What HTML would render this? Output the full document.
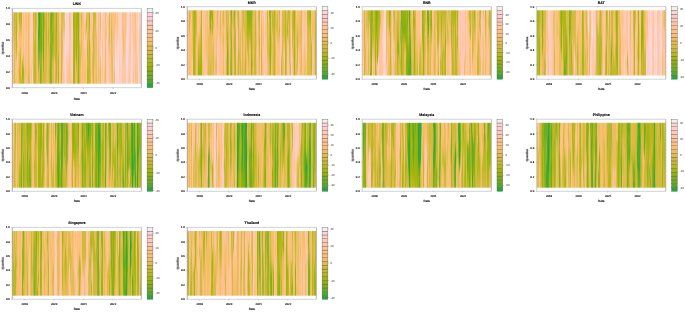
<!DOCTYPE html>
<html><head><meta charset="utf-8"><style>
html,body{margin:0;padding:0;background:#fff;width:685px;height:312px;overflow:hidden}
svg{position:absolute;left:0;top:0}
text{font-family:"Liberation Sans",Arial,sans-serif;fill:#111;stroke:#111;stroke-width:0.14px;filter:url(#tb)}
.t{font-size:2.8px}
.l{font-size:3px}
.k{font-size:2.9px;fill:#666;stroke:#666;stroke-width:0.06px}
.m{font-size:3.55px;font-weight:bold}
</style></head><body>
<svg width="685" height="312" viewBox="0 0 685 312" text-rendering="geometricPrecision">
<defs><filter id="tb" x="-20%" y="-50%" width="140%" height="200%"><feGaussianBlur stdDeviation="0.33"/></filter><filter id="hb" x="-5%" y="-10%" width="110%" height="120%"><feGaussianBlur stdDeviation="0.55 2"/></filter></defs>
<clipPath id="cLINK"><rect x="12.3" y="12.37" width="129.1" height="71.37"/></clipPath>
<g clip-path="url(#cLINK)"><g filter="url(#hb)">
<linearGradient id="gLINK0" x1="0" y1="0" x2="0" y2="1"><stop offset="6.25%" stop-color="#DFBB4B"/><stop offset="18.75%" stop-color="#E3BB51"/><stop offset="31.25%" stop-color="#ECBD5C"/><stop offset="43.75%" stop-color="#FCBF72"/><stop offset="56.25%" stop-color="#FFC391"/><stop offset="68.75%" stop-color="#FFC497"/><stop offset="81.25%" stop-color="#FFC181"/><stop offset="93.75%" stop-color="#FDC077"/></linearGradient>
<rect x="9.3" y="9.37" width="8.02" height="77.37" fill="url(#gLINK0)"/>
<linearGradient id="gLINK1" x1="0" y1="0" x2="0" y2="1"><stop offset="6.25%" stop-color="#B8B61E"/><stop offset="18.75%" stop-color="#CCB934"/><stop offset="31.25%" stop-color="#EFBD61"/><stop offset="43.75%" stop-color="#FDC077"/><stop offset="56.25%" stop-color="#FDC077"/><stop offset="68.75%" stop-color="#FCBF72"/><stop offset="81.25%" stop-color="#F4BE67"/><stop offset="93.75%" stop-color="#F0BD62"/></linearGradient>
<rect x="17.27" y="9.37" width="5.02" height="77.37" fill="url(#gLINK1)"/>
<linearGradient id="gLINK2" x1="0" y1="0" x2="0" y2="1"><stop offset="6.25%" stop-color="#FDC077"/><stop offset="18.75%" stop-color="#FDC077"/><stop offset="31.25%" stop-color="#FDC077"/><stop offset="43.75%" stop-color="#FDC077"/><stop offset="56.25%" stop-color="#FDC077"/><stop offset="68.75%" stop-color="#F8BE6C"/><stop offset="81.25%" stop-color="#E7BC56"/><stop offset="93.75%" stop-color="#DFBB4B"/></linearGradient>
<rect x="22.23" y="9.37" width="5.02" height="77.37" fill="url(#gLINK2)"/>
<linearGradient id="gLINK3" x1="0" y1="0" x2="0" y2="1"><stop offset="6.25%" stop-color="#FDC077"/><stop offset="18.75%" stop-color="#FEC07C"/><stop offset="31.25%" stop-color="#FFC287"/><stop offset="43.75%" stop-color="#FFC28C"/><stop offset="56.25%" stop-color="#FFC28C"/><stop offset="68.75%" stop-color="#FEC07C"/><stop offset="81.25%" stop-color="#ECBD5C"/><stop offset="93.75%" stop-color="#DFBB4B"/></linearGradient>
<rect x="27.2" y="9.37" width="5.02" height="77.37" fill="url(#gLINK3)"/>
<linearGradient id="gLINK4" x1="0" y1="0" x2="0" y2="1"><stop offset="6.25%" stop-color="#FDC077"/><stop offset="18.75%" stop-color="#FDC077"/><stop offset="31.25%" stop-color="#FDC077"/><stop offset="43.75%" stop-color="#FCBF72"/><stop offset="56.25%" stop-color="#F4BE67"/><stop offset="68.75%" stop-color="#ECBD5C"/><stop offset="81.25%" stop-color="#E3BB51"/><stop offset="93.75%" stop-color="#DFBB4B"/></linearGradient>
<rect x="32.16" y="9.37" width="5.02" height="77.37" fill="url(#gLINK4)"/>
<linearGradient id="gLINK5" x1="0" y1="0" x2="0" y2="1"><stop offset="6.25%" stop-color="#A2B40A"/><stop offset="18.75%" stop-color="#9DB308"/><stop offset="31.25%" stop-color="#92B106"/><stop offset="43.75%" stop-color="#9DB308"/><stop offset="56.25%" stop-color="#BDB724"/><stop offset="68.75%" stop-color="#D1BA3B"/><stop offset="81.25%" stop-color="#DABB46"/><stop offset="93.75%" stop-color="#DFBB4B"/></linearGradient>
<rect x="37.13" y="9.37" width="5.02" height="77.37" fill="url(#gLINK5)"/>
<linearGradient id="gLINK6" x1="0" y1="0" x2="0" y2="1"><stop offset="6.25%" stop-color="#A2B40A"/><stop offset="18.75%" stop-color="#A2B40A"/><stop offset="31.25%" stop-color="#A2B40A"/><stop offset="43.75%" stop-color="#ADB514"/><stop offset="56.25%" stop-color="#C2B829"/><stop offset="68.75%" stop-color="#CCB935"/><stop offset="81.25%" stop-color="#CCB935"/><stop offset="93.75%" stop-color="#CCB935"/></linearGradient>
<rect x="42.09" y="9.37" width="5.02" height="77.37" fill="url(#gLINK6)"/>
<linearGradient id="gLINK7" x1="0" y1="0" x2="0" y2="1"><stop offset="6.25%" stop-color="#B8B61E"/><stop offset="18.75%" stop-color="#B8B61E"/><stop offset="31.25%" stop-color="#B8B61E"/><stop offset="43.75%" stop-color="#BDB724"/><stop offset="56.25%" stop-color="#C7B82F"/><stop offset="68.75%" stop-color="#CCB935"/><stop offset="81.25%" stop-color="#CCB935"/><stop offset="93.75%" stop-color="#CCB935"/></linearGradient>
<rect x="47.06" y="9.37" width="5.02" height="77.37" fill="url(#gLINK7)"/>
<linearGradient id="gLINK8" x1="0" y1="0" x2="0" y2="1"><stop offset="6.25%" stop-color="#CCB935"/><stop offset="18.75%" stop-color="#CCB935"/><stop offset="31.25%" stop-color="#CCB935"/><stop offset="43.75%" stop-color="#CCB935"/><stop offset="56.25%" stop-color="#CCB935"/><stop offset="68.75%" stop-color="#D1BA3B"/><stop offset="81.25%" stop-color="#DABB46"/><stop offset="93.75%" stop-color="#DFBB4B"/></linearGradient>
<rect x="52.02" y="9.37" width="5.02" height="77.37" fill="url(#gLINK8)"/>
<linearGradient id="gLINK9" x1="0" y1="0" x2="0" y2="1"><stop offset="6.25%" stop-color="#DFBB4B"/><stop offset="18.75%" stop-color="#DFBB4B"/><stop offset="31.25%" stop-color="#DFBB4B"/><stop offset="43.75%" stop-color="#DFBB4B"/><stop offset="56.25%" stop-color="#DFBB4B"/><stop offset="68.75%" stop-color="#E3BB51"/><stop offset="81.25%" stop-color="#ECBD5C"/><stop offset="93.75%" stop-color="#F0BD62"/></linearGradient>
<rect x="56.99" y="9.37" width="5.02" height="77.37" fill="url(#gLINK9)"/>
<linearGradient id="gLINK10" x1="0" y1="0" x2="0" y2="1"><stop offset="6.25%" stop-color="#FFC5A2"/><stop offset="18.75%" stop-color="#FFC5A2"/><stop offset="31.25%" stop-color="#FFC5A2"/><stop offset="43.75%" stop-color="#FFC6A7"/><stop offset="56.25%" stop-color="#FFC8B1"/><stop offset="68.75%" stop-color="#FFC8B1"/><stop offset="81.25%" stop-color="#FFC6A7"/><stop offset="93.75%" stop-color="#FFC5A2"/></linearGradient>
<rect x="61.95" y="9.37" width="5.02" height="77.37" fill="url(#gLINK10)"/>
<linearGradient id="gLINK11" x1="0" y1="0" x2="0" y2="1"><stop offset="6.25%" stop-color="#FFC9B6"/><stop offset="18.75%" stop-color="#FFCABB"/><stop offset="31.25%" stop-color="#FFCCC4"/><stop offset="43.75%" stop-color="#FFCCC4"/><stop offset="56.25%" stop-color="#FFCABB"/><stop offset="68.75%" stop-color="#FFC7AC"/><stop offset="81.25%" stop-color="#FFC497"/><stop offset="93.75%" stop-color="#FFC28C"/></linearGradient>
<rect x="66.92" y="9.37" width="5.02" height="77.37" fill="url(#gLINK11)"/>
<linearGradient id="gLINK12" x1="0" y1="0" x2="0" y2="1"><stop offset="6.25%" stop-color="#B8B61E"/><stop offset="18.75%" stop-color="#BDB724"/><stop offset="31.25%" stop-color="#C7B82F"/><stop offset="43.75%" stop-color="#D6BA40"/><stop offset="56.25%" stop-color="#E7BC56"/><stop offset="68.75%" stop-color="#F0BD62"/><stop offset="81.25%" stop-color="#F0BD62"/><stop offset="93.75%" stop-color="#F0BD62"/></linearGradient>
<rect x="71.88" y="9.37" width="5.02" height="77.37" fill="url(#gLINK12)"/>
<linearGradient id="gLINK13" x1="0" y1="0" x2="0" y2="1"><stop offset="6.25%" stop-color="#A2B40A"/><stop offset="18.75%" stop-color="#ADB514"/><stop offset="31.25%" stop-color="#C2B829"/><stop offset="43.75%" stop-color="#D1BA3B"/><stop offset="56.25%" stop-color="#DABB46"/><stop offset="68.75%" stop-color="#DABB46"/><stop offset="81.25%" stop-color="#D1BA3B"/><stop offset="93.75%" stop-color="#CCB935"/></linearGradient>
<rect x="76.85" y="9.37" width="5.02" height="77.37" fill="url(#gLINK13)"/>
<linearGradient id="gLINK14" x1="0" y1="0" x2="0" y2="1"><stop offset="6.25%" stop-color="#FDC077"/><stop offset="18.75%" stop-color="#FDC077"/><stop offset="31.25%" stop-color="#FDC077"/><stop offset="43.75%" stop-color="#FDC077"/><stop offset="56.25%" stop-color="#FDC077"/><stop offset="68.75%" stop-color="#FDC077"/><stop offset="81.25%" stop-color="#FDC077"/><stop offset="93.75%" stop-color="#FDC077"/></linearGradient>
<rect x="81.82" y="9.37" width="5.02" height="77.37" fill="url(#gLINK14)"/>
<linearGradient id="gLINK15" x1="0" y1="0" x2="0" y2="1"><stop offset="6.25%" stop-color="#F0BD62"/><stop offset="18.75%" stop-color="#F4BE67"/><stop offset="31.25%" stop-color="#FCBF72"/><stop offset="43.75%" stop-color="#FCBF72"/><stop offset="56.25%" stop-color="#F4BE67"/><stop offset="68.75%" stop-color="#ECBD5C"/><stop offset="81.25%" stop-color="#E3BB51"/><stop offset="93.75%" stop-color="#DFBB4B"/></linearGradient>
<rect x="86.78" y="9.37" width="5.02" height="77.37" fill="url(#gLINK15)"/>
<linearGradient id="gLINK16" x1="0" y1="0" x2="0" y2="1"><stop offset="6.25%" stop-color="#CCB935"/><stop offset="18.75%" stop-color="#DEBB4A"/><stop offset="31.25%" stop-color="#FDC076"/><stop offset="43.75%" stop-color="#FFC287"/><stop offset="56.25%" stop-color="#FEC07C"/><stop offset="68.75%" stop-color="#FDC077"/><stop offset="81.25%" stop-color="#FDC077"/><stop offset="93.75%" stop-color="#FDC077"/></linearGradient>
<rect x="91.75" y="9.37" width="5.02" height="77.37" fill="url(#gLINK16)"/>
<linearGradient id="gLINK17" x1="0" y1="0" x2="0" y2="1"><stop offset="6.25%" stop-color="#FFC5A2"/><stop offset="18.75%" stop-color="#FFC5A2"/><stop offset="31.25%" stop-color="#FFC5A2"/><stop offset="43.75%" stop-color="#FFC5A2"/><stop offset="56.25%" stop-color="#FFC5A2"/><stop offset="68.75%" stop-color="#FFC59C"/><stop offset="81.25%" stop-color="#FFC391"/><stop offset="93.75%" stop-color="#FFC28C"/></linearGradient>
<rect x="96.71" y="9.37" width="5.02" height="77.37" fill="url(#gLINK17)"/>
<linearGradient id="gLINK18" x1="0" y1="0" x2="0" y2="1"><stop offset="6.25%" stop-color="#FFC28C"/><stop offset="18.75%" stop-color="#FFC28C"/><stop offset="31.25%" stop-color="#FFC28C"/><stop offset="43.75%" stop-color="#FFC28C"/><stop offset="56.25%" stop-color="#FFC28C"/><stop offset="68.75%" stop-color="#FFC287"/><stop offset="81.25%" stop-color="#FEC07C"/><stop offset="93.75%" stop-color="#FDC077"/></linearGradient>
<rect x="101.68" y="9.37" width="5.02" height="77.37" fill="url(#gLINK18)"/>
<linearGradient id="gLINK19" x1="0" y1="0" x2="0" y2="1"><stop offset="6.25%" stop-color="#FFC9B6"/><stop offset="18.75%" stop-color="#FFC7AC"/><stop offset="31.25%" stop-color="#FFC497"/><stop offset="43.75%" stop-color="#FFC28C"/><stop offset="56.25%" stop-color="#FFC28C"/><stop offset="68.75%" stop-color="#FFC28C"/><stop offset="81.25%" stop-color="#FFC28C"/><stop offset="93.75%" stop-color="#FFC28C"/></linearGradient>
<rect x="106.64" y="9.37" width="5.02" height="77.37" fill="url(#gLINK19)"/>
<linearGradient id="gLINK20" x1="0" y1="0" x2="0" y2="1"><stop offset="6.25%" stop-color="#FDC077"/><stop offset="18.75%" stop-color="#FDC077"/><stop offset="31.25%" stop-color="#FDC077"/><stop offset="43.75%" stop-color="#FFC287"/><stop offset="56.25%" stop-color="#FFC6A7"/><stop offset="68.75%" stop-color="#FFC8B1"/><stop offset="81.25%" stop-color="#FFC6A7"/><stop offset="93.75%" stop-color="#FFC5A2"/></linearGradient>
<rect x="111.61" y="9.37" width="5.02" height="77.37" fill="url(#gLINK20)"/>
<linearGradient id="gLINK21" x1="0" y1="0" x2="0" y2="1"><stop offset="6.25%" stop-color="#FFC28C"/><stop offset="18.75%" stop-color="#FFC28C"/><stop offset="31.25%" stop-color="#FFC28C"/><stop offset="43.75%" stop-color="#FFC391"/><stop offset="56.25%" stop-color="#FFC59C"/><stop offset="68.75%" stop-color="#FFC59C"/><stop offset="81.25%" stop-color="#FFC391"/><stop offset="93.75%" stop-color="#FFC28C"/></linearGradient>
<rect x="116.57" y="9.37" width="5.02" height="77.37" fill="url(#gLINK21)"/>
<linearGradient id="gLINK22" x1="0" y1="0" x2="0" y2="1"><stop offset="6.25%" stop-color="#FFC5A2"/><stop offset="18.75%" stop-color="#FFC6A7"/><stop offset="31.25%" stop-color="#FFC8B1"/><stop offset="43.75%" stop-color="#FFC9B6"/><stop offset="56.25%" stop-color="#FFC9B6"/><stop offset="68.75%" stop-color="#FFC8B1"/><stop offset="81.25%" stop-color="#FFC6A7"/><stop offset="93.75%" stop-color="#FFC5A2"/></linearGradient>
<rect x="121.54" y="9.37" width="5.02" height="77.37" fill="url(#gLINK22)"/>
<linearGradient id="gLINK23" x1="0" y1="0" x2="0" y2="1"><stop offset="6.25%" stop-color="#FFCDC9"/><stop offset="18.75%" stop-color="#FFCDC9"/><stop offset="31.25%" stop-color="#FFCDC9"/><stop offset="43.75%" stop-color="#FFCDC9"/><stop offset="56.25%" stop-color="#FFCDC9"/><stop offset="68.75%" stop-color="#FFCCC4"/><stop offset="81.25%" stop-color="#FFCABB"/><stop offset="93.75%" stop-color="#FFC9B6"/></linearGradient>
<rect x="126.5" y="9.37" width="5.02" height="77.37" fill="url(#gLINK23)"/>
<linearGradient id="gLINK24" x1="0" y1="0" x2="0" y2="1"><stop offset="6.25%" stop-color="#FFC5A2"/><stop offset="18.75%" stop-color="#FFC5A2"/><stop offset="31.25%" stop-color="#FFC5A2"/><stop offset="43.75%" stop-color="#FFC7AC"/><stop offset="56.25%" stop-color="#FFCBBF"/><stop offset="68.75%" stop-color="#FFCDC9"/><stop offset="81.25%" stop-color="#FFCDC9"/><stop offset="93.75%" stop-color="#FFCDC9"/></linearGradient>
<rect x="131.47" y="9.37" width="5.02" height="77.37" fill="url(#gLINK24)"/>
<linearGradient id="gLINK25" x1="0" y1="0" x2="0" y2="1"><stop offset="6.25%" stop-color="#FFC28C"/><stop offset="18.75%" stop-color="#FFC28C"/><stop offset="31.25%" stop-color="#FFC28C"/><stop offset="43.75%" stop-color="#FFC391"/><stop offset="56.25%" stop-color="#FFC59C"/><stop offset="68.75%" stop-color="#FFC5A2"/><stop offset="81.25%" stop-color="#FFC5A2"/><stop offset="93.75%" stop-color="#FFC5A2"/></linearGradient>
<rect x="136.43" y="9.37" width="7.97" height="77.37" fill="url(#gLINK25)"/>
<path d="M12.0 9.4L12.1 18.2L11.8 24.0L11.6 29.8L12.1 35.6L12.4 41.4L12.2 47.2L12.2 47.2L12.7 41.4L12.9 35.6L12.8 29.8L13.1 24.0L13.2 18.2L13.4 9.4Z" fill="#FFC7AA" fill-opacity="0.92"/>
<path d="M14.2 9.4L14.2 24.3L14.2 36.2L14.4 48.1L14.3 59.9L14.0 71.8L13.9 86.7L14.8 86.7L14.7 71.8L15.1 59.9L15.4 48.1L15.1 36.2L15.3 24.3L15.1 9.4Z" fill="#C9B931" fill-opacity="0.92"/>
<path d="M15.6 9.4L15.8 21.0L15.8 29.5L15.7 38.1L15.9 46.7L16.0 55.3L15.9 63.9L16.0 63.9L16.6 55.3L17.2 46.7L16.9 38.1L17.3 29.5L16.7 21.0L16.7 9.4Z" fill="#B1B617" fill-opacity="0.92"/>
<path d="M17.4 9.4L17.8 19.0L17.8 25.7L17.6 32.3L17.6 39.0L18.0 45.6L18.6 52.3L18.6 52.3L18.6 45.6L18.5 39.0L18.8 32.3L19.0 25.7L18.6 19.0L18.6 9.4Z" fill="#FFC7AC" fill-opacity="0.92"/>
<path d="M20.0 44.6L19.9 51.1L19.6 57.7L19.5 64.2L19.1 70.7L19.3 77.2L19.6 86.7L20.5 86.7L21.0 77.2L20.6 70.7L20.8 64.2L21.0 57.7L20.6 51.1L20.1 44.6Z" fill="#B7B61D" fill-opacity="0.92"/>
<path d="M22.3 61.5L22.3 65.2L22.0 68.9L21.9 72.6L21.7 76.3L21.4 80.0L21.7 86.7L22.4 86.7L22.5 80.0L22.8 76.3L23.0 72.6L22.9 68.9L22.7 65.2L22.3 61.5Z" fill="#ADB513" fill-opacity="0.92"/>
<path d="M23.1 54.4L22.7 59.3L22.3 64.2L22.3 69.1L22.6 74.0L22.6 78.8L22.6 86.7L23.3 86.7L23.7 78.8L23.9 74.0L23.8 69.1L23.2 64.2L23.3 59.3L23.2 54.4Z" fill="#96B207" fill-opacity="0.92"/>
<path d="M24.3 9.4L24.3 24.3L24.5 36.2L24.2 48.1L24.3 59.9L24.6 71.8L24.6 86.7L25.6 86.7L25.2 71.8L24.9 59.9L25.1 48.1L25.5 36.2L25.2 24.3L25.1 9.4Z" fill="#FFCABE" fill-opacity="0.92"/>
<path d="M26.7 49.6L26.6 55.3L25.9 61.0L26.2 66.7L26.4 72.4L25.6 78.1L25.7 86.7L27.8 86.7L28.0 78.1L27.6 72.4L27.9 66.7L28.0 61.0L27.1 55.3L26.8 49.6Z" fill="#FFC390" fill-opacity="0.92"/>
<path d="M28.2 9.4L28.4 24.3L28.0 36.2L28.2 48.1L28.0 59.9L27.9 71.8L27.8 86.7L28.6 86.7L28.5 71.8L28.7 59.9L29.1 48.1L28.7 36.2L29.0 24.3L28.7 9.4Z" fill="#DDBB49" fill-opacity="0.92"/>
<path d="M29.8 9.4L30.0 24.3L30.2 36.2L30.6 48.1L30.3 59.9L30.3 71.8L30.2 86.7L31.2 86.7L30.8 71.8L30.9 59.9L31.1 48.1L31.0 36.2L30.7 24.3L30.4 9.4Z" fill="#FBDBE0" fill-opacity="0.92"/>
<path d="M30.6 9.4L31.3 24.3L31.3 36.2L31.5 48.1L31.5 59.9L31.6 71.8L31.4 86.7L33.4 86.7L32.9 71.8L32.4 59.9L32.5 48.1L32.6 36.2L32.6 24.3L32.7 9.4Z" fill="#FFD1D5" fill-opacity="0.92"/>
<path d="M33.0 9.4L33.4 24.3L33.4 36.2L33.5 48.1L33.7 59.9L33.7 71.8L33.8 86.7L35.3 86.7L35.1 71.8L34.7 59.9L34.9 48.1L34.4 36.2L34.3 24.3L34.4 9.4Z" fill="#B4B61A" fill-opacity="0.92"/>
<path d="M34.7 9.4L34.8 24.3L35.2 36.2L34.6 48.1L35.2 59.9L35.2 71.8L35.8 86.7L37.1 86.7L37.0 71.8L36.3 59.9L36.5 48.1L36.2 36.2L36.7 24.3L36.5 9.4Z" fill="#B9B71F" fill-opacity="0.92"/>
<path d="M36.9 9.4L37.1 24.3L36.8 36.2L36.5 48.1L36.6 59.9L36.4 71.8L36.4 86.7L37.6 86.7L37.7 71.8L37.6 59.9L37.7 48.1L38.1 36.2L38.2 24.3L37.8 9.4Z" fill="#FFC185" fill-opacity="0.92"/>
<path d="M38.1 9.4L38.7 22.3L38.2 32.2L38.4 42.2L38.5 52.1L38.6 62.1L38.7 72.0L38.8 72.0L39.3 62.1L39.5 52.1L39.5 42.2L39.8 32.2L40.0 22.3L40.0 9.4Z" fill="#2CA638" fill-opacity="0.92"/>
<path d="M40.1 9.4L40.1 24.3L40.3 36.2L40.3 48.1L40.5 59.9L40.1 71.8L40.3 86.7L41.5 86.7L41.6 71.8L41.4 59.9L42.0 48.1L41.8 36.2L41.7 24.3L41.5 9.4Z" fill="#6AAC1F" fill-opacity="0.92"/>
<path d="M42.8 9.4L43.0 22.3L43.3 32.3L42.8 42.2L42.9 52.2L43.1 62.1L43.5 72.1L43.6 72.1L43.8 62.1L43.9 52.2L44.5 42.2L44.4 32.3L44.1 22.3L44.1 9.4Z" fill="#68AC20" fill-opacity="0.92"/>
<path d="M44.4 9.4L44.7 24.3L44.1 36.2L44.3 48.1L44.1 59.9L44.6 71.8L44.6 86.7L45.6 86.7L45.6 71.8L45.6 59.9L45.9 48.1L45.9 36.2L45.7 24.3L46.2 9.4Z" fill="#E6BC55" fill-opacity="0.92"/>
<path d="M46.6 9.4L46.6 24.3L46.8 36.2L46.9 48.1L46.7 59.9L46.6 71.8L46.1 86.7L48.7 86.7L48.6 71.8L48.7 59.9L48.4 48.1L48.1 36.2L48.5 24.3L48.0 9.4Z" fill="#F4BE67" fill-opacity="0.92"/>
<path d="M49.2 9.4L48.8 21.2L49.2 30.0L49.0 38.8L49.2 47.6L49.1 56.4L49.6 65.2L49.7 65.2L49.7 56.4L49.9 47.6L50.6 38.8L49.9 30.0L50.1 21.2L50.0 9.4Z" fill="#E8BC57" fill-opacity="0.92"/>
<path d="M50.7 9.4L50.5 24.3L50.5 36.2L50.5 48.1L50.5 59.9L50.2 71.8L50.4 86.7L51.7 86.7L51.4 71.8L51.6 59.9L51.7 48.1L51.3 36.2L51.8 24.3L52.0 9.4Z" fill="#58AA28" fill-opacity="0.92"/>
<path d="M52.1 9.4L52.5 20.6L52.5 28.8L51.8 37.0L52.4 45.3L52.5 53.5L52.7 61.7L52.7 61.7L53.1 53.5L53.2 45.3L53.5 37.0L53.4 28.8L53.4 20.6L53.9 9.4Z" fill="#78AE16" fill-opacity="0.92"/>
<path d="M55.0 52.2L54.7 57.5L53.7 62.7L53.9 68.0L53.9 73.2L54.2 78.5L53.6 86.7L55.6 86.7L55.5 78.5L55.4 73.2L56.1 68.0L55.7 62.7L55.1 57.5L55.1 52.2Z" fill="#FFC287" fill-opacity="0.92"/>
<path d="M56.2 9.4L56.0 24.3L55.7 36.2L55.9 48.1L55.6 59.9L55.7 71.8L55.6 86.7L56.1 86.7L56.6 71.8L56.3 59.9L56.6 48.1L56.5 36.2L56.9 24.3L56.8 9.4Z" fill="#8AB00B" fill-opacity="0.92"/>
<path d="M58.3 53.0L58.1 58.1L58.2 63.3L58.4 68.4L58.0 73.5L58.1 78.6L58.0 86.7L59.2 86.7L59.3 78.6L59.5 73.5L59.3 68.4L59.1 63.3L58.8 58.1L58.4 53.0Z" fill="#A0B309" fill-opacity="0.92"/>
<path d="M59.3 9.4L59.0 24.3L59.4 36.2L59.5 48.1L59.1 59.9L59.0 71.8L58.8 86.7L61.6 86.7L61.4 71.8L61.5 59.9L61.5 48.1L61.2 36.2L61.8 24.3L61.4 9.4Z" fill="#FFC392" fill-opacity="0.92"/>
<path d="M61.6 9.4L61.5 24.3L61.2 36.2L61.4 48.1L61.1 59.9L60.9 71.8L60.7 86.7L62.0 86.7L62.2 71.8L62.6 59.9L62.8 48.1L62.6 36.2L62.7 24.3L63.1 9.4Z" fill="#C8B930" fill-opacity="0.92"/>
<path d="M63.1 9.4L63.2 16.4L63.3 20.4L63.4 24.4L63.4 28.4L63.7 32.4L64.2 36.4L64.3 36.4L64.2 32.4L64.6 28.4L64.8 24.4L64.4 20.4L64.3 16.4L64.8 9.4Z" fill="#D2BA3B" fill-opacity="0.92"/>
<path d="M65.1 9.4L65.3 24.3L65.0 36.2L64.6 48.1L64.7 59.9L64.7 71.8L65.0 86.7L66.3 86.7L66.3 71.8L65.8 59.9L66.6 48.1L66.6 36.2L66.7 24.3L66.7 9.4Z" fill="#FBDBE1" fill-opacity="0.92"/>
<path d="M67.4 9.4L67.3 20.7L67.5 29.0L67.6 37.4L67.6 45.7L67.9 54.0L68.4 62.3L68.5 62.3L68.4 54.0L68.8 45.7L69.2 37.4L68.8 29.0L68.5 20.7L68.8 9.4Z" fill="#FBDBE1" fill-opacity="0.92"/>
<path d="M69.4 9.4L69.1 24.3L69.2 36.2L69.6 48.1L69.3 59.9L69.5 71.8L69.2 86.7L70.4 86.7L70.2 71.8L70.4 59.9L70.4 48.1L70.4 36.2L70.3 24.3L70.3 9.4Z" fill="#FCBF74" fill-opacity="0.92"/>
<path d="M71.3 9.4L71.7 24.3L71.5 36.2L71.7 48.1L71.2 59.9L71.4 71.8L71.9 86.7L73.5 86.7L73.7 71.8L73.4 59.9L72.9 48.1L73.3 36.2L73.0 24.3L73.1 9.4Z" fill="#FFD2D9" fill-opacity="0.92"/>
<path d="M73.0 9.4L73.1 24.3L73.4 36.2L73.1 48.1L72.9 59.9L73.0 71.8L72.8 86.7L75.0 86.7L75.1 71.8L75.1 59.9L75.0 48.1L75.1 36.2L75.3 24.3L75.0 9.4Z" fill="#A5B40C" fill-opacity="0.92"/>
<path d="M76.3 9.4L76.2 23.0L76.1 33.6L75.6 44.3L75.6 54.9L76.1 65.6L76.3 76.2L76.4 76.2L76.5 65.6L77.1 54.9L77.5 44.3L77.1 33.6L77.4 23.0L77.3 9.4Z" fill="#9AB208" fill-opacity="0.92"/>
<path d="M78.2 9.4L78.1 24.3L78.2 36.2L78.5 48.1L78.1 59.9L78.2 71.8L78.0 86.7L79.0 86.7L78.8 71.8L79.2 59.9L79.3 48.1L79.2 36.2L78.7 24.3L79.0 9.4Z" fill="#76AE17" fill-opacity="0.92"/>
<path d="M79.4 9.4L79.2 19.3L79.5 26.2L79.3 33.1L79.3 40.0L80.1 46.9L80.4 53.8L80.5 53.8L80.6 46.9L81.2 40.0L81.5 33.1L81.4 26.2L81.0 19.3L81.3 9.4Z" fill="#FFC181" fill-opacity="0.92"/>
<path d="M81.8 55.5L81.3 60.2L80.8 64.9L80.2 69.6L80.4 74.3L80.3 79.0L80.3 86.7L82.2 86.7L82.3 79.0L81.8 74.3L82.4 69.6L82.0 64.9L82.0 60.2L81.9 55.5Z" fill="#FFC28A" fill-opacity="0.92"/>
<path d="M83.6 9.4L83.9 20.5L84.6 28.7L83.9 36.9L83.8 45.1L84.7 53.3L85.0 61.5L85.2 61.5L85.8 53.3L86.1 45.1L86.5 36.9L86.0 28.7L86.1 20.5L86.0 9.4Z" fill="#FFCABC" fill-opacity="0.92"/>
<path d="M86.5 9.4L86.5 17.0L85.9 21.6L85.7 26.2L85.5 30.8L85.6 35.4L85.6 40.0L85.7 40.0L85.9 35.4L86.6 30.8L87.1 26.2L87.1 21.6L87.2 17.0L87.4 9.4Z" fill="#BEB725" fill-opacity="0.92"/>
<path d="M88.2 22.8L87.9 32.9L87.4 43.1L87.1 53.3L87.6 63.4L87.1 73.6L87.5 86.7L88.5 86.7L88.2 73.6L88.1 63.4L88.1 53.3L88.1 43.1L88.2 32.9L88.3 22.8Z" fill="#AFB516" fill-opacity="0.92"/>
<path d="M88.6 9.4L88.8 24.3L88.6 36.2L88.8 48.1L88.6 59.9L88.6 71.8L88.5 86.7L89.2 86.7L89.7 71.8L89.7 59.9L90.0 48.1L89.9 36.2L90.0 24.3L89.7 9.4Z" fill="#A3B40A" fill-opacity="0.92"/>
<path d="M89.8 9.4L90.1 18.5L90.1 24.6L89.8 30.8L89.5 36.9L90.3 43.0L90.6 49.2L90.6 49.2L90.8 43.0L90.9 36.9L91.2 30.8L91.3 24.6L91.8 18.5L91.5 9.4Z" fill="#FFC59F" fill-opacity="0.92"/>
<path d="M91.8 9.4L91.9 24.3L91.9 36.2L92.1 48.1L91.5 59.9L91.4 71.8L91.4 86.7L92.5 86.7L92.4 71.8L92.9 59.9L93.0 48.1L92.7 36.2L93.0 24.3L93.3 9.4Z" fill="#FFC9BA" fill-opacity="0.92"/>
<path d="M92.8 9.4L93.1 24.3L92.4 36.2L92.7 48.1L92.3 59.9L92.4 71.8L92.9 86.7L93.9 86.7L93.9 71.8L94.5 59.9L94.6 48.1L94.6 36.2L94.4 24.3L94.7 9.4Z" fill="#C8B930" fill-opacity="0.92"/>
<path d="M95.7 9.4L95.6 24.3L95.5 36.2L95.6 48.1L95.7 59.9L95.9 71.8L95.8 86.7L96.8 86.7L96.6 71.8L96.5 59.9L96.6 48.1L96.6 36.2L96.4 24.3L96.5 9.4Z" fill="#CBB934" fill-opacity="0.92"/>
<path d="M96.2 9.4L96.2 16.2L96.3 20.0L96.4 23.8L96.0 27.6L96.4 31.4L96.8 35.3L96.9 35.3L97.4 31.4L98.1 27.6L98.3 23.8L98.1 20.0L98.4 16.2L98.6 9.4Z" fill="#FFC8B2" fill-opacity="0.92"/>
<path d="M98.7 9.4L98.6 24.3L98.6 36.2L98.2 48.1L98.0 59.9L98.0 71.8L98.3 86.7L99.5 86.7L99.3 71.8L98.9 59.9L99.1 48.1L99.3 36.2L99.2 24.3L99.4 9.4Z" fill="#F0BD62" fill-opacity="0.92"/>
<path d="M100.1 9.4L100.3 24.3L100.7 36.2L100.7 48.1L100.4 59.9L100.0 71.8L100.4 86.7L100.9 86.7L100.8 71.8L100.9 59.9L101.2 48.1L101.4 36.2L101.1 24.3L100.7 9.4Z" fill="#D7BA42" fill-opacity="0.92"/>
<path d="M101.3 9.4L101.4 22.3L101.1 32.3L100.9 42.3L100.4 52.2L101.0 62.2L101.6 72.2L101.7 72.2L101.6 62.2L102.0 52.2L102.1 42.3L102.4 32.3L102.7 22.3L103.2 9.4Z" fill="#FFD2DA" fill-opacity="0.92"/>
<path d="M103.4 9.4L103.6 24.3L103.3 36.2L102.8 48.1L102.7 59.9L102.8 71.8L102.1 86.7L104.2 86.7L104.1 71.8L104.8 59.9L105.0 48.1L104.4 36.2L104.8 24.3L104.6 9.4Z" fill="#FFCBBF" fill-opacity="0.92"/>
<path d="M105.2 9.4L105.5 24.3L105.5 36.2L105.2 48.1L105.1 59.9L105.1 71.8L105.5 86.7L106.3 86.7L106.3 71.8L106.5 59.9L106.4 48.1L106.8 36.2L106.3 24.3L106.3 9.4Z" fill="#E7BC56" fill-opacity="0.92"/>
<path d="M107.5 20.0L106.9 30.7L106.1 41.3L106.4 51.9L106.4 62.5L106.6 73.1L106.5 86.7L109.4 86.7L108.9 73.1L108.4 62.5L108.5 51.9L108.6 41.3L107.9 30.7L107.6 20.0Z" fill="#FFCECB" fill-opacity="0.92"/>
<path d="M109.3 9.4L108.6 19.6L108.7 26.8L108.9 34.1L108.6 41.3L108.7 48.6L108.7 55.8L108.8 55.8L109.4 48.6L109.8 41.3L110.1 34.1L110.0 26.8L110.1 19.6L110.0 9.4Z" fill="#D5BA3F" fill-opacity="0.92"/>
<path d="M111.1 9.4L110.8 24.3L111.0 36.2L111.3 48.1L111.3 59.9L111.5 71.8L111.7 86.7L112.3 86.7L112.3 71.8L112.4 59.9L112.0 48.1L112.1 36.2L111.8 24.3L111.7 9.4Z" fill="#D3BA3D" fill-opacity="0.92"/>
<path d="M112.8 29.2L112.6 38.3L112.1 47.4L111.7 56.5L111.6 65.6L112.0 74.6L111.9 86.7L113.4 86.7L113.2 74.6L113.1 65.6L112.9 56.5L112.8 47.4L112.9 38.3L112.9 29.2Z" fill="#EABC5A" fill-opacity="0.92"/>
<path d="M114.1 41.0L113.9 48.1L114.0 55.3L114.1 62.4L114.4 69.5L114.3 76.6L114.4 86.7L114.9 86.7L115.2 76.6L115.1 69.5L114.7 62.4L114.8 55.3L114.2 48.1L114.1 41.0Z" fill="#DEBB4A" fill-opacity="0.92"/>
<path d="M115.7 22.1L115.2 32.4L114.8 42.7L114.8 52.9L114.5 63.2L114.9 73.5L115.0 86.7L116.4 86.7L116.3 73.5L116.7 63.2L116.1 52.9L115.8 42.7L115.9 32.4L115.8 22.1Z" fill="#FBDBE1" fill-opacity="0.92"/>
<path d="M117.6 37.6L117.0 45.3L117.2 53.0L116.8 60.7L116.3 68.4L116.8 76.0L117.0 86.7L117.7 86.7L118.0 76.0L118.0 68.4L117.6 60.7L117.9 53.0L117.6 45.3L117.7 37.6Z" fill="#FBDBE1" fill-opacity="0.92"/>
<path d="M118.3 9.4L118.6 24.3L118.2 36.2L118.0 48.1L118.1 59.9L118.0 71.8L118.2 86.7L119.2 86.7L119.2 71.8L119.5 59.9L119.1 48.1L119.4 36.2L119.7 24.3L119.4 9.4Z" fill="#FBDBE1" fill-opacity="0.92"/>
<path d="M120.0 9.4L119.6 24.3L119.6 36.2L119.2 48.1L119.7 59.9L119.5 71.8L119.2 86.7L121.2 86.7L120.8 71.8L121.1 59.9L121.2 48.1L121.3 36.2L121.8 24.3L121.3 9.4Z" fill="#FFD0D3" fill-opacity="0.92"/>
<path d="M122.2 9.4L122.5 21.4L122.3 30.5L122.6 39.6L123.0 48.7L122.8 57.7L123.1 66.8L123.2 66.8L123.6 57.7L123.9 48.7L124.0 39.6L123.7 30.5L123.4 21.4L123.7 9.4Z" fill="#EEBD5F" fill-opacity="0.92"/>
<path d="M124.5 9.4L124.8 21.0L124.5 29.6L124.5 38.3L124.2 46.9L124.5 55.6L124.7 64.2L124.8 64.2L125.0 55.6L125.4 46.9L125.6 38.3L126.0 29.6L125.8 21.0L126.0 9.4Z" fill="#FABF70" fill-opacity="0.92"/>
<path d="M126.4 9.4L126.4 24.3L126.8 36.2L127.2 48.1L127.3 59.9L127.1 71.8L127.1 86.7L128.5 86.7L127.9 71.8L128.1 59.9L128.2 48.1L128.1 36.2L127.8 24.3L127.2 9.4Z" fill="#FCBF73" fill-opacity="0.92"/>
<path d="M127.5 9.4L127.0 24.3L127.1 36.2L127.0 48.1L126.9 59.9L126.5 71.8L126.7 86.7L127.6 86.7L127.9 71.8L128.0 59.9L128.5 48.1L128.6 36.2L128.6 24.3L128.8 9.4Z" fill="#FBDBE1" fill-opacity="0.92"/>
<path d="M129.8 9.4L129.9 24.3L129.8 36.2L129.3 48.1L129.5 59.9L129.3 71.8L129.1 86.7L129.7 86.7L130.0 71.8L130.5 59.9L130.7 48.1L130.7 36.2L130.8 24.3L131.2 9.4Z" fill="#FFC182" fill-opacity="0.92"/>
<path d="M132.0 27.6L132.2 36.9L131.9 46.3L131.8 55.7L131.6 65.0L131.5 74.4L130.9 86.7L132.1 86.7L132.2 74.4L132.7 65.0L132.6 55.7L132.8 46.3L132.5 36.9L132.1 27.6Z" fill="#FBDBE1" fill-opacity="0.92"/>
<path d="M133.3 33.7L133.5 42.1L133.3 50.4L133.0 58.7L132.8 67.1L133.1 75.4L133.2 86.7L134.0 86.7L134.0 75.4L133.7 67.1L133.7 58.7L133.9 50.4L133.9 42.1L133.4 33.7Z" fill="#FEC07C" fill-opacity="0.92"/>
<path d="M134.6 9.4L134.7 24.3L135.0 36.2L134.7 48.1L135.2 59.9L134.8 71.8L135.3 86.7L136.7 86.7L136.6 71.8L136.5 59.9L136.6 48.1L136.3 36.2L136.1 24.3L135.7 9.4Z" fill="#FDBF75" fill-opacity="0.92"/>
<path d="M136.8 54.5L136.7 59.4L136.9 64.3L137.1 69.1L137.0 74.0L137.0 78.9L136.9 86.7L137.7 86.7L138.1 78.9L138.3 74.0L137.9 69.1L137.4 64.3L137.2 59.4L136.9 54.5Z" fill="#E4BB52" fill-opacity="0.92"/>
<path d="M138.1 9.4L137.2 24.3L137.5 36.2L137.2 48.1L137.5 59.9L137.6 71.8L137.8 86.7L139.6 86.7L139.3 71.8L138.8 59.9L138.8 48.1L138.7 36.2L139.5 24.3L139.3 9.4Z" fill="#FBDBE1" fill-opacity="0.92"/>
<path d="M140.1 9.4L139.9 24.3L140.7 36.2L140.2 48.1L139.9 59.9L140.2 71.8L140.7 86.7L142.6 86.7L142.5 71.8L142.6 59.9L142.8 48.1L142.0 36.2L142.5 24.3L141.8 9.4Z" fill="#FFCECD" fill-opacity="0.92"/>
</g></g>
<path d="M12.3 8.4H141.4M12.3 87.7H141.4" fill="none" stroke="#cdcdcd" stroke-width="0.9"/>
<path d="M141.4 8.4V87.7" fill="none" stroke="#a8a8a8" stroke-width="0.8"/>
<path d="M12.3 8.4V87.7" fill="none" stroke="#9a9a9a" stroke-width="0.8"/>
<path d="M11.3 87.7H12.3" stroke="#888" stroke-width="0.4"/>
<text x="9.8" y="88.6" class="t" text-anchor="end">0.0</text>
<path d="M11.3 71.84H12.3" stroke="#888" stroke-width="0.4"/>
<text x="9.8" y="72.74" class="t" text-anchor="end">0.2</text>
<path d="M11.3 55.98H12.3" stroke="#888" stroke-width="0.4"/>
<text x="9.8" y="56.88" class="t" text-anchor="end">0.4</text>
<path d="M11.3 40.12H12.3" stroke="#888" stroke-width="0.4"/>
<text x="9.8" y="41.02" class="t" text-anchor="end">0.6</text>
<path d="M11.3 24.26H12.3" stroke="#888" stroke-width="0.4"/>
<text x="9.8" y="25.16" class="t" text-anchor="end">0.8</text>
<path d="M11.3 8.4H12.3" stroke="#888" stroke-width="0.4"/>
<text x="9.8" y="9.3" class="t" text-anchor="end">1.0</text>
<path d="M24.3 87.7V88.9" stroke="#888" stroke-width="0.4"/>
<text x="24.6" y="94" class="t" text-anchor="middle">2019</text>
<path d="M53.8 87.7V88.9" stroke="#888" stroke-width="0.4"/>
<text x="54.1" y="94" class="t" text-anchor="middle">2020</text>
<path d="M83.3 87.7V88.9" stroke="#888" stroke-width="0.4"/>
<text x="83.6" y="94" class="t" text-anchor="middle">2021</text>
<path d="M112.8 87.7V88.9" stroke="#888" stroke-width="0.4"/>
<text x="113.1" y="94" class="t" text-anchor="middle">2022</text>
<text x="76.85" y="99.9" class="l" text-anchor="middle">Date</text>
<text transform="translate(3.75,48.05) rotate(-90)" class="l" text-anchor="middle">Quantiles</text>
<text x="76.85" y="4.7" class="m" text-anchor="middle">LINK</text>
<rect x="147.1" y="83.53" width="5.8" height="4.17" fill="#26A63A" stroke="#555" stroke-width="0.35"/>
<rect x="147.1" y="79.35" width="5.8" height="4.17" fill="#4EA92D" stroke="#555" stroke-width="0.35"/>
<rect x="147.1" y="75.18" width="5.8" height="4.17" fill="#68AC20" stroke="#555" stroke-width="0.35"/>
<rect x="147.1" y="71.01" width="5.8" height="4.17" fill="#7EAF12" stroke="#555" stroke-width="0.35"/>
<rect x="147.1" y="66.83" width="5.8" height="4.17" fill="#92B106" stroke="#555" stroke-width="0.35"/>
<rect x="147.1" y="62.66" width="5.8" height="4.17" fill="#A3B40A" stroke="#555" stroke-width="0.35"/>
<rect x="147.1" y="58.48" width="5.8" height="4.17" fill="#B4B61A" stroke="#555" stroke-width="0.35"/>
<rect x="147.1" y="54.31" width="5.8" height="4.17" fill="#C4B82B" stroke="#555" stroke-width="0.35"/>
<rect x="147.1" y="50.14" width="5.8" height="4.17" fill="#D3BA3D" stroke="#555" stroke-width="0.35"/>
<rect x="147.1" y="45.96" width="5.8" height="4.17" fill="#E1BB4E" stroke="#555" stroke-width="0.35"/>
<rect x="147.1" y="41.79" width="5.8" height="4.17" fill="#EFBD60" stroke="#555" stroke-width="0.35"/>
<rect x="147.1" y="37.62" width="5.8" height="4.17" fill="#FCBF72" stroke="#555" stroke-width="0.35"/>
<rect x="147.1" y="33.44" width="5.8" height="4.17" fill="#FFC183" stroke="#555" stroke-width="0.35"/>
<rect x="147.1" y="29.27" width="5.8" height="4.17" fill="#FFC495" stroke="#555" stroke-width="0.35"/>
<rect x="147.1" y="25.09" width="5.8" height="4.17" fill="#FFC6A7" stroke="#555" stroke-width="0.35"/>
<rect x="147.1" y="20.92" width="5.8" height="4.17" fill="#FFC9B8" stroke="#555" stroke-width="0.35"/>
<rect x="147.1" y="16.75" width="5.8" height="4.17" fill="#FFCDC9" stroke="#555" stroke-width="0.35"/>
<rect x="147.1" y="12.57" width="5.8" height="4.17" fill="#FFD2DA" stroke="#555" stroke-width="0.35"/>
<rect x="147.1" y="8.4" width="5.8" height="4.17" fill="#F1F1F1" stroke="#555" stroke-width="0.35"/>
<path d="M152.9 13.3H154" stroke="#888" stroke-width="0.4"/>
<text x="155.5" y="14.3" class="k">40</text>
<path d="M152.9 30.6H154" stroke="#888" stroke-width="0.4"/>
<text x="155.5" y="31.6" class="k">20</text>
<path d="M152.9 47.9H154" stroke="#888" stroke-width="0.4"/>
<text x="155.5" y="48.9" class="k">0</text>
<path d="M152.9 65.3H154" stroke="#888" stroke-width="0.4"/>
<text x="155.5" y="66.3" class="k">-20</text>
<path d="M152.9 82.6H154" stroke="#888" stroke-width="0.4"/>
<text x="155.5" y="83.6" class="k">-40</text>
<clipPath id="cMKR"><rect x="187.3" y="10.32" width="129.1" height="65.25"/></clipPath>
<g clip-path="url(#cMKR)"><g filter="url(#hb)">
<linearGradient id="gMKR0" x1="0" y1="0" x2="0" y2="1"><stop offset="6.25%" stop-color="#FFC186"/><stop offset="18.75%" stop-color="#FFC186"/><stop offset="31.25%" stop-color="#FFC186"/><stop offset="43.75%" stop-color="#FFC180"/><stop offset="56.25%" stop-color="#FDBF76"/><stop offset="68.75%" stop-color="#FBBF71"/><stop offset="81.25%" stop-color="#FBBF71"/><stop offset="93.75%" stop-color="#FBBF71"/></linearGradient>
<rect x="184.3" y="7.32" width="8.02" height="71.25" fill="url(#gMKR0)"/>
<linearGradient id="gMKR1" x1="0" y1="0" x2="0" y2="1"><stop offset="6.25%" stop-color="#B6B61C"/><stop offset="18.75%" stop-color="#BBB721"/><stop offset="31.25%" stop-color="#C5B82C"/><stop offset="43.75%" stop-color="#CEB937"/><stop offset="56.25%" stop-color="#D6BA41"/><stop offset="68.75%" stop-color="#DBBB46"/><stop offset="81.25%" stop-color="#DBBB46"/><stop offset="93.75%" stop-color="#DBBB46"/></linearGradient>
<rect x="192.27" y="7.32" width="5.02" height="71.25" fill="url(#gMKR1)"/>
<linearGradient id="gMKR2" x1="0" y1="0" x2="0" y2="1"><stop offset="6.25%" stop-color="#FBBF71"/><stop offset="18.75%" stop-color="#F7BE6C"/><stop offset="31.25%" stop-color="#F0BD61"/><stop offset="43.75%" stop-color="#E3BB51"/><stop offset="56.25%" stop-color="#D2BA3C"/><stop offset="68.75%" stop-color="#C0B727"/><stop offset="81.25%" stop-color="#ACB513"/><stop offset="93.75%" stop-color="#A2B40A"/></linearGradient>
<rect x="197.23" y="7.32" width="5.02" height="71.25" fill="url(#gMKR2)"/>
<linearGradient id="gMKR3" x1="0" y1="0" x2="0" y2="1"><stop offset="6.25%" stop-color="#FFC186"/><stop offset="18.75%" stop-color="#FFC180"/><stop offset="31.25%" stop-color="#FDBF76"/><stop offset="43.75%" stop-color="#FBBF71"/><stop offset="56.25%" stop-color="#FBBF71"/><stop offset="68.75%" stop-color="#FBBF71"/><stop offset="81.25%" stop-color="#FBBF71"/><stop offset="93.75%" stop-color="#FBBF71"/></linearGradient>
<rect x="202.2" y="7.32" width="5.02" height="71.25" fill="url(#gMKR3)"/>
<linearGradient id="gMKR4" x1="0" y1="0" x2="0" y2="1"><stop offset="6.25%" stop-color="#DBBB46"/><stop offset="18.75%" stop-color="#DFBB4B"/><stop offset="31.25%" stop-color="#E7BC56"/><stop offset="43.75%" stop-color="#EBBC5B"/><stop offset="56.25%" stop-color="#EBBC5B"/><stop offset="68.75%" stop-color="#E7BC56"/><stop offset="81.25%" stop-color="#DFBB4B"/><stop offset="93.75%" stop-color="#DBBB46"/></linearGradient>
<rect x="207.16" y="7.32" width="5.02" height="71.25" fill="url(#gMKR4)"/>
<linearGradient id="gMKR5" x1="0" y1="0" x2="0" y2="1"><stop offset="6.25%" stop-color="#FBBF71"/><stop offset="18.75%" stop-color="#FBBF71"/><stop offset="31.25%" stop-color="#FBBF71"/><stop offset="43.75%" stop-color="#F3BE66"/><stop offset="56.25%" stop-color="#E3BB51"/><stop offset="68.75%" stop-color="#DBBB46"/><stop offset="81.25%" stop-color="#DBBB46"/><stop offset="93.75%" stop-color="#DBBB46"/></linearGradient>
<rect x="212.13" y="7.32" width="5.02" height="71.25" fill="url(#gMKR5)"/>
<linearGradient id="gMKR6" x1="0" y1="0" x2="0" y2="1"><stop offset="6.25%" stop-color="#DBBB46"/><stop offset="18.75%" stop-color="#DFBB4B"/><stop offset="31.25%" stop-color="#E7BC56"/><stop offset="43.75%" stop-color="#F3BE66"/><stop offset="56.25%" stop-color="#FEC07B"/><stop offset="68.75%" stop-color="#FFC186"/><stop offset="81.25%" stop-color="#FFC186"/><stop offset="93.75%" stop-color="#FFC186"/></linearGradient>
<rect x="217.09" y="7.32" width="5.02" height="71.25" fill="url(#gMKR6)"/>
<linearGradient id="gMKR7" x1="0" y1="0" x2="0" y2="1"><stop offset="6.25%" stop-color="#B6B61C"/><stop offset="18.75%" stop-color="#BBB721"/><stop offset="31.25%" stop-color="#C5B82C"/><stop offset="43.75%" stop-color="#D6BA41"/><stop offset="56.25%" stop-color="#F0BD61"/><stop offset="68.75%" stop-color="#F7BE6C"/><stop offset="81.25%" stop-color="#F0BD61"/><stop offset="93.75%" stop-color="#EBBC5B"/></linearGradient>
<rect x="222.06" y="7.32" width="5.02" height="71.25" fill="url(#gMKR7)"/>
<linearGradient id="gMKR8" x1="0" y1="0" x2="0" y2="1"><stop offset="6.25%" stop-color="#DBBB46"/><stop offset="18.75%" stop-color="#DBBB46"/><stop offset="31.25%" stop-color="#DBBB46"/><stop offset="43.75%" stop-color="#D6BA41"/><stop offset="56.25%" stop-color="#CEB937"/><stop offset="68.75%" stop-color="#C5B82C"/><stop offset="81.25%" stop-color="#BBB721"/><stop offset="93.75%" stop-color="#B6B61C"/></linearGradient>
<rect x="227.02" y="7.32" width="5.02" height="71.25" fill="url(#gMKR8)"/>
<linearGradient id="gMKR9" x1="0" y1="0" x2="0" y2="1"><stop offset="6.25%" stop-color="#B6B61C"/><stop offset="18.75%" stop-color="#C0B727"/><stop offset="31.25%" stop-color="#D2BA3C"/><stop offset="43.75%" stop-color="#DBBB46"/><stop offset="56.25%" stop-color="#DBBB46"/><stop offset="68.75%" stop-color="#DBBB46"/><stop offset="81.25%" stop-color="#DBBB46"/><stop offset="93.75%" stop-color="#DBBB46"/></linearGradient>
<rect x="231.99" y="7.32" width="5.02" height="71.25" fill="url(#gMKR9)"/>
<linearGradient id="gMKR10" x1="0" y1="0" x2="0" y2="1"><stop offset="6.25%" stop-color="#FFC59B"/><stop offset="18.75%" stop-color="#FFC59B"/><stop offset="31.25%" stop-color="#FFC59B"/><stop offset="43.75%" stop-color="#FFC59B"/><stop offset="56.25%" stop-color="#FFC59B"/><stop offset="68.75%" stop-color="#FFC496"/><stop offset="81.25%" stop-color="#FFC28B"/><stop offset="93.75%" stop-color="#FFC186"/></linearGradient>
<rect x="236.95" y="7.32" width="5.02" height="71.25" fill="url(#gMKR10)"/>
<linearGradient id="gMKR11" x1="0" y1="0" x2="0" y2="1"><stop offset="6.25%" stop-color="#FBBF71"/><stop offset="18.75%" stop-color="#FBBF71"/><stop offset="31.25%" stop-color="#FBBF71"/><stop offset="43.75%" stop-color="#FBBF71"/><stop offset="56.25%" stop-color="#FBBF71"/><stop offset="68.75%" stop-color="#F7BE6C"/><stop offset="81.25%" stop-color="#F0BD61"/><stop offset="93.75%" stop-color="#EBBC5B"/></linearGradient>
<rect x="241.92" y="7.32" width="5.02" height="71.25" fill="url(#gMKR11)"/>
<linearGradient id="gMKR12" x1="0" y1="0" x2="0" y2="1"><stop offset="6.25%" stop-color="#8DB009"/><stop offset="18.75%" stop-color="#98B207"/><stop offset="31.25%" stop-color="#ACB513"/><stop offset="43.75%" stop-color="#BBB721"/><stop offset="56.25%" stop-color="#C5B82C"/><stop offset="68.75%" stop-color="#C9B931"/><stop offset="81.25%" stop-color="#C9B931"/><stop offset="93.75%" stop-color="#C9B931"/></linearGradient>
<rect x="246.88" y="7.32" width="5.02" height="71.25" fill="url(#gMKR12)"/>
<linearGradient id="gMKR13" x1="0" y1="0" x2="0" y2="1"><stop offset="6.25%" stop-color="#EBBC5B"/><stop offset="18.75%" stop-color="#EBBC5B"/><stop offset="31.25%" stop-color="#EBBC5B"/><stop offset="43.75%" stop-color="#E3BB51"/><stop offset="56.25%" stop-color="#D2BA3C"/><stop offset="68.75%" stop-color="#C9B931"/><stop offset="81.25%" stop-color="#C9B931"/><stop offset="93.75%" stop-color="#C9B931"/></linearGradient>
<rect x="251.85" y="7.32" width="5.02" height="71.25" fill="url(#gMKR13)"/>
<linearGradient id="gMKR14" x1="0" y1="0" x2="0" y2="1"><stop offset="6.25%" stop-color="#DBBB46"/><stop offset="18.75%" stop-color="#DFBB4B"/><stop offset="31.25%" stop-color="#E7BC56"/><stop offset="43.75%" stop-color="#F0BD61"/><stop offset="56.25%" stop-color="#F7BE6C"/><stop offset="68.75%" stop-color="#FBBF71"/><stop offset="81.25%" stop-color="#FBBF71"/><stop offset="93.75%" stop-color="#FBBF71"/></linearGradient>
<rect x="256.82" y="7.32" width="5.02" height="71.25" fill="url(#gMKR14)"/>
<linearGradient id="gMKR15" x1="0" y1="0" x2="0" y2="1"><stop offset="6.25%" stop-color="#FFC59B"/><stop offset="18.75%" stop-color="#FFC390"/><stop offset="31.25%" stop-color="#FEC07B"/><stop offset="43.75%" stop-color="#FDBF76"/><stop offset="56.25%" stop-color="#FFC180"/><stop offset="68.75%" stop-color="#FFC180"/><stop offset="81.25%" stop-color="#FDBF76"/><stop offset="93.75%" stop-color="#FBBF71"/></linearGradient>
<rect x="261.78" y="7.32" width="5.02" height="71.25" fill="url(#gMKR15)"/>
<linearGradient id="gMKR16" x1="0" y1="0" x2="0" y2="1"><stop offset="6.25%" stop-color="#C9B931"/><stop offset="18.75%" stop-color="#CEB937"/><stop offset="31.25%" stop-color="#D6BA41"/><stop offset="43.75%" stop-color="#DBBB46"/><stop offset="56.25%" stop-color="#DBBB46"/><stop offset="68.75%" stop-color="#DFBB4B"/><stop offset="81.25%" stop-color="#E7BC56"/><stop offset="93.75%" stop-color="#EBBC5B"/></linearGradient>
<rect x="266.75" y="7.32" width="5.02" height="71.25" fill="url(#gMKR16)"/>
<linearGradient id="gMKR17" x1="0" y1="0" x2="0" y2="1"><stop offset="6.25%" stop-color="#FBBF71"/><stop offset="18.75%" stop-color="#FBBF71"/><stop offset="31.25%" stop-color="#FBBF71"/><stop offset="43.75%" stop-color="#F7BE6C"/><stop offset="56.25%" stop-color="#F0BD61"/><stop offset="68.75%" stop-color="#EBBC5B"/><stop offset="81.25%" stop-color="#EBBC5B"/><stop offset="93.75%" stop-color="#EBBC5B"/></linearGradient>
<rect x="271.71" y="7.32" width="5.02" height="71.25" fill="url(#gMKR17)"/>
<linearGradient id="gMKR18" x1="0" y1="0" x2="0" y2="1"><stop offset="6.25%" stop-color="#FFC186"/><stop offset="18.75%" stop-color="#FFC180"/><stop offset="31.25%" stop-color="#FDBF76"/><stop offset="43.75%" stop-color="#FDBF76"/><stop offset="56.25%" stop-color="#FFC180"/><stop offset="68.75%" stop-color="#FFC180"/><stop offset="81.25%" stop-color="#FDBF76"/><stop offset="93.75%" stop-color="#FBBF71"/></linearGradient>
<rect x="276.68" y="7.32" width="5.02" height="71.25" fill="url(#gMKR18)"/>
<linearGradient id="gMKR19" x1="0" y1="0" x2="0" y2="1"><stop offset="6.25%" stop-color="#DBBB46"/><stop offset="18.75%" stop-color="#DBBB46"/><stop offset="31.25%" stop-color="#DBBB46"/><stop offset="43.75%" stop-color="#DFBB4B"/><stop offset="56.25%" stop-color="#E7BC56"/><stop offset="68.75%" stop-color="#EBBC5B"/><stop offset="81.25%" stop-color="#EBBC5B"/><stop offset="93.75%" stop-color="#EBBC5B"/></linearGradient>
<rect x="281.64" y="7.32" width="5.02" height="71.25" fill="url(#gMKR19)"/>
<linearGradient id="gMKR20" x1="0" y1="0" x2="0" y2="1"><stop offset="6.25%" stop-color="#FBBF71"/><stop offset="18.75%" stop-color="#FBBF71"/><stop offset="31.25%" stop-color="#FBBF71"/><stop offset="43.75%" stop-color="#FEC07B"/><stop offset="56.25%" stop-color="#FFC390"/><stop offset="68.75%" stop-color="#FFC59B"/><stop offset="81.25%" stop-color="#FFC59B"/><stop offset="93.75%" stop-color="#FFC59B"/></linearGradient>
<rect x="286.61" y="7.32" width="5.02" height="71.25" fill="url(#gMKR20)"/>
<linearGradient id="gMKR21" x1="0" y1="0" x2="0" y2="1"><stop offset="6.25%" stop-color="#DBBB46"/><stop offset="18.75%" stop-color="#DFBB4B"/><stop offset="31.25%" stop-color="#E7BC56"/><stop offset="43.75%" stop-color="#EBBC5B"/><stop offset="56.25%" stop-color="#EBBC5B"/><stop offset="68.75%" stop-color="#EBBC5B"/><stop offset="81.25%" stop-color="#EBBC5B"/><stop offset="93.75%" stop-color="#EBBC5B"/></linearGradient>
<rect x="291.57" y="7.32" width="5.02" height="71.25" fill="url(#gMKR21)"/>
<linearGradient id="gMKR22" x1="0" y1="0" x2="0" y2="1"><stop offset="6.25%" stop-color="#FBBF71"/><stop offset="18.75%" stop-color="#F7BE6C"/><stop offset="31.25%" stop-color="#F0BD61"/><stop offset="43.75%" stop-color="#F0BD61"/><stop offset="56.25%" stop-color="#F7BE6C"/><stop offset="68.75%" stop-color="#FBBF71"/><stop offset="81.25%" stop-color="#FBBF71"/><stop offset="93.75%" stop-color="#FBBF71"/></linearGradient>
<rect x="296.54" y="7.32" width="5.02" height="71.25" fill="url(#gMKR22)"/>
<linearGradient id="gMKR23" x1="0" y1="0" x2="0" y2="1"><stop offset="6.25%" stop-color="#FFC186"/><stop offset="18.75%" stop-color="#FFC28B"/><stop offset="31.25%" stop-color="#FFC496"/><stop offset="43.75%" stop-color="#FFC59B"/><stop offset="56.25%" stop-color="#FFC59B"/><stop offset="68.75%" stop-color="#FFC496"/><stop offset="81.25%" stop-color="#FFC28B"/><stop offset="93.75%" stop-color="#FFC186"/></linearGradient>
<rect x="301.5" y="7.32" width="5.02" height="71.25" fill="url(#gMKR23)"/>
<linearGradient id="gMKR24" x1="0" y1="0" x2="0" y2="1"><stop offset="6.25%" stop-color="#A2B40A"/><stop offset="18.75%" stop-color="#B6B61C"/><stop offset="31.25%" stop-color="#DBBB46"/><stop offset="43.75%" stop-color="#EBBC5B"/><stop offset="56.25%" stop-color="#EBBC5B"/><stop offset="68.75%" stop-color="#E7BC56"/><stop offset="81.25%" stop-color="#DFBB4B"/><stop offset="93.75%" stop-color="#DBBB46"/></linearGradient>
<rect x="306.47" y="7.32" width="5.02" height="71.25" fill="url(#gMKR24)"/>
<linearGradient id="gMKR25" x1="0" y1="0" x2="0" y2="1"><stop offset="6.25%" stop-color="#FBBF71"/><stop offset="18.75%" stop-color="#F7BE6C"/><stop offset="31.25%" stop-color="#F0BD61"/><stop offset="43.75%" stop-color="#F0BD61"/><stop offset="56.25%" stop-color="#F7BE6C"/><stop offset="68.75%" stop-color="#FBBF71"/><stop offset="81.25%" stop-color="#FBBF71"/><stop offset="93.75%" stop-color="#FBBF71"/></linearGradient>
<rect x="311.43" y="7.32" width="7.97" height="71.25" fill="url(#gMKR25)"/>
<path d="M187.8 39.9L187.4 45.8L187.1 51.8L187.2 57.7L186.9 63.7L186.8 69.6L186.4 78.6L188.3 78.6L188.1 69.6L188.0 63.7L188.3 57.7L188.4 51.8L187.9 45.8L187.8 39.9Z" fill="#FFC9B7" fill-opacity="0.92"/>
<path d="M189.0 7.3L189.3 14.5L189.0 18.7L188.7 22.9L188.9 27.1L189.1 31.3L189.7 35.5L189.8 35.5L190.0 31.3L189.8 27.1L190.1 22.9L190.2 18.7L190.4 14.5L190.5 7.3Z" fill="#C7B82E" fill-opacity="0.92"/>
<path d="M192.1 54.6L191.7 58.1L191.1 61.6L191.6 65.1L191.2 68.6L191.5 72.1L190.8 78.6L193.5 78.6L193.3 72.1L193.4 68.6L193.3 65.1L193.4 61.6L192.8 58.1L192.2 54.6Z" fill="#FFC6A9" fill-opacity="0.92"/>
<path d="M193.8 7.3L194.2 21.2L193.9 32.1L193.4 43.0L193.4 53.8L193.1 64.7L193.1 78.6L195.4 78.6L195.2 64.7L195.2 53.8L194.9 43.0L195.1 32.1L195.4 21.2L195.4 7.3Z" fill="#A6B40C" fill-opacity="0.92"/>
<path d="M196.3 7.3L196.7 21.2L196.6 32.1L196.1 43.0L195.9 53.8L196.1 64.7L195.8 78.6L197.5 78.6L197.6 64.7L197.6 53.8L198.1 43.0L197.9 32.1L197.9 21.2L198.0 7.3Z" fill="#FEC07F" fill-opacity="0.92"/>
<path d="M197.5 7.3L197.6 15.3L197.5 20.4L197.6 25.4L197.7 30.4L198.2 35.4L198.3 40.4L198.4 40.4L199.1 35.4L199.8 30.4L199.6 25.4L199.3 20.4L199.4 15.3L200.2 7.3Z" fill="#FFC59E" fill-opacity="0.92"/>
<path d="M201.0 7.3L201.1 21.2L200.7 32.1L200.7 43.0L200.6 53.8L200.8 64.7L200.6 78.6L202.0 78.6L202.2 64.7L201.8 53.8L201.9 43.0L201.8 32.1L201.9 21.2L201.8 7.3Z" fill="#A7B40E" fill-opacity="0.92"/>
<path d="M201.9 7.3L202.4 21.2L202.2 32.1L203.1 43.0L202.7 53.8L203.5 64.7L203.9 78.6L205.3 78.6L205.5 64.7L205.6 53.8L204.6 43.0L205.5 32.1L204.9 21.2L204.8 7.3Z" fill="#FFC59F" fill-opacity="0.92"/>
<path d="M206.0 55.9L205.9 59.2L205.3 62.5L205.3 65.7L204.7 69.0L204.2 72.3L204.8 78.6L207.4 78.6L207.3 72.3L207.3 69.0L207.3 65.7L207.5 62.5L206.9 59.2L206.1 55.9Z" fill="#FFC6A7" fill-opacity="0.92"/>
<path d="M207.8 7.3L207.8 14.5L207.8 18.7L207.4 22.9L208.2 27.1L208.3 31.3L208.7 35.4L208.7 35.4L209.0 31.3L209.0 27.1L209.1 22.9L209.1 18.7L209.6 14.5L209.3 7.3Z" fill="#FFC6A9" fill-opacity="0.92"/>
<path d="M209.4 7.3L209.7 14.3L209.4 18.4L209.8 22.4L209.8 26.4L209.9 30.4L210.5 34.5L210.6 34.5L210.7 30.4L211.3 26.4L210.8 22.4L211.7 18.4L211.8 14.3L211.7 7.3Z" fill="#8DB009" fill-opacity="0.92"/>
<path d="M211.8 7.3L211.9 14.9L212.0 19.5L212.1 24.1L211.9 28.7L211.9 33.3L212.4 37.9L212.5 37.9L212.6 33.3L213.0 28.7L213.5 24.1L213.2 19.5L213.2 14.9L213.2 7.3Z" fill="#9FB309" fill-opacity="0.92"/>
<path d="M214.7 7.3L214.7 21.2L214.2 32.1L214.0 43.0L214.0 53.8L214.2 64.7L213.6 78.6L215.5 78.6L215.5 64.7L216.1 53.8L216.4 43.0L216.7 32.1L216.3 21.2L216.1 7.3Z" fill="#FFC38D" fill-opacity="0.92"/>
<path d="M217.8 24.6L217.7 33.1L217.2 41.6L216.5 50.1L216.7 58.6L216.8 67.1L216.6 78.6L218.9 78.6L218.1 67.1L218.9 58.6L218.8 50.1L218.7 41.6L218.2 33.1L217.8 24.6Z" fill="#FFCCC3" fill-opacity="0.92"/>
<path d="M218.5 7.3L218.2 21.2L218.2 32.1L217.4 43.0L217.6 53.8L217.4 64.7L217.9 78.6L219.2 78.6L219.7 64.7L219.8 53.8L219.9 43.0L219.4 32.1L220.0 21.2L220.1 7.3Z" fill="#FFC7AF" fill-opacity="0.92"/>
<path d="M220.7 7.3L221.1 21.2L221.3 32.1L221.1 43.0L221.3 53.8L221.6 64.7L221.8 78.6L222.9 78.6L222.9 64.7L222.8 53.8L222.5 43.0L222.2 32.1L222.1 21.2L222.4 7.3Z" fill="#FFC59F" fill-opacity="0.92"/>
<path d="M222.2 7.3L222.2 16.1L222.2 21.9L221.8 27.8L221.8 33.6L222.6 39.4L222.5 45.2L222.6 45.2L223.1 39.4L223.8 33.6L224.0 27.8L223.3 21.9L223.6 16.1L223.4 7.3Z" fill="#FEC07B" fill-opacity="0.92"/>
<path d="M224.0 7.3L224.2 21.2L224.0 32.1L224.0 43.0L223.9 53.8L224.1 64.7L224.1 78.6L225.1 78.6L225.6 64.7L225.1 53.8L225.2 43.0L225.7 32.1L225.5 21.2L225.3 7.3Z" fill="#FFC5A0" fill-opacity="0.92"/>
<path d="M225.5 7.3L225.2 21.2L225.4 32.1L225.2 43.0L225.3 53.8L225.2 64.7L225.1 78.6L226.0 78.6L226.0 64.7L226.4 53.8L226.0 43.0L226.2 32.1L226.3 21.2L226.4 7.3Z" fill="#FFC495" fill-opacity="0.92"/>
<path d="M227.5 25.8L227.0 34.1L227.2 42.4L227.2 50.7L226.7 59.0L226.7 67.3L226.8 78.6L228.2 78.6L227.8 67.3L228.0 59.0L228.2 50.7L227.8 42.4L227.5 34.1L227.6 25.8Z" fill="#80AF11" fill-opacity="0.92"/>
<path d="M228.8 7.3L228.8 21.2L229.4 32.1L229.0 43.0L229.1 53.8L229.0 64.7L228.8 78.6L230.9 78.6L231.1 64.7L230.5 53.8L230.9 43.0L230.6 32.1L230.7 21.2L230.1 7.3Z" fill="#FFC183" fill-opacity="0.92"/>
<path d="M230.4 7.3L230.8 21.2L230.5 32.1L230.7 43.0L230.8 53.8L230.3 64.7L230.4 78.6L231.7 78.6L231.4 64.7L231.5 53.8L231.8 43.0L231.3 32.1L231.7 21.2L232.0 7.3Z" fill="#78AE16" fill-opacity="0.92"/>
<path d="M232.1 7.3L232.6 21.2L232.3 32.1L232.5 43.0L232.6 53.8L232.8 64.7L232.6 78.6L233.6 78.6L233.8 64.7L233.5 53.8L233.2 43.0L233.6 32.1L233.3 21.2L233.5 7.3Z" fill="#FFC59A" fill-opacity="0.92"/>
<path d="M234.1 7.3L234.5 21.2L234.8 32.1L234.5 43.0L234.5 53.8L234.7 64.7L234.8 78.6L235.5 78.6L235.5 64.7L235.3 53.8L235.5 43.0L235.3 32.1L235.2 21.2L235.2 7.3Z" fill="#8FB108" fill-opacity="0.92"/>
<path d="M235.7 7.3L235.3 21.2L236.0 32.1L235.9 43.0L236.2 53.8L236.1 64.7L236.4 78.6L237.7 78.6L237.2 64.7L237.4 53.8L237.5 43.0L237.0 32.1L237.0 21.2L236.7 7.3Z" fill="#FFC7AE" fill-opacity="0.92"/>
<path d="M237.2 7.3L237.5 21.2L238.1 32.1L238.3 43.0L238.0 53.8L237.6 64.7L237.4 78.6L239.1 78.6L239.5 64.7L239.6 53.8L239.4 43.0L239.3 32.1L239.3 21.2L239.0 7.3Z" fill="#C2B829" fill-opacity="0.92"/>
<path d="M240.4 18.1L240.3 27.7L239.9 37.3L240.0 46.8L239.5 56.4L239.8 66.0L240.2 78.6L241.2 78.6L241.2 66.0L240.8 56.4L240.7 46.8L240.7 37.3L240.6 27.7L240.4 18.1Z" fill="#CAB932" fill-opacity="0.92"/>
<path d="M241.5 7.3L241.7 21.2L241.6 32.1L241.9 43.0L242.0 53.8L242.1 64.7L241.7 78.6L242.9 78.6L243.0 64.7L243.1 53.8L243.1 43.0L243.2 32.1L242.7 21.2L243.0 7.3Z" fill="#D5BA3F" fill-opacity="0.92"/>
<path d="M243.0 7.3L243.2 14.5L243.1 18.8L243.2 23.0L243.7 27.2L244.1 31.4L244.2 35.6L244.3 35.6L244.5 31.4L244.8 27.2L244.6 23.0L244.3 18.8L244.4 14.5L244.7 7.3Z" fill="#C2B829" fill-opacity="0.92"/>
<path d="M245.3 7.3L245.4 21.2L245.6 32.1L245.5 43.0L245.2 53.8L244.9 64.7L244.7 78.6L245.7 78.6L246.1 64.7L246.0 53.8L246.3 43.0L246.9 32.1L246.6 21.2L246.8 7.3Z" fill="#BAB721" fill-opacity="0.92"/>
<path d="M247.5 48.2L247.1 52.8L246.8 57.3L247.0 61.9L246.7 66.5L246.6 71.0L246.9 78.6L248.1 78.6L248.4 71.0L248.4 66.5L248.3 61.9L247.9 57.3L247.6 52.8L247.5 48.2Z" fill="#FFC181" fill-opacity="0.92"/>
<path d="M249.5 33.0L249.1 40.1L248.9 47.2L249.1 54.3L249.3 61.4L248.8 68.5L248.8 78.6L249.5 78.6L250.1 68.5L250.1 61.4L250.4 54.3L249.9 47.2L249.4 40.1L249.6 33.0Z" fill="#FEC07F" fill-opacity="0.92"/>
<path d="M250.9 39.0L250.3 45.1L250.0 51.2L250.2 57.3L249.7 63.4L249.6 69.5L249.4 78.6L251.1 78.6L251.5 69.5L251.7 63.4L251.7 57.3L251.4 51.2L251.1 45.1L251.0 39.0Z" fill="#F1BD62" fill-opacity="0.92"/>
<path d="M251.6 7.3L251.4 21.2L251.6 32.1L251.3 43.0L251.3 53.8L251.1 64.7L251.2 78.6L251.8 78.6L252.1 64.7L251.9 53.8L252.0 43.0L252.3 32.1L252.2 21.2L252.7 7.3Z" fill="#7CAF13" fill-opacity="0.92"/>
<path d="M253.7 36.5L253.2 43.0L252.8 49.5L252.6 56.0L253.2 62.6L252.5 69.1L252.5 78.6L253.9 78.6L254.3 69.1L254.0 62.6L254.2 56.0L254.2 49.5L253.8 43.0L253.7 36.5Z" fill="#F4BE66" fill-opacity="0.92"/>
<path d="M255.3 7.3L255.1 21.2L255.2 32.1L255.5 43.0L255.8 53.8L255.9 64.7L256.2 78.6L256.9 78.6L256.6 64.7L256.3 53.8L256.2 43.0L256.1 32.1L255.8 21.2L255.8 7.3Z" fill="#B3B619" fill-opacity="0.92"/>
<path d="M256.2 7.3L256.7 21.2L256.6 32.1L256.9 43.0L256.1 53.8L256.4 64.7L256.3 78.6L258.3 78.6L257.8 64.7L258.2 53.8L258.0 43.0L258.2 32.1L258.1 21.2L258.3 7.3Z" fill="#FFC6A5" fill-opacity="0.92"/>
<path d="M258.9 7.3L259.0 21.2L259.1 32.1L259.1 43.0L259.4 53.8L259.2 64.7L259.6 78.6L260.3 78.6L260.4 64.7L260.5 53.8L260.4 43.0L260.3 32.1L259.7 21.2L259.8 7.3Z" fill="#B8B71E" fill-opacity="0.92"/>
<path d="M260.0 7.3L259.9 21.2L259.6 32.1L260.1 43.0L260.0 53.8L259.6 64.7L260.0 78.6L261.1 78.6L261.2 64.7L260.8 53.8L261.1 43.0L261.1 32.1L261.1 21.2L261.1 7.3Z" fill="#FFC9B7" fill-opacity="0.92"/>
<path d="M262.1 18.4L261.6 28.0L261.5 37.5L261.3 47.0L260.9 56.5L261.1 66.1L261.0 78.6L262.1 78.6L262.2 66.1L261.9 56.5L262.1 47.0L262.1 37.5L262.0 28.0L262.1 18.4Z" fill="#CBB933" fill-opacity="0.92"/>
<path d="M263.9 7.3L264.0 21.2L263.9 32.1L263.8 43.0L263.4 53.8L263.5 64.7L263.4 78.6L265.2 78.6L265.2 64.7L264.8 53.8L264.9 43.0L265.3 32.1L265.5 21.2L265.1 7.3Z" fill="#FFCBC1" fill-opacity="0.92"/>
<path d="M266.2 26.6L265.5 34.8L264.7 42.9L265.2 51.1L264.7 59.3L265.0 67.4L265.1 78.6L267.1 78.6L267.8 67.4L267.5 59.3L266.9 51.1L266.8 42.9L266.3 34.8L266.3 26.6Z" fill="#FFC6A6" fill-opacity="0.92"/>
<path d="M267.8 7.3L268.0 15.4L268.0 20.5L268.6 25.6L268.2 30.7L268.5 35.8L268.9 40.9L269.0 40.9L268.9 35.8L269.4 30.7L269.4 25.6L269.9 20.5L269.4 15.4L269.0 7.3Z" fill="#FFC286" fill-opacity="0.92"/>
<path d="M268.8 7.3L269.5 21.2L269.7 32.1L269.8 43.0L269.4 53.8L269.8 64.7L269.7 78.6L270.7 78.6L270.9 64.7L271.2 53.8L271.4 43.0L271.1 32.1L270.7 21.2L270.9 7.3Z" fill="#92B106" fill-opacity="0.92"/>
<path d="M271.6 7.3L271.9 14.8L272.1 19.3L272.2 23.9L272.5 28.4L272.5 32.9L272.8 37.4L272.8 37.4L272.8 32.9L273.3 28.4L273.3 23.9L272.8 19.3L272.7 14.8L272.3 7.3Z" fill="#A7B40E" fill-opacity="0.92"/>
<path d="M273.1 7.3L273.0 21.2L273.0 32.1L273.3 43.0L273.5 53.8L273.4 64.7L273.4 78.6L274.5 78.6L274.2 64.7L274.7 53.8L274.5 43.0L274.2 32.1L274.1 21.2L273.9 7.3Z" fill="#C5B82C" fill-opacity="0.92"/>
<path d="M274.0 7.3L274.1 21.2L274.2 32.1L274.4 43.0L274.3 53.8L274.4 64.7L274.0 78.6L275.1 78.6L275.0 64.7L275.1 53.8L275.1 43.0L275.2 32.1L275.3 21.2L275.2 7.3Z" fill="#ADB514" fill-opacity="0.92"/>
<path d="M275.4 7.3L275.6 15.9L275.6 21.5L276.0 27.1L276.0 32.7L276.0 38.3L275.9 43.9L275.9 43.9L276.2 38.3L276.4 32.7L276.7 27.1L276.4 21.5L276.0 15.9L275.9 7.3Z" fill="#B9B71F" fill-opacity="0.92"/>
<path d="M276.7 7.3L276.5 15.4L276.8 20.4L277.2 25.4L277.0 30.4L277.3 35.5L277.2 40.5L277.3 40.5L277.5 35.5L277.5 30.4L278.1 25.4L277.8 20.4L277.6 15.4L277.4 7.3Z" fill="#C0B827" fill-opacity="0.92"/>
<path d="M278.4 7.3L278.8 17.5L279.2 24.6L278.7 31.7L278.5 38.9L279.0 46.0L279.5 53.2L279.6 53.2L279.6 46.0L279.6 38.9L280.1 31.7L280.1 24.6L280.1 17.5L280.0 7.3Z" fill="#C8B930" fill-opacity="0.92"/>
<path d="M280.0 7.3L279.8 21.2L280.1 32.1L279.4 43.0L279.9 53.8L279.6 64.7L280.1 78.6L281.1 78.6L281.8 64.7L281.6 53.8L281.5 43.0L281.2 32.1L281.7 21.2L281.6 7.3Z" fill="#FFCBC1" fill-opacity="0.92"/>
<path d="M282.1 42.3L282.0 47.8L281.8 53.4L281.4 58.9L281.3 64.5L281.2 70.0L281.2 78.6L281.9 78.6L282.2 70.0L282.1 64.5L282.2 58.9L282.3 53.4L282.4 47.8L282.1 42.3Z" fill="#A7B50E" fill-opacity="0.92"/>
<path d="M284.0 38.1L283.7 44.4L283.3 50.6L283.3 56.9L283.9 63.1L283.6 69.3L283.5 78.6L285.5 78.6L284.8 69.3L285.0 63.1L285.0 56.9L284.4 50.6L284.2 44.4L284.1 38.1Z" fill="#FFC7AD" fill-opacity="0.92"/>
<path d="M285.3 7.3L285.0 21.2L284.8 32.1L285.3 43.0L285.2 53.8L285.0 64.7L284.7 78.6L286.6 78.6L286.7 64.7L286.8 53.8L286.5 43.0L286.6 32.1L286.4 21.2L286.5 7.3Z" fill="#B4B61A" fill-opacity="0.92"/>
<path d="M287.9 7.3L287.6 16.0L287.3 21.7L287.2 27.4L287.1 33.1L287.7 38.8L288.2 44.5L288.2 44.5L288.2 38.8L288.4 33.1L288.1 27.4L288.5 21.7L288.7 16.0L288.9 7.3Z" fill="#A1B409" fill-opacity="0.92"/>
<path d="M289.1 7.3L289.2 21.2L289.3 32.1L289.3 43.0L289.3 53.8L289.6 64.7L290.1 78.6L290.8 78.6L290.6 64.7L290.3 53.8L290.2 43.0L290.0 32.1L290.0 21.2L290.1 7.3Z" fill="#B4B61A" fill-opacity="0.92"/>
<path d="M291.7 26.1L291.2 34.3L291.4 42.6L291.2 50.8L290.5 59.1L291.2 67.3L291.0 78.6L293.2 78.6L292.4 67.3L292.8 59.1L292.5 50.8L292.3 42.6L292.1 34.3L291.8 26.1Z" fill="#FFCDC9" fill-opacity="0.92"/>
<path d="M292.9 7.3L292.6 18.4L292.7 26.5L292.6 34.6L292.5 42.6L292.8 50.7L292.6 58.8L292.7 58.8L293.0 50.7L293.1 42.6L293.3 34.6L293.6 26.5L293.5 18.4L293.7 7.3Z" fill="#A5B40C" fill-opacity="0.92"/>
<path d="M294.2 7.3L293.6 21.2L294.0 32.1L294.1 43.0L293.8 53.8L294.2 64.7L294.0 78.6L295.0 78.6L295.0 64.7L295.1 53.8L294.9 43.0L294.9 32.1L294.9 21.2L295.0 7.3Z" fill="#9BB308" fill-opacity="0.92"/>
<path d="M296.8 18.3L296.8 27.9L296.6 37.4L296.8 46.9L297.0 56.5L296.4 66.0L296.6 78.6L297.5 78.6L297.9 66.0L297.8 56.5L297.9 46.9L297.8 37.4L297.2 27.9L296.8 18.3Z" fill="#B7B61D" fill-opacity="0.92"/>
<path d="M299.1 42.1L298.7 47.7L298.5 53.3L298.2 58.8L297.8 64.4L297.5 70.0L297.3 78.6L298.9 78.6L299.3 70.0L299.5 64.4L299.3 58.8L299.6 53.3L299.3 47.7L299.1 42.1Z" fill="#FFC9B8" fill-opacity="0.92"/>
<path d="M300.8 7.3L300.7 21.2L300.7 32.1L300.6 43.0L300.8 53.8L300.8 64.7L300.8 78.6L301.6 78.6L302.0 64.7L301.9 53.8L301.8 43.0L302.1 32.1L301.9 21.2L302.2 7.3Z" fill="#DABB46" fill-opacity="0.92"/>
<path d="M302.7 7.3L302.8 18.6L302.4 26.8L302.8 35.0L302.3 43.2L302.3 51.5L302.4 59.7L302.5 59.7L303.3 51.5L304.0 43.2L304.0 35.0L304.0 26.8L304.1 18.6L303.8 7.3Z" fill="#FFCABD" fill-opacity="0.92"/>
<path d="M304.9 42.2L304.7 47.7L304.6 53.3L304.6 58.9L304.9 64.4L304.4 70.0L304.5 78.6L305.4 78.6L305.4 70.0L305.5 64.4L305.1 58.9L305.2 53.3L305.2 47.7L304.9 42.2Z" fill="#DBBB47" fill-opacity="0.92"/>
<path d="M305.6 7.3L305.8 18.1L305.8 26.0L305.5 33.8L306.2 41.6L306.3 49.4L306.7 57.3L306.7 57.3L307.0 49.4L307.1 41.6L307.4 33.8L307.2 26.0L306.9 18.1L306.7 7.3Z" fill="#FFC9B7" fill-opacity="0.92"/>
<path d="M307.1 7.3L307.1 19.2L307.9 28.1L307.5 37.0L308.0 45.9L307.7 54.8L308.0 63.7L308.1 63.7L308.4 54.8L308.8 45.9L308.6 37.0L308.9 28.1L309.1 19.2L308.9 7.3Z" fill="#C6B82E" fill-opacity="0.92"/>
<path d="M310.0 7.3L310.1 19.0L310.2 27.6L310.0 36.3L309.8 45.0L309.9 53.6L310.1 62.3L310.1 62.3L310.1 53.6L310.1 45.0L310.5 36.3L310.5 27.6L310.7 19.0L310.4 7.3Z" fill="#9DB308" fill-opacity="0.92"/>
<path d="M311.4 34.8L311.4 41.6L310.5 48.4L310.9 55.2L310.6 62.0L310.9 68.8L311.3 78.6L312.4 78.6L312.6 68.8L312.3 62.0L311.9 55.2L312.0 48.4L311.9 41.6L311.5 34.8Z" fill="#B2B618" fill-opacity="0.92"/>
<path d="M313.5 31.5L312.8 38.9L312.3 46.2L312.2 53.5L312.3 60.9L312.0 68.2L311.8 78.6L313.4 78.6L313.4 68.2L313.7 60.9L313.6 53.5L313.5 46.2L313.8 38.9L313.6 31.5Z" fill="#FFC9B9" fill-opacity="0.92"/>
<path d="M315.2 7.3L315.2 21.2L315.1 32.1L315.0 43.0L315.0 53.8L315.1 64.7L315.2 78.6L316.4 78.6L316.3 64.7L316.4 53.8L316.6 43.0L316.4 32.1L316.3 21.2L316.1 7.3Z" fill="#B2B618" fill-opacity="0.92"/>
</g></g>
<path d="M187.3 6.7H316.4M187.3 79.2H316.4" fill="none" stroke="#cdcdcd" stroke-width="0.9"/>
<path d="M316.4 6.7V79.2" fill="none" stroke="#a8a8a8" stroke-width="0.8"/>
<path d="M187.3 6.7V79.2" fill="none" stroke="#9a9a9a" stroke-width="0.8"/>
<path d="M186.3 79.2H187.3" stroke="#888" stroke-width="0.4"/>
<text x="184.8" y="80.1" class="t" text-anchor="end">0.0</text>
<path d="M186.3 64.7H187.3" stroke="#888" stroke-width="0.4"/>
<text x="184.8" y="65.6" class="t" text-anchor="end">0.2</text>
<path d="M186.3 50.2H187.3" stroke="#888" stroke-width="0.4"/>
<text x="184.8" y="51.1" class="t" text-anchor="end">0.4</text>
<path d="M186.3 35.7H187.3" stroke="#888" stroke-width="0.4"/>
<text x="184.8" y="36.6" class="t" text-anchor="end">0.6</text>
<path d="M186.3 21.2H187.3" stroke="#888" stroke-width="0.4"/>
<text x="184.8" y="22.1" class="t" text-anchor="end">0.8</text>
<path d="M186.3 6.7H187.3" stroke="#888" stroke-width="0.4"/>
<text x="184.8" y="7.6" class="t" text-anchor="end">1.0</text>
<path d="M199.3 79.2V80.4" stroke="#888" stroke-width="0.4"/>
<text x="199.6" y="84.7" class="t" text-anchor="middle">2019</text>
<path d="M228.8 79.2V80.4" stroke="#888" stroke-width="0.4"/>
<text x="229.1" y="84.7" class="t" text-anchor="middle">2020</text>
<path d="M258.3 79.2V80.4" stroke="#888" stroke-width="0.4"/>
<text x="258.6" y="84.7" class="t" text-anchor="middle">2021</text>
<path d="M287.8 79.2V80.4" stroke="#888" stroke-width="0.4"/>
<text x="288.1" y="84.7" class="t" text-anchor="middle">2022</text>
<text x="251.85" y="90.3" class="l" text-anchor="middle">Date</text>
<text transform="translate(178.75,42.95) rotate(-90)" class="l" text-anchor="middle">Quantiles</text>
<text x="251.85" y="4" class="m" text-anchor="middle">MKR</text>
<rect x="322.1" y="75.38" width="5.8" height="3.82" fill="#26A63A" stroke="#555" stroke-width="0.35"/>
<rect x="322.1" y="71.57" width="5.8" height="3.82" fill="#4EA92D" stroke="#555" stroke-width="0.35"/>
<rect x="322.1" y="67.75" width="5.8" height="3.82" fill="#68AC20" stroke="#555" stroke-width="0.35"/>
<rect x="322.1" y="63.94" width="5.8" height="3.82" fill="#7EAF12" stroke="#555" stroke-width="0.35"/>
<rect x="322.1" y="60.12" width="5.8" height="3.82" fill="#92B106" stroke="#555" stroke-width="0.35"/>
<rect x="322.1" y="56.31" width="5.8" height="3.82" fill="#A3B40A" stroke="#555" stroke-width="0.35"/>
<rect x="322.1" y="52.49" width="5.8" height="3.82" fill="#B4B61A" stroke="#555" stroke-width="0.35"/>
<rect x="322.1" y="48.67" width="5.8" height="3.82" fill="#C4B82B" stroke="#555" stroke-width="0.35"/>
<rect x="322.1" y="44.86" width="5.8" height="3.82" fill="#D3BA3D" stroke="#555" stroke-width="0.35"/>
<rect x="322.1" y="41.04" width="5.8" height="3.82" fill="#E1BB4E" stroke="#555" stroke-width="0.35"/>
<rect x="322.1" y="37.23" width="5.8" height="3.82" fill="#EFBD60" stroke="#555" stroke-width="0.35"/>
<rect x="322.1" y="33.41" width="5.8" height="3.82" fill="#FCBF72" stroke="#555" stroke-width="0.35"/>
<rect x="322.1" y="29.59" width="5.8" height="3.82" fill="#FFC183" stroke="#555" stroke-width="0.35"/>
<rect x="322.1" y="25.78" width="5.8" height="3.82" fill="#FFC495" stroke="#555" stroke-width="0.35"/>
<rect x="322.1" y="21.96" width="5.8" height="3.82" fill="#FFC6A7" stroke="#555" stroke-width="0.35"/>
<rect x="322.1" y="18.15" width="5.8" height="3.82" fill="#FFC9B8" stroke="#555" stroke-width="0.35"/>
<rect x="322.1" y="14.33" width="5.8" height="3.82" fill="#FFCDC9" stroke="#555" stroke-width="0.35"/>
<rect x="322.1" y="10.52" width="5.8" height="3.82" fill="#FFD2DA" stroke="#555" stroke-width="0.35"/>
<rect x="322.1" y="6.7" width="5.8" height="3.82" fill="#F1F1F1" stroke="#555" stroke-width="0.35"/>
<path d="M327.9 12.6H329" stroke="#888" stroke-width="0.4"/>
<text x="330.5" y="13.6" class="k">40</text>
<path d="M327.9 27.8H329" stroke="#888" stroke-width="0.4"/>
<text x="330.5" y="28.8" class="k">20</text>
<path d="M327.9 43H329" stroke="#888" stroke-width="0.4"/>
<text x="330.5" y="44" class="k">0</text>
<path d="M327.9 58.4H329" stroke="#888" stroke-width="0.4"/>
<text x="330.5" y="59.4" class="k">-20</text>
<path d="M327.9 73.8H329" stroke="#888" stroke-width="0.4"/>
<text x="330.5" y="74.8" class="k">-40</text>
<clipPath id="cBNB"><rect x="362.2" y="10.32" width="129.1" height="65.25"/></clipPath>
<g clip-path="url(#cBNB)"><g filter="url(#hb)">
<linearGradient id="gBNB0" x1="0" y1="0" x2="0" y2="1"><stop offset="6.25%" stop-color="#FFC181"/><stop offset="18.75%" stop-color="#FFC181"/><stop offset="31.25%" stop-color="#FFC181"/><stop offset="43.75%" stop-color="#FFC181"/><stop offset="56.25%" stop-color="#FFC181"/><stop offset="68.75%" stop-color="#FEC07C"/><stop offset="81.25%" stop-color="#FCBF72"/><stop offset="93.75%" stop-color="#F8BE6D"/></linearGradient>
<rect x="359.2" y="7.32" width="8.02" height="71.25" fill="url(#gBNB0)"/>
<linearGradient id="gBNB1" x1="0" y1="0" x2="0" y2="1"><stop offset="6.25%" stop-color="#C2B829"/><stop offset="18.75%" stop-color="#C7B82F"/><stop offset="31.25%" stop-color="#D1BA3B"/><stop offset="43.75%" stop-color="#D6BA40"/><stop offset="56.25%" stop-color="#D6BA40"/><stop offset="68.75%" stop-color="#D1BA3B"/><stop offset="81.25%" stop-color="#C7B82F"/><stop offset="93.75%" stop-color="#C2B829"/></linearGradient>
<rect x="367.17" y="7.32" width="5.02" height="71.25" fill="url(#gBNB1)"/>
<linearGradient id="gBNB2" x1="0" y1="0" x2="0" y2="1"><stop offset="6.25%" stop-color="#7EAF12"/><stop offset="18.75%" stop-color="#84B00E"/><stop offset="31.25%" stop-color="#92B106"/><stop offset="43.75%" stop-color="#B7B61D"/><stop offset="56.25%" stop-color="#EFBD60"/><stop offset="68.75%" stop-color="#FFC181"/><stop offset="81.25%" stop-color="#FFC181"/><stop offset="93.75%" stop-color="#FFC181"/></linearGradient>
<rect x="372.13" y="7.32" width="5.02" height="71.25" fill="url(#gBNB2)"/>
<linearGradient id="gBNB3" x1="0" y1="0" x2="0" y2="1"><stop offset="6.25%" stop-color="#ADB514"/><stop offset="18.75%" stop-color="#B8B61E"/><stop offset="31.25%" stop-color="#CCB935"/><stop offset="43.75%" stop-color="#E7BC56"/><stop offset="56.25%" stop-color="#FFC181"/><stop offset="68.75%" stop-color="#FFC391"/><stop offset="81.25%" stop-color="#FFC287"/><stop offset="93.75%" stop-color="#FFC181"/></linearGradient>
<rect x="377.1" y="7.32" width="5.02" height="71.25" fill="url(#gBNB3)"/>
<linearGradient id="gBNB4" x1="0" y1="0" x2="0" y2="1"><stop offset="6.25%" stop-color="#FFC181"/><stop offset="18.75%" stop-color="#FFC28C"/><stop offset="31.25%" stop-color="#FFC5A2"/><stop offset="43.75%" stop-color="#FFC7AC"/><stop offset="56.25%" stop-color="#FFC7AC"/><stop offset="68.75%" stop-color="#FFC5A2"/><stop offset="81.25%" stop-color="#FFC28C"/><stop offset="93.75%" stop-color="#FFC181"/></linearGradient>
<rect x="382.06" y="7.32" width="5.02" height="71.25" fill="url(#gBNB4)"/>
<linearGradient id="gBNB5" x1="0" y1="0" x2="0" y2="1"><stop offset="6.25%" stop-color="#D6BA40"/><stop offset="18.75%" stop-color="#E3BB50"/><stop offset="31.25%" stop-color="#FCBF72"/><stop offset="43.75%" stop-color="#FEC07C"/><stop offset="56.25%" stop-color="#FCBF72"/><stop offset="68.75%" stop-color="#F4BE67"/><stop offset="81.25%" stop-color="#ECBD5C"/><stop offset="93.75%" stop-color="#E8BC57"/></linearGradient>
<rect x="387.03" y="7.32" width="5.02" height="71.25" fill="url(#gBNB5)"/>
<linearGradient id="gBNB6" x1="0" y1="0" x2="0" y2="1"><stop offset="6.25%" stop-color="#C2B829"/><stop offset="18.75%" stop-color="#CCB935"/><stop offset="31.25%" stop-color="#DFBB4B"/><stop offset="43.75%" stop-color="#E8BC57"/><stop offset="56.25%" stop-color="#E8BC57"/><stop offset="68.75%" stop-color="#E3BB51"/><stop offset="81.25%" stop-color="#DABB46"/><stop offset="93.75%" stop-color="#D6BA40"/></linearGradient>
<rect x="391.99" y="7.32" width="5.02" height="71.25" fill="url(#gBNB6)"/>
<linearGradient id="gBNB7" x1="0" y1="0" x2="0" y2="1"><stop offset="6.25%" stop-color="#D6BA40"/><stop offset="18.75%" stop-color="#D1BA3B"/><stop offset="31.25%" stop-color="#C7B82F"/><stop offset="43.75%" stop-color="#B3B619"/><stop offset="56.25%" stop-color="#92B106"/><stop offset="68.75%" stop-color="#84B00E"/><stop offset="81.25%" stop-color="#92B106"/><stop offset="93.75%" stop-color="#97B207"/></linearGradient>
<rect x="396.96" y="7.32" width="5.02" height="71.25" fill="url(#gBNB7)"/>
<linearGradient id="gBNB8" x1="0" y1="0" x2="0" y2="1"><stop offset="6.25%" stop-color="#97B207"/><stop offset="18.75%" stop-color="#92B106"/><stop offset="31.25%" stop-color="#84B00E"/><stop offset="43.75%" stop-color="#A2B40A"/><stop offset="56.25%" stop-color="#DEBB4A"/><stop offset="68.75%" stop-color="#F4BE67"/><stop offset="81.25%" stop-color="#ECBD5C"/><stop offset="93.75%" stop-color="#E8BC57"/></linearGradient>
<rect x="401.92" y="7.32" width="5.02" height="71.25" fill="url(#gBNB8)"/>
<linearGradient id="gBNB9" x1="0" y1="0" x2="0" y2="1"><stop offset="6.25%" stop-color="#D6BA40"/><stop offset="18.75%" stop-color="#D6BA40"/><stop offset="31.25%" stop-color="#D6BA40"/><stop offset="43.75%" stop-color="#C7B82F"/><stop offset="56.25%" stop-color="#A8B50E"/><stop offset="68.75%" stop-color="#8BB00A"/><stop offset="81.25%" stop-color="#70AD1B"/><stop offset="93.75%" stop-color="#60AB24"/></linearGradient>
<rect x="406.89" y="7.32" width="5.02" height="71.25" fill="url(#gBNB9)"/>
<linearGradient id="gBNB10" x1="0" y1="0" x2="0" y2="1"><stop offset="6.25%" stop-color="#FFC181"/><stop offset="18.75%" stop-color="#FDC077"/><stop offset="31.25%" stop-color="#F0BD62"/><stop offset="43.75%" stop-color="#E8BC57"/><stop offset="56.25%" stop-color="#E8BC57"/><stop offset="68.75%" stop-color="#E3BB51"/><stop offset="81.25%" stop-color="#DABB46"/><stop offset="93.75%" stop-color="#D6BA40"/></linearGradient>
<rect x="411.85" y="7.32" width="5.02" height="71.25" fill="url(#gBNB10)"/>
<linearGradient id="gBNB11" x1="0" y1="0" x2="0" y2="1"><stop offset="6.25%" stop-color="#FFC181"/><stop offset="18.75%" stop-color="#FFC181"/><stop offset="31.25%" stop-color="#FFC181"/><stop offset="43.75%" stop-color="#FCBF72"/><stop offset="56.25%" stop-color="#E3BB50"/><stop offset="68.75%" stop-color="#D1BA3B"/><stop offset="81.25%" stop-color="#C7B82F"/><stop offset="93.75%" stop-color="#C2B829"/></linearGradient>
<rect x="416.82" y="7.32" width="5.02" height="71.25" fill="url(#gBNB11)"/>
<linearGradient id="gBNB12" x1="0" y1="0" x2="0" y2="1"><stop offset="6.25%" stop-color="#C2B829"/><stop offset="18.75%" stop-color="#C2B829"/><stop offset="31.25%" stop-color="#C2B829"/><stop offset="43.75%" stop-color="#D1BA3A"/><stop offset="56.25%" stop-color="#EBBC5B"/><stop offset="68.75%" stop-color="#F4BE67"/><stop offset="81.25%" stop-color="#ECBD5C"/><stop offset="93.75%" stop-color="#E8BC57"/></linearGradient>
<rect x="421.78" y="7.32" width="5.02" height="71.25" fill="url(#gBNB12)"/>
<linearGradient id="gBNB13" x1="0" y1="0" x2="0" y2="1"><stop offset="6.25%" stop-color="#ADB514"/><stop offset="18.75%" stop-color="#ADB514"/><stop offset="31.25%" stop-color="#ADB514"/><stop offset="43.75%" stop-color="#B8B61E"/><stop offset="56.25%" stop-color="#CCB935"/><stop offset="68.75%" stop-color="#D6BA40"/><stop offset="81.25%" stop-color="#D6BA40"/><stop offset="93.75%" stop-color="#D6BA40"/></linearGradient>
<rect x="426.75" y="7.32" width="5.02" height="71.25" fill="url(#gBNB13)"/>
<linearGradient id="gBNB14" x1="0" y1="0" x2="0" y2="1"><stop offset="6.25%" stop-color="#FFC181"/><stop offset="18.75%" stop-color="#FFC181"/><stop offset="31.25%" stop-color="#FFC181"/><stop offset="43.75%" stop-color="#FEC07C"/><stop offset="56.25%" stop-color="#FCBF72"/><stop offset="68.75%" stop-color="#F8BE6D"/><stop offset="81.25%" stop-color="#F8BE6D"/><stop offset="93.75%" stop-color="#F8BE6D"/></linearGradient>
<rect x="431.72" y="7.32" width="5.02" height="71.25" fill="url(#gBNB14)"/>
<linearGradient id="gBNB15" x1="0" y1="0" x2="0" y2="1"><stop offset="6.25%" stop-color="#D6BA40"/><stop offset="18.75%" stop-color="#DABB46"/><stop offset="31.25%" stop-color="#E3BB51"/><stop offset="43.75%" stop-color="#F0BD62"/><stop offset="56.25%" stop-color="#FDC077"/><stop offset="68.75%" stop-color="#FEC07C"/><stop offset="81.25%" stop-color="#FCBF72"/><stop offset="93.75%" stop-color="#F8BE6D"/></linearGradient>
<rect x="436.68" y="7.32" width="5.02" height="71.25" fill="url(#gBNB15)"/>
<linearGradient id="gBNB16" x1="0" y1="0" x2="0" y2="1"><stop offset="6.25%" stop-color="#C2B829"/><stop offset="18.75%" stop-color="#CCB935"/><stop offset="31.25%" stop-color="#DFBB4B"/><stop offset="43.75%" stop-color="#E8BC57"/><stop offset="56.25%" stop-color="#E8BC57"/><stop offset="68.75%" stop-color="#E8BC57"/><stop offset="81.25%" stop-color="#E8BC57"/><stop offset="93.75%" stop-color="#E8BC57"/></linearGradient>
<rect x="441.65" y="7.32" width="5.02" height="71.25" fill="url(#gBNB16)"/>
<linearGradient id="gBNB17" x1="0" y1="0" x2="0" y2="1"><stop offset="6.25%" stop-color="#ADB514"/><stop offset="18.75%" stop-color="#B8B61E"/><stop offset="31.25%" stop-color="#CCB935"/><stop offset="43.75%" stop-color="#E3BB50"/><stop offset="56.25%" stop-color="#FCBF72"/><stop offset="68.75%" stop-color="#FFC181"/><stop offset="81.25%" stop-color="#FFC181"/><stop offset="93.75%" stop-color="#FFC181"/></linearGradient>
<rect x="446.61" y="7.32" width="5.02" height="71.25" fill="url(#gBNB17)"/>
<linearGradient id="gBNB18" x1="0" y1="0" x2="0" y2="1"><stop offset="6.25%" stop-color="#ADB514"/><stop offset="18.75%" stop-color="#BDB724"/><stop offset="31.25%" stop-color="#DABB46"/><stop offset="43.75%" stop-color="#E8BC57"/><stop offset="56.25%" stop-color="#E8BC57"/><stop offset="68.75%" stop-color="#E3BB51"/><stop offset="81.25%" stop-color="#DABB46"/><stop offset="93.75%" stop-color="#D6BA40"/></linearGradient>
<rect x="451.58" y="7.32" width="5.02" height="71.25" fill="url(#gBNB18)"/>
<linearGradient id="gBNB19" x1="0" y1="0" x2="0" y2="1"><stop offset="6.25%" stop-color="#F8BE6D"/><stop offset="18.75%" stop-color="#F8BE6D"/><stop offset="31.25%" stop-color="#F8BE6D"/><stop offset="43.75%" stop-color="#F8BE6D"/><stop offset="56.25%" stop-color="#F8BE6D"/><stop offset="68.75%" stop-color="#F8BE6D"/><stop offset="81.25%" stop-color="#F8BE6D"/><stop offset="93.75%" stop-color="#F8BE6D"/></linearGradient>
<rect x="456.54" y="7.32" width="5.02" height="71.25" fill="url(#gBNB19)"/>
<linearGradient id="gBNB20" x1="0" y1="0" x2="0" y2="1"><stop offset="6.25%" stop-color="#FFC181"/><stop offset="18.75%" stop-color="#FEC07C"/><stop offset="31.25%" stop-color="#FCBF72"/><stop offset="43.75%" stop-color="#FDC077"/><stop offset="56.25%" stop-color="#FFC28C"/><stop offset="68.75%" stop-color="#FFC497"/><stop offset="81.25%" stop-color="#FFC497"/><stop offset="93.75%" stop-color="#FFC497"/></linearGradient>
<rect x="461.51" y="7.32" width="5.02" height="71.25" fill="url(#gBNB20)"/>
<linearGradient id="gBNB21" x1="0" y1="0" x2="0" y2="1"><stop offset="6.25%" stop-color="#FFC181"/><stop offset="18.75%" stop-color="#FFC181"/><stop offset="31.25%" stop-color="#FFC181"/><stop offset="43.75%" stop-color="#FEC07C"/><stop offset="56.25%" stop-color="#FCBF72"/><stop offset="68.75%" stop-color="#F8BE6D"/><stop offset="81.25%" stop-color="#F8BE6D"/><stop offset="93.75%" stop-color="#F8BE6D"/></linearGradient>
<rect x="466.47" y="7.32" width="5.02" height="71.25" fill="url(#gBNB21)"/>
<linearGradient id="gBNB22" x1="0" y1="0" x2="0" y2="1"><stop offset="6.25%" stop-color="#D6BA40"/><stop offset="18.75%" stop-color="#DABB46"/><stop offset="31.25%" stop-color="#E3BB51"/><stop offset="43.75%" stop-color="#F0BD62"/><stop offset="56.25%" stop-color="#FDC077"/><stop offset="68.75%" stop-color="#FFC181"/><stop offset="81.25%" stop-color="#FFC181"/><stop offset="93.75%" stop-color="#FFC181"/></linearGradient>
<rect x="471.44" y="7.32" width="5.02" height="71.25" fill="url(#gBNB22)"/>
<linearGradient id="gBNB23" x1="0" y1="0" x2="0" y2="1"><stop offset="6.25%" stop-color="#F8BE6D"/><stop offset="18.75%" stop-color="#F8BE6D"/><stop offset="31.25%" stop-color="#F8BE6D"/><stop offset="43.75%" stop-color="#F4BE67"/><stop offset="56.25%" stop-color="#ECBD5C"/><stop offset="68.75%" stop-color="#E8BC57"/><stop offset="81.25%" stop-color="#E8BC57"/><stop offset="93.75%" stop-color="#E8BC57"/></linearGradient>
<rect x="476.4" y="7.32" width="5.02" height="71.25" fill="url(#gBNB23)"/>
<linearGradient id="gBNB24" x1="0" y1="0" x2="0" y2="1"><stop offset="6.25%" stop-color="#C2B829"/><stop offset="18.75%" stop-color="#CCB935"/><stop offset="31.25%" stop-color="#DFBB4B"/><stop offset="43.75%" stop-color="#ECBD5C"/><stop offset="56.25%" stop-color="#F4BE67"/><stop offset="68.75%" stop-color="#F4BE67"/><stop offset="81.25%" stop-color="#ECBD5C"/><stop offset="93.75%" stop-color="#E8BC57"/></linearGradient>
<rect x="481.37" y="7.32" width="5.02" height="71.25" fill="url(#gBNB24)"/>
<linearGradient id="gBNB25" x1="0" y1="0" x2="0" y2="1"><stop offset="6.25%" stop-color="#E8BC57"/><stop offset="18.75%" stop-color="#E8BC57"/><stop offset="31.25%" stop-color="#E8BC57"/><stop offset="43.75%" stop-color="#F0BD62"/><stop offset="56.25%" stop-color="#FDC077"/><stop offset="68.75%" stop-color="#FFC181"/><stop offset="81.25%" stop-color="#FFC181"/><stop offset="93.75%" stop-color="#FFC181"/></linearGradient>
<rect x="486.33" y="7.32" width="7.97" height="71.25" fill="url(#gBNB25)"/>
<path d="M363.1 55.6L363.1 58.9L363.2 62.2L362.9 65.6L362.9 68.9L362.8 72.2L363.0 78.6L363.7 78.6L364.0 72.2L364.0 68.9L364.2 65.6L364.0 62.2L363.6 58.9L363.1 55.6Z" fill="#FFCBC0" fill-opacity="0.92"/>
<path d="M364.2 7.3L364.1 21.2L364.0 32.1L364.1 43.0L364.3 53.8L364.1 64.7L363.7 78.6L365.2 78.6L365.5 64.7L365.7 53.8L365.4 43.0L365.2 32.1L365.2 21.2L365.2 7.3Z" fill="#C7B82F" fill-opacity="0.92"/>
<path d="M366.3 7.3L366.4 14.6L366.4 18.8L366.2 23.1L366.0 27.3L366.0 31.6L366.2 35.9L366.2 35.9L366.1 31.6L366.6 27.3L366.8 23.1L366.8 18.8L366.8 14.6L366.8 7.3Z" fill="#BFB726" fill-opacity="0.92"/>
<path d="M368.1 20.4L367.8 29.6L367.6 38.8L367.0 48.0L367.3 57.2L367.1 66.4L367.6 78.6L368.2 78.6L368.2 66.4L368.2 57.2L368.4 48.0L368.5 38.8L368.2 29.6L368.2 20.4Z" fill="#FFC6A9" fill-opacity="0.92"/>
<path d="M369.3 19.8L369.2 29.1L368.8 38.4L369.0 47.7L369.2 57.0L368.9 66.3L368.4 78.6L370.7 78.6L371.0 66.3L371.3 57.0L370.9 47.7L370.6 38.4L370.1 29.1L369.4 19.8Z" fill="#FFC185" fill-opacity="0.92"/>
<path d="M370.9 7.3L370.4 21.2L370.4 32.1L370.4 43.0L370.3 53.8L370.4 64.7L369.9 78.6L371.7 78.6L371.7 64.7L372.2 53.8L372.2 43.0L371.6 32.1L371.8 21.2L371.8 7.3Z" fill="#7FAF11" fill-opacity="0.92"/>
<path d="M372.9 7.3L373.2 16.9L373.1 23.5L373.4 30.1L373.6 36.7L373.8 43.3L374.2 49.9L374.3 49.9L374.7 43.3L375.2 36.7L374.8 30.1L374.8 23.5L375.0 16.9L374.6 7.3Z" fill="#E3BB50" fill-opacity="0.92"/>
<path d="M374.5 7.3L374.7 21.2L374.9 32.1L375.1 43.0L374.5 53.8L375.2 64.7L375.0 78.6L376.7 78.6L376.1 64.7L376.1 53.8L376.0 43.0L376.1 32.1L375.9 21.2L376.0 7.3Z" fill="#A5B40C" fill-opacity="0.92"/>
<path d="M376.7 7.3L377.1 21.2L377.3 32.1L376.9 43.0L376.6 53.8L377.0 64.7L377.0 78.6L378.2 78.6L378.2 64.7L378.5 53.8L378.4 43.0L378.5 32.1L378.1 21.2L378.3 7.3Z" fill="#98B207" fill-opacity="0.92"/>
<path d="M379.1 53.4L378.4 57.1L378.1 60.8L377.4 64.5L376.8 68.2L377.4 71.9L376.7 78.6L379.1 78.6L378.7 71.9L379.2 68.2L379.2 64.5L379.1 60.8L379.3 57.1L379.1 53.4Z" fill="#FED4DB" fill-opacity="0.92"/>
<path d="M380.1 7.3L380.6 21.2L380.1 32.1L380.2 43.0L380.4 53.8L380.4 64.7L380.8 78.6L381.9 78.6L381.9 64.7L381.6 53.8L381.9 43.0L381.8 32.1L381.9 21.2L381.8 7.3Z" fill="#FFC7AE" fill-opacity="0.92"/>
<path d="M383.1 18.0L383.3 27.6L383.2 37.2L383.2 46.8L383.1 56.4L383.5 66.0L382.9 78.6L384.2 78.6L384.3 66.0L384.4 56.4L384.5 46.8L384.2 37.2L383.6 27.6L383.1 18.0Z" fill="#FBDBE1" fill-opacity="0.92"/>
<path d="M384.0 7.3L383.6 21.2L383.9 32.1L383.8 43.0L384.0 53.8L384.3 64.7L384.0 78.6L385.9 78.6L385.5 64.7L385.6 53.8L385.9 43.0L385.8 32.1L385.7 21.2L385.9 7.3Z" fill="#FBDBE1" fill-opacity="0.92"/>
<path d="M386.2 7.3L386.2 21.2L386.4 32.1L386.5 43.0L386.6 53.8L386.6 64.7L386.9 78.6L387.5 78.6L387.2 64.7L387.2 53.8L387.2 43.0L387.0 32.1L386.9 21.2L386.7 7.3Z" fill="#D2BA3C" fill-opacity="0.92"/>
<path d="M387.4 51.6L387.2 55.6L386.9 59.6L386.8 63.6L386.0 67.6L386.0 71.6L386.3 78.6L387.5 78.6L387.5 71.6L388.1 67.6L387.9 63.6L388.4 59.6L387.7 55.6L387.5 51.6Z" fill="#FFC7AC" fill-opacity="0.92"/>
<path d="M388.8 7.3L389.0 14.9L389.2 19.5L388.5 24.0L388.9 28.6L388.8 33.2L389.2 37.8L389.3 37.8L389.3 33.2L389.7 28.6L390.3 24.0L390.1 19.5L390.6 14.9L390.6 7.3Z" fill="#A1B409" fill-opacity="0.92"/>
<path d="M390.5 7.3L390.2 21.2L390.3 32.1L389.9 43.0L390.1 53.8L389.9 64.7L390.1 78.6L390.7 78.6L390.7 64.7L390.7 53.8L390.9 43.0L391.0 32.1L390.7 21.2L390.9 7.3Z" fill="#AAB510" fill-opacity="0.92"/>
<path d="M391.5 7.3L391.5 21.2L392.2 32.1L391.9 43.0L391.6 53.8L392.1 64.7L392.2 78.6L393.2 78.6L393.2 64.7L393.4 53.8L393.8 43.0L393.1 32.1L393.5 21.2L393.0 7.3Z" fill="#FFC9B9" fill-opacity="0.92"/>
<path d="M394.2 39.4L394.0 45.4L393.5 51.5L393.3 57.5L393.4 63.5L393.2 69.5L392.6 78.6L394.6 78.6L394.6 69.5L394.6 63.5L395.3 57.5L394.7 51.5L394.8 45.4L394.3 39.4Z" fill="#FFC5A1" fill-opacity="0.92"/>
<path d="M395.2 7.3L395.0 13.9L395.2 17.4L395.4 20.9L395.2 24.5L395.3 28.0L395.6 31.5L395.7 31.5L396.1 28.0L396.0 24.5L396.4 20.9L397.1 17.4L396.7 13.9L396.8 7.3Z" fill="#FFC180" fill-opacity="0.92"/>
<path d="M397.3 43.6L396.8 48.9L396.3 54.2L396.3 59.6L396.1 64.9L396.3 70.2L395.7 78.6L397.4 78.6L397.4 70.2L397.5 64.9L397.5 59.6L397.4 54.2L397.2 48.9L397.3 43.6Z" fill="#E5BC53" fill-opacity="0.92"/>
<path d="M398.2 50.4L398.1 54.6L397.8 58.8L398.0 63.0L397.9 67.2L397.8 71.4L397.6 78.6L398.7 78.6L398.8 71.4L399.0 67.2L399.1 63.0L398.8 58.8L398.5 54.6L398.3 50.4Z" fill="#E0BB4C" fill-opacity="0.92"/>
<path d="M398.9 7.3L399.1 21.2L398.9 32.1L399.1 43.0L399.3 53.8L399.1 64.7L398.8 78.6L401.1 78.6L400.6 64.7L401.0 53.8L401.2 43.0L401.2 32.1L401.0 21.2L400.8 7.3Z" fill="#EABC5A" fill-opacity="0.92"/>
<path d="M401.3 7.3L401.1 17.5L400.8 24.6L400.6 31.7L400.6 38.9L401.1 46.0L401.1 53.1L401.1 53.1L401.4 46.0L401.3 38.9L401.2 31.7L401.6 24.6L401.7 17.5L402.0 7.3Z" fill="#26A63A" fill-opacity="0.92"/>
<path d="M403.8 32.7L403.2 39.8L402.4 47.0L402.0 54.1L402.2 61.3L401.9 68.4L401.9 78.6L403.3 78.6L403.8 68.4L404.0 61.3L403.9 54.1L404.1 47.0L403.9 39.8L403.9 32.7Z" fill="#BBB722" fill-opacity="0.92"/>
<path d="M406.2 30.2L406.2 37.8L405.7 45.3L406.2 52.9L405.9 60.5L405.9 68.0L406.2 78.6L407.6 78.6L408.3 68.0L408.0 60.5L407.4 52.9L407.5 45.3L406.8 37.8L406.3 30.2Z" fill="#96B207" fill-opacity="0.92"/>
<path d="M407.3 7.3L407.0 21.2L406.9 32.1L406.7 43.0L406.9 53.8L406.7 64.7L406.6 78.6L407.2 78.6L407.7 64.7L407.5 53.8L407.4 43.0L407.7 32.1L408.0 21.2L408.2 7.3Z" fill="#7AAE15" fill-opacity="0.92"/>
<path d="M408.7 7.3L409.0 21.2L409.3 32.1L409.4 43.0L409.4 53.8L409.4 64.7L409.4 78.6L410.8 78.6L411.0 64.7L410.8 53.8L410.8 43.0L410.4 32.1L410.2 21.2L410.3 7.3Z" fill="#55AA2A" fill-opacity="0.92"/>
<path d="M410.7 7.3L410.8 21.2L411.1 32.1L411.3 43.0L411.4 53.8L411.6 64.7L411.5 78.6L412.7 78.6L412.6 64.7L412.4 53.8L412.4 43.0L412.1 32.1L411.7 21.2L412.2 7.3Z" fill="#F8BE6C" fill-opacity="0.92"/>
<path d="M413.1 7.3L412.9 21.2L413.5 32.1L413.9 43.0L414.1 53.8L413.7 64.7L414.0 78.6L415.2 78.6L415.1 64.7L415.2 53.8L414.9 43.0L414.7 32.1L415.0 21.2L414.4 7.3Z" fill="#9DB309" fill-opacity="0.92"/>
<path d="M415.3 7.3L415.1 16.0L415.0 21.7L414.9 27.4L414.6 33.1L415.1 38.8L415.6 44.5L415.7 44.5L415.6 38.8L415.6 33.1L415.6 27.4L416.2 21.7L415.9 16.0L416.3 7.3Z" fill="#C9B931" fill-opacity="0.92"/>
<path d="M417.1 7.3L417.3 21.2L417.1 32.1L417.5 43.0L417.6 53.8L417.8 64.7L418.1 78.6L418.9 78.6L418.7 64.7L418.6 53.8L418.3 43.0L418.1 32.1L417.9 21.2L418.0 7.3Z" fill="#FFC495" fill-opacity="0.92"/>
<path d="M418.1 7.3L418.4 21.2L418.4 32.1L418.5 43.0L418.2 53.8L417.9 64.7L418.2 78.6L419.2 78.6L419.1 64.7L419.3 53.8L419.4 43.0L419.6 32.1L419.3 21.2L419.2 7.3Z" fill="#FFC38E" fill-opacity="0.92"/>
<path d="M420.4 7.3L420.0 16.1L420.2 21.9L420.3 27.7L419.9 33.5L420.5 39.3L420.8 45.1L420.9 45.1L421.3 39.3L421.4 33.5L421.4 27.7L421.7 21.9L421.4 16.1L421.5 7.3Z" fill="#FFC9B9" fill-opacity="0.92"/>
<path d="M422.0 7.3L422.2 21.2L422.2 32.1L422.5 43.0L422.8 53.8L423.1 64.7L422.6 78.6L424.2 78.6L424.2 64.7L424.4 53.8L424.2 43.0L423.8 32.1L423.3 21.2L423.5 7.3Z" fill="#94B106" fill-opacity="0.92"/>
<path d="M425.1 35.8L425.1 42.4L424.9 49.0L424.9 55.7L425.3 62.3L425.4 68.9L425.7 78.6L426.3 78.6L426.4 68.9L426.1 62.3L425.9 55.7L425.7 49.0L425.3 42.4L425.2 35.8Z" fill="#B5B61B" fill-opacity="0.92"/>
<path d="M425.9 7.3L425.7 21.2L425.2 32.1L425.6 43.0L425.3 53.8L425.3 64.7L425.2 78.6L427.2 78.6L426.7 64.7L427.3 53.8L426.6 43.0L426.7 32.1L426.7 21.2L427.0 7.3Z" fill="#FFC390" fill-opacity="0.92"/>
<path d="M427.3 7.3L427.3 14.8L427.4 19.2L427.7 23.7L428.1 28.2L428.1 32.6L428.4 37.1L428.5 37.1L428.7 32.6L428.9 28.2L428.8 23.7L428.8 19.2L428.4 14.8L428.5 7.3Z" fill="#4CA92E" fill-opacity="0.92"/>
<path d="M429.2 7.3L429.5 21.2L428.9 32.1L429.2 43.0L429.2 53.8L429.2 64.7L429.0 78.6L430.0 78.6L430.3 64.7L430.6 53.8L430.5 43.0L430.3 32.1L430.2 21.2L430.6 7.3Z" fill="#F2BD64" fill-opacity="0.92"/>
<path d="M430.2 7.3L430.6 15.8L430.7 21.3L430.7 26.8L431.5 32.3L431.5 37.8L432.0 43.4L432.0 43.4L432.1 37.8L432.3 32.3L432.5 26.8L432.1 21.3L431.8 15.8L432.0 7.3Z" fill="#91B106" fill-opacity="0.92"/>
<path d="M432.2 7.3L432.2 21.2L432.4 32.1L432.2 43.0L431.9 53.8L431.3 64.7L431.5 78.6L432.7 78.6L432.9 64.7L433.0 53.8L433.1 43.0L433.2 32.1L433.1 21.2L433.1 7.3Z" fill="#FFC59E" fill-opacity="0.92"/>
<path d="M434.3 7.3L434.3 21.2L434.0 32.1L434.4 43.0L434.2 53.8L433.9 64.7L434.3 78.6L435.2 78.6L435.4 64.7L435.6 53.8L435.4 43.0L435.6 32.1L435.5 21.2L435.8 7.3Z" fill="#D7BA42" fill-opacity="0.92"/>
<path d="M436.2 7.3L436.7 17.5L436.6 24.6L437.1 31.8L437.1 39.0L437.0 46.1L437.4 53.3L437.5 53.3L437.4 46.1L437.7 39.0L437.7 31.8L437.7 24.6L437.4 17.5L437.3 7.3Z" fill="#BCB722" fill-opacity="0.92"/>
<path d="M437.7 7.3L437.5 21.2L437.4 32.1L437.6 43.0L437.8 53.8L438.2 64.7L437.8 78.6L439.1 78.6L439.1 64.7L439.0 53.8L438.9 43.0L438.8 32.1L438.8 21.2L438.5 7.3Z" fill="#AAB510" fill-opacity="0.92"/>
<path d="M439.5 32.9L439.2 40.0L438.7 47.1L438.3 54.2L438.7 61.4L438.6 68.5L439.2 78.6L440.0 78.6L440.1 68.5L439.7 61.4L439.9 54.2L439.9 47.1L439.6 40.0L439.5 32.9Z" fill="#FFC8B3" fill-opacity="0.92"/>
<path d="M440.8 7.3L440.8 21.2L441.2 32.1L440.9 43.0L440.7 53.8L440.2 64.7L440.6 78.6L441.5 78.6L441.5 64.7L441.4 53.8L441.6 43.0L442.0 32.1L442.0 21.2L441.4 7.3Z" fill="#A8B50F" fill-opacity="0.92"/>
<path d="M442.8 41.6L442.9 47.3L442.3 53.0L442.0 58.6L441.8 64.3L441.8 69.9L442.0 78.6L443.4 78.6L443.4 69.9L443.0 64.3L443.5 58.6L443.8 53.0L443.3 47.3L442.9 41.6Z" fill="#ACB512" fill-opacity="0.92"/>
<path d="M445.8 23.6L445.3 32.3L445.0 40.9L444.7 49.6L444.4 58.3L444.5 66.9L444.4 78.6L446.1 78.6L445.7 66.9L445.7 58.3L445.9 49.6L446.2 40.9L445.9 32.3L445.9 23.6Z" fill="#9CB308" fill-opacity="0.92"/>
<path d="M446.9 7.3L447.1 14.4L446.9 18.5L447.4 22.6L447.4 26.7L448.3 30.8L448.5 34.9L448.6 34.9L448.8 30.8L449.3 26.7L449.0 22.6L449.0 18.5L448.8 14.4L448.5 7.3Z" fill="#F9BF6E" fill-opacity="0.92"/>
<path d="M449.6 7.3L449.5 21.2L449.1 32.1L449.5 43.0L449.4 53.8L449.5 64.7L449.7 78.6L451.6 78.6L451.1 64.7L451.2 53.8L450.6 43.0L450.5 32.1L450.5 21.2L450.9 7.3Z" fill="#FFC8B1" fill-opacity="0.92"/>
<path d="M450.8 7.3L451.0 21.2L451.0 32.1L451.1 43.0L451.5 53.8L451.8 64.7L451.6 78.6L452.3 78.6L452.7 64.7L452.6 53.8L452.2 43.0L452.3 32.1L451.8 21.2L451.9 7.3Z" fill="#B1B617" fill-opacity="0.92"/>
<path d="M452.8 7.3L453.1 21.2L452.9 32.1L452.7 43.0L452.6 53.8L452.2 64.7L452.4 78.6L453.5 78.6L453.6 64.7L453.6 53.8L453.6 43.0L453.6 32.1L453.9 21.2L454.3 7.3Z" fill="#B9B71F" fill-opacity="0.92"/>
<path d="M454.4 7.3L454.9 21.2L455.0 32.1L454.7 43.0L455.0 53.8L455.0 64.7L454.7 78.6L455.6 78.6L455.6 64.7L456.0 53.8L455.9 43.0L456.0 32.1L455.6 21.2L455.6 7.3Z" fill="#AEB514" fill-opacity="0.92"/>
<path d="M456.3 7.3L456.8 21.2L456.7 32.1L456.3 43.0L456.4 53.8L456.2 64.7L456.2 78.6L457.5 78.6L457.2 64.7L457.3 53.8L457.9 43.0L457.6 32.1L458.2 21.2L458.1 7.3Z" fill="#A7B40E" fill-opacity="0.92"/>
<path d="M458.8 7.3L458.3 19.6L458.5 28.8L458.6 38.0L458.7 47.2L459.5 56.5L459.6 65.7L459.7 65.7L460.3 56.5L460.5 47.2L460.6 38.0L460.5 28.8L460.7 19.6L460.7 7.3Z" fill="#FFCABE" fill-opacity="0.92"/>
<path d="M460.8 7.3L460.8 21.2L460.6 32.1L460.7 43.0L460.7 53.8L460.3 64.7L460.6 78.6L462.6 78.6L462.8 64.7L462.7 53.8L462.2 43.0L462.7 32.1L462.8 21.2L463.3 7.3Z" fill="#FFCBC2" fill-opacity="0.92"/>
<path d="M463.0 7.3L462.9 21.2L463.1 32.1L463.0 43.0L462.9 53.8L463.3 64.7L462.8 78.6L465.4 78.6L464.7 64.7L465.1 53.8L465.3 43.0L465.7 32.1L465.2 21.2L464.7 7.3Z" fill="#FFCBC1" fill-opacity="0.92"/>
<path d="M465.4 49.2L465.2 53.6L464.8 58.0L464.5 62.4L464.3 66.8L464.2 71.2L464.1 78.6L465.2 78.6L464.8 71.2L465.3 66.8L465.2 62.4L465.5 58.0L465.5 53.6L465.5 49.2Z" fill="#D6BA40" fill-opacity="0.92"/>
<path d="M467.5 19.0L467.0 28.4L467.0 37.8L466.9 47.3L467.0 56.7L467.2 66.1L467.4 78.6L468.9 78.6L469.6 66.1L469.1 56.7L469.4 47.3L468.9 37.8L468.2 28.4L467.6 19.0Z" fill="#FFC7AC" fill-opacity="0.92"/>
<path d="M469.4 7.3L468.6 15.4L469.3 20.5L469.7 25.6L469.1 30.7L469.9 35.8L470.3 40.9L470.4 40.9L470.8 35.8L471.2 30.7L471.1 25.6L471.4 20.5L471.4 15.4L471.1 7.3Z" fill="#BDB724" fill-opacity="0.92"/>
<path d="M471.7 7.3L472.4 20.0L472.4 29.7L472.3 39.4L472.0 49.1L472.3 58.8L472.7 68.5L472.7 68.5L473.0 58.8L473.7 49.1L473.6 39.4L473.7 29.7L473.4 20.0L473.8 7.3Z" fill="#CAB932" fill-opacity="0.92"/>
<path d="M474.4 7.3L474.4 13.9L474.3 17.4L474.4 21.0L474.8 24.5L474.6 28.1L474.9 31.6L474.9 31.6L475.1 28.1L475.3 24.5L475.3 21.0L475.3 17.4L475.7 13.9L475.1 7.3Z" fill="#93B106" fill-opacity="0.92"/>
<path d="M475.6 7.3L475.7 21.2L476.1 32.1L476.3 43.0L476.4 53.8L476.2 64.7L476.2 78.6L476.9 78.6L476.8 64.7L477.0 53.8L477.3 43.0L476.9 32.1L476.7 21.2L476.9 7.3Z" fill="#FFC5A0" fill-opacity="0.92"/>
<path d="M478.0 35.2L478.0 41.9L478.0 48.6L477.6 55.4L477.3 62.1L477.2 68.8L477.1 78.6L478.6 78.6L478.7 68.8L478.6 62.1L478.5 55.4L478.7 48.6L478.6 41.9L478.1 35.2Z" fill="#B9B71F" fill-opacity="0.92"/>
<path d="M479.3 7.3L479.5 15.4L479.5 20.4L479.0 25.5L480.0 30.5L480.2 35.6L480.3 40.6L480.4 40.6L480.7 35.6L480.9 30.5L481.2 25.5L480.8 20.4L481.5 15.4L480.9 7.3Z" fill="#B5B61B" fill-opacity="0.92"/>
<path d="M481.4 7.3L480.5 21.2L480.8 32.1L480.5 43.0L480.4 53.8L481.0 64.7L480.7 78.6L482.7 78.6L482.4 64.7L483.2 53.8L482.6 43.0L483.0 32.1L483.2 21.2L482.8 7.3Z" fill="#FFC8B4" fill-opacity="0.92"/>
<path d="M483.5 7.3L483.1 21.2L483.0 32.1L483.6 43.0L483.9 53.8L483.8 64.7L483.7 78.6L485.2 78.6L485.0 64.7L485.6 53.8L485.2 43.0L485.1 32.1L485.3 21.2L485.1 7.3Z" fill="#FFC6A3" fill-opacity="0.92"/>
<path d="M485.5 7.3L485.6 21.2L485.8 32.1L485.9 43.0L486.1 53.8L486.5 64.7L486.3 78.6L487.1 78.6L487.0 64.7L487.0 53.8L486.5 43.0L486.8 32.1L486.6 21.2L486.4 7.3Z" fill="#AFB516" fill-opacity="0.92"/>
<path d="M486.1 7.3L486.5 21.2L486.1 32.1L486.3 43.0L486.1 53.8L486.3 64.7L485.8 78.6L488.4 78.6L488.3 64.7L488.9 53.8L488.2 43.0L488.8 32.1L488.0 21.2L488.8 7.3Z" fill="#FFC59B" fill-opacity="0.92"/>
<path d="M489.2 7.3L489.1 15.0L489.0 19.6L488.7 24.2L489.1 28.8L489.3 33.5L489.4 38.1L489.4 38.1L489.6 33.5L489.8 28.8L489.8 24.2L490.1 19.6L489.7 15.0L490.2 7.3Z" fill="#B2B618" fill-opacity="0.92"/>
<path d="M490.4 7.3L490.1 21.2L490.3 32.1L490.0 43.0L489.9 53.8L489.8 64.7L489.7 78.6L491.6 78.6L491.9 64.7L491.5 53.8L492.0 43.0L491.7 32.1L491.8 21.2L491.7 7.3Z" fill="#BCB723" fill-opacity="0.92"/>
</g></g>
<path d="M362.2 6.7H491.3M362.2 79.2H491.3" fill="none" stroke="#cdcdcd" stroke-width="0.9"/>
<path d="M491.3 6.7V79.2" fill="none" stroke="#a8a8a8" stroke-width="0.8"/>
<path d="M362.2 6.7V79.2" fill="none" stroke="#c4c4c4" stroke-width="0.8"/>
<path d="M361.2 79.2H362.2" stroke="#888" stroke-width="0.4"/>
<text x="359.7" y="80.1" class="t" text-anchor="end">0.0</text>
<path d="M361.2 64.7H362.2" stroke="#888" stroke-width="0.4"/>
<text x="359.7" y="65.6" class="t" text-anchor="end">0.2</text>
<path d="M361.2 50.2H362.2" stroke="#888" stroke-width="0.4"/>
<text x="359.7" y="51.1" class="t" text-anchor="end">0.4</text>
<path d="M361.2 35.7H362.2" stroke="#888" stroke-width="0.4"/>
<text x="359.7" y="36.6" class="t" text-anchor="end">0.6</text>
<path d="M361.2 21.2H362.2" stroke="#888" stroke-width="0.4"/>
<text x="359.7" y="22.1" class="t" text-anchor="end">0.8</text>
<path d="M361.2 6.7H362.2" stroke="#888" stroke-width="0.4"/>
<text x="359.7" y="7.6" class="t" text-anchor="end">1.0</text>
<path d="M374.2 79.2V80.4" stroke="#888" stroke-width="0.4"/>
<text x="374.5" y="84.7" class="t" text-anchor="middle">2019</text>
<path d="M403.7 79.2V80.4" stroke="#888" stroke-width="0.4"/>
<text x="404" y="84.7" class="t" text-anchor="middle">2020</text>
<path d="M433.2 79.2V80.4" stroke="#888" stroke-width="0.4"/>
<text x="433.5" y="84.7" class="t" text-anchor="middle">2021</text>
<path d="M462.7 79.2V80.4" stroke="#888" stroke-width="0.4"/>
<text x="463" y="84.7" class="t" text-anchor="middle">2022</text>
<text x="426.75" y="90.3" class="l" text-anchor="middle">Date</text>
<text transform="translate(353.65,42.95) rotate(-90)" class="l" text-anchor="middle">Quantiles</text>
<text x="426.75" y="4" class="m" text-anchor="middle">BNB</text>
<rect x="497" y="75.38" width="5.8" height="3.82" fill="#26A63A" stroke="#555" stroke-width="0.35"/>
<rect x="497" y="71.57" width="5.8" height="3.82" fill="#4EA92D" stroke="#555" stroke-width="0.35"/>
<rect x="497" y="67.75" width="5.8" height="3.82" fill="#68AC20" stroke="#555" stroke-width="0.35"/>
<rect x="497" y="63.94" width="5.8" height="3.82" fill="#7EAF12" stroke="#555" stroke-width="0.35"/>
<rect x="497" y="60.12" width="5.8" height="3.82" fill="#92B106" stroke="#555" stroke-width="0.35"/>
<rect x="497" y="56.31" width="5.8" height="3.82" fill="#A3B40A" stroke="#555" stroke-width="0.35"/>
<rect x="497" y="52.49" width="5.8" height="3.82" fill="#B4B61A" stroke="#555" stroke-width="0.35"/>
<rect x="497" y="48.67" width="5.8" height="3.82" fill="#C4B82B" stroke="#555" stroke-width="0.35"/>
<rect x="497" y="44.86" width="5.8" height="3.82" fill="#D3BA3D" stroke="#555" stroke-width="0.35"/>
<rect x="497" y="41.04" width="5.8" height="3.82" fill="#E1BB4E" stroke="#555" stroke-width="0.35"/>
<rect x="497" y="37.23" width="5.8" height="3.82" fill="#EFBD60" stroke="#555" stroke-width="0.35"/>
<rect x="497" y="33.41" width="5.8" height="3.82" fill="#FCBF72" stroke="#555" stroke-width="0.35"/>
<rect x="497" y="29.59" width="5.8" height="3.82" fill="#FFC183" stroke="#555" stroke-width="0.35"/>
<rect x="497" y="25.78" width="5.8" height="3.82" fill="#FFC495" stroke="#555" stroke-width="0.35"/>
<rect x="497" y="21.96" width="5.8" height="3.82" fill="#FFC6A7" stroke="#555" stroke-width="0.35"/>
<rect x="497" y="18.15" width="5.8" height="3.82" fill="#FFC9B8" stroke="#555" stroke-width="0.35"/>
<rect x="497" y="14.33" width="5.8" height="3.82" fill="#FFCDC9" stroke="#555" stroke-width="0.35"/>
<rect x="497" y="10.52" width="5.8" height="3.82" fill="#FFD2DA" stroke="#555" stroke-width="0.35"/>
<rect x="497" y="6.7" width="5.8" height="3.82" fill="#F1F1F1" stroke="#555" stroke-width="0.35"/>
<path d="M502.8 14.5H503.9" stroke="#888" stroke-width="0.4"/>
<text x="505.4" y="15.5" class="k">30</text>
<path d="M502.8 24.1H503.9" stroke="#888" stroke-width="0.4"/>
<text x="505.4" y="25.1" class="k">20</text>
<path d="M502.8 33.7H503.9" stroke="#888" stroke-width="0.4"/>
<text x="505.4" y="34.7" class="k">10</text>
<path d="M502.8 43H503.9" stroke="#888" stroke-width="0.4"/>
<text x="505.4" y="44" class="k">0</text>
<path d="M502.8 52.5H503.9" stroke="#888" stroke-width="0.4"/>
<text x="505.4" y="53.5" class="k">-10</text>
<path d="M502.8 62.1H503.9" stroke="#888" stroke-width="0.4"/>
<text x="505.4" y="63.1" class="k">-20</text>
<path d="M502.8 71.7H503.9" stroke="#888" stroke-width="0.4"/>
<text x="505.4" y="72.7" class="k">-30</text>
<clipPath id="cBAT"><rect x="536.7" y="10.23" width="129.1" height="65.34"/></clipPath>
<g clip-path="url(#cBAT)"><g filter="url(#hb)">
<linearGradient id="gBAT0" x1="0" y1="0" x2="0" y2="1"><stop offset="6.25%" stop-color="#B2B618"/><stop offset="18.75%" stop-color="#BCB723"/><stop offset="31.25%" stop-color="#CFB938"/><stop offset="43.75%" stop-color="#D3BA3D"/><stop offset="56.25%" stop-color="#CAB932"/><stop offset="68.75%" stop-color="#CAB932"/><stop offset="81.25%" stop-color="#D3BA3D"/><stop offset="93.75%" stop-color="#D7BA42"/></linearGradient>
<rect x="533.7" y="7.23" width="8.02" height="71.34" fill="url(#gBAT0)"/>
<linearGradient id="gBAT1" x1="0" y1="0" x2="0" y2="1"><stop offset="6.25%" stop-color="#D7BA42"/><stop offset="18.75%" stop-color="#DBBB47"/><stop offset="31.25%" stop-color="#E4BB52"/><stop offset="43.75%" stop-color="#E8BC57"/><stop offset="56.25%" stop-color="#E8BC57"/><stop offset="68.75%" stop-color="#E8BC57"/><stop offset="81.25%" stop-color="#E8BC57"/><stop offset="93.75%" stop-color="#E8BC57"/></linearGradient>
<rect x="541.67" y="7.23" width="5.02" height="71.34" fill="url(#gBAT1)"/>
<linearGradient id="gBAT2" x1="0" y1="0" x2="0" y2="1"><stop offset="6.25%" stop-color="#FFC181"/><stop offset="18.75%" stop-color="#FFC181"/><stop offset="31.25%" stop-color="#FFC181"/><stop offset="43.75%" stop-color="#FFC181"/><stop offset="56.25%" stop-color="#FFC181"/><stop offset="68.75%" stop-color="#FFC181"/><stop offset="81.25%" stop-color="#FFC181"/><stop offset="93.75%" stop-color="#FFC181"/></linearGradient>
<rect x="546.63" y="7.23" width="5.02" height="71.34" fill="url(#gBAT2)"/>
<linearGradient id="gBAT3" x1="0" y1="0" x2="0" y2="1"><stop offset="6.25%" stop-color="#E8BC57"/><stop offset="18.75%" stop-color="#E8BC57"/><stop offset="31.25%" stop-color="#E8BC57"/><stop offset="43.75%" stop-color="#E4BB52"/><stop offset="56.25%" stop-color="#DBBB47"/><stop offset="68.75%" stop-color="#D7BA42"/><stop offset="81.25%" stop-color="#D7BA42"/><stop offset="93.75%" stop-color="#D7BA42"/></linearGradient>
<rect x="551.6" y="7.23" width="5.02" height="71.34" fill="url(#gBAT3)"/>
<linearGradient id="gBAT4" x1="0" y1="0" x2="0" y2="1"><stop offset="6.25%" stop-color="#C6B82D"/><stop offset="18.75%" stop-color="#CAB932"/><stop offset="31.25%" stop-color="#D3BA3D"/><stop offset="43.75%" stop-color="#DBBB47"/><stop offset="56.25%" stop-color="#E4BB52"/><stop offset="68.75%" stop-color="#E8BC57"/><stop offset="81.25%" stop-color="#E8BC57"/><stop offset="93.75%" stop-color="#E8BC57"/></linearGradient>
<rect x="556.56" y="7.23" width="5.02" height="71.34" fill="url(#gBAT4)"/>
<linearGradient id="gBAT5" x1="0" y1="0" x2="0" y2="1"><stop offset="6.25%" stop-color="#B2B618"/><stop offset="18.75%" stop-color="#B2B618"/><stop offset="31.25%" stop-color="#B2B618"/><stop offset="43.75%" stop-color="#B2B618"/><stop offset="56.25%" stop-color="#B2B618"/><stop offset="68.75%" stop-color="#B2B618"/><stop offset="81.25%" stop-color="#B2B618"/><stop offset="93.75%" stop-color="#B2B618"/></linearGradient>
<rect x="561.53" y="7.23" width="5.02" height="71.34" fill="url(#gBAT5)"/>
<linearGradient id="gBAT6" x1="0" y1="0" x2="0" y2="1"><stop offset="6.25%" stop-color="#C6B82D"/><stop offset="18.75%" stop-color="#C6B82D"/><stop offset="31.25%" stop-color="#C6B82D"/><stop offset="43.75%" stop-color="#C6B82D"/><stop offset="56.25%" stop-color="#C6B82D"/><stop offset="68.75%" stop-color="#C6B82D"/><stop offset="81.25%" stop-color="#C6B82D"/><stop offset="93.75%" stop-color="#C6B82D"/></linearGradient>
<rect x="566.49" y="7.23" width="5.02" height="71.34" fill="url(#gBAT6)"/>
<linearGradient id="gBAT7" x1="0" y1="0" x2="0" y2="1"><stop offset="6.25%" stop-color="#D7BA42"/><stop offset="18.75%" stop-color="#D7BA42"/><stop offset="31.25%" stop-color="#D7BA42"/><stop offset="43.75%" stop-color="#E0BB4C"/><stop offset="56.25%" stop-color="#F0BD62"/><stop offset="68.75%" stop-color="#F8BE6D"/><stop offset="81.25%" stop-color="#F8BE6D"/><stop offset="93.75%" stop-color="#F8BE6D"/></linearGradient>
<rect x="571.46" y="7.23" width="5.02" height="71.34" fill="url(#gBAT7)"/>
<linearGradient id="gBAT8" x1="0" y1="0" x2="0" y2="1"><stop offset="6.25%" stop-color="#E8BC57"/><stop offset="18.75%" stop-color="#E8BC57"/><stop offset="31.25%" stop-color="#E8BC57"/><stop offset="43.75%" stop-color="#E0BB4C"/><stop offset="56.25%" stop-color="#CEB938"/><stop offset="68.75%" stop-color="#C6B82D"/><stop offset="81.25%" stop-color="#C6B82D"/><stop offset="93.75%" stop-color="#C6B82D"/></linearGradient>
<rect x="576.42" y="7.23" width="5.02" height="71.34" fill="url(#gBAT8)"/>
<linearGradient id="gBAT9" x1="0" y1="0" x2="0" y2="1"><stop offset="6.25%" stop-color="#F8BE6D"/><stop offset="18.75%" stop-color="#F8BE6D"/><stop offset="31.25%" stop-color="#F8BE6D"/><stop offset="43.75%" stop-color="#ECBD5C"/><stop offset="56.25%" stop-color="#D3BA3D"/><stop offset="68.75%" stop-color="#C6B82D"/><stop offset="81.25%" stop-color="#C6B82D"/><stop offset="93.75%" stop-color="#C6B82D"/></linearGradient>
<rect x="581.39" y="7.23" width="5.02" height="71.34" fill="url(#gBAT9)"/>
<linearGradient id="gBAT10" x1="0" y1="0" x2="0" y2="1"><stop offset="6.25%" stop-color="#FFC497"/><stop offset="18.75%" stop-color="#FFC497"/><stop offset="31.25%" stop-color="#FFC497"/><stop offset="43.75%" stop-color="#FFC497"/><stop offset="56.25%" stop-color="#FFC497"/><stop offset="68.75%" stop-color="#FFC497"/><stop offset="81.25%" stop-color="#FFC497"/><stop offset="93.75%" stop-color="#FFC497"/></linearGradient>
<rect x="586.35" y="7.23" width="5.02" height="71.34" fill="url(#gBAT10)"/>
<linearGradient id="gBAT11" x1="0" y1="0" x2="0" y2="1"><stop offset="6.25%" stop-color="#FFC497"/><stop offset="18.75%" stop-color="#FFC59C"/><stop offset="31.25%" stop-color="#FFC6A7"/><stop offset="43.75%" stop-color="#FFC7AC"/><stop offset="56.25%" stop-color="#FFC7AC"/><stop offset="68.75%" stop-color="#FFC7AC"/><stop offset="81.25%" stop-color="#FFC7AC"/><stop offset="93.75%" stop-color="#FFC7AC"/></linearGradient>
<rect x="591.32" y="7.23" width="5.02" height="71.34" fill="url(#gBAT11)"/>
<linearGradient id="gBAT12" x1="0" y1="0" x2="0" y2="1"><stop offset="6.25%" stop-color="#C6B82D"/><stop offset="18.75%" stop-color="#C6B82D"/><stop offset="31.25%" stop-color="#C6B82D"/><stop offset="43.75%" stop-color="#C6B82D"/><stop offset="56.25%" stop-color="#C6B82D"/><stop offset="68.75%" stop-color="#C6B82D"/><stop offset="81.25%" stop-color="#C6B82D"/><stop offset="93.75%" stop-color="#C6B82D"/></linearGradient>
<rect x="596.28" y="7.23" width="5.02" height="71.34" fill="url(#gBAT12)"/>
<linearGradient id="gBAT13" x1="0" y1="0" x2="0" y2="1"><stop offset="6.25%" stop-color="#F8BE6D"/><stop offset="18.75%" stop-color="#F8BE6D"/><stop offset="31.25%" stop-color="#F8BE6D"/><stop offset="43.75%" stop-color="#F0BD62"/><stop offset="56.25%" stop-color="#E0BB4C"/><stop offset="68.75%" stop-color="#D3BA3D"/><stop offset="81.25%" stop-color="#CAB932"/><stop offset="93.75%" stop-color="#C6B82D"/></linearGradient>
<rect x="601.25" y="7.23" width="5.02" height="71.34" fill="url(#gBAT13)"/>
<linearGradient id="gBAT14" x1="0" y1="0" x2="0" y2="1"><stop offset="6.25%" stop-color="#F8BE6D"/><stop offset="18.75%" stop-color="#F8BE6D"/><stop offset="31.25%" stop-color="#F8BE6D"/><stop offset="43.75%" stop-color="#FCBF72"/><stop offset="56.25%" stop-color="#FEC07C"/><stop offset="68.75%" stop-color="#FEC07C"/><stop offset="81.25%" stop-color="#FCBF72"/><stop offset="93.75%" stop-color="#F8BE6D"/></linearGradient>
<rect x="606.22" y="7.23" width="5.02" height="71.34" fill="url(#gBAT14)"/>
<linearGradient id="gBAT15" x1="0" y1="0" x2="0" y2="1"><stop offset="6.25%" stop-color="#B2B618"/><stop offset="18.75%" stop-color="#B7B61D"/><stop offset="31.25%" stop-color="#C1B828"/><stop offset="43.75%" stop-color="#C6B82D"/><stop offset="56.25%" stop-color="#C6B82D"/><stop offset="68.75%" stop-color="#C6B82D"/><stop offset="81.25%" stop-color="#C6B82D"/><stop offset="93.75%" stop-color="#C6B82D"/></linearGradient>
<rect x="611.18" y="7.23" width="5.02" height="71.34" fill="url(#gBAT15)"/>
<linearGradient id="gBAT16" x1="0" y1="0" x2="0" y2="1"><stop offset="6.25%" stop-color="#E8BC57"/><stop offset="18.75%" stop-color="#E8BC57"/><stop offset="31.25%" stop-color="#E8BC57"/><stop offset="43.75%" stop-color="#E4BB52"/><stop offset="56.25%" stop-color="#DBBB47"/><stop offset="68.75%" stop-color="#D7BA42"/><stop offset="81.25%" stop-color="#D7BA42"/><stop offset="93.75%" stop-color="#D7BA42"/></linearGradient>
<rect x="616.15" y="7.23" width="5.02" height="71.34" fill="url(#gBAT16)"/>
<linearGradient id="gBAT17" x1="0" y1="0" x2="0" y2="1"><stop offset="6.25%" stop-color="#FFC181"/><stop offset="18.75%" stop-color="#FFC181"/><stop offset="31.25%" stop-color="#FFC181"/><stop offset="43.75%" stop-color="#FFC181"/><stop offset="56.25%" stop-color="#FFC181"/><stop offset="68.75%" stop-color="#FFC181"/><stop offset="81.25%" stop-color="#FFC181"/><stop offset="93.75%" stop-color="#FFC181"/></linearGradient>
<rect x="621.11" y="7.23" width="5.02" height="71.34" fill="url(#gBAT17)"/>
<linearGradient id="gBAT18" x1="0" y1="0" x2="0" y2="1"><stop offset="6.25%" stop-color="#FFC497"/><stop offset="18.75%" stop-color="#FFC497"/><stop offset="31.25%" stop-color="#FFC497"/><stop offset="43.75%" stop-color="#FFC391"/><stop offset="56.25%" stop-color="#FFC287"/><stop offset="68.75%" stop-color="#FFC181"/><stop offset="81.25%" stop-color="#FFC181"/><stop offset="93.75%" stop-color="#FFC181"/></linearGradient>
<rect x="626.08" y="7.23" width="5.02" height="71.34" fill="url(#gBAT18)"/>
<linearGradient id="gBAT19" x1="0" y1="0" x2="0" y2="1"><stop offset="6.25%" stop-color="#C6B82D"/><stop offset="18.75%" stop-color="#CAB932"/><stop offset="31.25%" stop-color="#D3BA3D"/><stop offset="43.75%" stop-color="#E0BB4C"/><stop offset="56.25%" stop-color="#F0BD62"/><stop offset="68.75%" stop-color="#F4BE67"/><stop offset="81.25%" stop-color="#ECBD5C"/><stop offset="93.75%" stop-color="#E8BC57"/></linearGradient>
<rect x="631.04" y="7.23" width="5.02" height="71.34" fill="url(#gBAT19)"/>
<linearGradient id="gBAT20" x1="0" y1="0" x2="0" y2="1"><stop offset="6.25%" stop-color="#FFC181"/><stop offset="18.75%" stop-color="#FEC07C"/><stop offset="31.25%" stop-color="#FCBF72"/><stop offset="43.75%" stop-color="#F4BE67"/><stop offset="56.25%" stop-color="#ECBD5C"/><stop offset="68.75%" stop-color="#E8BC57"/><stop offset="81.25%" stop-color="#E8BC57"/><stop offset="93.75%" stop-color="#E8BC57"/></linearGradient>
<rect x="636.01" y="7.23" width="5.02" height="71.34" fill="url(#gBAT20)"/>
<linearGradient id="gBAT21" x1="0" y1="0" x2="0" y2="1"><stop offset="6.25%" stop-color="#C6B82D"/><stop offset="18.75%" stop-color="#C1B828"/><stop offset="31.25%" stop-color="#B7B61D"/><stop offset="43.75%" stop-color="#B7B61D"/><stop offset="56.25%" stop-color="#C1B828"/><stop offset="68.75%" stop-color="#C6B82D"/><stop offset="81.25%" stop-color="#C6B82D"/><stop offset="93.75%" stop-color="#C6B82D"/></linearGradient>
<rect x="640.97" y="7.23" width="5.02" height="71.34" fill="url(#gBAT21)"/>
<linearGradient id="gBAT22" x1="0" y1="0" x2="0" y2="1"><stop offset="6.25%" stop-color="#FFC181"/><stop offset="18.75%" stop-color="#FFC181"/><stop offset="31.25%" stop-color="#FFC181"/><stop offset="43.75%" stop-color="#FFC28C"/><stop offset="56.25%" stop-color="#FFC5A2"/><stop offset="68.75%" stop-color="#FFC7AC"/><stop offset="81.25%" stop-color="#FFC7AC"/><stop offset="93.75%" stop-color="#FFC7AC"/></linearGradient>
<rect x="645.94" y="7.23" width="5.02" height="71.34" fill="url(#gBAT22)"/>
<linearGradient id="gBAT23" x1="0" y1="0" x2="0" y2="1"><stop offset="6.25%" stop-color="#FFC497"/><stop offset="18.75%" stop-color="#FFC497"/><stop offset="31.25%" stop-color="#FFC497"/><stop offset="43.75%" stop-color="#FFC59C"/><stop offset="56.25%" stop-color="#FFC6A7"/><stop offset="68.75%" stop-color="#FFC6A7"/><stop offset="81.25%" stop-color="#FFC59C"/><stop offset="93.75%" stop-color="#FFC497"/></linearGradient>
<rect x="650.9" y="7.23" width="5.02" height="71.34" fill="url(#gBAT23)"/>
<linearGradient id="gBAT24" x1="0" y1="0" x2="0" y2="1"><stop offset="6.25%" stop-color="#FFC7AC"/><stop offset="18.75%" stop-color="#FFC8B1"/><stop offset="31.25%" stop-color="#FFCABB"/><stop offset="43.75%" stop-color="#FFCBC0"/><stop offset="56.25%" stop-color="#FFCBC0"/><stop offset="68.75%" stop-color="#FFCBC0"/><stop offset="81.25%" stop-color="#FFCBC0"/><stop offset="93.75%" stop-color="#FFCBC0"/></linearGradient>
<rect x="655.87" y="7.23" width="5.02" height="71.34" fill="url(#gBAT24)"/>
<linearGradient id="gBAT25" x1="0" y1="0" x2="0" y2="1"><stop offset="6.25%" stop-color="#FFC181"/><stop offset="18.75%" stop-color="#FFC287"/><stop offset="31.25%" stop-color="#FFC391"/><stop offset="43.75%" stop-color="#FFC497"/><stop offset="56.25%" stop-color="#FFC497"/><stop offset="68.75%" stop-color="#FFC497"/><stop offset="81.25%" stop-color="#FFC497"/><stop offset="93.75%" stop-color="#FFC497"/></linearGradient>
<rect x="660.83" y="7.23" width="7.97" height="71.34" fill="url(#gBAT25)"/>
<path d="M537.2 7.2L537.0 21.1L537.0 32.0L537.3 42.9L537.3 53.8L537.2 64.7L537.5 78.6L538.3 78.6L538.4 64.7L538.3 53.8L538.7 42.9L538.3 32.0L538.5 21.1L538.7 7.2Z" fill="#95B207" fill-opacity="0.92"/>
<path d="M539.5 28.2L539.5 36.1L539.2 44.0L539.2 51.9L538.9 59.8L538.8 67.7L538.6 78.6L539.7 78.6L540.0 67.7L540.3 59.8L540.1 51.9L540.4 44.0L539.9 36.1L539.6 28.2Z" fill="#97B207" fill-opacity="0.92"/>
<path d="M540.6 7.2L540.7 21.1L540.5 32.0L540.5 42.9L540.5 53.8L540.3 64.7L540.0 78.6L541.2 78.6L541.4 64.7L541.1 53.8L541.2 42.9L541.2 32.0L541.3 21.1L541.3 7.2Z" fill="#FFC493" fill-opacity="0.92"/>
<path d="M541.5 7.2L541.8 18.0L541.7 25.9L541.8 33.7L542.0 41.5L541.9 49.3L542.5 57.1L542.7 57.1L542.8 49.3L543.2 41.5L542.9 33.7L543.3 25.9L543.1 18.0L543.2 7.2Z" fill="#8BB00A" fill-opacity="0.92"/>
<path d="M544.8 54.6L544.7 58.1L544.5 61.6L544.6 65.1L544.6 68.6L544.3 72.1L544.4 78.6L545.5 78.6L545.7 72.1L545.9 68.6L546.0 65.1L545.6 61.6L545.3 58.1L544.8 54.6Z" fill="#9FB309" fill-opacity="0.92"/>
<path d="M546.7 47.1L546.4 51.8L545.7 56.6L545.5 61.3L546.0 66.1L545.4 70.8L546.2 78.6L547.6 78.6L547.8 70.8L547.4 66.1L547.6 61.3L547.4 56.6L547.1 51.8L546.8 47.1Z" fill="#FFCABE" fill-opacity="0.92"/>
<path d="M548.3 7.2L547.8 21.1L548.3 32.0L548.8 42.9L548.5 53.8L549.2 64.7L548.9 78.6L551.4 78.6L550.6 64.7L550.9 53.8L550.4 42.9L550.3 32.0L550.2 21.1L550.0 7.2Z" fill="#FFD0D3" fill-opacity="0.92"/>
<path d="M550.4 7.2L550.5 21.1L550.2 32.0L550.3 42.9L550.3 53.8L550.4 64.7L550.5 78.6L552.3 78.6L552.2 64.7L552.1 53.8L551.9 42.9L551.8 32.0L551.5 21.1L551.6 7.2Z" fill="#FFCCC4" fill-opacity="0.92"/>
<path d="M551.6 7.2L551.3 21.1L552.0 32.0L551.7 42.9L551.5 53.8L551.9 64.7L551.8 78.6L554.0 78.6L553.8 64.7L553.8 53.8L554.0 42.9L553.2 32.0L553.3 21.1L553.7 7.2Z" fill="#FFC6A4" fill-opacity="0.92"/>
<path d="M554.6 7.2L554.8 21.1L554.5 32.0L554.6 42.9L554.9 53.8L554.9 64.7L554.9 78.6L557.0 78.6L556.8 64.7L556.8 53.8L556.7 42.9L556.5 32.0L556.6 21.1L556.2 7.2Z" fill="#FFC38C" fill-opacity="0.92"/>
<path d="M556.8 7.2L557.1 21.1L557.6 32.0L556.8 42.9L556.6 53.8L556.7 64.7L556.1 78.6L558.9 78.6L558.9 64.7L559.3 53.8L559.6 42.9L558.9 32.0L559.0 21.1L558.7 7.2Z" fill="#FFC287" fill-opacity="0.92"/>
<path d="M558.5 7.2L558.9 14.4L558.8 18.5L558.9 22.7L559.4 26.9L559.3 31.0L559.3 35.2L559.3 35.2L559.9 31.0L560.0 26.9L560.0 22.7L559.6 18.5L559.7 14.4L559.5 7.2Z" fill="#F9BF6E" fill-opacity="0.92"/>
<path d="M560.9 7.2L560.4 19.2L560.8 28.2L560.6 37.2L560.6 46.1L561.1 55.1L561.1 64.1L561.1 64.1L561.6 55.1L562.2 46.1L562.3 37.2L562.3 28.2L562.4 19.2L562.0 7.2Z" fill="#8DB109" fill-opacity="0.92"/>
<path d="M562.7 19.8L562.3 29.1L562.1 38.4L562.0 47.7L561.6 57.0L561.6 66.3L561.9 78.6L563.2 78.6L563.5 66.3L562.9 57.0L563.0 47.7L562.9 38.4L562.8 29.1L562.8 19.8Z" fill="#FBBF71" fill-opacity="0.92"/>
<path d="M564.9 54.3L564.9 57.9L564.5 61.4L564.3 65.0L564.4 68.5L563.9 72.0L564.2 78.6L565.5 78.6L565.7 72.0L565.8 68.5L565.3 65.0L565.6 61.4L565.3 57.9L565.0 54.3Z" fill="#56AA29" fill-opacity="0.92"/>
<path d="M566.5 21.6L566.7 30.6L566.2 39.6L566.2 48.6L565.9 57.6L566.2 66.6L566.3 78.6L567.0 78.6L567.2 66.6L567.0 57.6L567.2 48.6L567.0 39.6L567.0 30.6L566.5 21.6Z" fill="#7AAE15" fill-opacity="0.92"/>
<path d="M567.4 7.2L567.4 21.1L567.3 32.0L567.6 42.9L567.9 53.8L567.6 64.7L567.9 78.6L569.2 78.6L569.2 64.7L568.9 53.8L569.1 42.9L569.0 32.0L568.7 21.1L568.7 7.2Z" fill="#ECBD5C" fill-opacity="0.92"/>
<path d="M569.0 7.2L569.3 16.5L569.1 22.8L568.8 29.0L569.2 35.3L569.6 41.6L569.7 47.9L569.8 47.9L570.2 41.6L570.0 35.3L570.8 29.0L570.6 22.8L570.7 16.5L570.6 7.2Z" fill="#86B00D" fill-opacity="0.92"/>
<path d="M571.3 7.2L571.4 21.1L571.1 32.0L571.1 42.9L571.2 53.8L571.3 64.7L571.4 78.6L572.2 78.6L572.0 64.7L572.1 53.8L571.6 42.9L571.5 32.0L571.8 21.1L572.0 7.2Z" fill="#74AE18" fill-opacity="0.92"/>
<path d="M572.6 53.3L572.4 57.0L572.1 60.7L572.1 64.4L572.0 68.1L572.1 71.9L572.4 78.6L573.0 78.6L572.8 71.9L572.8 68.1L572.6 64.4L572.8 60.7L572.8 57.0L572.6 53.3Z" fill="#BCB722" fill-opacity="0.92"/>
<path d="M574.2 44.4L574.2 49.6L574.3 54.8L573.7 60.0L574.1 65.2L574.0 70.4L574.7 78.6L575.5 78.6L575.6 70.4L575.5 65.2L575.2 60.0L575.0 54.8L574.8 49.6L574.3 44.4Z" fill="#FFCBBF" fill-opacity="0.92"/>
<path d="M575.2 24.5L575.3 33.0L575.6 41.5L575.3 50.0L575.5 58.5L575.3 67.1L575.1 78.6L576.2 78.6L575.9 67.1L576.3 58.5L576.1 50.0L576.1 41.5L575.7 33.0L575.2 24.5Z" fill="#A0B409" fill-opacity="0.92"/>
<path d="M576.2 7.2L575.9 21.1L575.5 32.0L575.6 42.9L575.6 53.8L575.0 64.7L575.1 78.6L576.2 78.6L576.3 64.7L576.3 53.8L576.5 42.9L577.0 32.0L577.1 21.1L577.0 7.2Z" fill="#FFC289" fill-opacity="0.92"/>
<path d="M577.5 7.2L577.2 14.7L577.1 19.2L577.1 23.6L577.3 28.1L577.6 32.6L577.6 37.0L577.7 37.0L578.0 32.6L578.6 28.1L578.4 23.6L578.9 19.2L578.9 14.7L579.2 7.2Z" fill="#FFC59C" fill-opacity="0.92"/>
<path d="M579.6 7.2L579.0 21.1L578.8 32.0L578.4 42.9L578.6 53.8L578.7 64.7L578.5 78.6L580.5 78.6L580.8 64.7L580.9 53.8L580.9 42.9L580.8 32.0L581.2 21.1L580.9 7.2Z" fill="#FEC07B" fill-opacity="0.92"/>
<path d="M582.1 7.2L581.7 21.1L581.8 32.0L582.1 42.9L582.3 53.8L582.1 64.7L582.3 78.6L583.8 78.6L584.0 64.7L583.8 53.8L583.8 42.9L584.0 32.0L583.8 21.1L583.7 7.2Z" fill="#ABB512" fill-opacity="0.92"/>
<path d="M584.7 7.2L584.5 21.1L584.4 32.0L584.5 42.9L584.3 53.8L584.5 64.7L584.5 78.6L585.7 78.6L585.3 64.7L585.5 53.8L585.7 42.9L585.7 32.0L585.3 21.1L585.6 7.2Z" fill="#FFC28B" fill-opacity="0.92"/>
<path d="M585.7 7.2L585.9 21.1L586.0 32.0L586.6 42.9L586.3 53.8L586.4 64.7L586.1 78.6L587.5 78.6L587.6 64.7L587.9 53.8L587.4 42.9L587.7 32.0L587.6 21.1L587.1 7.2Z" fill="#D3BA3E" fill-opacity="0.92"/>
<path d="M587.6 7.2L587.7 14.8L587.7 19.3L587.4 23.8L587.9 28.4L588.2 32.9L588.6 37.4L588.7 37.4L589.0 32.9L589.4 28.4L589.5 23.8L589.8 19.3L589.8 14.8L590.1 7.2Z" fill="#FBDBE1" fill-opacity="0.92"/>
<path d="M589.6 7.2L589.5 21.1L589.7 32.0L589.3 42.9L589.3 53.8L589.0 64.7L588.6 78.6L589.7 78.6L589.9 64.7L590.2 53.8L590.4 42.9L590.5 32.0L590.4 21.1L590.4 7.2Z" fill="#DDBB49" fill-opacity="0.92"/>
<path d="M591.3 35.8L590.7 42.5L590.1 49.1L590.2 55.7L589.9 62.3L590.0 68.9L590.2 78.6L591.3 78.6L591.6 68.9L591.6 62.3L591.2 55.7L591.5 49.1L591.4 42.5L591.3 35.8Z" fill="#FFCFCF" fill-opacity="0.92"/>
<path d="M591.9 7.2L591.8 16.4L592.0 22.6L591.7 28.7L592.1 34.9L592.4 41.1L592.4 47.2L592.4 47.2L592.9 41.1L593.2 34.9L593.4 28.7L593.4 22.6L593.1 16.4L593.6 7.2Z" fill="#FBDBE1" fill-opacity="0.92"/>
<path d="M593.7 7.2L593.9 20.0L594.0 29.7L593.5 39.5L593.7 49.2L593.7 58.9L593.7 68.7L593.8 68.7L594.5 58.9L594.9 49.2L595.7 39.5L595.4 29.7L595.2 20.0L595.4 7.2Z" fill="#FFD0D2" fill-opacity="0.92"/>
<path d="M596.4 17.3L596.0 27.0L596.3 36.7L596.3 46.4L596.0 56.1L595.8 65.9L595.4 78.6L596.3 78.6L596.5 65.9L596.5 56.1L596.7 46.4L596.8 36.7L596.4 27.0L596.4 17.3Z" fill="#C2B829" fill-opacity="0.92"/>
<path d="M597.3 7.2L597.2 14.5L597.0 18.7L597.2 22.9L597.8 27.1L598.1 31.4L598.2 35.6L598.3 35.6L598.9 31.4L599.0 27.1L599.2 22.9L599.3 18.7L599.6 14.5L599.5 7.2Z" fill="#FFC289" fill-opacity="0.92"/>
<path d="M600.1 37.2L600.0 43.6L599.7 50.0L599.7 56.4L599.5 62.8L599.8 69.2L599.7 78.6L600.6 78.6L600.4 69.2L600.3 62.8L600.3 56.4L600.1 50.0L600.3 43.6L600.2 37.2Z" fill="#6FAD1B" fill-opacity="0.92"/>
<path d="M600.7 7.2L600.6 21.1L601.0 32.0L601.1 42.9L601.2 53.8L600.8 64.7L601.2 78.6L601.9 78.6L601.9 64.7L601.8 53.8L602.2 42.9L601.7 32.0L601.6 21.1L601.4 7.2Z" fill="#9EB309" fill-opacity="0.92"/>
<path d="M602.0 7.2L601.6 21.1L601.6 32.0L601.8 42.9L601.9 53.8L601.5 64.7L601.3 78.6L602.9 78.6L602.8 64.7L602.7 53.8L602.7 42.9L602.5 32.0L602.7 21.1L602.8 7.2Z" fill="#FEC07C" fill-opacity="0.92"/>
<path d="M603.4 7.2L603.2 21.1L603.2 32.0L602.6 42.9L603.1 53.8L602.7 64.7L602.7 78.6L605.1 78.6L605.1 64.7L604.9 53.8L605.1 42.9L605.2 32.0L605.4 21.1L605.3 7.2Z" fill="#FFC7AD" fill-opacity="0.92"/>
<path d="M606.0 7.2L606.1 21.1L606.4 32.0L606.4 42.9L605.9 53.8L606.0 64.7L605.5 78.6L607.0 78.6L607.1 64.7L607.1 53.8L607.2 42.9L607.6 32.0L607.5 21.1L607.5 7.2Z" fill="#A5B40C" fill-opacity="0.92"/>
<path d="M608.0 7.2L608.0 18.6L608.0 27.0L607.9 35.4L608.0 43.7L608.2 52.1L608.1 60.5L608.2 60.5L608.6 52.1L608.8 43.7L608.5 35.4L608.5 27.0L608.9 18.6L609.0 7.2Z" fill="#FFC9BA" fill-opacity="0.92"/>
<path d="M609.3 7.2L609.1 21.1L608.8 32.0L608.6 42.9L608.6 53.8L608.7 64.7L608.2 78.6L609.0 78.6L609.2 64.7L609.4 53.8L609.5 42.9L609.6 32.0L609.8 21.1L610.0 7.2Z" fill="#AAB511" fill-opacity="0.92"/>
<path d="M611.1 31.5L610.9 38.8L610.7 46.2L610.6 53.5L610.4 60.9L610.5 68.2L610.3 78.6L611.8 78.6L611.4 68.2L611.9 60.9L612.2 53.5L611.6 46.2L611.3 38.8L611.2 31.5Z" fill="#8AB00B" fill-opacity="0.92"/>
<path d="M612.6 7.2L612.7 19.9L612.8 29.6L613.1 39.2L612.8 48.9L612.6 58.6L612.6 68.2L612.7 68.2L613.2 58.6L613.7 48.9L614.0 39.2L614.3 29.6L613.9 19.9L613.4 7.2Z" fill="#FDC079" fill-opacity="0.92"/>
<path d="M613.7 7.2L613.7 19.9L614.2 29.6L613.7 39.2L614.1 48.9L614.4 58.6L615.1 68.2L615.1 68.2L615.3 58.6L615.3 48.9L615.9 39.2L615.5 29.6L615.7 19.9L615.8 7.2Z" fill="#FEC07C" fill-opacity="0.92"/>
<path d="M615.6 7.2L615.8 21.1L616.1 32.0L616.2 42.9L615.8 53.8L616.3 64.7L616.6 78.6L617.6 78.6L617.8 64.7L617.8 53.8L617.8 42.9L617.7 32.0L617.7 21.1L617.8 7.2Z" fill="#93B106" fill-opacity="0.92"/>
<path d="M619.2 17.9L618.6 27.5L618.4 37.1L618.0 46.7L618.2 56.3L618.1 66.0L618.0 78.6L619.3 78.6L619.1 66.0L619.3 56.3L619.3 46.7L619.4 37.1L619.1 27.5L619.2 17.9Z" fill="#FDC07A" fill-opacity="0.92"/>
<path d="M620.0 7.2L620.2 15.9L620.2 21.5L620.4 27.1L620.7 32.8L620.9 38.4L621.0 44.0L621.0 44.0L621.3 38.4L621.8 32.8L621.6 27.1L621.4 21.5L621.3 15.9L621.3 7.2Z" fill="#FFC5A1" fill-opacity="0.92"/>
<path d="M622.2 22.4L621.5 31.2L620.8 40.1L620.9 49.0L620.6 57.8L620.9 66.7L621.1 78.6L622.4 78.6L623.0 66.7L623.0 57.8L622.6 49.0L622.4 40.1L622.4 31.2L622.3 22.4Z" fill="#FFC6A3" fill-opacity="0.92"/>
<path d="M623.3 7.2L623.9 21.1L623.2 32.0L623.7 42.9L623.8 53.8L623.5 64.7L623.7 78.6L625.1 78.6L625.0 64.7L624.7 53.8L624.5 42.9L624.9 32.0L624.8 21.1L624.8 7.2Z" fill="#FFCECC" fill-opacity="0.92"/>
<path d="M625.3 7.2L625.1 21.1L625.5 32.0L625.8 42.9L625.2 53.8L625.6 64.7L625.5 78.6L626.5 78.6L626.6 64.7L626.3 53.8L626.3 42.9L626.2 32.0L626.0 21.1L625.8 7.2Z" fill="#FFCECD" fill-opacity="0.92"/>
<path d="M627.0 51.1L627.0 55.2L627.0 59.2L626.6 63.3L627.1 67.4L627.4 71.5L627.9 78.6L629.3 78.6L629.2 71.5L629.0 67.4L628.8 63.3L628.3 59.2L627.7 55.2L627.1 51.1Z" fill="#BDB723" fill-opacity="0.92"/>
<path d="M628.5 7.2L628.3 21.1L627.7 32.0L627.9 42.9L627.9 53.8L628.3 64.7L628.5 78.6L629.9 78.6L629.8 64.7L629.6 53.8L629.5 42.9L629.6 32.0L629.7 21.1L629.6 7.2Z" fill="#FFCCC7" fill-opacity="0.92"/>
<path d="M630.3 7.2L630.1 16.7L630.1 23.2L629.9 29.7L630.2 36.2L630.4 42.6L630.3 49.1L630.3 49.1L630.8 42.6L630.9 36.2L630.7 29.7L631.1 23.2L630.6 16.7L630.9 7.2Z" fill="#C8B930" fill-opacity="0.92"/>
<path d="M631.3 7.2L630.5 21.1L630.8 32.0L630.6 42.9L631.2 53.8L630.4 64.7L631.4 78.6L632.9 78.6L633.4 64.7L633.0 53.8L633.1 42.9L633.1 32.0L633.4 21.1L633.4 7.2Z" fill="#FFC8B3" fill-opacity="0.92"/>
<path d="M633.7 7.2L633.7 21.1L634.0 32.0L634.1 42.9L634.0 53.8L633.9 64.7L634.1 78.6L634.8 78.6L635.0 64.7L635.2 53.8L635.1 42.9L635.0 32.0L634.7 21.1L635.0 7.2Z" fill="#AAB510" fill-opacity="0.92"/>
<path d="M635.8 7.2L635.8 21.1L635.0 32.0L635.1 42.9L634.9 53.8L634.9 64.7L635.3 78.6L636.9 78.6L637.2 64.7L636.8 53.8L636.7 42.9L637.3 32.0L637.2 21.1L637.0 7.2Z" fill="#FFC5A1" fill-opacity="0.92"/>
<path d="M637.7 7.2L637.9 21.1L638.1 32.0L638.1 42.9L637.8 53.8L638.3 64.7L638.2 78.6L639.4 78.6L639.0 64.7L639.2 53.8L639.1 42.9L639.4 32.0L639.0 21.1L639.0 7.2Z" fill="#A0B409" fill-opacity="0.92"/>
<path d="M640.0 7.2L639.4 21.1L639.7 32.0L639.9 42.9L639.8 53.8L639.4 64.7L639.3 78.6L640.6 78.6L641.0 64.7L640.8 53.8L640.9 42.9L641.1 32.0L641.2 21.1L641.0 7.2Z" fill="#FFC28A" fill-opacity="0.92"/>
<path d="M641.8 7.2L641.3 19.4L641.3 28.6L641.1 37.7L641.2 46.9L641.4 56.1L641.7 65.3L641.8 65.3L642.0 56.1L642.4 46.9L643.0 37.7L643.1 28.6L643.3 19.4L643.6 7.2Z" fill="#8EB108" fill-opacity="0.92"/>
<path d="M643.8 7.2L643.6 18.3L643.8 26.4L644.3 34.5L644.1 42.6L644.7 50.7L645.0 58.8L645.1 58.8L645.1 50.7L645.0 42.6L645.1 34.5L645.1 26.4L644.6 18.3L644.7 7.2Z" fill="#FCBF72" fill-opacity="0.92"/>
<path d="M645.0 7.2L645.3 18.3L645.1 26.3L645.3 34.3L645.3 42.3L645.1 50.3L645.1 58.4L645.1 58.4L645.5 50.3L646.0 42.3L646.7 34.3L646.2 26.3L646.3 18.3L646.4 7.2Z" fill="#FFC496" fill-opacity="0.92"/>
<path d="M647.1 36.8L646.8 43.3L646.8 49.7L646.4 56.2L646.0 62.6L646.0 69.1L645.9 78.6L647.3 78.6L647.3 69.1L647.8 62.6L647.8 56.2L648.1 49.7L647.4 43.3L647.2 36.8Z" fill="#FFD2D9" fill-opacity="0.92"/>
<path d="M647.5 7.2L648.0 21.1L647.9 32.0L647.9 42.9L648.2 53.8L648.1 64.7L648.3 78.6L650.6 78.6L650.5 64.7L650.6 53.8L650.3 42.9L650.2 32.0L649.8 21.1L649.8 7.2Z" fill="#FFD0D2" fill-opacity="0.92"/>
<path d="M649.9 7.2L650.3 21.1L649.7 32.0L649.8 42.9L650.4 53.8L650.3 64.7L650.7 78.6L652.1 78.6L652.4 64.7L651.9 53.8L652.0 42.9L652.1 32.0L651.7 21.1L652.1 7.2Z" fill="#FBDBE1" fill-opacity="0.92"/>
<path d="M651.5 7.2L651.5 15.7L651.9 21.2L651.7 26.7L651.7 32.2L651.9 37.8L652.2 43.3L652.3 43.3L652.2 37.8L653.0 32.2L652.5 26.7L652.9 21.2L653.1 15.7L653.0 7.2Z" fill="#FFCBC2" fill-opacity="0.92"/>
<path d="M654.0 7.2L654.5 21.1L654.3 32.0L654.2 42.9L654.0 53.8L654.2 64.7L654.2 78.6L655.6 78.6L655.0 64.7L655.0 53.8L655.1 42.9L655.6 32.0L655.2 21.1L655.0 7.2Z" fill="#FBDBE1" fill-opacity="0.92"/>
<path d="M655.3 7.2L655.7 21.1L655.1 32.0L655.9 42.9L655.4 53.8L655.8 64.7L655.8 78.6L656.9 78.6L657.5 64.7L657.7 53.8L657.1 42.9L657.5 32.0L657.2 21.1L657.5 7.2Z" fill="#FBDBE1" fill-opacity="0.92"/>
<path d="M657.3 7.2L657.3 21.1L657.4 32.0L657.5 42.9L657.6 53.8L657.4 64.7L657.4 78.6L658.7 78.6L658.3 64.7L658.6 53.8L658.5 42.9L658.1 32.0L658.1 21.1L658.5 7.2Z" fill="#FFC28B" fill-opacity="0.92"/>
<path d="M659.7 54.5L659.7 58.0L659.7 61.5L659.6 65.0L659.8 68.6L659.7 72.1L659.5 78.6L660.7 78.6L660.4 72.1L660.6 68.6L660.5 65.0L660.7 61.5L660.1 58.0L659.7 54.5Z" fill="#FEC07C" fill-opacity="0.92"/>
<path d="M660.5 7.2L660.9 21.1L660.8 32.0L660.8 42.9L660.8 53.8L660.5 64.7L660.5 78.6L661.7 78.6L661.9 64.7L661.9 53.8L662.0 42.9L661.7 32.0L662.0 21.1L662.0 7.2Z" fill="#FCDAE0" fill-opacity="0.92"/>
<path d="M662.7 52.5L662.6 56.3L662.6 60.2L662.4 64.0L662.2 67.9L662.0 71.7L661.8 78.6L662.6 78.6L662.5 71.7L662.7 67.9L662.9 64.0L663.2 60.2L662.9 56.3L662.7 52.5Z" fill="#DBBB47" fill-opacity="0.92"/>
<path d="M663.3 7.2L664.1 13.8L663.8 17.3L663.6 20.8L663.5 24.3L664.2 27.9L664.8 31.4L664.9 31.4L665.0 27.9L665.1 24.3L664.9 20.8L665.4 17.3L665.2 13.8L665.4 7.2Z" fill="#E2BB4F" fill-opacity="0.92"/>
<path d="M666.5 50.8L666.3 55.0L665.8 59.1L666.4 63.2L666.3 67.3L666.1 71.4L666.6 78.6L668.4 78.6L668.1 71.4L667.4 67.3L667.4 63.2L667.2 59.1L666.8 55.0L666.5 50.8Z" fill="#D8BA43" fill-opacity="0.92"/>
</g></g>
<path d="M536.7 6.6H665.8M536.7 79.2H665.8" fill="none" stroke="#cdcdcd" stroke-width="0.9"/>
<path d="M665.8 6.6V79.2" fill="none" stroke="#a8a8a8" stroke-width="0.8"/>
<path d="M536.7 6.6V79.2" fill="none" stroke="#c4c4c4" stroke-width="0.8"/>
<path d="M535.7 79.2H536.7" stroke="#888" stroke-width="0.4"/>
<text x="534.2" y="80.1" class="t" text-anchor="end">0.0</text>
<path d="M535.7 64.68H536.7" stroke="#888" stroke-width="0.4"/>
<text x="534.2" y="65.58" class="t" text-anchor="end">0.2</text>
<path d="M535.7 50.16H536.7" stroke="#888" stroke-width="0.4"/>
<text x="534.2" y="51.06" class="t" text-anchor="end">0.4</text>
<path d="M535.7 35.64H536.7" stroke="#888" stroke-width="0.4"/>
<text x="534.2" y="36.54" class="t" text-anchor="end">0.6</text>
<path d="M535.7 21.12H536.7" stroke="#888" stroke-width="0.4"/>
<text x="534.2" y="22.02" class="t" text-anchor="end">0.8</text>
<path d="M535.7 6.6H536.7" stroke="#888" stroke-width="0.4"/>
<text x="534.2" y="7.5" class="t" text-anchor="end">1.0</text>
<path d="M548.7 79.2V80.4" stroke="#888" stroke-width="0.4"/>
<text x="549" y="84.7" class="t" text-anchor="middle">2019</text>
<path d="M578.2 79.2V80.4" stroke="#888" stroke-width="0.4"/>
<text x="578.5" y="84.7" class="t" text-anchor="middle">2020</text>
<path d="M607.7 79.2V80.4" stroke="#888" stroke-width="0.4"/>
<text x="608" y="84.7" class="t" text-anchor="middle">2021</text>
<path d="M637.2 79.2V80.4" stroke="#888" stroke-width="0.4"/>
<text x="637.5" y="84.7" class="t" text-anchor="middle">2022</text>
<text x="601.25" y="90.3" class="l" text-anchor="middle">Date</text>
<text transform="translate(528.15,42.9) rotate(-90)" class="l" text-anchor="middle">Quantiles</text>
<text x="601.25" y="4" class="m" text-anchor="middle">BAT</text>
<rect x="671.5" y="75.38" width="5.8" height="3.82" fill="#26A63A" stroke="#555" stroke-width="0.35"/>
<rect x="671.5" y="71.56" width="5.8" height="3.82" fill="#4EA92D" stroke="#555" stroke-width="0.35"/>
<rect x="671.5" y="67.74" width="5.8" height="3.82" fill="#68AC20" stroke="#555" stroke-width="0.35"/>
<rect x="671.5" y="63.92" width="5.8" height="3.82" fill="#7EAF12" stroke="#555" stroke-width="0.35"/>
<rect x="671.5" y="60.09" width="5.8" height="3.82" fill="#92B106" stroke="#555" stroke-width="0.35"/>
<rect x="671.5" y="56.27" width="5.8" height="3.82" fill="#A3B40A" stroke="#555" stroke-width="0.35"/>
<rect x="671.5" y="52.45" width="5.8" height="3.82" fill="#B4B61A" stroke="#555" stroke-width="0.35"/>
<rect x="671.5" y="48.63" width="5.8" height="3.82" fill="#C4B82B" stroke="#555" stroke-width="0.35"/>
<rect x="671.5" y="44.81" width="5.8" height="3.82" fill="#D3BA3D" stroke="#555" stroke-width="0.35"/>
<rect x="671.5" y="40.99" width="5.8" height="3.82" fill="#E1BB4E" stroke="#555" stroke-width="0.35"/>
<rect x="671.5" y="37.17" width="5.8" height="3.82" fill="#EFBD60" stroke="#555" stroke-width="0.35"/>
<rect x="671.5" y="33.35" width="5.8" height="3.82" fill="#FCBF72" stroke="#555" stroke-width="0.35"/>
<rect x="671.5" y="29.53" width="5.8" height="3.82" fill="#FFC183" stroke="#555" stroke-width="0.35"/>
<rect x="671.5" y="25.71" width="5.8" height="3.82" fill="#FFC495" stroke="#555" stroke-width="0.35"/>
<rect x="671.5" y="21.88" width="5.8" height="3.82" fill="#FFC6A7" stroke="#555" stroke-width="0.35"/>
<rect x="671.5" y="18.06" width="5.8" height="3.82" fill="#FFC9B8" stroke="#555" stroke-width="0.35"/>
<rect x="671.5" y="14.24" width="5.8" height="3.82" fill="#FFCDC9" stroke="#555" stroke-width="0.35"/>
<rect x="671.5" y="10.42" width="5.8" height="3.82" fill="#FFD2DA" stroke="#555" stroke-width="0.35"/>
<rect x="671.5" y="6.6" width="5.8" height="3.82" fill="#F1F1F1" stroke="#555" stroke-width="0.35"/>
<path d="M677.3 8.9H678.4" stroke="#888" stroke-width="0.4"/>
<text x="679.9" y="9.9" class="k">40</text>
<path d="M677.3 26.1H678.4" stroke="#888" stroke-width="0.4"/>
<text x="679.9" y="27.1" class="k">20</text>
<path d="M677.3 43H678.4" stroke="#888" stroke-width="0.4"/>
<text x="679.9" y="44" class="k">0</text>
<path d="M677.3 60.3H678.4" stroke="#888" stroke-width="0.4"/>
<text x="679.9" y="61.3" class="k">-20</text>
<path d="M677.3 77.3H678.4" stroke="#888" stroke-width="0.4"/>
<text x="679.9" y="78.3" class="k">-40</text>
<clipPath id="cVietnam"><rect x="12.3" y="122.81" width="129.1" height="64.89"/></clipPath>
<g clip-path="url(#cVietnam)"><g filter="url(#hb)">
<linearGradient id="gVietnam0" x1="0" y1="0" x2="0" y2="1"><stop offset="6.25%" stop-color="#E8BC57"/><stop offset="18.75%" stop-color="#E8BC57"/><stop offset="31.25%" stop-color="#E8BC57"/><stop offset="43.75%" stop-color="#ECBD5C"/><stop offset="56.25%" stop-color="#F4BE67"/><stop offset="68.75%" stop-color="#F4BE67"/><stop offset="81.25%" stop-color="#ECBD5C"/><stop offset="93.75%" stop-color="#E8BC57"/></linearGradient>
<rect x="9.3" y="119.81" width="8.02" height="70.89" fill="url(#gVietnam0)"/>
<linearGradient id="gVietnam1" x1="0" y1="0" x2="0" y2="1"><stop offset="6.25%" stop-color="#B0B616"/><stop offset="18.75%" stop-color="#B0B616"/><stop offset="31.25%" stop-color="#B0B616"/><stop offset="43.75%" stop-color="#B0B616"/><stop offset="56.25%" stop-color="#B0B616"/><stop offset="68.75%" stop-color="#B0B616"/><stop offset="81.25%" stop-color="#B0B616"/><stop offset="93.75%" stop-color="#B0B616"/></linearGradient>
<rect x="17.27" y="119.81" width="5.02" height="70.89" fill="url(#gVietnam1)"/>
<linearGradient id="gVietnam2" x1="0" y1="0" x2="0" y2="1"><stop offset="6.25%" stop-color="#C4B82B"/><stop offset="18.75%" stop-color="#C4B82B"/><stop offset="31.25%" stop-color="#C4B82B"/><stop offset="43.75%" stop-color="#C4B82B"/><stop offset="56.25%" stop-color="#C4B82B"/><stop offset="68.75%" stop-color="#C4B82B"/><stop offset="81.25%" stop-color="#C4B82B"/><stop offset="93.75%" stop-color="#C4B82B"/></linearGradient>
<rect x="22.23" y="119.81" width="5.02" height="70.89" fill="url(#gVietnam2)"/>
<linearGradient id="gVietnam3" x1="0" y1="0" x2="0" y2="1"><stop offset="6.25%" stop-color="#9AB208"/><stop offset="18.75%" stop-color="#A0B309"/><stop offset="31.25%" stop-color="#AAB511"/><stop offset="43.75%" stop-color="#BAB720"/><stop offset="56.25%" stop-color="#CDB936"/><stop offset="68.75%" stop-color="#D6BA41"/><stop offset="81.25%" stop-color="#D6BA41"/><stop offset="93.75%" stop-color="#D6BA41"/></linearGradient>
<rect x="27.2" y="119.81" width="5.02" height="70.89" fill="url(#gVietnam3)"/>
<linearGradient id="gVietnam4" x1="0" y1="0" x2="0" y2="1"><stop offset="6.25%" stop-color="#C4B82B"/><stop offset="18.75%" stop-color="#C4B82B"/><stop offset="31.25%" stop-color="#C4B82B"/><stop offset="43.75%" stop-color="#C4B82B"/><stop offset="56.25%" stop-color="#C4B82B"/><stop offset="68.75%" stop-color="#C4B82B"/><stop offset="81.25%" stop-color="#C4B82B"/><stop offset="93.75%" stop-color="#C4B82B"/></linearGradient>
<rect x="32.16" y="119.81" width="5.02" height="70.89" fill="url(#gVietnam4)"/>
<linearGradient id="gVietnam5" x1="0" y1="0" x2="0" y2="1"><stop offset="6.25%" stop-color="#B0B616"/><stop offset="18.75%" stop-color="#B0B616"/><stop offset="31.25%" stop-color="#B0B616"/><stop offset="43.75%" stop-color="#BFB726"/><stop offset="56.25%" stop-color="#DBBB47"/><stop offset="68.75%" stop-color="#E4BB51"/><stop offset="81.25%" stop-color="#DBBB47"/><stop offset="93.75%" stop-color="#D6BA41"/></linearGradient>
<rect x="37.13" y="119.81" width="5.02" height="70.89" fill="url(#gVietnam5)"/>
<linearGradient id="gVietnam6" x1="0" y1="0" x2="0" y2="1"><stop offset="6.25%" stop-color="#D6BA41"/><stop offset="18.75%" stop-color="#D6BA41"/><stop offset="31.25%" stop-color="#D6BA41"/><stop offset="43.75%" stop-color="#D6BA41"/><stop offset="56.25%" stop-color="#D6BA41"/><stop offset="68.75%" stop-color="#D6BA41"/><stop offset="81.25%" stop-color="#D6BA41"/><stop offset="93.75%" stop-color="#D6BA41"/></linearGradient>
<rect x="42.09" y="119.81" width="5.02" height="70.89" fill="url(#gVietnam6)"/>
<linearGradient id="gVietnam7" x1="0" y1="0" x2="0" y2="1"><stop offset="6.25%" stop-color="#C4B82B"/><stop offset="18.75%" stop-color="#C4B82B"/><stop offset="31.25%" stop-color="#C4B82B"/><stop offset="43.75%" stop-color="#C9B931"/><stop offset="56.25%" stop-color="#D2BA3C"/><stop offset="68.75%" stop-color="#D2BA3C"/><stop offset="81.25%" stop-color="#C9B931"/><stop offset="93.75%" stop-color="#C4B82B"/></linearGradient>
<rect x="47.06" y="119.81" width="5.02" height="70.89" fill="url(#gVietnam7)"/>
<linearGradient id="gVietnam8" x1="0" y1="0" x2="0" y2="1"><stop offset="6.25%" stop-color="#C4B82B"/><stop offset="18.75%" stop-color="#C9B931"/><stop offset="31.25%" stop-color="#D2BA3C"/><stop offset="43.75%" stop-color="#D2BA3C"/><stop offset="56.25%" stop-color="#C9B931"/><stop offset="68.75%" stop-color="#C4B82B"/><stop offset="81.25%" stop-color="#C4B82B"/><stop offset="93.75%" stop-color="#C4B82B"/></linearGradient>
<rect x="52.02" y="119.81" width="5.02" height="70.89" fill="url(#gVietnam8)"/>
<linearGradient id="gVietnam9" x1="0" y1="0" x2="0" y2="1"><stop offset="6.25%" stop-color="#83B00F"/><stop offset="18.75%" stop-color="#89B00B"/><stop offset="31.25%" stop-color="#95B207"/><stop offset="43.75%" stop-color="#95B207"/><stop offset="56.25%" stop-color="#89B00B"/><stop offset="68.75%" stop-color="#89B00B"/><stop offset="81.25%" stop-color="#95B207"/><stop offset="93.75%" stop-color="#9AB208"/></linearGradient>
<rect x="56.99" y="119.81" width="5.02" height="70.89" fill="url(#gVietnam9)"/>
<linearGradient id="gVietnam10" x1="0" y1="0" x2="0" y2="1"><stop offset="6.25%" stop-color="#C4B82B"/><stop offset="18.75%" stop-color="#C4B82B"/><stop offset="31.25%" stop-color="#C4B82B"/><stop offset="43.75%" stop-color="#C9B931"/><stop offset="56.25%" stop-color="#D2BA3C"/><stop offset="68.75%" stop-color="#D2BA3C"/><stop offset="81.25%" stop-color="#C9B931"/><stop offset="93.75%" stop-color="#C4B82B"/></linearGradient>
<rect x="61.95" y="119.81" width="5.02" height="70.89" fill="url(#gVietnam10)"/>
<linearGradient id="gVietnam11" x1="0" y1="0" x2="0" y2="1"><stop offset="6.25%" stop-color="#E8BC57"/><stop offset="18.75%" stop-color="#E4BB51"/><stop offset="31.25%" stop-color="#DBBB47"/><stop offset="43.75%" stop-color="#DBBB47"/><stop offset="56.25%" stop-color="#E4BB51"/><stop offset="68.75%" stop-color="#E8BC57"/><stop offset="81.25%" stop-color="#E8BC57"/><stop offset="93.75%" stop-color="#E8BC57"/></linearGradient>
<rect x="66.92" y="119.81" width="5.02" height="70.89" fill="url(#gVietnam11)"/>
<linearGradient id="gVietnam12" x1="0" y1="0" x2="0" y2="1"><stop offset="6.25%" stop-color="#9AB208"/><stop offset="18.75%" stop-color="#9AB208"/><stop offset="31.25%" stop-color="#9AB208"/><stop offset="43.75%" stop-color="#A5B40C"/><stop offset="56.25%" stop-color="#BAB720"/><stop offset="68.75%" stop-color="#C4B82B"/><stop offset="81.25%" stop-color="#C4B82B"/><stop offset="93.75%" stop-color="#C4B82B"/></linearGradient>
<rect x="71.88" y="119.81" width="5.02" height="70.89" fill="url(#gVietnam12)"/>
<linearGradient id="gVietnam13" x1="0" y1="0" x2="0" y2="1"><stop offset="6.25%" stop-color="#B0B616"/><stop offset="18.75%" stop-color="#B0B616"/><stop offset="31.25%" stop-color="#B0B616"/><stop offset="43.75%" stop-color="#BAB720"/><stop offset="56.25%" stop-color="#CDB936"/><stop offset="68.75%" stop-color="#D6BA41"/><stop offset="81.25%" stop-color="#D6BA41"/><stop offset="93.75%" stop-color="#D6BA41"/></linearGradient>
<rect x="76.85" y="119.81" width="5.02" height="70.89" fill="url(#gVietnam13)"/>
<linearGradient id="gVietnam14" x1="0" y1="0" x2="0" y2="1"><stop offset="6.25%" stop-color="#D6BA41"/><stop offset="18.75%" stop-color="#DBBB47"/><stop offset="31.25%" stop-color="#E4BB51"/><stop offset="43.75%" stop-color="#DBBB47"/><stop offset="56.25%" stop-color="#BFB726"/><stop offset="68.75%" stop-color="#B5B61B"/><stop offset="81.25%" stop-color="#BFB726"/><stop offset="93.75%" stop-color="#C4B82B"/></linearGradient>
<rect x="81.82" y="119.81" width="5.02" height="70.89" fill="url(#gVietnam14)"/>
<linearGradient id="gVietnam15" x1="0" y1="0" x2="0" y2="1"><stop offset="6.25%" stop-color="#83B00F"/><stop offset="18.75%" stop-color="#89B00B"/><stop offset="31.25%" stop-color="#95B207"/><stop offset="43.75%" stop-color="#A5B40C"/><stop offset="56.25%" stop-color="#BAB720"/><stop offset="68.75%" stop-color="#C9B931"/><stop offset="81.25%" stop-color="#D2BA3C"/><stop offset="93.75%" stop-color="#D6BA41"/></linearGradient>
<rect x="86.78" y="119.81" width="5.02" height="70.89" fill="url(#gVietnam15)"/>
<linearGradient id="gVietnam16" x1="0" y1="0" x2="0" y2="1"><stop offset="6.25%" stop-color="#B0B616"/><stop offset="18.75%" stop-color="#B5B61B"/><stop offset="31.25%" stop-color="#BFB726"/><stop offset="43.75%" stop-color="#BFB726"/><stop offset="56.25%" stop-color="#B5B61B"/><stop offset="68.75%" stop-color="#B0B616"/><stop offset="81.25%" stop-color="#B0B616"/><stop offset="93.75%" stop-color="#B0B616"/></linearGradient>
<rect x="91.75" y="119.81" width="5.02" height="70.89" fill="url(#gVietnam16)"/>
<linearGradient id="gVietnam17" x1="0" y1="0" x2="0" y2="1"><stop offset="6.25%" stop-color="#9AB208"/><stop offset="18.75%" stop-color="#95B207"/><stop offset="31.25%" stop-color="#89B00B"/><stop offset="43.75%" stop-color="#89B00B"/><stop offset="56.25%" stop-color="#95B207"/><stop offset="68.75%" stop-color="#A0B309"/><stop offset="81.25%" stop-color="#AAB511"/><stop offset="93.75%" stop-color="#B0B616"/></linearGradient>
<rect x="96.71" y="119.81" width="5.02" height="70.89" fill="url(#gVietnam17)"/>
<linearGradient id="gVietnam18" x1="0" y1="0" x2="0" y2="1"><stop offset="6.25%" stop-color="#B0B616"/><stop offset="18.75%" stop-color="#B0B616"/><stop offset="31.25%" stop-color="#B0B616"/><stop offset="43.75%" stop-color="#B0B616"/><stop offset="56.25%" stop-color="#B0B616"/><stop offset="68.75%" stop-color="#B5B61B"/><stop offset="81.25%" stop-color="#BFB726"/><stop offset="93.75%" stop-color="#C4B82B"/></linearGradient>
<rect x="101.68" y="119.81" width="5.02" height="70.89" fill="url(#gVietnam18)"/>
<linearGradient id="gVietnam19" x1="0" y1="0" x2="0" y2="1"><stop offset="6.25%" stop-color="#9AB208"/><stop offset="18.75%" stop-color="#A0B309"/><stop offset="31.25%" stop-color="#AAB511"/><stop offset="43.75%" stop-color="#BAB720"/><stop offset="56.25%" stop-color="#CDB936"/><stop offset="68.75%" stop-color="#DBBB47"/><stop offset="81.25%" stop-color="#E4BB51"/><stop offset="93.75%" stop-color="#E8BC57"/></linearGradient>
<rect x="106.64" y="119.81" width="5.02" height="70.89" fill="url(#gVietnam19)"/>
<linearGradient id="gVietnam20" x1="0" y1="0" x2="0" y2="1"><stop offset="6.25%" stop-color="#D6BA41"/><stop offset="18.75%" stop-color="#D2BA3C"/><stop offset="31.25%" stop-color="#C9B931"/><stop offset="43.75%" stop-color="#BFB726"/><stop offset="56.25%" stop-color="#B5B61B"/><stop offset="68.75%" stop-color="#B0B616"/><stop offset="81.25%" stop-color="#B0B616"/><stop offset="93.75%" stop-color="#B0B616"/></linearGradient>
<rect x="111.61" y="119.81" width="5.02" height="70.89" fill="url(#gVietnam20)"/>
<linearGradient id="gVietnam21" x1="0" y1="0" x2="0" y2="1"><stop offset="6.25%" stop-color="#B0B616"/><stop offset="18.75%" stop-color="#B0B616"/><stop offset="31.25%" stop-color="#B0B616"/><stop offset="43.75%" stop-color="#B0B616"/><stop offset="56.25%" stop-color="#B0B616"/><stop offset="68.75%" stop-color="#B0B616"/><stop offset="81.25%" stop-color="#B0B616"/><stop offset="93.75%" stop-color="#B0B616"/></linearGradient>
<rect x="116.57" y="119.81" width="5.02" height="70.89" fill="url(#gVietnam21)"/>
<linearGradient id="gVietnam22" x1="0" y1="0" x2="0" y2="1"><stop offset="6.25%" stop-color="#D6BA41"/><stop offset="18.75%" stop-color="#D6BA41"/><stop offset="31.25%" stop-color="#D6BA41"/><stop offset="43.75%" stop-color="#CDB936"/><stop offset="56.25%" stop-color="#BAB720"/><stop offset="68.75%" stop-color="#B5B61B"/><stop offset="81.25%" stop-color="#BFB726"/><stop offset="93.75%" stop-color="#C4B82B"/></linearGradient>
<rect x="121.54" y="119.81" width="5.02" height="70.89" fill="url(#gVietnam22)"/>
<linearGradient id="gVietnam23" x1="0" y1="0" x2="0" y2="1"><stop offset="6.25%" stop-color="#C4B82B"/><stop offset="18.75%" stop-color="#BFB726"/><stop offset="31.25%" stop-color="#B5B61B"/><stop offset="43.75%" stop-color="#AAB511"/><stop offset="56.25%" stop-color="#A0B309"/><stop offset="68.75%" stop-color="#A0B309"/><stop offset="81.25%" stop-color="#AAB511"/><stop offset="93.75%" stop-color="#B0B616"/></linearGradient>
<rect x="126.5" y="119.81" width="5.02" height="70.89" fill="url(#gVietnam23)"/>
<linearGradient id="gVietnam24" x1="0" y1="0" x2="0" y2="1"><stop offset="6.25%" stop-color="#B0B616"/><stop offset="18.75%" stop-color="#AAB511"/><stop offset="31.25%" stop-color="#A0B309"/><stop offset="43.75%" stop-color="#89B00B"/><stop offset="56.25%" stop-color="#60AB24"/><stop offset="68.75%" stop-color="#6FAD1C"/><stop offset="81.25%" stop-color="#AAB511"/><stop offset="93.75%" stop-color="#C4B82B"/></linearGradient>
<rect x="131.47" y="119.81" width="5.02" height="70.89" fill="url(#gVietnam24)"/>
<linearGradient id="gVietnam25" x1="0" y1="0" x2="0" y2="1"><stop offset="6.25%" stop-color="#9AB208"/><stop offset="18.75%" stop-color="#95B207"/><stop offset="31.25%" stop-color="#89B00B"/><stop offset="43.75%" stop-color="#7DAF13"/><stop offset="56.25%" stop-color="#6FAD1C"/><stop offset="68.75%" stop-color="#7DAF13"/><stop offset="81.25%" stop-color="#A0B309"/><stop offset="93.75%" stop-color="#B0B616"/></linearGradient>
<rect x="136.43" y="119.81" width="7.97" height="70.89" fill="url(#gVietnam25)"/>
<path d="M12.6 119.8L13.0 131.1L12.6 139.4L12.5 147.7L12.1 156.0L12.3 164.3L12.8 172.6L12.9 172.6L13.0 164.3L13.4 156.0L13.6 147.7L14.2 139.4L14.3 131.1L14.3 119.8Z" fill="#FFC287" fill-opacity="0.92"/>
<path d="M14.8 119.8L14.9 133.6L15.0 144.4L14.6 155.2L14.6 166.1L14.5 176.9L14.8 190.7L15.5 190.7L15.0 176.9L15.4 166.1L15.3 155.2L15.5 144.4L15.7 133.6L15.6 119.8Z" fill="#9CB308" fill-opacity="0.92"/>
<path d="M16.1 119.8L16.2 133.6L16.1 144.4L15.9 155.2L15.8 166.1L15.6 176.9L15.7 190.7L17.0 190.7L17.3 176.9L17.3 166.1L17.2 155.2L17.1 144.4L17.3 133.6L16.9 119.8Z" fill="#FEC180" fill-opacity="0.92"/>
<path d="M17.7 119.8L18.0 133.6L17.8 144.4L17.7 155.2L18.0 166.1L17.4 176.9L18.0 190.7L18.8 190.7L18.8 176.9L18.9 166.1L19.1 155.2L19.0 144.4L18.9 133.6L18.8 119.8Z" fill="#F6BE69" fill-opacity="0.92"/>
<path d="M19.5 119.8L19.3 131.3L18.8 139.7L18.8 148.1L18.7 156.6L19.4 165.0L19.5 173.5L19.7 173.5L20.0 165.0L21.2 156.6L20.9 148.1L21.2 139.7L21.1 131.3L21.1 119.8Z" fill="#EBBC5B" fill-opacity="0.92"/>
<path d="M21.7 119.8L21.5 133.6L21.4 144.4L21.5 155.2L21.6 166.1L21.2 176.9L21.1 190.7L22.0 190.7L22.0 176.9L22.3 166.1L22.3 155.2L22.4 144.4L22.6 133.6L22.6 119.8Z" fill="#70AD1B" fill-opacity="0.92"/>
<path d="M23.7 151.3L23.4 157.3L23.4 163.4L23.3 169.5L23.0 175.6L23.3 181.6L23.0 190.7L24.4 190.7L24.1 181.6L24.5 175.6L24.3 169.5L24.3 163.4L23.8 157.3L23.8 151.3Z" fill="#83B00F" fill-opacity="0.92"/>
<path d="M25.3 119.8L25.8 129.7L25.9 136.6L26.1 143.6L26.3 150.5L26.3 157.4L26.5 164.3L26.6 164.3L26.9 157.4L27.4 150.5L27.1 143.6L27.1 136.6L26.5 129.7L26.5 119.8Z" fill="#E6BC54" fill-opacity="0.92"/>
<path d="M26.8 119.8L26.5 133.6L26.8 144.4L26.9 155.2L26.8 166.1L26.7 176.9L27.2 190.7L27.9 190.7L27.9 176.9L27.8 166.1L28.0 155.2L27.5 144.4L27.7 133.6L27.9 119.8Z" fill="#78AE16" fill-opacity="0.92"/>
<path d="M28.4 155.7L28.6 161.0L28.2 166.3L28.3 171.7L28.2 177.0L28.2 182.4L28.1 190.7L28.7 190.7L29.2 182.4L28.9 177.0L28.9 171.7L28.9 166.3L28.8 161.0L28.4 155.7Z" fill="#9DB309" fill-opacity="0.92"/>
<path d="M30.3 149.4L29.8 155.8L29.1 162.2L28.6 168.6L28.8 174.9L29.1 181.3L29.7 190.7L30.8 190.7L31.1 181.3L30.7 174.9L30.6 168.6L30.5 162.2L30.3 155.8L30.4 149.4Z" fill="#73AD19" fill-opacity="0.92"/>
<path d="M31.7 119.8L31.6 133.6L31.3 144.4L31.5 155.2L32.4 166.1L32.0 176.9L31.6 190.7L34.5 190.7L34.1 176.9L33.9 166.1L34.5 155.2L34.3 144.4L34.4 133.6L34.2 119.8Z" fill="#FEC07E" fill-opacity="0.92"/>
<path d="M34.4 119.8L34.1 127.8L34.1 132.8L33.8 137.8L34.3 142.8L34.8 147.8L34.8 152.8L34.8 152.8L35.1 147.8L35.4 142.8L35.5 137.8L35.3 132.8L35.4 127.8L35.4 119.8Z" fill="#EFBD60" fill-opacity="0.92"/>
<path d="M35.5 119.8L35.6 127.3L35.3 131.8L35.6 136.3L35.4 140.9L35.9 145.4L36.0 149.9L36.1 149.9L36.3 145.4L36.4 140.9L36.4 136.3L36.7 131.8L36.6 127.3L36.2 119.8Z" fill="#77AE17" fill-opacity="0.92"/>
<path d="M36.5 119.8L36.9 133.6L36.6 144.4L36.5 155.2L36.9 166.1L36.8 176.9L36.8 190.7L37.8 190.7L37.9 176.9L37.5 166.1L37.8 155.2L37.5 144.4L37.7 133.6L37.6 119.8Z" fill="#FDC077" fill-opacity="0.92"/>
<path d="M38.9 136.7L38.9 145.2L38.3 153.7L38.2 162.2L37.9 170.7L37.8 179.2L38.2 190.7L40.0 190.7L40.3 179.2L40.3 170.7L40.0 162.2L39.7 153.7L39.7 145.2L39.0 136.7Z" fill="#9EB309" fill-opacity="0.92"/>
<path d="M40.3 119.8L40.5 133.6L40.3 144.4L40.2 155.2L40.2 166.1L40.4 176.9L40.5 190.7L41.5 190.7L41.2 176.9L41.2 166.1L41.1 155.2L41.6 144.4L41.7 133.6L41.6 119.8Z" fill="#8CB009" fill-opacity="0.92"/>
<path d="M42.8 119.8L43.0 133.6L42.4 144.4L42.5 155.2L42.3 166.1L41.9 176.9L41.9 190.7L43.1 190.7L43.5 176.9L43.8 166.1L43.7 155.2L44.0 144.4L44.1 133.6L44.1 119.8Z" fill="#A3B40A" fill-opacity="0.92"/>
<path d="M44.5 119.8L44.6 133.6L44.5 144.4L44.7 155.2L45.0 166.1L44.6 176.9L44.5 190.7L46.6 190.7L46.6 176.9L46.7 166.1L46.6 155.2L46.5 144.4L46.0 133.6L46.4 119.8Z" fill="#FFC494" fill-opacity="0.92"/>
<path d="M47.2 119.8L46.9 130.8L46.6 138.8L46.6 146.8L47.0 154.8L47.1 162.7L47.6 170.7L47.6 170.7L47.5 162.7L47.7 154.8L47.7 146.8L47.6 138.8L47.8 130.8L47.8 119.8Z" fill="#76AE17" fill-opacity="0.92"/>
<path d="M49.4 119.8L49.5 133.6L48.9 144.4L49.1 155.2L49.1 166.1L49.1 176.9L49.0 190.7L51.7 190.7L51.1 176.9L50.5 166.1L51.1 155.2L51.2 144.4L51.0 133.6L51.3 119.8Z" fill="#FFC38C" fill-opacity="0.92"/>
<path d="M51.7 119.8L51.6 132.4L51.5 142.0L51.6 151.7L52.0 161.3L51.9 170.9L52.1 180.5L52.2 180.5L52.5 170.9L53.0 161.3L53.7 151.7L53.2 142.0L53.2 132.4L53.4 119.8Z" fill="#FEC07E" fill-opacity="0.92"/>
<path d="M53.8 119.8L53.5 133.6L53.5 144.4L53.3 155.2L53.7 166.1L53.7 176.9L54.0 190.7L55.3 190.7L55.2 176.9L55.3 166.1L55.3 155.2L54.7 144.4L55.3 133.6L55.5 119.8Z" fill="#FDC077" fill-opacity="0.92"/>
<path d="M55.1 119.8L55.1 126.1L55.5 129.5L55.0 132.8L55.1 136.1L55.5 139.5L55.7 142.8L55.7 142.8L55.8 139.5L55.6 136.1L56.1 132.8L56.2 129.5L56.2 126.1L56.2 119.8Z" fill="#67AC21" fill-opacity="0.92"/>
<path d="M56.9 119.8L56.5 130.1L56.4 137.3L56.1 144.6L56.4 151.9L56.5 159.1L56.5 166.4L56.6 166.4L57.0 159.1L56.9 151.9L57.1 144.6L57.2 137.3L57.5 130.1L57.5 119.8Z" fill="#F8BE6D" fill-opacity="0.92"/>
<path d="M57.5 119.8L57.8 133.6L57.6 144.4L57.7 155.2L57.6 166.1L57.7 176.9L58.1 190.7L58.9 190.7L58.9 176.9L58.7 166.1L58.5 155.2L58.4 144.4L58.5 133.6L58.4 119.8Z" fill="#3BA833" fill-opacity="0.92"/>
<path d="M59.5 119.8L59.6 131.8L59.7 140.8L59.7 149.8L60.1 158.7L60.1 167.7L60.4 176.7L60.4 176.7L60.6 167.7L61.2 158.7L61.3 149.8L61.3 140.8L60.8 131.8L60.4 119.8Z" fill="#DEBB4A" fill-opacity="0.92"/>
<path d="M60.7 119.8L61.0 130.4L61.0 138.0L60.8 145.7L60.4 153.3L60.9 160.9L61.1 168.5L61.1 168.5L61.2 160.9L61.4 153.3L61.8 145.7L62.1 138.0L62.1 130.4L61.9 119.8Z" fill="#5AAA27" fill-opacity="0.92"/>
<path d="M61.9 119.8L62.1 133.6L61.5 144.4L61.3 155.2L61.2 166.1L61.3 176.9L61.3 190.7L62.5 190.7L62.3 176.9L62.8 166.1L63.0 155.2L63.2 144.4L63.3 133.6L63.5 119.8Z" fill="#50A92C" fill-opacity="0.92"/>
<path d="M64.4 119.8L64.2 130.3L64.5 137.8L64.5 145.3L64.4 152.8L64.8 160.3L65.3 167.7L65.3 167.7L65.5 160.3L65.5 152.8L65.4 145.3L65.2 137.8L65.0 130.3L65.2 119.8Z" fill="#86B00D" fill-opacity="0.92"/>
<path d="M65.7 119.8L65.8 132.1L65.9 141.3L66.1 150.6L66.3 159.9L66.4 169.1L66.8 178.4L66.9 178.4L67.0 169.1L67.8 159.9L67.4 150.6L67.7 141.3L67.9 132.1L67.3 119.8Z" fill="#6CAD1D" fill-opacity="0.92"/>
<path d="M68.0 158.1L67.7 163.0L67.7 168.0L67.6 172.9L68.0 177.8L67.6 182.8L67.3 190.7L68.2 190.7L68.7 182.8L69.0 177.8L68.7 172.9L68.4 168.0L68.2 163.0L68.1 158.1Z" fill="#FFC28C" fill-opacity="0.92"/>
<path d="M68.9 119.8L69.5 133.6L68.7 144.4L68.5 155.2L68.3 166.1L68.3 176.9L68.8 190.7L71.4 190.7L71.3 176.9L71.2 166.1L71.7 155.2L72.0 144.4L71.4 133.6L71.8 119.8Z" fill="#FFC496" fill-opacity="0.92"/>
<path d="M72.3 155.2L72.3 160.6L72.2 166.1L71.9 171.5L71.8 176.9L72.2 182.3L72.3 190.7L73.3 190.7L72.9 182.3L72.8 176.9L72.6 171.5L72.8 166.1L72.6 160.6L72.4 155.2Z" fill="#A5B40B" fill-opacity="0.92"/>
<path d="M73.9 155.2L73.4 160.6L73.0 166.0L72.8 171.4L72.7 176.9L72.9 182.3L72.7 190.7L74.8 190.7L74.5 182.3L74.8 176.9L74.9 171.4L74.1 166.0L74.2 160.6L74.0 155.2Z" fill="#FFC180" fill-opacity="0.92"/>
<path d="M74.9 119.8L75.4 126.9L75.5 130.9L75.2 135.0L75.8 139.1L75.7 143.1L76.0 147.2L76.0 147.2L76.2 143.1L76.3 139.1L76.5 135.0L76.1 130.9L76.4 126.9L76.3 119.8Z" fill="#CCB935" fill-opacity="0.92"/>
<path d="M77.0 166.1L76.7 169.7L76.9 173.3L76.2 176.9L76.6 180.5L76.0 184.1L76.1 190.7L77.4 190.7L77.9 184.1L78.0 180.5L77.8 176.9L77.7 173.3L77.5 169.7L77.1 166.1Z" fill="#F4BE66" fill-opacity="0.92"/>
<path d="M78.5 119.8L78.3 130.6L78.6 138.5L78.0 146.3L78.6 154.1L79.0 162.0L79.0 169.8L79.0 169.8L79.3 162.0L79.1 154.1L79.1 146.3L79.1 138.5L78.8 130.6L79.3 119.8Z" fill="#6FAD1C" fill-opacity="0.92"/>
<path d="M79.3 119.8L79.0 133.6L78.8 144.4L78.6 155.2L79.4 166.1L78.9 176.9L78.8 190.7L80.5 190.7L80.6 176.9L80.4 166.1L80.8 155.2L80.9 144.4L80.8 133.6L80.9 119.8Z" fill="#FDC078" fill-opacity="0.92"/>
<path d="M82.2 119.8L81.9 133.6L82.2 144.4L81.4 155.2L81.7 166.1L81.9 176.9L81.9 190.7L83.6 190.7L82.9 176.9L83.4 166.1L83.6 155.2L83.4 144.4L83.7 133.6L83.6 119.8Z" fill="#80AF11" fill-opacity="0.92"/>
<path d="M84.1 119.8L84.4 133.6L84.0 144.4L84.5 155.2L84.3 166.1L84.3 176.9L84.7 190.7L85.9 190.7L85.9 176.9L86.3 166.1L85.8 155.2L85.9 144.4L85.3 133.6L85.7 119.8Z" fill="#98B207" fill-opacity="0.92"/>
<path d="M85.9 119.8L86.1 127.7L86.1 132.5L86.1 137.4L86.1 142.2L86.4 147.1L86.4 151.9L86.4 151.9L87.0 147.1L86.7 142.2L86.9 137.4L86.9 132.5L87.3 127.7L87.0 119.8Z" fill="#64AB22" fill-opacity="0.92"/>
<path d="M88.1 119.8L88.2 126.4L88.0 130.1L88.0 133.7L87.7 137.3L87.8 140.9L88.2 144.6L88.3 144.6L88.1 140.9L88.6 137.3L89.0 133.7L89.0 130.1L89.4 126.4L88.8 119.8Z" fill="#31A736" fill-opacity="0.92"/>
<path d="M90.4 149.3L90.2 155.7L89.6 162.1L89.8 168.5L89.5 174.9L89.5 181.3L89.2 190.7L90.6 190.7L90.7 181.3L90.4 174.9L90.6 168.5L90.8 162.1L90.7 155.7L90.5 149.3Z" fill="#6FAD1C" fill-opacity="0.92"/>
<path d="M91.3 134.4L90.9 143.3L90.6 152.1L90.4 161.0L90.7 169.9L91.0 178.8L91.3 190.7L91.9 190.7L91.7 178.8L91.4 169.9L91.4 161.0L91.7 152.1L91.3 143.3L91.3 134.4Z" fill="#ECBD5D" fill-opacity="0.92"/>
<path d="M92.7 119.8L92.4 133.6L92.3 144.4L92.6 155.2L92.3 166.1L92.1 176.9L92.1 190.7L92.8 190.7L92.7 176.9L93.2 166.1L93.2 155.2L93.0 144.4L93.1 133.6L93.3 119.8Z" fill="#78AE16" fill-opacity="0.92"/>
<path d="M93.5 119.8L93.3 133.6L93.6 144.4L93.5 155.2L93.4 166.1L93.0 176.9L93.5 190.7L94.3 190.7L94.5 176.9L94.5 166.1L94.6 155.2L95.0 144.4L95.2 133.6L94.8 119.8Z" fill="#EFBD60" fill-opacity="0.92"/>
<path d="M95.7 119.8L95.1 133.6L95.2 144.4L95.6 155.2L95.5 166.1L95.4 176.9L95.7 190.7L97.2 190.7L96.9 176.9L96.8 166.1L97.0 155.2L97.3 144.4L97.1 133.6L96.7 119.8Z" fill="#69AC1F" fill-opacity="0.92"/>
<path d="M97.9 119.8L97.9 133.6L98.4 144.4L98.3 155.2L98.2 166.1L98.3 176.9L98.2 190.7L99.4 190.7L99.4 176.9L99.3 166.1L99.2 155.2L99.2 144.4L99.0 133.6L98.5 119.8Z" fill="#26A63A" fill-opacity="0.92"/>
<path d="M99.4 119.8L99.1 130.1L98.8 137.4L99.2 144.7L99.3 152.0L99.7 159.3L100.2 166.6L100.3 166.6L100.3 159.3L100.0 152.0L100.2 144.7L100.2 137.4L100.1 130.1L100.2 119.8Z" fill="#2EA738" fill-opacity="0.92"/>
<path d="M101.4 119.8L101.4 126.4L101.6 130.0L101.7 133.5L101.1 137.1L101.7 140.7L101.6 144.3L101.7 144.3L102.1 140.7L102.3 137.1L102.4 133.5L102.4 130.0L102.3 126.4L102.3 119.8Z" fill="#EFBD60" fill-opacity="0.92"/>
<path d="M103.3 164.7L103.5 168.5L102.9 172.4L102.9 176.2L103.3 180.0L103.4 183.9L103.4 190.7L104.5 190.7L104.1 183.9L104.3 180.0L104.1 176.2L103.6 172.4L103.7 168.5L103.4 164.7Z" fill="#8BB00A" fill-opacity="0.92"/>
<path d="M104.2 119.8L103.8 133.6L104.1 144.4L104.0 155.2L103.7 166.1L103.5 176.9L103.4 190.7L104.5 190.7L104.5 176.9L104.9 166.1L105.2 155.2L105.0 144.4L104.8 133.6L105.0 119.8Z" fill="#EDBD5D" fill-opacity="0.92"/>
<path d="M105.5 119.8L105.4 133.6L105.5 144.4L105.4 155.2L105.5 166.1L105.2 176.9L105.1 190.7L105.7 190.7L106.1 176.9L106.5 166.1L106.3 155.2L106.1 144.4L106.3 133.6L106.4 119.8Z" fill="#48A92F" fill-opacity="0.92"/>
<path d="M106.8 119.8L107.2 133.6L107.4 144.4L107.0 155.2L106.7 166.1L106.7 176.9L106.8 190.7L108.4 190.7L108.2 176.9L108.5 166.1L108.8 155.2L108.7 144.4L108.3 133.6L108.1 119.8Z" fill="#FDC077" fill-opacity="0.92"/>
<path d="M108.7 119.8L109.5 132.4L109.3 142.0L109.8 151.6L109.5 161.1L109.5 170.7L109.9 180.3L110.0 180.3L110.2 170.7L110.7 161.1L111.0 151.6L111.0 142.0L110.6 132.4L111.0 119.8Z" fill="#70AD1B" fill-opacity="0.92"/>
<path d="M111.3 119.8L111.0 133.6L110.9 144.4L111.0 155.2L110.9 166.1L110.8 176.9L111.1 190.7L112.0 190.7L111.8 176.9L112.2 166.1L112.1 155.2L112.4 144.4L112.6 133.6L112.5 119.8Z" fill="#EDBD5E" fill-opacity="0.92"/>
<path d="M113.5 163.6L113.1 167.6L113.1 171.7L112.7 175.7L112.7 179.7L112.2 183.7L112.0 190.7L113.4 190.7L113.7 183.7L113.9 179.7L114.2 175.7L114.2 171.7L113.8 167.6L113.6 163.6Z" fill="#FCBF72" fill-opacity="0.92"/>
<path d="M114.1 119.8L114.3 127.2L114.5 131.5L114.1 135.9L113.9 140.3L114.1 144.7L114.8 149.0L114.8 149.0L114.9 144.7L115.2 140.3L115.6 135.9L115.7 131.5L115.4 127.2L116.0 119.8Z" fill="#F6BE6A" fill-opacity="0.92"/>
<path d="M116.7 119.8L116.9 133.6L117.1 144.4L117.3 155.2L117.5 166.1L117.4 176.9L117.0 190.7L118.5 190.7L118.6 176.9L118.3 166.1L118.2 155.2L118.0 144.4L117.7 133.6L117.7 119.8Z" fill="#4FA92D" fill-opacity="0.92"/>
<path d="M118.8 142.9L118.1 150.4L117.6 157.8L117.7 165.3L117.8 172.8L117.2 180.2L117.3 190.7L120.4 190.7L120.0 180.2L119.4 172.8L119.8 165.3L120.2 157.8L119.3 150.4L119.0 142.9Z" fill="#D8BA43" fill-opacity="0.92"/>
<path d="M120.9 119.8L120.5 129.3L120.6 135.7L121.0 142.2L121.1 148.6L121.6 155.1L122.0 161.5L122.1 161.5L122.1 155.1L122.1 148.6L121.9 142.2L121.6 135.7L121.7 129.3L121.7 119.8Z" fill="#7BAF14" fill-opacity="0.92"/>
<path d="M122.7 164.2L122.5 168.1L122.7 172.0L122.8 175.9L122.5 179.9L122.8 183.8L122.9 190.7L124.1 190.7L124.0 183.8L123.8 179.9L123.5 175.9L123.4 172.0L123.0 168.1L122.7 164.2Z" fill="#55AA2A" fill-opacity="0.92"/>
<path d="M124.3 119.8L124.0 133.6L124.3 144.4L124.2 155.2L124.4 166.1L124.6 176.9L124.8 190.7L125.8 190.7L126.1 176.9L125.7 166.1L125.6 155.2L125.3 144.4L125.7 133.6L125.7 119.8Z" fill="#E8BC57" fill-opacity="0.92"/>
<path d="M125.3 119.8L125.4 133.6L125.3 144.4L125.3 155.2L125.1 166.1L125.2 176.9L125.3 190.7L126.2 190.7L126.3 176.9L126.2 166.1L126.3 155.2L126.2 144.4L126.6 133.6L126.6 119.8Z" fill="#75AE17" fill-opacity="0.92"/>
<path d="M127.1 119.8L127.2 132.1L127.4 141.3L127.4 150.6L127.3 159.9L127.7 169.1L127.5 178.4L127.6 178.4L128.1 169.1L128.2 159.9L128.3 150.6L128.3 141.3L127.8 132.1L128.2 119.8Z" fill="#51A92C" fill-opacity="0.92"/>
<path d="M129.5 165.3L128.8 169.0L128.3 172.7L128.0 176.5L128.6 180.2L128.2 184.0L128.2 190.7L129.6 190.7L129.8 184.0L130.0 180.2L130.2 176.5L130.5 172.7L130.0 169.0L129.6 165.3Z" fill="#F4BE67" fill-opacity="0.92"/>
<path d="M131.1 119.8L131.3 133.6L131.1 144.4L131.4 155.2L131.4 166.1L131.5 176.9L131.8 190.7L133.2 190.7L133.1 176.9L133.5 166.1L132.9 155.2L133.1 144.4L133.4 133.6L133.1 119.8Z" fill="#26A63A" fill-opacity="0.92"/>
<path d="M134.1 119.8L134.0 133.6L134.2 144.4L134.5 155.2L135.0 166.1L135.0 176.9L134.8 190.7L135.7 190.7L136.0 176.9L135.5 166.1L135.4 155.2L135.0 144.4L134.7 133.6L135.0 119.8Z" fill="#26A63A" fill-opacity="0.92"/>
<path d="M135.1 119.8L135.5 133.6L135.2 144.4L135.8 155.2L135.7 166.1L135.9 176.9L136.1 190.7L137.7 190.7L137.2 176.9L137.0 166.1L136.9 155.2L137.0 144.4L136.4 133.6L136.9 119.8Z" fill="#C7B82F" fill-opacity="0.92"/>
<path d="M137.4 119.8L137.3 133.6L137.3 144.4L137.0 155.2L137.5 166.1L136.9 176.9L136.9 190.7L138.2 190.7L138.3 176.9L138.3 166.1L138.8 155.2L138.3 144.4L138.3 133.6L138.4 119.8Z" fill="#26A63A" fill-opacity="0.92"/>
<path d="M139.6 146.5L139.1 153.4L138.4 160.3L138.7 167.1L138.3 174.0L138.1 180.8L138.4 190.7L140.7 190.7L140.3 180.8L140.5 174.0L140.5 167.1L140.7 160.3L140.3 153.4L139.7 146.5Z" fill="#C2B829" fill-opacity="0.92"/>
<path d="M141.5 119.8L141.5 132.1L141.4 141.3L141.7 150.6L141.7 159.8L141.8 169.1L142.1 178.3L142.2 178.3L142.5 169.1L142.8 159.8L142.6 150.6L143.2 141.3L142.8 132.1L143.0 119.8Z" fill="#26A63A" fill-opacity="0.92"/>
</g></g>
<path d="M12.3 119.2H141.4M12.3 191.3H141.4" fill="none" stroke="#cdcdcd" stroke-width="0.9"/>
<path d="M141.4 119.2V191.3" fill="none" stroke="#a8a8a8" stroke-width="0.8"/>
<path d="M12.3 119.2V191.3" fill="none" stroke="#9a9a9a" stroke-width="0.8"/>
<path d="M11.3 191.3H12.3" stroke="#888" stroke-width="0.4"/>
<text x="9.8" y="192.2" class="t" text-anchor="end">0.0</text>
<path d="M11.3 176.88H12.3" stroke="#888" stroke-width="0.4"/>
<text x="9.8" y="177.78" class="t" text-anchor="end">0.2</text>
<path d="M11.3 162.46H12.3" stroke="#888" stroke-width="0.4"/>
<text x="9.8" y="163.36" class="t" text-anchor="end">0.4</text>
<path d="M11.3 148.04H12.3" stroke="#888" stroke-width="0.4"/>
<text x="9.8" y="148.94" class="t" text-anchor="end">0.6</text>
<path d="M11.3 133.62H12.3" stroke="#888" stroke-width="0.4"/>
<text x="9.8" y="134.52" class="t" text-anchor="end">0.8</text>
<path d="M11.3 119.2H12.3" stroke="#888" stroke-width="0.4"/>
<text x="9.8" y="120.1" class="t" text-anchor="end">1.0</text>
<path d="M24.3 191.3V192.5" stroke="#888" stroke-width="0.4"/>
<text x="24.6" y="196.8" class="t" text-anchor="middle">2019</text>
<path d="M53.8 191.3V192.5" stroke="#888" stroke-width="0.4"/>
<text x="54.1" y="196.8" class="t" text-anchor="middle">2020</text>
<path d="M83.3 191.3V192.5" stroke="#888" stroke-width="0.4"/>
<text x="83.6" y="196.8" class="t" text-anchor="middle">2021</text>
<path d="M112.8 191.3V192.5" stroke="#888" stroke-width="0.4"/>
<text x="113.1" y="196.8" class="t" text-anchor="middle">2022</text>
<text x="76.85" y="202.4" class="l" text-anchor="middle">Date</text>
<text transform="translate(3.75,155.25) rotate(-90)" class="l" text-anchor="middle">Quantiles</text>
<text x="76.85" y="115.9" class="m" text-anchor="middle">Vietnam</text>
<rect x="147.1" y="187.51" width="5.8" height="3.79" fill="#26A63A" stroke="#555" stroke-width="0.35"/>
<rect x="147.1" y="183.71" width="5.8" height="3.79" fill="#4EA92D" stroke="#555" stroke-width="0.35"/>
<rect x="147.1" y="179.92" width="5.8" height="3.79" fill="#68AC20" stroke="#555" stroke-width="0.35"/>
<rect x="147.1" y="176.12" width="5.8" height="3.79" fill="#7EAF12" stroke="#555" stroke-width="0.35"/>
<rect x="147.1" y="172.33" width="5.8" height="3.79" fill="#92B106" stroke="#555" stroke-width="0.35"/>
<rect x="147.1" y="168.53" width="5.8" height="3.79" fill="#A3B40A" stroke="#555" stroke-width="0.35"/>
<rect x="147.1" y="164.74" width="5.8" height="3.79" fill="#B4B61A" stroke="#555" stroke-width="0.35"/>
<rect x="147.1" y="160.94" width="5.8" height="3.79" fill="#C4B82B" stroke="#555" stroke-width="0.35"/>
<rect x="147.1" y="157.15" width="5.8" height="3.79" fill="#D3BA3D" stroke="#555" stroke-width="0.35"/>
<rect x="147.1" y="153.35" width="5.8" height="3.79" fill="#E1BB4E" stroke="#555" stroke-width="0.35"/>
<rect x="147.1" y="149.56" width="5.8" height="3.79" fill="#EFBD60" stroke="#555" stroke-width="0.35"/>
<rect x="147.1" y="145.76" width="5.8" height="3.79" fill="#FCBF72" stroke="#555" stroke-width="0.35"/>
<rect x="147.1" y="141.97" width="5.8" height="3.79" fill="#FFC183" stroke="#555" stroke-width="0.35"/>
<rect x="147.1" y="138.17" width="5.8" height="3.79" fill="#FFC495" stroke="#555" stroke-width="0.35"/>
<rect x="147.1" y="134.38" width="5.8" height="3.79" fill="#FFC6A7" stroke="#555" stroke-width="0.35"/>
<rect x="147.1" y="130.58" width="5.8" height="3.79" fill="#FFC9B8" stroke="#555" stroke-width="0.35"/>
<rect x="147.1" y="126.79" width="5.8" height="3.79" fill="#FFCDC9" stroke="#555" stroke-width="0.35"/>
<rect x="147.1" y="122.99" width="5.8" height="3.79" fill="#FFD2DA" stroke="#555" stroke-width="0.35"/>
<rect x="147.1" y="119.2" width="5.8" height="3.79" fill="#F1F1F1" stroke="#555" stroke-width="0.35"/>
<path d="M152.9 120.1H154" stroke="#888" stroke-width="0.4"/>
<text x="155.5" y="121.1" class="k">40</text>
<path d="M152.9 137.5H154" stroke="#888" stroke-width="0.4"/>
<text x="155.5" y="138.5" class="k">20</text>
<path d="M152.9 155H154" stroke="#888" stroke-width="0.4"/>
<text x="155.5" y="156" class="k">0</text>
<path d="M152.9 173H154" stroke="#888" stroke-width="0.4"/>
<text x="155.5" y="174" class="k">-20</text>
<path d="M152.9 190.5H154" stroke="#888" stroke-width="0.4"/>
<text x="155.5" y="191.5" class="k">-40</text>
<clipPath id="cIndonesia"><rect x="187.3" y="122.81" width="129.1" height="64.89"/></clipPath>
<g clip-path="url(#cIndonesia)"><g filter="url(#hb)">
<linearGradient id="gIndonesia0" x1="0" y1="0" x2="0" y2="1"><stop offset="6.25%" stop-color="#CEB937"/><stop offset="18.75%" stop-color="#CEB937"/><stop offset="31.25%" stop-color="#CEB937"/><stop offset="43.75%" stop-color="#CEB937"/><stop offset="56.25%" stop-color="#CEB937"/><stop offset="68.75%" stop-color="#D3BA3E"/><stop offset="81.25%" stop-color="#DDBB49"/><stop offset="93.75%" stop-color="#E2BB4F"/></linearGradient>
<rect x="184.3" y="119.81" width="8.02" height="70.89" fill="url(#gIndonesia0)"/>
<linearGradient id="gIndonesia1" x1="0" y1="0" x2="0" y2="1"><stop offset="6.25%" stop-color="#FFC390"/><stop offset="18.75%" stop-color="#FFC390"/><stop offset="31.25%" stop-color="#FFC390"/><stop offset="43.75%" stop-color="#FFC28B"/><stop offset="56.25%" stop-color="#FFC180"/><stop offset="68.75%" stop-color="#FEC07B"/><stop offset="81.25%" stop-color="#FEC07B"/><stop offset="93.75%" stop-color="#FEC07B"/></linearGradient>
<rect x="192.27" y="119.81" width="5.02" height="70.89" fill="url(#gIndonesia1)"/>
<linearGradient id="gIndonesia2" x1="0" y1="0" x2="0" y2="1"><stop offset="6.25%" stop-color="#E2BB4F"/><stop offset="18.75%" stop-color="#E2BB4F"/><stop offset="31.25%" stop-color="#E2BB4F"/><stop offset="43.75%" stop-color="#DDBB49"/><stop offset="56.25%" stop-color="#D3BA3E"/><stop offset="68.75%" stop-color="#D3BA3E"/><stop offset="81.25%" stop-color="#DDBB49"/><stop offset="93.75%" stop-color="#E2BB4F"/></linearGradient>
<rect x="197.23" y="119.81" width="5.02" height="70.89" fill="url(#gIndonesia2)"/>
<linearGradient id="gIndonesia3" x1="0" y1="0" x2="0" y2="1"><stop offset="6.25%" stop-color="#F3BE66"/><stop offset="18.75%" stop-color="#EFBD60"/><stop offset="31.25%" stop-color="#E7BC55"/><stop offset="43.75%" stop-color="#E2BB4F"/><stop offset="56.25%" stop-color="#E2BB4F"/><stop offset="68.75%" stop-color="#E7BC55"/><stop offset="81.25%" stop-color="#EFBD60"/><stop offset="93.75%" stop-color="#F3BE66"/></linearGradient>
<rect x="202.2" y="119.81" width="5.02" height="70.89" fill="url(#gIndonesia3)"/>
<linearGradient id="gIndonesia4" x1="0" y1="0" x2="0" y2="1"><stop offset="6.25%" stop-color="#CEB937"/><stop offset="18.75%" stop-color="#D3BA3E"/><stop offset="31.25%" stop-color="#DDBB49"/><stop offset="43.75%" stop-color="#D8BA43"/><stop offset="56.25%" stop-color="#C4B82B"/><stop offset="68.75%" stop-color="#C4B82B"/><stop offset="81.25%" stop-color="#D8BA43"/><stop offset="93.75%" stop-color="#E2BB4F"/></linearGradient>
<rect x="207.16" y="119.81" width="5.02" height="70.89" fill="url(#gIndonesia4)"/>
<linearGradient id="gIndonesia5" x1="0" y1="0" x2="0" y2="1"><stop offset="6.25%" stop-color="#FEC07B"/><stop offset="18.75%" stop-color="#FFC180"/><stop offset="31.25%" stop-color="#FFC28B"/><stop offset="43.75%" stop-color="#FFC28B"/><stop offset="56.25%" stop-color="#FFC180"/><stop offset="68.75%" stop-color="#FEC07B"/><stop offset="81.25%" stop-color="#FEC07B"/><stop offset="93.75%" stop-color="#FEC07B"/></linearGradient>
<rect x="212.13" y="119.81" width="5.02" height="70.89" fill="url(#gIndonesia5)"/>
<linearGradient id="gIndonesia6" x1="0" y1="0" x2="0" y2="1"><stop offset="6.25%" stop-color="#FEC07B"/><stop offset="18.75%" stop-color="#FEC07B"/><stop offset="31.25%" stop-color="#FEC07B"/><stop offset="43.75%" stop-color="#FBBF71"/><stop offset="56.25%" stop-color="#EBBC5B"/><stop offset="68.75%" stop-color="#E7BC55"/><stop offset="81.25%" stop-color="#EFBD60"/><stop offset="93.75%" stop-color="#F3BE66"/></linearGradient>
<rect x="217.09" y="119.81" width="5.02" height="70.89" fill="url(#gIndonesia6)"/>
<linearGradient id="gIndonesia7" x1="0" y1="0" x2="0" y2="1"><stop offset="6.25%" stop-color="#FEC07B"/><stop offset="18.75%" stop-color="#FEC07B"/><stop offset="31.25%" stop-color="#FEC07B"/><stop offset="43.75%" stop-color="#FEC07B"/><stop offset="56.25%" stop-color="#FEC07B"/><stop offset="68.75%" stop-color="#FDBF76"/><stop offset="81.25%" stop-color="#F7BE6C"/><stop offset="93.75%" stop-color="#F3BE66"/></linearGradient>
<rect x="222.06" y="119.81" width="5.02" height="70.89" fill="url(#gIndonesia7)"/>
<linearGradient id="gIndonesia8" x1="0" y1="0" x2="0" y2="1"><stop offset="6.25%" stop-color="#E2BB4F"/><stop offset="18.75%" stop-color="#DDBB49"/><stop offset="31.25%" stop-color="#D3BA3E"/><stop offset="43.75%" stop-color="#CEB937"/><stop offset="56.25%" stop-color="#CEB937"/><stop offset="68.75%" stop-color="#D3BA3E"/><stop offset="81.25%" stop-color="#DDBB49"/><stop offset="93.75%" stop-color="#E2BB4F"/></linearGradient>
<rect x="227.02" y="119.81" width="5.02" height="70.89" fill="url(#gIndonesia8)"/>
<linearGradient id="gIndonesia9" x1="0" y1="0" x2="0" y2="1"><stop offset="6.25%" stop-color="#F3BE66"/><stop offset="18.75%" stop-color="#EFBD60"/><stop offset="31.25%" stop-color="#E7BC55"/><stop offset="43.75%" stop-color="#E7BC55"/><stop offset="56.25%" stop-color="#EFBD60"/><stop offset="68.75%" stop-color="#F3BE66"/><stop offset="81.25%" stop-color="#F3BE66"/><stop offset="93.75%" stop-color="#F3BE66"/></linearGradient>
<rect x="231.99" y="119.81" width="5.02" height="70.89" fill="url(#gIndonesia9)"/>
<linearGradient id="gIndonesia10" x1="0" y1="0" x2="0" y2="1"><stop offset="6.25%" stop-color="#6AAC1F"/><stop offset="18.75%" stop-color="#6AAC1F"/><stop offset="31.25%" stop-color="#6AAC1F"/><stop offset="43.75%" stop-color="#6AAC1F"/><stop offset="56.25%" stop-color="#6AAC1F"/><stop offset="68.75%" stop-color="#79AE15"/><stop offset="81.25%" stop-color="#95B207"/><stop offset="93.75%" stop-color="#A1B40A"/></linearGradient>
<rect x="236.95" y="119.81" width="5.02" height="70.89" fill="url(#gIndonesia10)"/>
<linearGradient id="gIndonesia11" x1="0" y1="0" x2="0" y2="1"><stop offset="6.25%" stop-color="#41A831"/><stop offset="18.75%" stop-color="#3FA832"/><stop offset="31.25%" stop-color="#3CA833"/><stop offset="43.75%" stop-color="#3CA833"/><stop offset="56.25%" stop-color="#3FA832"/><stop offset="68.75%" stop-color="#58AA28"/><stop offset="81.25%" stop-color="#79AE15"/><stop offset="93.75%" stop-color="#88B00C"/></linearGradient>
<rect x="241.92" y="119.81" width="5.02" height="70.89" fill="url(#gIndonesia11)"/>
<linearGradient id="gIndonesia12" x1="0" y1="0" x2="0" y2="1"><stop offset="6.25%" stop-color="#CEB937"/><stop offset="18.75%" stop-color="#CEB937"/><stop offset="31.25%" stop-color="#CEB937"/><stop offset="43.75%" stop-color="#CEB937"/><stop offset="56.25%" stop-color="#CEB937"/><stop offset="68.75%" stop-color="#CEB937"/><stop offset="81.25%" stop-color="#CEB937"/><stop offset="93.75%" stop-color="#CEB937"/></linearGradient>
<rect x="246.88" y="119.81" width="5.02" height="70.89" fill="url(#gIndonesia12)"/>
<linearGradient id="gIndonesia13" x1="0" y1="0" x2="0" y2="1"><stop offset="6.25%" stop-color="#CEB937"/><stop offset="18.75%" stop-color="#CEB937"/><stop offset="31.25%" stop-color="#CEB937"/><stop offset="43.75%" stop-color="#C9B931"/><stop offset="56.25%" stop-color="#BEB725"/><stop offset="68.75%" stop-color="#B8B71F"/><stop offset="81.25%" stop-color="#B8B71F"/><stop offset="93.75%" stop-color="#B8B71F"/></linearGradient>
<rect x="251.85" y="119.81" width="5.02" height="70.89" fill="url(#gIndonesia13)"/>
<linearGradient id="gIndonesia14" x1="0" y1="0" x2="0" y2="1"><stop offset="6.25%" stop-color="#F3BE66"/><stop offset="18.75%" stop-color="#F3BE66"/><stop offset="31.25%" stop-color="#F3BE66"/><stop offset="43.75%" stop-color="#DCBB48"/><stop offset="56.25%" stop-color="#A6B40D"/><stop offset="68.75%" stop-color="#8FB108"/><stop offset="81.25%" stop-color="#9BB308"/><stop offset="93.75%" stop-color="#A1B40A"/></linearGradient>
<rect x="256.82" y="119.81" width="5.02" height="70.89" fill="url(#gIndonesia14)"/>
<linearGradient id="gIndonesia15" x1="0" y1="0" x2="0" y2="1"><stop offset="6.25%" stop-color="#CEB937"/><stop offset="18.75%" stop-color="#CEB937"/><stop offset="31.25%" stop-color="#CEB937"/><stop offset="43.75%" stop-color="#C9B931"/><stop offset="56.25%" stop-color="#BEB725"/><stop offset="68.75%" stop-color="#BEB725"/><stop offset="81.25%" stop-color="#C9B931"/><stop offset="93.75%" stop-color="#CEB937"/></linearGradient>
<rect x="261.78" y="119.81" width="5.02" height="70.89" fill="url(#gIndonesia15)"/>
<linearGradient id="gIndonesia16" x1="0" y1="0" x2="0" y2="1"><stop offset="6.25%" stop-color="#B8B71F"/><stop offset="18.75%" stop-color="#B8B71F"/><stop offset="31.25%" stop-color="#B8B71F"/><stop offset="43.75%" stop-color="#C8B930"/><stop offset="56.25%" stop-color="#E6BC54"/><stop offset="68.75%" stop-color="#F3BE66"/><stop offset="81.25%" stop-color="#F3BE66"/><stop offset="93.75%" stop-color="#F3BE66"/></linearGradient>
<rect x="266.75" y="119.81" width="5.02" height="70.89" fill="url(#gIndonesia16)"/>
<linearGradient id="gIndonesia17" x1="0" y1="0" x2="0" y2="1"><stop offset="6.25%" stop-color="#CEB937"/><stop offset="18.75%" stop-color="#C9B931"/><stop offset="31.25%" stop-color="#BEB725"/><stop offset="43.75%" stop-color="#ADB513"/><stop offset="56.25%" stop-color="#95B207"/><stop offset="68.75%" stop-color="#8FB108"/><stop offset="81.25%" stop-color="#9BB308"/><stop offset="93.75%" stop-color="#A1B40A"/></linearGradient>
<rect x="271.71" y="119.81" width="5.02" height="70.89" fill="url(#gIndonesia17)"/>
<linearGradient id="gIndonesia18" x1="0" y1="0" x2="0" y2="1"><stop offset="6.25%" stop-color="#A1B40A"/><stop offset="18.75%" stop-color="#A1B40A"/><stop offset="31.25%" stop-color="#A1B40A"/><stop offset="43.75%" stop-color="#A7B40E"/><stop offset="56.25%" stop-color="#B3B619"/><stop offset="68.75%" stop-color="#BEB725"/><stop offset="81.25%" stop-color="#C9B931"/><stop offset="93.75%" stop-color="#CEB937"/></linearGradient>
<rect x="276.68" y="119.81" width="5.02" height="70.89" fill="url(#gIndonesia18)"/>
<linearGradient id="gIndonesia19" x1="0" y1="0" x2="0" y2="1"><stop offset="6.25%" stop-color="#6AAC1F"/><stop offset="18.75%" stop-color="#71AD1A"/><stop offset="31.25%" stop-color="#81AF10"/><stop offset="43.75%" stop-color="#9BB308"/><stop offset="56.25%" stop-color="#BEB725"/><stop offset="68.75%" stop-color="#CEB937"/><stop offset="81.25%" stop-color="#CEB937"/><stop offset="93.75%" stop-color="#CEB937"/></linearGradient>
<rect x="281.64" y="119.81" width="5.02" height="70.89" fill="url(#gIndonesia19)"/>
<linearGradient id="gIndonesia20" x1="0" y1="0" x2="0" y2="1"><stop offset="6.25%" stop-color="#B8B71F"/><stop offset="18.75%" stop-color="#B8B71F"/><stop offset="31.25%" stop-color="#B8B71F"/><stop offset="43.75%" stop-color="#B8B71F"/><stop offset="56.25%" stop-color="#B8B71F"/><stop offset="68.75%" stop-color="#B8B71F"/><stop offset="81.25%" stop-color="#B8B71F"/><stop offset="93.75%" stop-color="#B8B71F"/></linearGradient>
<rect x="286.61" y="119.81" width="5.02" height="70.89" fill="url(#gIndonesia20)"/>
<linearGradient id="gIndonesia21" x1="0" y1="0" x2="0" y2="1"><stop offset="6.25%" stop-color="#FFC6A6"/><stop offset="18.75%" stop-color="#FFC7AB"/><stop offset="31.25%" stop-color="#FFC9B5"/><stop offset="43.75%" stop-color="#FFC7AB"/><stop offset="56.25%" stop-color="#FFC28B"/><stop offset="68.75%" stop-color="#FEC07B"/><stop offset="81.25%" stop-color="#FEC07B"/><stop offset="93.75%" stop-color="#FEC07B"/></linearGradient>
<rect x="291.57" y="119.81" width="5.02" height="70.89" fill="url(#gIndonesia21)"/>
<linearGradient id="gIndonesia22" x1="0" y1="0" x2="0" y2="1"><stop offset="6.25%" stop-color="#FEC07B"/><stop offset="18.75%" stop-color="#FEC07B"/><stop offset="31.25%" stop-color="#FEC07B"/><stop offset="43.75%" stop-color="#FBBF71"/><stop offset="56.25%" stop-color="#EBBC5B"/><stop offset="68.75%" stop-color="#DDBB49"/><stop offset="81.25%" stop-color="#D3BA3E"/><stop offset="93.75%" stop-color="#CEB937"/></linearGradient>
<rect x="296.54" y="119.81" width="5.02" height="70.89" fill="url(#gIndonesia22)"/>
<linearGradient id="gIndonesia23" x1="0" y1="0" x2="0" y2="1"><stop offset="6.25%" stop-color="#88B00C"/><stop offset="18.75%" stop-color="#88B00C"/><stop offset="31.25%" stop-color="#88B00C"/><stop offset="43.75%" stop-color="#81AF10"/><stop offset="56.25%" stop-color="#71AD1A"/><stop offset="68.75%" stop-color="#71AD1A"/><stop offset="81.25%" stop-color="#81AF10"/><stop offset="93.75%" stop-color="#88B00C"/></linearGradient>
<rect x="301.5" y="119.81" width="5.02" height="70.89" fill="url(#gIndonesia23)"/>
<linearGradient id="gIndonesia24" x1="0" y1="0" x2="0" y2="1"><stop offset="6.25%" stop-color="#CEB937"/><stop offset="18.75%" stop-color="#C9B931"/><stop offset="31.25%" stop-color="#BEB725"/><stop offset="43.75%" stop-color="#A7B40E"/><stop offset="56.25%" stop-color="#81AF10"/><stop offset="68.75%" stop-color="#71AD1A"/><stop offset="81.25%" stop-color="#81AF10"/><stop offset="93.75%" stop-color="#88B00C"/></linearGradient>
<rect x="306.47" y="119.81" width="5.02" height="70.89" fill="url(#gIndonesia24)"/>
<linearGradient id="gIndonesia25" x1="0" y1="0" x2="0" y2="1"><stop offset="6.25%" stop-color="#B8B71F"/><stop offset="18.75%" stop-color="#B8B71F"/><stop offset="31.25%" stop-color="#B8B71F"/><stop offset="43.75%" stop-color="#B8B71F"/><stop offset="56.25%" stop-color="#B8B71F"/><stop offset="68.75%" stop-color="#BEB725"/><stop offset="81.25%" stop-color="#C9B931"/><stop offset="93.75%" stop-color="#CEB937"/></linearGradient>
<rect x="311.43" y="119.81" width="7.97" height="70.89" fill="url(#gIndonesia25)"/>
<path d="M187.1 119.8L187.4 133.6L187.6 144.4L187.6 155.2L186.7 166.1L187.1 176.9L187.2 190.7L189.2 190.7L189.0 176.9L189.5 166.1L189.1 155.2L189.5 144.4L189.6 133.6L189.7 119.8Z" fill="#FCBF74" fill-opacity="0.92"/>
<path d="M190.1 119.8L189.8 133.6L189.4 144.4L189.4 155.2L189.3 166.1L189.7 176.9L190.0 190.7L191.4 190.7L191.4 176.9L191.4 166.1L191.7 155.2L191.1 144.4L191.3 133.6L191.6 119.8Z" fill="#FFC183" fill-opacity="0.92"/>
<path d="M192.1 119.8L192.1 130.6L192.2 138.3L192.4 146.1L192.6 153.9L192.4 161.6L192.5 169.4L192.6 169.4L193.0 161.6L193.4 153.9L193.3 146.1L193.1 138.3L193.0 130.6L192.9 119.8Z" fill="#FFC8B4" fill-opacity="0.92"/>
<path d="M194.3 142.3L193.9 149.9L193.5 157.4L193.4 165.0L193.3 172.6L193.2 180.1L193.0 190.7L194.3 190.7L194.5 180.1L194.7 172.6L194.7 165.0L194.4 157.4L194.3 149.9L194.3 142.3Z" fill="#D4BA3E" fill-opacity="0.92"/>
<path d="M195.5 119.8L195.1 133.6L195.0 144.4L194.9 155.2L195.5 166.1L195.2 176.9L195.3 190.7L196.3 190.7L196.6 176.9L196.6 166.1L196.6 155.2L196.2 144.4L196.6 133.6L196.8 119.8Z" fill="#C6B82E" fill-opacity="0.92"/>
<path d="M196.4 119.8L196.7 126.3L196.4 129.9L196.9 133.4L196.7 136.9L196.9 140.5L197.6 144.0L197.7 144.0L198.0 140.5L198.3 136.9L198.3 133.4L198.7 129.9L198.1 126.3L198.8 119.8Z" fill="#FFC7AD" fill-opacity="0.92"/>
<path d="M199.2 119.8L198.5 129.7L198.4 136.5L198.0 143.4L198.3 150.2L198.5 157.1L198.8 163.9L198.9 163.9L198.9 157.1L199.3 150.2L200.0 143.4L200.1 136.5L200.1 129.7L200.2 119.8Z" fill="#FFC6A9" fill-opacity="0.92"/>
<path d="M200.7 119.8L200.6 133.6L200.7 144.4L200.4 155.2L200.3 166.1L201.0 176.9L201.3 190.7L202.4 190.7L202.1 176.9L202.2 166.1L202.5 155.2L202.2 144.4L202.1 133.6L202.3 119.8Z" fill="#8AB00B" fill-opacity="0.92"/>
<path d="M203.4 119.8L203.8 131.3L203.9 139.7L203.6 148.2L203.8 156.7L204.3 165.1L204.4 173.6L204.4 173.6L204.6 165.1L204.6 156.7L204.2 148.2L204.4 139.7L204.5 131.3L204.3 119.8Z" fill="#A1B40A" fill-opacity="0.92"/>
<path d="M205.0 119.8L205.2 127.0L204.9 131.1L204.7 135.3L205.4 139.5L205.7 143.6L206.1 147.8L206.2 147.8L206.3 143.6L206.4 139.5L206.4 135.3L206.4 131.1L206.2 127.0L206.6 119.8Z" fill="#BCB722" fill-opacity="0.92"/>
<path d="M206.4 119.8L206.3 133.6L206.5 144.4L206.6 155.2L206.4 166.1L206.4 176.9L206.4 190.7L207.6 190.7L208.1 176.9L208.0 166.1L208.2 155.2L208.0 144.4L207.9 133.6L207.5 119.8Z" fill="#FFC498" fill-opacity="0.92"/>
<path d="M209.1 142.8L208.7 150.3L208.0 157.8L207.9 165.3L208.0 172.7L207.7 180.2L207.8 190.7L209.2 190.7L209.6 180.2L209.3 172.7L209.0 165.3L209.6 157.8L209.4 150.3L209.2 142.8Z" fill="#55AA29" fill-opacity="0.92"/>
<path d="M210.2 119.8L210.3 133.6L209.8 144.4L210.2 155.2L210.6 166.1L210.1 176.9L210.1 190.7L212.1 190.7L211.7 176.9L211.6 166.1L211.7 155.2L211.8 144.4L211.8 133.6L211.3 119.8Z" fill="#FFC495" fill-opacity="0.92"/>
<path d="M212.9 159.9L212.4 164.6L211.8 169.2L212.1 173.8L212.0 178.4L212.3 183.1L212.3 190.7L213.6 190.7L213.2 183.1L213.2 178.4L213.0 173.8L213.4 169.2L213.2 164.6L212.9 159.9Z" fill="#A4B40B" fill-opacity="0.92"/>
<path d="M214.0 119.8L213.8 133.6L214.3 144.4L214.1 155.2L213.8 166.1L214.1 176.9L213.7 190.7L216.0 190.7L215.6 176.9L215.9 166.1L216.2 155.2L215.5 144.4L216.1 133.6L215.8 119.8Z" fill="#FFCFD1" fill-opacity="0.92"/>
<path d="M216.5 119.8L216.2 133.6L216.6 144.4L216.1 155.2L215.8 166.1L216.3 176.9L215.8 190.7L216.8 190.7L216.9 176.9L216.8 166.1L217.1 155.2L217.3 144.4L217.3 133.6L217.3 119.8Z" fill="#BFB726" fill-opacity="0.92"/>
<path d="M217.5 119.8L217.1 133.6L216.6 144.4L216.7 155.2L216.3 166.1L216.3 176.9L216.6 190.7L217.5 190.7L217.2 176.9L217.6 166.1L217.8 155.2L218.2 144.4L218.2 133.6L218.4 119.8Z" fill="#FFC8B4" fill-opacity="0.92"/>
<path d="M219.5 119.8L219.9 133.6L220.0 144.4L220.3 155.2L219.8 166.1L219.9 176.9L219.9 190.7L220.9 190.7L221.5 176.9L220.9 166.1L221.2 155.2L220.9 144.4L220.7 133.6L220.7 119.8Z" fill="#FFC7AF" fill-opacity="0.92"/>
<path d="M221.7 152.8L221.2 158.6L220.8 164.4L220.7 170.2L220.7 176.0L221.0 181.9L221.2 190.7L222.0 190.7L221.9 181.9L222.2 176.0L222.1 170.2L221.5 164.4L221.7 158.6L221.7 152.8Z" fill="#FFC7AC" fill-opacity="0.92"/>
<path d="M222.5 119.8L221.9 133.6L222.3 144.4L222.1 155.2L221.9 166.1L221.8 176.9L221.6 190.7L224.1 190.7L224.1 176.9L224.4 166.1L224.6 155.2L223.7 144.4L224.0 133.6L224.1 119.8Z" fill="#FFCDC9" fill-opacity="0.92"/>
<path d="M224.9 119.8L224.3 133.6L224.1 144.4L224.4 155.2L223.7 166.1L224.4 176.9L224.5 190.7L226.2 190.7L225.6 176.9L225.8 166.1L225.4 155.2L225.8 144.4L226.2 133.6L225.9 119.8Z" fill="#BCB723" fill-opacity="0.92"/>
<path d="M226.2 119.8L226.4 133.6L225.9 144.4L225.8 155.2L225.9 166.1L225.6 176.9L225.6 190.7L226.7 190.7L226.8 176.9L226.8 166.1L227.3 155.2L227.4 144.4L227.5 133.6L227.8 119.8Z" fill="#ADB514" fill-opacity="0.92"/>
<path d="M228.9 119.8L228.9 133.6L228.7 144.4L229.0 155.2L228.9 166.1L228.8 176.9L229.1 190.7L230.2 190.7L229.9 176.9L229.7 166.1L229.9 155.2L229.5 144.4L229.6 133.6L229.6 119.8Z" fill="#FCBF72" fill-opacity="0.92"/>
<path d="M230.1 119.8L230.5 130.7L230.1 138.5L230.3 146.4L230.7 154.3L230.5 162.2L230.7 170.0L230.7 170.0L231.1 162.2L231.3 154.3L231.5 146.4L231.0 138.5L231.2 130.7L231.6 119.8Z" fill="#87B00D" fill-opacity="0.92"/>
<path d="M232.0 166.7L231.8 170.2L231.8 173.7L231.5 177.2L231.2 180.7L231.4 184.2L230.7 190.7L232.1 190.7L232.1 184.2L232.2 180.7L232.4 177.2L232.8 173.7L232.2 170.2L232.0 166.7Z" fill="#FFC391" fill-opacity="0.92"/>
<path d="M233.7 119.8L233.8 133.6L233.8 144.4L233.8 155.2L233.6 166.1L233.9 176.9L234.0 190.7L234.8 190.7L234.6 176.9L234.3 166.1L234.5 155.2L234.9 144.4L234.9 133.6L234.4 119.8Z" fill="#ABB512" fill-opacity="0.92"/>
<path d="M235.9 159.0L235.7 163.8L235.3 168.6L235.2 173.3L234.8 178.1L235.1 182.9L234.4 190.7L236.5 190.7L236.1 182.9L236.3 178.1L236.5 173.3L236.9 168.6L236.2 163.8L236.0 159.0Z" fill="#FEC17F" fill-opacity="0.92"/>
<path d="M237.3 119.8L237.3 133.6L237.0 144.4L237.2 155.2L236.8 166.1L237.0 176.9L236.8 190.7L238.3 190.7L238.0 176.9L238.3 166.1L238.3 155.2L238.5 144.4L238.3 133.6L238.4 119.8Z" fill="#26A63A" fill-opacity="0.92"/>
<path d="M239.9 119.8L240.0 133.6L239.5 144.4L239.4 155.2L239.4 166.1L239.3 176.9L239.7 190.7L240.7 190.7L241.2 176.9L240.7 166.1L241.3 155.2L241.7 144.4L241.4 133.6L241.0 119.8Z" fill="#B7B61E" fill-opacity="0.92"/>
<path d="M241.7 119.8L241.6 128.9L241.7 135.0L241.9 141.1L242.2 147.2L242.5 153.3L242.6 159.4L242.6 159.4L242.7 153.3L242.7 147.2L242.6 141.1L242.4 135.0L242.4 128.9L242.5 119.8Z" fill="#26A63A" fill-opacity="0.92"/>
<path d="M243.6 119.8L243.2 133.6L243.0 144.4L242.9 155.2L243.2 166.1L243.5 176.9L243.1 190.7L244.3 190.7L244.5 176.9L244.4 166.1L244.3 155.2L244.0 144.4L244.3 133.6L244.6 119.8Z" fill="#8EB108" fill-opacity="0.92"/>
<path d="M245.2 119.8L245.5 133.6L246.0 144.4L245.5 155.2L245.4 166.1L245.3 176.9L245.3 190.7L247.3 190.7L247.0 176.9L247.3 166.1L247.8 155.2L247.5 144.4L247.8 133.6L247.5 119.8Z" fill="#26A63A" fill-opacity="0.92"/>
<path d="M247.3 119.8L246.8 133.6L246.9 144.4L247.0 155.2L247.0 166.1L247.3 176.9L247.5 190.7L248.4 190.7L248.2 176.9L248.1 166.1L247.7 155.2L247.6 144.4L248.1 133.6L248.2 119.8Z" fill="#F0BD62" fill-opacity="0.92"/>
<path d="M250.1 139.8L249.5 147.7L249.0 155.7L249.1 163.7L249.2 171.7L249.1 179.7L249.4 190.7L251.0 190.7L251.3 179.7L251.2 171.7L250.6 163.7L250.8 155.7L250.3 147.7L250.2 139.8Z" fill="#7EAF12" fill-opacity="0.92"/>
<path d="M251.2 119.8L250.8 133.6L250.9 144.4L250.2 155.2L250.6 166.1L250.2 176.9L250.2 190.7L252.1 190.7L252.0 176.9L251.8 166.1L252.1 155.2L251.9 144.4L252.2 133.6L252.5 119.8Z" fill="#6CAD1E" fill-opacity="0.92"/>
<path d="M253.3 119.8L253.2 133.6L253.3 144.4L252.9 155.2L253.1 166.1L252.5 176.9L252.4 190.7L253.4 190.7L253.8 176.9L253.8 166.1L254.1 155.2L254.3 144.4L253.9 133.6L254.2 119.8Z" fill="#88B00C" fill-opacity="0.92"/>
<path d="M256.0 162.3L255.7 166.6L255.1 170.8L255.4 175.0L254.7 179.2L254.5 183.5L254.5 190.7L256.0 190.7L256.2 183.5L256.6 179.2L256.5 175.0L256.6 170.8L256.4 166.6L256.1 162.3Z" fill="#D8BA43" fill-opacity="0.92"/>
<path d="M257.2 119.8L257.4 133.6L257.0 144.4L257.1 155.2L257.0 166.1L257.0 176.9L256.9 190.7L258.4 190.7L258.2 176.9L258.1 166.1L258.1 155.2L258.7 144.4L258.3 133.6L258.8 119.8Z" fill="#F2BD64" fill-opacity="0.92"/>
<path d="M258.5 119.8L258.2 133.6L258.4 144.4L258.6 155.2L258.5 166.1L258.9 176.9L258.5 190.7L261.6 190.7L260.9 176.9L261.3 166.1L261.5 155.2L261.7 144.4L261.5 133.6L261.0 119.8Z" fill="#F3BE66" fill-opacity="0.92"/>
<path d="M260.5 119.8L261.2 133.6L261.2 144.4L261.1 155.2L260.8 166.1L260.9 176.9L261.2 190.7L262.4 190.7L263.2 176.9L263.3 166.1L263.3 155.2L262.8 144.4L262.5 133.6L263.1 119.8Z" fill="#FABF6F" fill-opacity="0.92"/>
<path d="M263.0 119.8L263.4 132.5L263.1 142.1L263.6 151.7L263.6 161.4L263.9 171.0L264.0 180.7L264.1 180.7L264.3 171.0L265.0 161.4L264.5 151.7L264.5 142.1L264.6 132.5L264.6 119.8Z" fill="#FEC17F" fill-opacity="0.92"/>
<path d="M264.7 119.8L264.7 133.6L264.1 144.4L264.3 155.2L264.3 166.1L264.1 176.9L264.5 190.7L265.9 190.7L266.1 176.9L265.4 166.1L265.4 155.2L266.2 144.4L266.2 133.6L266.8 119.8Z" fill="#8AB00B" fill-opacity="0.92"/>
<path d="M266.6 119.8L266.8 128.7L267.3 134.5L267.0 140.4L267.3 146.2L267.2 152.1L267.7 157.9L267.7 157.9L267.9 152.1L268.0 146.2L268.7 140.4L268.3 134.5L268.5 128.7L268.2 119.8Z" fill="#FEC07B" fill-opacity="0.92"/>
<path d="M268.5 119.8L268.4 133.6L268.3 144.4L268.2 155.2L268.7 166.1L268.7 176.9L268.5 190.7L269.7 190.7L269.6 176.9L269.9 166.1L269.9 155.2L269.8 144.4L269.7 133.6L269.7 119.8Z" fill="#FDC07A" fill-opacity="0.92"/>
<path d="M271.0 139.9L270.8 147.9L270.7 155.8L270.0 163.8L270.5 171.8L269.9 179.7L270.1 190.7L272.1 190.7L272.1 179.7L271.9 171.8L272.9 163.8L272.2 155.8L272.1 147.9L271.2 139.9Z" fill="#F3BE66" fill-opacity="0.92"/>
<path d="M272.9 119.8L272.7 133.6L272.5 144.4L272.9 155.2L272.9 166.1L272.7 176.9L272.8 190.7L273.3 190.7L273.3 176.9L273.7 166.1L273.5 155.2L273.2 144.4L273.4 133.6L273.2 119.8Z" fill="#74AE18" fill-opacity="0.92"/>
<path d="M273.9 140.8L273.4 148.6L273.5 156.4L273.3 164.3L273.1 172.1L273.4 179.9L273.2 190.7L274.0 190.7L274.4 179.9L274.0 172.1L274.4 164.3L274.4 156.4L273.9 148.6L274.0 140.8Z" fill="#D3BA3E" fill-opacity="0.92"/>
<path d="M274.9 119.8L275.0 133.6L275.2 144.4L275.1 155.2L275.6 166.1L275.1 176.9L275.0 190.7L276.0 190.7L275.8 176.9L276.0 166.1L276.0 155.2L275.7 144.4L275.6 133.6L275.6 119.8Z" fill="#50A92C" fill-opacity="0.92"/>
<path d="M275.9 119.8L276.0 133.6L275.5 144.4L275.5 155.2L275.8 166.1L275.5 176.9L275.6 190.7L276.3 190.7L276.4 176.9L276.7 166.1L276.3 155.2L276.2 144.4L276.5 133.6L276.5 119.8Z" fill="#69AC20" fill-opacity="0.92"/>
<path d="M277.7 130.5L277.6 140.0L277.1 149.5L277.3 159.1L277.3 168.6L277.2 178.2L277.2 190.7L277.8 190.7L278.4 178.2L277.9 168.6L278.4 159.1L278.1 149.5L278.1 140.0L277.8 130.5Z" fill="#51A92B" fill-opacity="0.92"/>
<path d="M278.9 119.8L278.7 133.6L278.4 144.4L278.4 155.2L278.9 166.1L278.2 176.9L278.5 190.7L280.2 190.7L280.5 176.9L280.2 166.1L280.0 155.2L280.5 144.4L280.8 133.6L281.0 119.8Z" fill="#EDBD5E" fill-opacity="0.92"/>
<path d="M281.5 119.8L281.4 130.1L281.3 137.3L281.8 144.6L281.6 151.8L281.9 159.1L282.5 166.3L282.5 166.3L282.5 159.1L282.7 151.8L282.5 144.6L282.6 137.3L282.6 130.1L282.5 119.8Z" fill="#D6BA40" fill-opacity="0.92"/>
<path d="M283.5 163.1L283.0 167.2L282.8 171.3L282.1 175.4L281.7 179.5L282.0 183.6L281.4 190.7L283.5 190.7L283.4 183.6L283.9 179.5L284.1 175.4L284.0 171.3L283.9 167.2L283.6 163.1Z" fill="#FDC076" fill-opacity="0.92"/>
<path d="M284.8 119.8L285.2 133.6L284.5 144.4L284.6 155.2L285.0 166.1L284.3 176.9L283.9 190.7L286.8 190.7L286.6 176.9L286.4 166.1L287.2 155.2L287.5 144.4L286.9 133.6L286.8 119.8Z" fill="#EDBD5E" fill-opacity="0.92"/>
<path d="M288.4 145.9L288.2 152.9L287.5 159.8L287.9 166.8L287.8 173.8L287.9 180.7L288.0 190.7L289.6 190.7L289.1 180.7L289.1 173.8L289.1 166.8L289.1 159.8L288.9 152.9L288.5 145.9Z" fill="#78AE16" fill-opacity="0.92"/>
<path d="M289.8 119.8L290.2 133.6L290.0 144.4L290.2 155.2L290.2 166.1L290.1 176.9L290.5 190.7L291.2 190.7L291.1 176.9L291.0 166.1L290.8 155.2L290.7 144.4L291.1 133.6L290.8 119.8Z" fill="#FFC182" fill-opacity="0.92"/>
<path d="M291.4 119.8L291.6 128.9L291.9 135.0L292.2 141.1L291.8 147.2L291.8 153.3L291.8 159.4L291.8 159.4L292.1 153.3L292.7 147.2L293.0 141.1L293.0 135.0L292.9 128.9L292.7 119.8Z" fill="#B1B617" fill-opacity="0.92"/>
<path d="M293.3 137.1L293.3 145.5L292.8 154.0L292.6 162.4L292.0 170.8L292.6 179.3L292.6 190.7L293.5 190.7L294.0 179.3L293.9 170.8L293.6 162.4L293.8 154.0L294.0 145.5L293.4 137.1Z" fill="#FFC9BA" fill-opacity="0.92"/>
<path d="M294.7 119.8L295.2 133.6L295.2 144.4L294.6 155.2L294.8 166.1L294.1 176.9L294.3 190.7L296.0 190.7L295.9 176.9L295.7 166.1L296.4 155.2L296.5 144.4L296.1 133.6L296.0 119.8Z" fill="#FFCDCA" fill-opacity="0.92"/>
<path d="M296.6 119.8L296.9 129.6L296.4 136.4L296.5 143.2L297.3 150.0L297.2 156.7L298.0 163.5L298.0 163.5L298.3 156.7L298.8 150.0L298.9 143.2L299.0 136.4L298.8 129.6L298.8 119.8Z" fill="#FFCDC9" fill-opacity="0.92"/>
<path d="M299.7 165.7L299.1 169.3L299.2 173.0L299.1 176.7L298.8 180.3L299.3 184.0L299.1 190.7L300.3 190.7L300.3 184.0L300.8 180.3L300.0 176.7L300.0 173.0L299.9 169.3L299.8 165.7Z" fill="#FFC289" fill-opacity="0.92"/>
<path d="M301.6 130.3L301.3 139.8L300.6 149.4L300.5 159.0L300.9 168.6L300.9 178.1L300.8 190.7L301.9 190.7L302.3 178.1L301.7 168.6L301.7 159.0L301.8 149.4L301.8 139.8L301.7 130.3Z" fill="#87B00D" fill-opacity="0.92"/>
<path d="M303.0 119.8L302.1 133.6L302.1 144.4L302.2 155.2L301.8 166.1L301.9 176.9L301.6 190.7L304.0 190.7L304.0 176.9L303.6 166.1L303.7 155.2L304.3 144.4L304.5 133.6L304.3 119.8Z" fill="#CCB935" fill-opacity="0.92"/>
<path d="M305.8 150.9L305.7 157.1L305.8 163.2L305.3 169.3L305.7 175.4L305.5 181.6L305.2 190.7L306.5 190.7L306.9 181.6L306.9 175.4L307.3 169.3L306.9 163.2L306.5 157.1L305.9 150.9Z" fill="#26A63A" fill-opacity="0.92"/>
<path d="M307.3 119.8L307.1 133.6L307.3 144.4L307.7 155.2L307.9 166.1L308.0 176.9L307.6 190.7L308.8 190.7L309.0 176.9L309.3 166.1L309.0 155.2L309.1 144.4L308.6 133.6L309.0 119.8Z" fill="#C1B828" fill-opacity="0.92"/>
<path d="M309.5 119.8L309.4 133.6L309.0 144.4L308.8 155.2L308.8 166.1L308.8 176.9L308.8 190.7L310.0 190.7L310.6 176.9L310.7 166.1L310.9 155.2L310.7 144.4L310.6 133.6L311.0 119.8Z" fill="#3EA832" fill-opacity="0.92"/>
<path d="M311.8 119.8L311.6 133.6L311.7 144.4L311.5 155.2L311.6 166.1L311.5 176.9L311.9 190.7L313.1 190.7L313.0 176.9L312.5 166.1L313.0 155.2L312.6 144.4L313.0 133.6L312.7 119.8Z" fill="#DBBB47" fill-opacity="0.92"/>
<path d="M313.6 119.8L313.6 133.6L313.4 144.4L313.7 155.2L313.4 166.1L313.3 176.9L313.1 190.7L314.1 190.7L314.1 176.9L314.3 166.1L314.5 155.2L314.4 144.4L314.4 133.6L314.3 119.8Z" fill="#54AA2A" fill-opacity="0.92"/>
<path d="M316.2 133.9L316.1 142.9L316.0 151.9L316.0 160.8L315.9 169.8L316.3 178.7L316.1 190.7L317.3 190.7L317.0 178.7L317.2 169.8L317.3 160.8L317.1 151.9L316.6 142.9L316.2 133.9Z" fill="#81AF10" fill-opacity="0.92"/>
</g></g>
<path d="M187.3 119.2H316.4M187.3 191.3H316.4" fill="none" stroke="#cdcdcd" stroke-width="0.9"/>
<path d="M316.4 119.2V191.3" fill="none" stroke="#a8a8a8" stroke-width="0.8"/>
<path d="M187.3 119.2V191.3" fill="none" stroke="#9a9a9a" stroke-width="0.8"/>
<path d="M186.3 191.3H187.3" stroke="#888" stroke-width="0.4"/>
<text x="184.8" y="192.2" class="t" text-anchor="end">0.0</text>
<path d="M186.3 176.88H187.3" stroke="#888" stroke-width="0.4"/>
<text x="184.8" y="177.78" class="t" text-anchor="end">0.2</text>
<path d="M186.3 162.46H187.3" stroke="#888" stroke-width="0.4"/>
<text x="184.8" y="163.36" class="t" text-anchor="end">0.4</text>
<path d="M186.3 148.04H187.3" stroke="#888" stroke-width="0.4"/>
<text x="184.8" y="148.94" class="t" text-anchor="end">0.6</text>
<path d="M186.3 133.62H187.3" stroke="#888" stroke-width="0.4"/>
<text x="184.8" y="134.52" class="t" text-anchor="end">0.8</text>
<path d="M186.3 119.2H187.3" stroke="#888" stroke-width="0.4"/>
<text x="184.8" y="120.1" class="t" text-anchor="end">1.0</text>
<path d="M199.3 191.3V192.5" stroke="#888" stroke-width="0.4"/>
<text x="199.6" y="196.8" class="t" text-anchor="middle">2019</text>
<path d="M228.8 191.3V192.5" stroke="#888" stroke-width="0.4"/>
<text x="229.1" y="196.8" class="t" text-anchor="middle">2020</text>
<path d="M258.3 191.3V192.5" stroke="#888" stroke-width="0.4"/>
<text x="258.6" y="196.8" class="t" text-anchor="middle">2021</text>
<path d="M287.8 191.3V192.5" stroke="#888" stroke-width="0.4"/>
<text x="288.1" y="196.8" class="t" text-anchor="middle">2022</text>
<text x="251.85" y="202.4" class="l" text-anchor="middle">Date</text>
<text transform="translate(178.75,155.25) rotate(-90)" class="l" text-anchor="middle">Quantiles</text>
<text x="251.85" y="115.9" class="m" text-anchor="middle">Indonesia</text>
<rect x="322.1" y="187.51" width="5.8" height="3.79" fill="#26A63A" stroke="#555" stroke-width="0.35"/>
<rect x="322.1" y="183.71" width="5.8" height="3.79" fill="#4EA92D" stroke="#555" stroke-width="0.35"/>
<rect x="322.1" y="179.92" width="5.8" height="3.79" fill="#68AC20" stroke="#555" stroke-width="0.35"/>
<rect x="322.1" y="176.12" width="5.8" height="3.79" fill="#7EAF12" stroke="#555" stroke-width="0.35"/>
<rect x="322.1" y="172.33" width="5.8" height="3.79" fill="#92B106" stroke="#555" stroke-width="0.35"/>
<rect x="322.1" y="168.53" width="5.8" height="3.79" fill="#A3B40A" stroke="#555" stroke-width="0.35"/>
<rect x="322.1" y="164.74" width="5.8" height="3.79" fill="#B4B61A" stroke="#555" stroke-width="0.35"/>
<rect x="322.1" y="160.94" width="5.8" height="3.79" fill="#C4B82B" stroke="#555" stroke-width="0.35"/>
<rect x="322.1" y="157.15" width="5.8" height="3.79" fill="#D3BA3D" stroke="#555" stroke-width="0.35"/>
<rect x="322.1" y="153.35" width="5.8" height="3.79" fill="#E1BB4E" stroke="#555" stroke-width="0.35"/>
<rect x="322.1" y="149.56" width="5.8" height="3.79" fill="#EFBD60" stroke="#555" stroke-width="0.35"/>
<rect x="322.1" y="145.76" width="5.8" height="3.79" fill="#FCBF72" stroke="#555" stroke-width="0.35"/>
<rect x="322.1" y="141.97" width="5.8" height="3.79" fill="#FFC183" stroke="#555" stroke-width="0.35"/>
<rect x="322.1" y="138.17" width="5.8" height="3.79" fill="#FFC495" stroke="#555" stroke-width="0.35"/>
<rect x="322.1" y="134.38" width="5.8" height="3.79" fill="#FFC6A7" stroke="#555" stroke-width="0.35"/>
<rect x="322.1" y="130.58" width="5.8" height="3.79" fill="#FFC9B8" stroke="#555" stroke-width="0.35"/>
<rect x="322.1" y="126.79" width="5.8" height="3.79" fill="#FFCDC9" stroke="#555" stroke-width="0.35"/>
<rect x="322.1" y="122.99" width="5.8" height="3.79" fill="#FFD2DA" stroke="#555" stroke-width="0.35"/>
<rect x="322.1" y="119.2" width="5.8" height="3.79" fill="#F1F1F1" stroke="#555" stroke-width="0.35"/>
<path d="M327.9 125.2H329" stroke="#888" stroke-width="0.4"/>
<text x="330.5" y="126.2" class="k">30</text>
<path d="M327.9 135.2H329" stroke="#888" stroke-width="0.4"/>
<text x="330.5" y="136.2" class="k">20</text>
<path d="M327.9 145.2H329" stroke="#888" stroke-width="0.4"/>
<text x="330.5" y="146.2" class="k">10</text>
<path d="M327.9 155.1H329" stroke="#888" stroke-width="0.4"/>
<text x="330.5" y="156.1" class="k">0</text>
<path d="M327.9 165.3H329" stroke="#888" stroke-width="0.4"/>
<text x="330.5" y="166.3" class="k">-10</text>
<path d="M327.9 175.2H329" stroke="#888" stroke-width="0.4"/>
<text x="330.5" y="176.2" class="k">-20</text>
<path d="M327.9 185.4H329" stroke="#888" stroke-width="0.4"/>
<text x="330.5" y="186.4" class="k">-30</text>
<clipPath id="cMalaysia"><rect x="362.2" y="122.81" width="129.1" height="64.89"/></clipPath>
<g clip-path="url(#cMalaysia)"><g filter="url(#hb)">
<linearGradient id="gMalaysia0" x1="0" y1="0" x2="0" y2="1"><stop offset="6.25%" stop-color="#A7B40D"/><stop offset="18.75%" stop-color="#ACB513"/><stop offset="31.25%" stop-color="#B7B61D"/><stop offset="43.75%" stop-color="#B7B61D"/><stop offset="56.25%" stop-color="#ACB513"/><stop offset="68.75%" stop-color="#A1B40A"/><stop offset="81.25%" stop-color="#96B207"/><stop offset="93.75%" stop-color="#90B107"/></linearGradient>
<rect x="359.2" y="119.81" width="8.02" height="70.89" fill="url(#gMalaysia0)"/>
<linearGradient id="gMalaysia1" x1="0" y1="0" x2="0" y2="1"><stop offset="6.25%" stop-color="#D0BA3A"/><stop offset="18.75%" stop-color="#D5BA3F"/><stop offset="31.25%" stop-color="#DEBB4A"/><stop offset="43.75%" stop-color="#EBBC5B"/><stop offset="56.25%" stop-color="#FBBF71"/><stop offset="68.75%" stop-color="#FFC180"/><stop offset="81.25%" stop-color="#FFC28B"/><stop offset="93.75%" stop-color="#FFC390"/></linearGradient>
<rect x="367.17" y="119.81" width="5.02" height="70.89" fill="url(#gMalaysia1)"/>
<linearGradient id="gMalaysia2" x1="0" y1="0" x2="0" y2="1"><stop offset="6.25%" stop-color="#F3BE66"/><stop offset="18.75%" stop-color="#F3BE66"/><stop offset="31.25%" stop-color="#F3BE66"/><stop offset="43.75%" stop-color="#F3BE66"/><stop offset="56.25%" stop-color="#F3BE66"/><stop offset="68.75%" stop-color="#F3BE66"/><stop offset="81.25%" stop-color="#F3BE66"/><stop offset="93.75%" stop-color="#F3BE66"/></linearGradient>
<rect x="372.13" y="119.81" width="5.02" height="70.89" fill="url(#gMalaysia2)"/>
<linearGradient id="gMalaysia3" x1="0" y1="0" x2="0" y2="1"><stop offset="6.25%" stop-color="#E3BB50"/><stop offset="18.75%" stop-color="#E3BB50"/><stop offset="31.25%" stop-color="#E3BB50"/><stop offset="43.75%" stop-color="#DEBB4A"/><stop offset="56.25%" stop-color="#D5BA3F"/><stop offset="68.75%" stop-color="#D0BA3A"/><stop offset="81.25%" stop-color="#D0BA3A"/><stop offset="93.75%" stop-color="#D0BA3A"/></linearGradient>
<rect x="377.1" y="119.81" width="5.02" height="70.89" fill="url(#gMalaysia3)"/>
<linearGradient id="gMalaysia4" x1="0" y1="0" x2="0" y2="1"><stop offset="6.25%" stop-color="#D0BA3A"/><stop offset="18.75%" stop-color="#D0BA3A"/><stop offset="31.25%" stop-color="#D0BA3A"/><stop offset="43.75%" stop-color="#D0BA3A"/><stop offset="56.25%" stop-color="#D0BA3A"/><stop offset="68.75%" stop-color="#D5BA3F"/><stop offset="81.25%" stop-color="#DEBB4A"/><stop offset="93.75%" stop-color="#E3BB50"/></linearGradient>
<rect x="382.06" y="119.81" width="5.02" height="70.89" fill="url(#gMalaysia4)"/>
<linearGradient id="gMalaysia5" x1="0" y1="0" x2="0" y2="1"><stop offset="6.25%" stop-color="#FFC6A6"/><stop offset="18.75%" stop-color="#FFC5A1"/><stop offset="31.25%" stop-color="#FFC496"/><stop offset="43.75%" stop-color="#FEC180"/><stop offset="56.25%" stop-color="#EFBD60"/><stop offset="68.75%" stop-color="#E3BB50"/><stop offset="81.25%" stop-color="#E3BB50"/><stop offset="93.75%" stop-color="#E3BB50"/></linearGradient>
<rect x="387.03" y="119.81" width="5.02" height="70.89" fill="url(#gMalaysia5)"/>
<linearGradient id="gMalaysia6" x1="0" y1="0" x2="0" y2="1"><stop offset="6.25%" stop-color="#D0BA3A"/><stop offset="18.75%" stop-color="#D5BA3F"/><stop offset="31.25%" stop-color="#DEBB4A"/><stop offset="43.75%" stop-color="#DEBB4A"/><stop offset="56.25%" stop-color="#D5BA3F"/><stop offset="68.75%" stop-color="#D5BA3F"/><stop offset="81.25%" stop-color="#DEBB4A"/><stop offset="93.75%" stop-color="#E3BB50"/></linearGradient>
<rect x="391.99" y="119.81" width="5.02" height="70.89" fill="url(#gMalaysia6)"/>
<linearGradient id="gMalaysia7" x1="0" y1="0" x2="0" y2="1"><stop offset="6.25%" stop-color="#FEC07B"/><stop offset="18.75%" stop-color="#FDBF76"/><stop offset="31.25%" stop-color="#F7BE6C"/><stop offset="43.75%" stop-color="#F3BE66"/><stop offset="56.25%" stop-color="#F3BE66"/><stop offset="68.75%" stop-color="#F3BE66"/><stop offset="81.25%" stop-color="#F3BE66"/><stop offset="93.75%" stop-color="#F3BE66"/></linearGradient>
<rect x="396.96" y="119.81" width="5.02" height="70.89" fill="url(#gMalaysia7)"/>
<linearGradient id="gMalaysia8" x1="0" y1="0" x2="0" y2="1"><stop offset="6.25%" stop-color="#F3BE66"/><stop offset="18.75%" stop-color="#F3BE66"/><stop offset="31.25%" stop-color="#F3BE66"/><stop offset="43.75%" stop-color="#EBBC5B"/><stop offset="56.25%" stop-color="#D9BA45"/><stop offset="68.75%" stop-color="#CBB934"/><stop offset="81.25%" stop-color="#C1B828"/><stop offset="93.75%" stop-color="#BCB723"/></linearGradient>
<rect x="401.92" y="119.81" width="5.02" height="70.89" fill="url(#gMalaysia8)"/>
<linearGradient id="gMalaysia9" x1="0" y1="0" x2="0" y2="1"><stop offset="6.25%" stop-color="#90B107"/><stop offset="18.75%" stop-color="#90B107"/><stop offset="31.25%" stop-color="#90B107"/><stop offset="43.75%" stop-color="#83B00F"/><stop offset="56.25%" stop-color="#67AC21"/><stop offset="68.75%" stop-color="#7DAF13"/><stop offset="81.25%" stop-color="#B7B61D"/><stop offset="93.75%" stop-color="#D0BA3A"/></linearGradient>
<rect x="406.89" y="119.81" width="5.02" height="70.89" fill="url(#gMalaysia9)"/>
<linearGradient id="gMalaysia10" x1="0" y1="0" x2="0" y2="1"><stop offset="6.25%" stop-color="#3AA834"/><stop offset="18.75%" stop-color="#3AA834"/><stop offset="31.25%" stop-color="#3AA834"/><stop offset="43.75%" stop-color="#42A831"/><stop offset="56.25%" stop-color="#51A92C"/><stop offset="68.75%" stop-color="#7DAF13"/><stop offset="81.25%" stop-color="#B7B61D"/><stop offset="93.75%" stop-color="#D0BA3A"/></linearGradient>
<rect x="411.85" y="119.81" width="5.02" height="70.89" fill="url(#gMalaysia10)"/>
<linearGradient id="gMalaysia11" x1="0" y1="0" x2="0" y2="1"><stop offset="6.25%" stop-color="#3AA834"/><stop offset="18.75%" stop-color="#3AA834"/><stop offset="31.25%" stop-color="#3AA834"/><stop offset="43.75%" stop-color="#3AA834"/><stop offset="56.25%" stop-color="#3AA834"/><stop offset="68.75%" stop-color="#68AC20"/><stop offset="81.25%" stop-color="#A3B40A"/><stop offset="93.75%" stop-color="#BCB723"/></linearGradient>
<rect x="416.82" y="119.81" width="5.02" height="70.89" fill="url(#gMalaysia11)"/>
<linearGradient id="gMalaysia12" x1="0" y1="0" x2="0" y2="1"><stop offset="6.25%" stop-color="#F3BE66"/><stop offset="18.75%" stop-color="#F7BE6C"/><stop offset="31.25%" stop-color="#FDBF76"/><stop offset="43.75%" stop-color="#FEC07B"/><stop offset="56.25%" stop-color="#FEC07B"/><stop offset="68.75%" stop-color="#FDBF76"/><stop offset="81.25%" stop-color="#F7BE6C"/><stop offset="93.75%" stop-color="#F3BE66"/></linearGradient>
<rect x="421.78" y="119.81" width="5.02" height="70.89" fill="url(#gMalaysia12)"/>
<linearGradient id="gMalaysia13" x1="0" y1="0" x2="0" y2="1"><stop offset="6.25%" stop-color="#D0BA3A"/><stop offset="18.75%" stop-color="#CBB934"/><stop offset="31.25%" stop-color="#C1B828"/><stop offset="43.75%" stop-color="#BCB723"/><stop offset="56.25%" stop-color="#BCB723"/><stop offset="68.75%" stop-color="#C1B828"/><stop offset="81.25%" stop-color="#CBB934"/><stop offset="93.75%" stop-color="#D0BA3A"/></linearGradient>
<rect x="426.75" y="119.81" width="5.02" height="70.89" fill="url(#gMalaysia13)"/>
<linearGradient id="gMalaysia14" x1="0" y1="0" x2="0" y2="1"><stop offset="6.25%" stop-color="#75AE17"/><stop offset="18.75%" stop-color="#6EAD1C"/><stop offset="31.25%" stop-color="#5FAB25"/><stop offset="43.75%" stop-color="#6EAD1C"/><stop offset="56.25%" stop-color="#96B207"/><stop offset="68.75%" stop-color="#ACB513"/><stop offset="81.25%" stop-color="#B7B61D"/><stop offset="93.75%" stop-color="#BCB723"/></linearGradient>
<rect x="431.72" y="119.81" width="5.02" height="70.89" fill="url(#gMalaysia14)"/>
<linearGradient id="gMalaysia15" x1="0" y1="0" x2="0" y2="1"><stop offset="6.25%" stop-color="#D0BA3A"/><stop offset="18.75%" stop-color="#D0BA3A"/><stop offset="31.25%" stop-color="#D0BA3A"/><stop offset="43.75%" stop-color="#D0BA3A"/><stop offset="56.25%" stop-color="#D0BA3A"/><stop offset="68.75%" stop-color="#D0BA3A"/><stop offset="81.25%" stop-color="#D0BA3A"/><stop offset="93.75%" stop-color="#D0BA3A"/></linearGradient>
<rect x="436.68" y="119.81" width="5.02" height="70.89" fill="url(#gMalaysia15)"/>
<linearGradient id="gMalaysia16" x1="0" y1="0" x2="0" y2="1"><stop offset="6.25%" stop-color="#FEC07B"/><stop offset="18.75%" stop-color="#FDBF76"/><stop offset="31.25%" stop-color="#F7BE6C"/><stop offset="43.75%" stop-color="#E6BC55"/><stop offset="56.25%" stop-color="#CBB933"/><stop offset="68.75%" stop-color="#C1B828"/><stop offset="81.25%" stop-color="#CBB934"/><stop offset="93.75%" stop-color="#D0BA3A"/></linearGradient>
<rect x="441.65" y="119.81" width="5.02" height="70.89" fill="url(#gMalaysia16)"/>
<linearGradient id="gMalaysia17" x1="0" y1="0" x2="0" y2="1"><stop offset="6.25%" stop-color="#BCB723"/><stop offset="18.75%" stop-color="#B7B61D"/><stop offset="31.25%" stop-color="#ACB513"/><stop offset="43.75%" stop-color="#B7B61D"/><stop offset="56.25%" stop-color="#D5BA3F"/><stop offset="68.75%" stop-color="#E7BC56"/><stop offset="81.25%" stop-color="#EFBD61"/><stop offset="93.75%" stop-color="#F3BE66"/></linearGradient>
<rect x="446.61" y="119.81" width="5.02" height="70.89" fill="url(#gMalaysia17)"/>
<linearGradient id="gMalaysia18" x1="0" y1="0" x2="0" y2="1"><stop offset="6.25%" stop-color="#D0BA3A"/><stop offset="18.75%" stop-color="#D0BA3A"/><stop offset="31.25%" stop-color="#D0BA3A"/><stop offset="43.75%" stop-color="#C6B82E"/><stop offset="56.25%" stop-color="#B2B618"/><stop offset="68.75%" stop-color="#B2B618"/><stop offset="81.25%" stop-color="#C6B82E"/><stop offset="93.75%" stop-color="#D0BA3A"/></linearGradient>
<rect x="451.58" y="119.81" width="5.02" height="70.89" fill="url(#gMalaysia18)"/>
<linearGradient id="gMalaysia19" x1="0" y1="0" x2="0" y2="1"><stop offset="6.25%" stop-color="#90B107"/><stop offset="18.75%" stop-color="#90B107"/><stop offset="31.25%" stop-color="#90B107"/><stop offset="43.75%" stop-color="#A1B40A"/><stop offset="56.25%" stop-color="#C1B828"/><stop offset="68.75%" stop-color="#D5BA3F"/><stop offset="81.25%" stop-color="#DEBB4A"/><stop offset="93.75%" stop-color="#E3BB50"/></linearGradient>
<rect x="456.54" y="119.81" width="5.02" height="70.89" fill="url(#gMalaysia19)"/>
<linearGradient id="gMalaysia20" x1="0" y1="0" x2="0" y2="1"><stop offset="6.25%" stop-color="#D0BA3A"/><stop offset="18.75%" stop-color="#CBB934"/><stop offset="31.25%" stop-color="#C1B828"/><stop offset="43.75%" stop-color="#CBB933"/><stop offset="56.25%" stop-color="#E6BC55"/><stop offset="68.75%" stop-color="#EFBD61"/><stop offset="81.25%" stop-color="#E7BC56"/><stop offset="93.75%" stop-color="#E3BB50"/></linearGradient>
<rect x="461.51" y="119.81" width="5.02" height="70.89" fill="url(#gMalaysia20)"/>
<linearGradient id="gMalaysia21" x1="0" y1="0" x2="0" y2="1"><stop offset="6.25%" stop-color="#A7B40D"/><stop offset="18.75%" stop-color="#A1B40A"/><stop offset="31.25%" stop-color="#96B207"/><stop offset="43.75%" stop-color="#8AB00B"/><stop offset="56.25%" stop-color="#7DAF13"/><stop offset="68.75%" stop-color="#8AB00B"/><stop offset="81.25%" stop-color="#ACB513"/><stop offset="93.75%" stop-color="#BCB723"/></linearGradient>
<rect x="466.47" y="119.81" width="5.02" height="70.89" fill="url(#gMalaysia21)"/>
<linearGradient id="gMalaysia22" x1="0" y1="0" x2="0" y2="1"><stop offset="6.25%" stop-color="#A7B40D"/><stop offset="18.75%" stop-color="#9CB308"/><stop offset="31.25%" stop-color="#83B00F"/><stop offset="43.75%" stop-color="#75AE17"/><stop offset="56.25%" stop-color="#75AE17"/><stop offset="68.75%" stop-color="#8AB00B"/><stop offset="81.25%" stop-color="#ACB513"/><stop offset="93.75%" stop-color="#BCB723"/></linearGradient>
<rect x="471.44" y="119.81" width="5.02" height="70.89" fill="url(#gMalaysia22)"/>
<linearGradient id="gMalaysia23" x1="0" y1="0" x2="0" y2="1"><stop offset="6.25%" stop-color="#F3BE66"/><stop offset="18.75%" stop-color="#EFBD61"/><stop offset="31.25%" stop-color="#E7BC56"/><stop offset="43.75%" stop-color="#D5BA3F"/><stop offset="56.25%" stop-color="#B7B61D"/><stop offset="68.75%" stop-color="#B2B618"/><stop offset="81.25%" stop-color="#C6B82E"/><stop offset="93.75%" stop-color="#D0BA3A"/></linearGradient>
<rect x="476.4" y="119.81" width="5.02" height="70.89" fill="url(#gMalaysia23)"/>
<linearGradient id="gMalaysia24" x1="0" y1="0" x2="0" y2="1"><stop offset="6.25%" stop-color="#D0BA3A"/><stop offset="18.75%" stop-color="#CBB934"/><stop offset="31.25%" stop-color="#C1B828"/><stop offset="43.75%" stop-color="#BCB723"/><stop offset="56.25%" stop-color="#BCB723"/><stop offset="68.75%" stop-color="#C1B828"/><stop offset="81.25%" stop-color="#CBB934"/><stop offset="93.75%" stop-color="#D0BA3A"/></linearGradient>
<rect x="481.37" y="119.81" width="5.02" height="70.89" fill="url(#gMalaysia24)"/>
<linearGradient id="gMalaysia25" x1="0" y1="0" x2="0" y2="1"><stop offset="6.25%" stop-color="#A7B40D"/><stop offset="18.75%" stop-color="#A1B40A"/><stop offset="31.25%" stop-color="#96B207"/><stop offset="43.75%" stop-color="#96B207"/><stop offset="56.25%" stop-color="#A1B40A"/><stop offset="68.75%" stop-color="#ACB513"/><stop offset="81.25%" stop-color="#B7B61D"/><stop offset="93.75%" stop-color="#BCB723"/></linearGradient>
<rect x="486.33" y="119.81" width="7.97" height="70.89" fill="url(#gMalaysia25)"/>
<path d="M362.6 119.8L362.8 129.2L362.3 135.6L362.5 142.0L362.7 148.4L363.1 154.7L363.7 161.1L363.9 161.1L364.0 154.7L364.1 148.4L364.5 142.0L364.8 135.6L364.6 129.2L364.8 119.8Z" fill="#59AA27" fill-opacity="0.92"/>
<path d="M365.0 119.8L364.9 133.6L364.7 144.4L364.6 155.2L364.6 166.1L364.9 176.9L365.2 190.7L365.6 190.7L365.5 176.9L365.5 166.1L365.6 155.2L365.5 144.4L365.8 133.6L365.6 119.8Z" fill="#6AAC1E" fill-opacity="0.92"/>
<path d="M366.5 119.8L366.2 133.6L366.0 144.4L366.1 155.2L365.9 166.1L365.9 176.9L366.2 190.7L367.4 190.7L367.1 176.9L367.3 166.1L367.6 155.2L367.1 144.4L367.6 133.6L367.6 119.8Z" fill="#FFC28A" fill-opacity="0.92"/>
<path d="M368.2 119.8L368.3 133.6L368.7 144.4L369.0 155.2L368.9 166.1L368.9 176.9L369.0 190.7L369.4 190.7L369.2 176.9L369.4 166.1L369.6 155.2L369.2 144.4L369.0 133.6L368.6 119.8Z" fill="#ABB511" fill-opacity="0.92"/>
<path d="M369.9 146.0L369.0 153.0L368.8 159.9L368.5 166.9L368.1 173.8L368.0 180.8L368.8 190.7L370.6 190.7L370.7 180.8L370.9 173.8L370.5 166.9L370.5 159.9L370.5 153.0L370.0 146.0Z" fill="#FFCECE" fill-opacity="0.92"/>
<path d="M371.3 119.8L372.0 133.6L371.0 144.4L371.4 155.2L371.1 166.1L371.0 176.9L371.1 190.7L372.5 190.7L372.9 176.9L373.5 166.1L373.1 155.2L373.7 144.4L373.2 133.6L373.5 119.8Z" fill="#B0B616" fill-opacity="0.92"/>
<path d="M374.1 119.8L374.4 133.6L374.4 144.4L374.3 155.2L374.2 166.1L374.7 176.9L374.7 190.7L376.6 190.7L376.1 176.9L376.3 166.1L375.8 155.2L375.6 144.4L375.7 133.6L375.8 119.8Z" fill="#BEB724" fill-opacity="0.92"/>
<path d="M376.8 160.9L376.9 165.4L376.9 169.8L376.7 174.3L377.1 178.8L377.0 183.2L376.9 190.7L377.6 190.7L377.9 183.2L377.8 178.8L377.6 174.3L377.5 169.8L377.2 165.4L376.8 160.9Z" fill="#A4B40B" fill-opacity="0.92"/>
<path d="M377.8 119.8L377.8 126.2L378.0 129.5L377.9 132.9L378.2 136.2L378.0 139.5L377.9 142.9L378.0 142.9L378.5 139.5L379.0 136.2L378.6 132.9L378.7 129.5L379.0 126.2L378.3 119.8Z" fill="#FFC7AD" fill-opacity="0.92"/>
<path d="M379.7 146.9L379.6 153.7L379.8 160.5L379.6 167.3L379.6 174.1L379.7 180.9L379.4 190.7L381.3 190.7L381.6 180.9L381.3 174.1L381.1 167.3L380.7 160.5L380.5 153.7L379.8 146.9Z" fill="#6EAD1C" fill-opacity="0.92"/>
<path d="M381.5 137.4L380.9 145.8L380.5 154.2L380.5 162.6L380.7 170.9L380.4 179.3L380.4 190.7L382.0 190.7L382.5 179.3L382.6 170.9L382.5 162.6L381.8 154.2L381.7 145.8L381.6 137.4Z" fill="#FFC38D" fill-opacity="0.92"/>
<path d="M382.4 119.8L381.7 133.6L382.2 144.4L382.3 155.2L382.7 166.1L382.9 176.9L382.3 190.7L384.8 190.7L384.2 176.9L384.2 166.1L384.0 155.2L383.9 144.4L384.0 133.6L383.9 119.8Z" fill="#7CAF13" fill-opacity="0.92"/>
<path d="M385.3 119.8L385.2 126.1L385.2 129.4L385.6 132.7L385.8 136.0L385.7 139.3L385.7 142.6L385.8 142.6L386.2 139.3L386.5 136.0L386.4 132.7L386.2 129.4L386.1 126.1L386.3 119.8Z" fill="#A8B50E" fill-opacity="0.92"/>
<path d="M387.0 119.8L386.8 126.7L387.0 130.6L386.9 134.5L386.8 138.4L387.0 142.3L387.2 146.2L387.3 146.2L387.4 142.3L387.7 138.4L387.5 134.5L387.8 130.6L387.6 126.7L388.0 119.8Z" fill="#ACB512" fill-opacity="0.92"/>
<path d="M388.2 119.8L388.4 127.9L389.0 133.0L388.8 138.2L388.1 143.3L388.4 148.4L389.1 153.5L389.1 153.5L389.3 148.4L390.0 143.3L389.9 138.2L390.1 133.0L390.3 127.9L390.1 119.8Z" fill="#DABB46" fill-opacity="0.92"/>
<path d="M390.7 119.8L391.0 133.6L391.2 144.4L391.1 155.2L390.6 166.1L390.7 176.9L390.5 190.7L392.1 190.7L391.9 176.9L392.2 166.1L391.9 155.2L392.1 144.4L392.2 133.6L391.9 119.8Z" fill="#AFB515" fill-opacity="0.92"/>
<path d="M392.2 119.8L392.4 127.7L392.1 132.6L392.4 137.5L392.7 142.4L393.2 147.3L393.9 152.2L393.9 152.2L394.0 147.3L394.0 142.4L393.9 137.5L393.6 132.6L393.8 127.7L394.2 119.8Z" fill="#A6B40D" fill-opacity="0.92"/>
<path d="M395.3 166.2L395.0 169.8L394.9 173.4L394.5 177.0L394.6 180.5L394.4 184.1L394.5 190.7L395.2 190.7L395.0 184.1L395.2 180.5L395.8 177.0L396.0 173.4L395.4 169.8L395.3 166.2Z" fill="#94B106" fill-opacity="0.92"/>
<path d="M396.1 119.8L395.6 133.6L395.9 144.4L395.7 155.2L396.0 166.1L395.6 176.9L396.0 190.7L397.5 190.7L397.3 176.9L397.3 166.1L397.6 155.2L397.3 144.4L397.9 133.6L397.4 119.8Z" fill="#FFC59A" fill-opacity="0.92"/>
<path d="M397.5 119.8L397.5 133.6L397.5 144.4L397.8 155.2L398.1 166.1L397.9 176.9L398.7 190.7L400.0 190.7L400.2 176.9L399.7 166.1L399.3 155.2L400.0 144.4L399.6 133.6L400.1 119.8Z" fill="#FFC6A3" fill-opacity="0.92"/>
<path d="M400.5 119.8L400.4 133.6L400.2 144.4L399.7 155.2L399.9 166.1L399.7 176.9L399.4 190.7L400.4 190.7L400.6 176.9L400.9 166.1L401.1 155.2L401.0 144.4L401.2 133.6L401.3 119.8Z" fill="#ADB514" fill-opacity="0.92"/>
<path d="M402.5 119.8L402.3 133.6L402.6 144.4L403.0 155.2L402.6 166.1L402.3 176.9L402.1 190.7L402.9 190.7L403.2 176.9L403.4 166.1L403.6 155.2L403.5 144.4L403.3 133.6L403.1 119.8Z" fill="#9EB309" fill-opacity="0.92"/>
<path d="M403.8 119.8L403.7 133.6L403.9 144.4L404.3 155.2L404.3 166.1L404.4 176.9L404.2 190.7L405.5 190.7L405.2 176.9L405.3 166.1L405.4 155.2L405.1 144.4L404.7 133.6L405.0 119.8Z" fill="#FFC28C" fill-opacity="0.92"/>
<path d="M405.3 119.8L405.5 133.6L405.4 144.4L405.5 155.2L405.1 166.1L405.5 176.9L405.5 190.7L406.3 190.7L406.4 176.9L406.5 166.1L406.6 155.2L406.2 144.4L406.4 133.6L406.8 119.8Z" fill="#97B207" fill-opacity="0.92"/>
<path d="M407.3 145.1L407.0 152.2L406.8 159.3L406.9 166.4L406.5 173.5L406.3 180.6L406.5 190.7L408.1 190.7L407.8 180.6L407.7 173.5L407.9 166.4L408.1 159.3L407.5 152.2L407.4 145.1Z" fill="#D9BA45" fill-opacity="0.92"/>
<path d="M408.7 119.8L408.8 133.6L408.1 144.4L408.4 155.2L408.7 166.1L409.2 176.9L409.1 190.7L410.1 190.7L410.3 176.9L410.2 166.1L409.9 155.2L409.9 144.4L409.7 133.6L410.1 119.8Z" fill="#26A63A" fill-opacity="0.92"/>
<path d="M410.3 119.8L411.0 133.6L410.7 144.4L410.5 155.2L410.2 166.1L410.4 176.9L409.9 190.7L411.5 190.7L411.3 176.9L411.8 166.1L411.9 155.2L412.3 144.4L412.0 133.6L412.3 119.8Z" fill="#A9B510" fill-opacity="0.92"/>
<path d="M412.6 119.8L412.4 133.6L412.0 144.4L412.3 155.2L411.7 166.1L412.5 176.9L412.3 190.7L413.6 190.7L413.4 176.9L413.5 166.1L413.2 155.2L413.3 144.4L413.2 133.6L413.6 119.8Z" fill="#A7B50E" fill-opacity="0.92"/>
<path d="M414.2 119.8L414.2 133.6L414.3 144.4L414.1 155.2L413.9 166.1L414.3 176.9L414.7 190.7L416.1 190.7L416.3 176.9L416.0 166.1L416.1 155.2L416.4 144.4L415.8 133.6L415.4 119.8Z" fill="#A5B40C" fill-opacity="0.92"/>
<path d="M415.8 119.8L416.0 133.6L416.1 144.4L416.2 155.2L415.9 166.1L416.3 176.9L416.6 190.7L418.8 190.7L418.6 176.9L418.6 166.1L417.8 155.2L418.1 144.4L417.8 133.6L417.9 119.8Z" fill="#9CB308" fill-opacity="0.92"/>
<path d="M418.5 119.8L418.2 133.6L418.6 144.4L418.9 155.2L418.6 166.1L419.0 176.9L419.0 190.7L419.6 190.7L419.7 176.9L419.6 166.1L419.7 155.2L419.5 144.4L419.2 133.6L419.4 119.8Z" fill="#26A63A" fill-opacity="0.92"/>
<path d="M420.2 162.1L419.9 166.4L419.9 170.7L419.7 174.9L419.6 179.2L420.2 183.4L420.2 190.7L421.2 190.7L421.1 183.4L421.0 179.2L420.9 174.9L420.6 170.7L420.5 166.4L420.3 162.1Z" fill="#D6BA40" fill-opacity="0.92"/>
<path d="M421.8 132.2L421.4 141.5L421.2 150.7L421.0 160.0L420.7 169.2L421.2 178.5L421.3 190.7L423.3 190.7L423.1 178.5L423.2 169.2L423.1 160.0L423.1 150.7L422.6 141.5L421.9 132.2Z" fill="#FBBF70" fill-opacity="0.92"/>
<path d="M423.3 131.3L423.0 140.7L422.8 150.1L422.8 159.5L423.1 168.9L422.9 178.3L423.3 190.7L424.0 190.7L423.7 178.3L423.9 168.9L423.7 159.5L423.4 150.1L423.4 140.7L423.4 131.3Z" fill="#B2B618" fill-opacity="0.92"/>
<path d="M425.2 137.3L425.0 145.7L424.7 154.1L424.9 162.5L424.7 170.9L424.2 179.3L424.6 190.7L426.5 190.7L426.5 179.3L426.6 170.9L427.0 162.5L426.9 154.1L426.0 145.7L425.3 137.3Z" fill="#FFCBC1" fill-opacity="0.92"/>
<path d="M427.3 131.7L427.4 141.0L427.3 150.4L427.1 159.7L427.0 169.0L426.9 178.4L426.9 190.7L427.5 190.7L428.0 178.4L428.3 169.0L428.2 159.7L428.1 150.4L427.7 141.0L427.3 131.7Z" fill="#92B106" fill-opacity="0.92"/>
<path d="M427.7 119.8L427.5 133.6L427.1 144.4L427.1 155.2L427.4 166.1L427.4 176.9L427.4 190.7L428.4 190.7L429.0 176.9L428.9 166.1L428.7 155.2L428.8 144.4L428.3 133.6L428.6 119.8Z" fill="#FABF70" fill-opacity="0.92"/>
<path d="M430.0 131.6L429.7 140.9L429.6 150.3L429.8 159.6L429.3 169.0L429.6 178.3L429.8 190.7L431.1 190.7L431.0 178.3L431.6 169.0L431.5 159.6L431.1 150.3L430.3 140.9L430.1 131.6Z" fill="#F4BE66" fill-opacity="0.92"/>
<path d="M431.3 119.8L431.3 133.6L430.6 144.4L430.5 155.2L431.3 166.1L430.4 176.9L430.7 190.7L432.6 190.7L433.5 176.9L433.3 166.1L433.7 155.2L433.7 144.4L433.5 133.6L432.9 119.8Z" fill="#DABA45" fill-opacity="0.92"/>
<path d="M433.4 119.8L433.9 133.6L433.7 144.4L433.1 155.2L433.3 166.1L433.5 176.9L433.4 190.7L434.4 190.7L434.3 176.9L434.7 166.1L434.7 155.2L434.6 144.4L434.7 133.6L434.8 119.8Z" fill="#26A63A" fill-opacity="0.92"/>
<path d="M435.3 147.5L435.5 154.2L435.6 160.9L435.8 167.6L435.8 174.3L435.4 181.0L435.7 190.7L436.3 190.7L436.4 181.0L436.4 174.3L436.5 167.6L436.2 160.9L435.8 154.2L435.3 147.5Z" fill="#7EAF12" fill-opacity="0.92"/>
<path d="M436.8 167.0L436.5 170.5L436.1 173.9L436.5 177.4L436.2 180.8L436.0 184.2L436.1 190.7L437.0 190.7L436.7 184.2L436.8 180.8L437.3 177.4L437.1 173.9L437.0 170.5L436.9 167.0Z" fill="#5FAB25" fill-opacity="0.92"/>
<path d="M438.1 119.8L438.3 133.6L438.3 144.4L438.4 155.2L438.2 166.1L437.8 176.9L437.5 190.7L439.4 190.7L439.0 176.9L439.2 166.1L439.3 155.2L439.3 144.4L439.8 133.6L439.4 119.8Z" fill="#FFC181" fill-opacity="0.92"/>
<path d="M439.6 119.8L439.7 133.6L439.6 144.4L439.4 155.2L438.8 166.1L438.6 176.9L439.2 190.7L440.0 190.7L440.1 176.9L440.5 166.1L440.5 155.2L440.6 144.4L441.1 133.6L441.0 119.8Z" fill="#7EAF12" fill-opacity="0.92"/>
<path d="M442.5 160.8L442.2 165.2L441.8 169.7L442.4 174.2L441.8 178.7L441.7 183.2L441.5 190.7L443.9 190.7L443.7 183.2L444.2 178.7L443.7 174.2L443.7 169.7L443.0 165.2L442.6 160.8Z" fill="#FEC07E" fill-opacity="0.92"/>
<path d="M444.3 119.8L444.3 126.9L444.6 131.0L444.6 135.1L444.5 139.1L444.6 143.2L444.9 147.3L445.0 147.3L445.0 143.2L445.5 139.1L445.4 135.1L445.3 131.0L445.5 126.9L445.4 119.8Z" fill="#CAB932" fill-opacity="0.92"/>
<path d="M445.6 119.8L445.5 127.8L445.9 132.8L445.8 137.8L445.9 142.9L446.4 147.9L446.7 152.9L446.8 152.9L447.0 147.9L447.5 142.9L447.6 137.8L447.2 132.8L447.3 127.8L446.8 119.8Z" fill="#FFC392" fill-opacity="0.92"/>
<path d="M447.0 119.8L446.9 133.6L447.2 144.4L447.4 155.2L447.5 166.1L447.3 176.9L447.1 190.7L448.3 190.7L448.3 176.9L448.5 166.1L448.2 155.2L448.0 144.4L448.0 133.6L448.0 119.8Z" fill="#FBBF71" fill-opacity="0.92"/>
<path d="M448.7 119.8L448.3 133.6L448.0 144.4L448.1 155.2L447.5 166.1L447.3 176.9L447.3 190.7L450.4 190.7L450.4 176.9L450.4 166.1L450.3 155.2L451.0 144.4L451.2 133.6L450.9 119.8Z" fill="#FEC07B" fill-opacity="0.92"/>
<path d="M451.2 119.8L451.3 133.6L450.8 144.4L450.9 155.2L451.4 166.1L451.4 176.9L451.4 190.7L452.7 190.7L452.7 176.9L452.3 166.1L452.3 155.2L452.0 144.4L452.0 133.6L452.0 119.8Z" fill="#7FAF12" fill-opacity="0.92"/>
<path d="M453.5 131.8L452.8 141.1L452.1 150.5L451.9 159.8L452.2 169.1L452.0 178.4L452.3 190.7L453.8 190.7L453.6 178.4L453.6 169.1L453.5 159.8L453.8 150.5L453.7 141.1L453.6 131.8Z" fill="#DCBB48" fill-opacity="0.92"/>
<path d="M455.8 141.3L455.2 149.0L454.9 156.7L454.6 164.5L454.4 172.2L454.3 180.0L454.8 190.7L455.7 190.7L455.8 180.0L455.6 172.2L456.0 164.5L456.4 156.7L455.9 149.0L455.9 141.3Z" fill="#35A735" fill-opacity="0.92"/>
<path d="M456.1 119.8L456.6 133.6L456.9 144.4L456.8 155.2L456.6 166.1L457.0 176.9L456.7 190.7L458.2 190.7L457.9 176.9L458.1 166.1L457.8 155.2L458.2 144.4L457.9 133.6L457.9 119.8Z" fill="#F4BE67" fill-opacity="0.92"/>
<path d="M458.3 119.8L458.4 131.4L458.8 139.9L458.8 148.5L458.8 157.0L459.1 165.6L459.3 174.2L459.4 174.2L459.8 165.6L460.1 157.0L460.3 148.5L460.1 139.9L460.0 131.4L459.4 119.8Z" fill="#26A63A" fill-opacity="0.92"/>
<path d="M460.7 164.6L460.2 168.5L459.6 172.3L459.5 176.2L459.4 180.0L459.7 183.8L460.1 190.7L461.1 190.7L461.2 183.8L460.7 180.0L461.2 176.2L461.1 172.3L460.9 168.5L460.7 164.6Z" fill="#FFC495" fill-opacity="0.92"/>
<path d="M462.3 151.5L462.2 157.5L462.1 163.5L461.8 169.6L461.5 175.6L461.6 181.7L461.5 190.7L462.6 190.7L462.5 181.7L462.6 175.6L462.7 169.6L462.7 163.5L462.6 157.5L462.4 151.5Z" fill="#8DB109" fill-opacity="0.92"/>
<path d="M463.1 119.8L462.9 126.1L462.5 129.4L463.0 132.7L463.0 136.0L463.3 139.3L463.3 142.6L463.3 142.6L463.7 139.3L463.6 136.0L463.6 132.7L463.6 129.4L463.7 126.1L463.7 119.8Z" fill="#88B00C" fill-opacity="0.92"/>
<path d="M464.9 141.5L464.8 149.2L464.6 156.9L464.4 164.6L464.4 172.3L464.2 180.0L464.7 190.7L466.2 190.7L466.4 180.0L466.1 172.3L466.2 164.6L465.5 156.9L465.3 149.2L465.0 141.5Z" fill="#A5B40C" fill-opacity="0.92"/>
<path d="M466.1 119.8L466.6 126.9L467.1 130.9L466.9 135.0L466.9 139.1L467.7 143.1L468.0 147.2L468.1 147.2L468.8 143.1L469.0 139.1L469.3 135.0L468.7 130.9L469.2 126.9L469.7 119.8Z" fill="#F5BE68" fill-opacity="0.92"/>
<path d="M469.7 165.3L469.2 169.0L469.5 172.7L469.0 176.5L469.1 180.2L469.2 184.0L469.3 190.7L470.1 190.7L470.1 184.0L470.0 180.2L469.9 176.5L469.9 172.7L469.6 169.0L469.7 165.3Z" fill="#66AC21" fill-opacity="0.92"/>
<path d="M470.3 119.8L470.3 132.3L470.4 141.7L470.6 151.2L470.5 160.6L470.7 170.1L470.6 179.5L470.6 179.5L471.1 170.1L471.5 160.6L471.8 151.2L471.3 141.7L471.5 132.3L471.3 119.8Z" fill="#CEB937" fill-opacity="0.92"/>
<path d="M471.2 119.8L471.4 133.6L471.7 144.4L471.6 155.2L471.8 166.1L472.0 176.9L471.9 190.7L472.6 190.7L472.8 176.9L472.3 166.1L472.3 155.2L472.4 144.4L472.3 133.6L472.0 119.8Z" fill="#26A63A" fill-opacity="0.92"/>
<path d="M472.7 119.8L472.4 126.2L472.5 129.5L472.4 132.9L473.1 136.3L473.3 139.6L473.2 143.0L473.3 143.0L473.9 139.6L473.8 136.3L473.7 132.9L473.5 129.5L473.8 126.2L473.5 119.8Z" fill="#E6BC54" fill-opacity="0.92"/>
<path d="M475.1 164.5L475.1 168.4L474.5 172.2L474.8 176.1L474.9 180.0L474.7 183.8L474.4 190.7L476.1 190.7L475.9 183.8L475.9 180.0L475.9 176.1L475.6 172.2L475.5 168.4L475.2 164.5Z" fill="#73AD19" fill-opacity="0.92"/>
<path d="M475.5 119.8L475.7 133.6L475.4 144.4L474.9 155.2L474.9 166.1L474.8 176.9L475.0 190.7L476.7 190.7L477.0 176.9L476.5 166.1L476.9 155.2L476.8 144.4L477.1 133.6L478.0 119.8Z" fill="#CFB938" fill-opacity="0.92"/>
<path d="M478.0 119.8L477.6 129.6L478.0 136.4L477.9 143.3L477.7 150.1L478.3 156.9L478.4 163.7L478.5 163.7L478.7 156.9L478.9 150.1L479.3 143.3L479.1 136.4L478.8 129.6L479.2 119.8Z" fill="#93B106" fill-opacity="0.92"/>
<path d="M479.7 119.8L480.2 130.4L480.5 138.1L480.6 145.7L480.9 153.4L480.9 161.0L480.8 168.6L480.8 168.6L481.4 161.0L481.7 153.4L482.3 145.7L481.8 138.1L481.4 130.4L481.3 119.8Z" fill="#FFC59D" fill-opacity="0.92"/>
<path d="M480.6 119.8L480.2 133.6L480.0 144.4L480.2 155.2L480.4 166.1L480.6 176.9L480.3 190.7L481.2 190.7L481.6 176.9L481.6 166.1L481.2 155.2L481.3 144.4L481.6 133.6L481.8 119.8Z" fill="#F8BE6C" fill-opacity="0.92"/>
<path d="M482.2 119.8L482.2 130.5L482.5 138.1L482.0 145.8L482.1 153.5L482.1 161.2L482.0 168.8L482.1 168.8L482.7 161.2L483.2 153.5L483.5 145.8L483.5 138.1L483.9 130.5L483.4 119.8Z" fill="#FDC076" fill-opacity="0.92"/>
<path d="M483.7 119.8L484.1 127.6L484.4 132.4L483.8 137.2L484.2 142.0L484.3 146.8L484.1 151.6L484.2 151.6L484.6 146.8L485.0 142.0L485.3 137.2L485.2 132.4L484.9 127.6L484.9 119.8Z" fill="#6BAC1E" fill-opacity="0.92"/>
<path d="M485.7 119.8L485.6 128.1L485.6 133.3L486.0 138.6L486.4 143.8L486.6 149.1L486.9 154.3L487.0 154.3L487.3 149.1L487.5 143.8L487.9 138.6L487.8 133.3L487.6 128.1L487.8 119.8Z" fill="#EFBD5F" fill-opacity="0.92"/>
<path d="M487.5 119.8L487.7 126.3L487.4 129.8L487.4 133.3L487.1 136.7L487.3 140.2L487.3 143.7L487.4 143.7L487.7 140.2L488.5 136.7L488.8 133.3L489.4 129.8L489.4 126.3L489.5 119.8Z" fill="#66AC21" fill-opacity="0.92"/>
<path d="M490.5 163.7L489.9 167.7L489.2 171.7L489.4 175.7L489.2 179.7L488.9 183.7L489.5 190.7L490.9 190.7L491.0 183.7L490.6 179.7L490.9 175.7L490.8 171.7L490.7 167.7L490.6 163.7Z" fill="#F2BD64" fill-opacity="0.92"/>
</g></g>
<path d="M362.2 119.2H491.3M362.2 191.3H491.3" fill="none" stroke="#cdcdcd" stroke-width="0.9"/>
<path d="M491.3 119.2V191.3" fill="none" stroke="#a8a8a8" stroke-width="0.8"/>
<path d="M362.2 119.2V191.3" fill="none" stroke="#c4c4c4" stroke-width="0.8"/>
<path d="M361.2 191.3H362.2" stroke="#888" stroke-width="0.4"/>
<text x="359.7" y="192.2" class="t" text-anchor="end">0.0</text>
<path d="M361.2 176.88H362.2" stroke="#888" stroke-width="0.4"/>
<text x="359.7" y="177.78" class="t" text-anchor="end">0.2</text>
<path d="M361.2 162.46H362.2" stroke="#888" stroke-width="0.4"/>
<text x="359.7" y="163.36" class="t" text-anchor="end">0.4</text>
<path d="M361.2 148.04H362.2" stroke="#888" stroke-width="0.4"/>
<text x="359.7" y="148.94" class="t" text-anchor="end">0.6</text>
<path d="M361.2 133.62H362.2" stroke="#888" stroke-width="0.4"/>
<text x="359.7" y="134.52" class="t" text-anchor="end">0.8</text>
<path d="M361.2 119.2H362.2" stroke="#888" stroke-width="0.4"/>
<text x="359.7" y="120.1" class="t" text-anchor="end">1.0</text>
<path d="M374.2 191.3V192.5" stroke="#888" stroke-width="0.4"/>
<text x="374.5" y="196.8" class="t" text-anchor="middle">2019</text>
<path d="M403.7 191.3V192.5" stroke="#888" stroke-width="0.4"/>
<text x="404" y="196.8" class="t" text-anchor="middle">2020</text>
<path d="M433.2 191.3V192.5" stroke="#888" stroke-width="0.4"/>
<text x="433.5" y="196.8" class="t" text-anchor="middle">2021</text>
<path d="M462.7 191.3V192.5" stroke="#888" stroke-width="0.4"/>
<text x="463" y="196.8" class="t" text-anchor="middle">2022</text>
<text x="426.75" y="202.4" class="l" text-anchor="middle">Date</text>
<text transform="translate(353.65,155.25) rotate(-90)" class="l" text-anchor="middle">Quantiles</text>
<text x="426.75" y="115.9" class="m" text-anchor="middle">Malaysia</text>
<rect x="497" y="187.51" width="5.8" height="3.79" fill="#26A63A" stroke="#555" stroke-width="0.35"/>
<rect x="497" y="183.71" width="5.8" height="3.79" fill="#4EA92D" stroke="#555" stroke-width="0.35"/>
<rect x="497" y="179.92" width="5.8" height="3.79" fill="#68AC20" stroke="#555" stroke-width="0.35"/>
<rect x="497" y="176.12" width="5.8" height="3.79" fill="#7EAF12" stroke="#555" stroke-width="0.35"/>
<rect x="497" y="172.33" width="5.8" height="3.79" fill="#92B106" stroke="#555" stroke-width="0.35"/>
<rect x="497" y="168.53" width="5.8" height="3.79" fill="#A3B40A" stroke="#555" stroke-width="0.35"/>
<rect x="497" y="164.74" width="5.8" height="3.79" fill="#B4B61A" stroke="#555" stroke-width="0.35"/>
<rect x="497" y="160.94" width="5.8" height="3.79" fill="#C4B82B" stroke="#555" stroke-width="0.35"/>
<rect x="497" y="157.15" width="5.8" height="3.79" fill="#D3BA3D" stroke="#555" stroke-width="0.35"/>
<rect x="497" y="153.35" width="5.8" height="3.79" fill="#E1BB4E" stroke="#555" stroke-width="0.35"/>
<rect x="497" y="149.56" width="5.8" height="3.79" fill="#EFBD60" stroke="#555" stroke-width="0.35"/>
<rect x="497" y="145.76" width="5.8" height="3.79" fill="#FCBF72" stroke="#555" stroke-width="0.35"/>
<rect x="497" y="141.97" width="5.8" height="3.79" fill="#FFC183" stroke="#555" stroke-width="0.35"/>
<rect x="497" y="138.17" width="5.8" height="3.79" fill="#FFC495" stroke="#555" stroke-width="0.35"/>
<rect x="497" y="134.38" width="5.8" height="3.79" fill="#FFC6A7" stroke="#555" stroke-width="0.35"/>
<rect x="497" y="130.58" width="5.8" height="3.79" fill="#FFC9B8" stroke="#555" stroke-width="0.35"/>
<rect x="497" y="126.79" width="5.8" height="3.79" fill="#FFCDC9" stroke="#555" stroke-width="0.35"/>
<rect x="497" y="122.99" width="5.8" height="3.79" fill="#FFD2DA" stroke="#555" stroke-width="0.35"/>
<rect x="497" y="119.2" width="5.8" height="3.79" fill="#F1F1F1" stroke="#555" stroke-width="0.35"/>
<path d="M502.8 125.2H503.9" stroke="#888" stroke-width="0.4"/>
<text x="505.4" y="126.2" class="k">30</text>
<path d="M502.8 135.2H503.9" stroke="#888" stroke-width="0.4"/>
<text x="505.4" y="136.2" class="k">20</text>
<path d="M502.8 145.2H503.9" stroke="#888" stroke-width="0.4"/>
<text x="505.4" y="146.2" class="k">10</text>
<path d="M502.8 155.1H503.9" stroke="#888" stroke-width="0.4"/>
<text x="505.4" y="156.1" class="k">0</text>
<path d="M502.8 165.3H503.9" stroke="#888" stroke-width="0.4"/>
<text x="505.4" y="166.3" class="k">-10</text>
<path d="M502.8 175.2H503.9" stroke="#888" stroke-width="0.4"/>
<text x="505.4" y="176.2" class="k">-20</text>
<path d="M502.8 185.4H503.9" stroke="#888" stroke-width="0.4"/>
<text x="505.4" y="186.4" class="k">-30</text>
<clipPath id="cPhilippine"><rect x="536.7" y="122.81" width="129.1" height="64.89"/></clipPath>
<g clip-path="url(#cPhilippine)"><g filter="url(#hb)">
<linearGradient id="gPhilippine0" x1="0" y1="0" x2="0" y2="1"><stop offset="6.25%" stop-color="#DBBB47"/><stop offset="18.75%" stop-color="#DBBB47"/><stop offset="31.25%" stop-color="#DBBB47"/><stop offset="43.75%" stop-color="#DBBB47"/><stop offset="56.25%" stop-color="#DBBB47"/><stop offset="68.75%" stop-color="#DBBB47"/><stop offset="81.25%" stop-color="#DBBB47"/><stop offset="93.75%" stop-color="#DBBB47"/></linearGradient>
<rect x="533.7" y="119.81" width="8.02" height="70.89" fill="url(#gPhilippine0)"/>
<linearGradient id="gPhilippine1" x1="0" y1="0" x2="0" y2="1"><stop offset="6.25%" stop-color="#B4B61A"/><stop offset="18.75%" stop-color="#B4B61A"/><stop offset="31.25%" stop-color="#B4B61A"/><stop offset="43.75%" stop-color="#B4B61A"/><stop offset="56.25%" stop-color="#B4B61A"/><stop offset="68.75%" stop-color="#B4B61A"/><stop offset="81.25%" stop-color="#B4B61A"/><stop offset="93.75%" stop-color="#B4B61A"/></linearGradient>
<rect x="541.67" y="119.81" width="5.02" height="70.89" fill="url(#gPhilippine1)"/>
<linearGradient id="gPhilippine2" x1="0" y1="0" x2="0" y2="1"><stop offset="6.25%" stop-color="#9EB309"/><stop offset="18.75%" stop-color="#93B106"/><stop offset="31.25%" stop-color="#78AE16"/><stop offset="43.75%" stop-color="#6AAC1F"/><stop offset="56.25%" stop-color="#6AAC1F"/><stop offset="68.75%" stop-color="#71AD1A"/><stop offset="81.25%" stop-color="#7FAF11"/><stop offset="93.75%" stop-color="#86B00D"/></linearGradient>
<rect x="546.63" y="119.81" width="5.02" height="70.89" fill="url(#gPhilippine2)"/>
<linearGradient id="gPhilippine3" x1="0" y1="0" x2="0" y2="1"><stop offset="6.25%" stop-color="#DBBB47"/><stop offset="18.75%" stop-color="#D7BA42"/><stop offset="31.25%" stop-color="#CDB936"/><stop offset="43.75%" stop-color="#C3B82A"/><stop offset="56.25%" stop-color="#B9B71F"/><stop offset="68.75%" stop-color="#B9B71F"/><stop offset="81.25%" stop-color="#C3B82A"/><stop offset="93.75%" stop-color="#C8B930"/></linearGradient>
<rect x="551.6" y="119.81" width="5.02" height="70.89" fill="url(#gPhilippine3)"/>
<linearGradient id="gPhilippine4" x1="0" y1="0" x2="0" y2="1"><stop offset="6.25%" stop-color="#B4B61A"/><stop offset="18.75%" stop-color="#B9B71F"/><stop offset="31.25%" stop-color="#C3B82A"/><stop offset="43.75%" stop-color="#D2BA3C"/><stop offset="56.25%" stop-color="#E4BB52"/><stop offset="68.75%" stop-color="#E9BC58"/><stop offset="81.25%" stop-color="#E0BB4C"/><stop offset="93.75%" stop-color="#DBBB47"/></linearGradient>
<rect x="556.56" y="119.81" width="5.02" height="70.89" fill="url(#gPhilippine4)"/>
<linearGradient id="gPhilippine5" x1="0" y1="0" x2="0" y2="1"><stop offset="6.25%" stop-color="#FCBF73"/><stop offset="18.75%" stop-color="#FDC078"/><stop offset="31.25%" stop-color="#FFC182"/><stop offset="43.75%" stop-color="#FDC078"/><stop offset="56.25%" stop-color="#E8BC57"/><stop offset="68.75%" stop-color="#DBBB47"/><stop offset="81.25%" stop-color="#DBBB47"/><stop offset="93.75%" stop-color="#DBBB47"/></linearGradient>
<rect x="561.53" y="119.81" width="5.02" height="70.89" fill="url(#gPhilippine5)"/>
<linearGradient id="gPhilippine6" x1="0" y1="0" x2="0" y2="1"><stop offset="6.25%" stop-color="#DBBB47"/><stop offset="18.75%" stop-color="#DBBB47"/><stop offset="31.25%" stop-color="#DBBB47"/><stop offset="43.75%" stop-color="#D2BA3C"/><stop offset="56.25%" stop-color="#BEB725"/><stop offset="68.75%" stop-color="#B9B71F"/><stop offset="81.25%" stop-color="#C3B82A"/><stop offset="93.75%" stop-color="#C8B930"/></linearGradient>
<rect x="566.49" y="119.81" width="5.02" height="70.89" fill="url(#gPhilippine6)"/>
<linearGradient id="gPhilippine7" x1="0" y1="0" x2="0" y2="1"><stop offset="6.25%" stop-color="#C8B930"/><stop offset="18.75%" stop-color="#CDB936"/><stop offset="31.25%" stop-color="#D7BA42"/><stop offset="43.75%" stop-color="#E0BB4C"/><stop offset="56.25%" stop-color="#E9BC58"/><stop offset="68.75%" stop-color="#F1BD63"/><stop offset="81.25%" stop-color="#F9BF6E"/><stop offset="93.75%" stop-color="#FCBF73"/></linearGradient>
<rect x="571.46" y="119.81" width="5.02" height="70.89" fill="url(#gPhilippine7)"/>
<linearGradient id="gPhilippine8" x1="0" y1="0" x2="0" y2="1"><stop offset="6.25%" stop-color="#EDBD5D"/><stop offset="18.75%" stop-color="#EDBD5D"/><stop offset="31.25%" stop-color="#EDBD5D"/><stop offset="43.75%" stop-color="#DFBB4C"/><stop offset="56.25%" stop-color="#C3B82A"/><stop offset="68.75%" stop-color="#B9B71F"/><stop offset="81.25%" stop-color="#C3B82A"/><stop offset="93.75%" stop-color="#C8B930"/></linearGradient>
<rect x="576.42" y="119.81" width="5.02" height="70.89" fill="url(#gPhilippine8)"/>
<linearGradient id="gPhilippine9" x1="0" y1="0" x2="0" y2="1"><stop offset="6.25%" stop-color="#EDBD5D"/><stop offset="18.75%" stop-color="#EDBD5D"/><stop offset="31.25%" stop-color="#EDBD5D"/><stop offset="43.75%" stop-color="#EDBD5D"/><stop offset="56.25%" stop-color="#EDBD5D"/><stop offset="68.75%" stop-color="#EDBD5D"/><stop offset="81.25%" stop-color="#EDBD5D"/><stop offset="93.75%" stop-color="#EDBD5D"/></linearGradient>
<rect x="581.39" y="119.81" width="5.02" height="70.89" fill="url(#gPhilippine9)"/>
<linearGradient id="gPhilippine10" x1="0" y1="0" x2="0" y2="1"><stop offset="6.25%" stop-color="#86B00D"/><stop offset="18.75%" stop-color="#9EB309"/><stop offset="31.25%" stop-color="#C8B930"/><stop offset="43.75%" stop-color="#D2BA3C"/><stop offset="56.25%" stop-color="#BEB725"/><stop offset="68.75%" stop-color="#B9B71F"/><stop offset="81.25%" stop-color="#C3B82A"/><stop offset="93.75%" stop-color="#C8B930"/></linearGradient>
<rect x="586.35" y="119.81" width="5.02" height="70.89" fill="url(#gPhilippine10)"/>
<linearGradient id="gPhilippine11" x1="0" y1="0" x2="0" y2="1"><stop offset="6.25%" stop-color="#B4B61A"/><stop offset="18.75%" stop-color="#B4B61A"/><stop offset="31.25%" stop-color="#B4B61A"/><stop offset="43.75%" stop-color="#B4B61A"/><stop offset="56.25%" stop-color="#B4B61A"/><stop offset="68.75%" stop-color="#B4B61A"/><stop offset="81.25%" stop-color="#B4B61A"/><stop offset="93.75%" stop-color="#B4B61A"/></linearGradient>
<rect x="591.32" y="119.81" width="5.02" height="70.89" fill="url(#gPhilippine11)"/>
<linearGradient id="gPhilippine12" x1="0" y1="0" x2="0" y2="1"><stop offset="6.25%" stop-color="#EDBD5D"/><stop offset="18.75%" stop-color="#EDBD5D"/><stop offset="31.25%" stop-color="#EDBD5D"/><stop offset="43.75%" stop-color="#E9BC58"/><stop offset="56.25%" stop-color="#E0BB4C"/><stop offset="68.75%" stop-color="#E0BB4C"/><stop offset="81.25%" stop-color="#E9BC58"/><stop offset="93.75%" stop-color="#EDBD5D"/></linearGradient>
<rect x="596.28" y="119.81" width="5.02" height="70.89" fill="url(#gPhilippine12)"/>
<linearGradient id="gPhilippine13" x1="0" y1="0" x2="0" y2="1"><stop offset="6.25%" stop-color="#DBBB47"/><stop offset="18.75%" stop-color="#DBBB47"/><stop offset="31.25%" stop-color="#DBBB47"/><stop offset="43.75%" stop-color="#D7BA42"/><stop offset="56.25%" stop-color="#CDB936"/><stop offset="68.75%" stop-color="#C8B930"/><stop offset="81.25%" stop-color="#C8B930"/><stop offset="93.75%" stop-color="#C8B930"/></linearGradient>
<rect x="601.25" y="119.81" width="5.02" height="70.89" fill="url(#gPhilippine13)"/>
<linearGradient id="gPhilippine14" x1="0" y1="0" x2="0" y2="1"><stop offset="6.25%" stop-color="#86B00D"/><stop offset="18.75%" stop-color="#7FAF11"/><stop offset="31.25%" stop-color="#71AD1A"/><stop offset="43.75%" stop-color="#7FAF11"/><stop offset="56.25%" stop-color="#A3B40A"/><stop offset="68.75%" stop-color="#B4B61A"/><stop offset="81.25%" stop-color="#B4B61A"/><stop offset="93.75%" stop-color="#B4B61A"/></linearGradient>
<rect x="606.22" y="119.81" width="5.02" height="70.89" fill="url(#gPhilippine14)"/>
<linearGradient id="gPhilippine15" x1="0" y1="0" x2="0" y2="1"><stop offset="6.25%" stop-color="#EDBD5D"/><stop offset="18.75%" stop-color="#EDBD5D"/><stop offset="31.25%" stop-color="#EDBD5D"/><stop offset="43.75%" stop-color="#EDBD5D"/><stop offset="56.25%" stop-color="#EDBD5D"/><stop offset="68.75%" stop-color="#EDBD5D"/><stop offset="81.25%" stop-color="#EDBD5D"/><stop offset="93.75%" stop-color="#EDBD5D"/></linearGradient>
<rect x="611.18" y="119.81" width="5.02" height="70.89" fill="url(#gPhilippine15)"/>
<linearGradient id="gPhilippine16" x1="0" y1="0" x2="0" y2="1"><stop offset="6.25%" stop-color="#C8B930"/><stop offset="18.75%" stop-color="#C8B930"/><stop offset="31.25%" stop-color="#C8B930"/><stop offset="43.75%" stop-color="#C8B930"/><stop offset="56.25%" stop-color="#C8B930"/><stop offset="68.75%" stop-color="#C8B930"/><stop offset="81.25%" stop-color="#C8B930"/><stop offset="93.75%" stop-color="#C8B930"/></linearGradient>
<rect x="616.15" y="119.81" width="5.02" height="70.89" fill="url(#gPhilippine16)"/>
<linearGradient id="gPhilippine17" x1="0" y1="0" x2="0" y2="1"><stop offset="6.25%" stop-color="#C8B930"/><stop offset="18.75%" stop-color="#CDB936"/><stop offset="31.25%" stop-color="#D7BA42"/><stop offset="43.75%" stop-color="#D2BA3C"/><stop offset="56.25%" stop-color="#BEB725"/><stop offset="68.75%" stop-color="#B4B61A"/><stop offset="81.25%" stop-color="#B4B61A"/><stop offset="93.75%" stop-color="#B4B61A"/></linearGradient>
<rect x="621.11" y="119.81" width="5.02" height="70.89" fill="url(#gPhilippine17)"/>
<linearGradient id="gPhilippine18" x1="0" y1="0" x2="0" y2="1"><stop offset="6.25%" stop-color="#B4B61A"/><stop offset="18.75%" stop-color="#B4B61A"/><stop offset="31.25%" stop-color="#B4B61A"/><stop offset="43.75%" stop-color="#B9B71F"/><stop offset="56.25%" stop-color="#C3B82A"/><stop offset="68.75%" stop-color="#C8B930"/><stop offset="81.25%" stop-color="#C8B930"/><stop offset="93.75%" stop-color="#C8B930"/></linearGradient>
<rect x="626.08" y="119.81" width="5.02" height="70.89" fill="url(#gPhilippine18)"/>
<linearGradient id="gPhilippine19" x1="0" y1="0" x2="0" y2="1"><stop offset="6.25%" stop-color="#DBBB47"/><stop offset="18.75%" stop-color="#DBBB47"/><stop offset="31.25%" stop-color="#DBBB47"/><stop offset="43.75%" stop-color="#D2BA3C"/><stop offset="56.25%" stop-color="#BEB725"/><stop offset="68.75%" stop-color="#B4B61A"/><stop offset="81.25%" stop-color="#B4B61A"/><stop offset="93.75%" stop-color="#B4B61A"/></linearGradient>
<rect x="631.04" y="119.81" width="5.02" height="70.89" fill="url(#gPhilippine19)"/>
<linearGradient id="gPhilippine20" x1="0" y1="0" x2="0" y2="1"><stop offset="6.25%" stop-color="#9EB309"/><stop offset="18.75%" stop-color="#93B106"/><stop offset="31.25%" stop-color="#78AE16"/><stop offset="43.75%" stop-color="#60AB24"/><stop offset="56.25%" stop-color="#4AA92E"/><stop offset="68.75%" stop-color="#4AA92E"/><stop offset="81.25%" stop-color="#60AB24"/><stop offset="93.75%" stop-color="#6AAC1F"/></linearGradient>
<rect x="636.01" y="119.81" width="5.02" height="70.89" fill="url(#gPhilippine20)"/>
<linearGradient id="gPhilippine21" x1="0" y1="0" x2="0" y2="1"><stop offset="6.25%" stop-color="#C8B930"/><stop offset="18.75%" stop-color="#CDB936"/><stop offset="31.25%" stop-color="#D7BA42"/><stop offset="43.75%" stop-color="#D7BA42"/><stop offset="56.25%" stop-color="#CDB936"/><stop offset="68.75%" stop-color="#C8B930"/><stop offset="81.25%" stop-color="#C8B930"/><stop offset="93.75%" stop-color="#C8B930"/></linearGradient>
<rect x="640.97" y="119.81" width="5.02" height="70.89" fill="url(#gPhilippine21)"/>
<linearGradient id="gPhilippine22" x1="0" y1="0" x2="0" y2="1"><stop offset="6.25%" stop-color="#B4B61A"/><stop offset="18.75%" stop-color="#B4B61A"/><stop offset="31.25%" stop-color="#B4B61A"/><stop offset="43.75%" stop-color="#BEB725"/><stop offset="56.25%" stop-color="#D2BA3C"/><stop offset="68.75%" stop-color="#DBBB47"/><stop offset="81.25%" stop-color="#DBBB47"/><stop offset="93.75%" stop-color="#DBBB47"/></linearGradient>
<rect x="645.94" y="119.81" width="5.02" height="70.89" fill="url(#gPhilippine22)"/>
<linearGradient id="gPhilippine23" x1="0" y1="0" x2="0" y2="1"><stop offset="6.25%" stop-color="#B4B61A"/><stop offset="18.75%" stop-color="#B4B61A"/><stop offset="31.25%" stop-color="#B4B61A"/><stop offset="43.75%" stop-color="#A9B50F"/><stop offset="56.25%" stop-color="#93B106"/><stop offset="68.75%" stop-color="#7FAF11"/><stop offset="81.25%" stop-color="#71AD1A"/><stop offset="93.75%" stop-color="#6AAC1F"/></linearGradient>
<rect x="650.9" y="119.81" width="5.02" height="70.89" fill="url(#gPhilippine23)"/>
<linearGradient id="gPhilippine24" x1="0" y1="0" x2="0" y2="1"><stop offset="6.25%" stop-color="#C8B930"/><stop offset="18.75%" stop-color="#C3B82A"/><stop offset="31.25%" stop-color="#B9B71F"/><stop offset="43.75%" stop-color="#B4B61A"/><stop offset="56.25%" stop-color="#B4B61A"/><stop offset="68.75%" stop-color="#B9B71F"/><stop offset="81.25%" stop-color="#C3B82A"/><stop offset="93.75%" stop-color="#C8B930"/></linearGradient>
<rect x="655.87" y="119.81" width="5.02" height="70.89" fill="url(#gPhilippine24)"/>
<linearGradient id="gPhilippine25" x1="0" y1="0" x2="0" y2="1"><stop offset="6.25%" stop-color="#DBBB47"/><stop offset="18.75%" stop-color="#DBBB47"/><stop offset="31.25%" stop-color="#DBBB47"/><stop offset="43.75%" stop-color="#DBBB47"/><stop offset="56.25%" stop-color="#DBBB47"/><stop offset="68.75%" stop-color="#DBBB47"/><stop offset="81.25%" stop-color="#DBBB47"/><stop offset="93.75%" stop-color="#DBBB47"/></linearGradient>
<rect x="660.83" y="119.81" width="7.97" height="70.89" fill="url(#gPhilippine25)"/>
<path d="M537.2 119.8L537.4 128.1L537.7 133.5L537.7 138.8L538.0 144.2L538.3 149.5L538.5 154.8L538.6 154.8L539.0 149.5L539.3 144.2L539.5 138.8L539.1 133.5L539.6 128.1L539.1 119.8Z" fill="#FFC59B" fill-opacity="0.92"/>
<path d="M539.7 154.3L539.4 159.9L539.3 165.4L538.8 171.0L539.2 176.6L538.7 182.1L538.8 190.7L539.8 190.7L540.2 182.1L540.2 176.6L540.2 171.0L540.1 165.4L540.2 159.9L539.8 154.3Z" fill="#FFC38E" fill-opacity="0.92"/>
<path d="M541.7 119.8L541.4 133.6L541.6 144.4L541.4 155.2L541.5 166.1L541.6 176.9L541.8 190.7L542.9 190.7L542.6 176.9L542.9 166.1L542.4 155.2L542.7 144.4L542.6 133.6L542.6 119.8Z" fill="#88B00C" fill-opacity="0.92"/>
<path d="M543.5 119.8L543.8 127.7L543.5 132.5L543.7 137.4L543.4 142.2L543.8 147.1L543.9 151.9L544.0 151.9L544.3 147.1L544.1 142.2L544.3 137.4L544.5 132.5L544.4 127.7L544.2 119.8Z" fill="#4FA92C" fill-opacity="0.92"/>
<path d="M544.6 119.8L544.4 133.6L544.8 144.4L544.5 155.2L544.6 166.1L544.6 176.9L545.0 190.7L545.5 190.7L545.4 176.9L545.3 166.1L545.3 155.2L545.5 144.4L545.5 133.6L545.5 119.8Z" fill="#37A735" fill-opacity="0.92"/>
<path d="M546.3 119.8L546.3 133.6L546.7 144.4L546.7 155.2L546.3 166.1L546.1 176.9L546.1 190.7L546.8 190.7L547.4 176.9L547.4 166.1L547.4 155.2L547.3 144.4L547.1 133.6L547.0 119.8Z" fill="#26A63A" fill-opacity="0.92"/>
<path d="M547.6 119.8L547.8 130.9L547.6 139.1L547.9 147.2L548.2 155.4L548.1 163.5L548.0 171.6L548.1 171.6L548.5 163.5L549.0 155.4L548.7 147.2L548.3 139.1L548.4 130.9L548.5 119.8Z" fill="#26A63A" fill-opacity="0.92"/>
<path d="M548.2 119.8L548.1 133.6L547.9 144.4L548.0 155.2L547.6 166.1L547.5 176.9L547.2 190.7L548.5 190.7L548.5 176.9L548.9 166.1L549.0 155.2L549.3 144.4L549.4 133.6L549.8 119.8Z" fill="#26A63A" fill-opacity="0.92"/>
<path d="M550.6 137.2L550.4 145.6L550.3 154.0L549.7 162.4L549.7 170.8L549.2 179.3L549.3 190.7L550.6 190.7L550.4 179.3L550.4 170.8L550.8 162.4L550.9 154.0L551.0 145.6L550.7 137.2Z" fill="#B8B61E" fill-opacity="0.92"/>
<path d="M551.3 119.8L551.0 133.6L551.1 144.4L551.4 155.2L550.8 166.1L551.0 176.9L551.1 190.7L552.0 190.7L551.8 176.9L551.9 166.1L551.9 155.2L552.0 144.4L551.9 133.6L552.1 119.8Z" fill="#50A92C" fill-opacity="0.92"/>
<path d="M552.6 119.8L552.3 128.1L552.1 133.4L552.3 138.8L552.7 144.1L552.6 149.4L553.0 154.7L553.0 154.7L553.0 149.4L553.4 144.1L553.1 138.8L552.7 133.4L553.1 128.1L553.3 119.8Z" fill="#94B106" fill-opacity="0.92"/>
<path d="M553.7 119.8L553.8 133.6L553.8 144.4L553.8 155.2L553.9 166.1L554.2 176.9L553.9 190.7L554.5 190.7L554.6 176.9L554.4 166.1L554.3 155.2L554.4 144.4L554.4 133.6L554.4 119.8Z" fill="#83AF0F" fill-opacity="0.92"/>
<path d="M555.0 119.8L554.9 127.6L555.4 132.3L555.0 137.0L554.8 141.8L555.1 146.5L555.1 151.3L555.2 151.3L555.3 146.5L555.2 141.8L555.6 137.0L555.9 132.3L555.6 127.6L555.4 119.8Z" fill="#74AE18" fill-opacity="0.92"/>
<path d="M555.9 119.8L556.0 126.5L556.1 130.2L556.3 133.9L556.6 137.6L556.8 141.3L556.8 145.0L556.9 145.0L557.2 141.3L557.4 137.6L557.8 133.9L557.3 130.2L556.9 126.5L557.5 119.8Z" fill="#8CB00A" fill-opacity="0.92"/>
<path d="M557.7 119.8L557.8 133.6L557.8 144.4L557.7 155.2L557.7 166.1L557.7 176.9L557.6 190.7L558.7 190.7L558.4 176.9L558.4 166.1L558.9 155.2L558.6 144.4L558.4 133.6L558.5 119.8Z" fill="#FFC186" fill-opacity="0.92"/>
<path d="M558.8 119.8L558.9 133.6L558.9 144.4L558.5 155.2L558.6 166.1L558.8 176.9L558.9 190.7L560.4 190.7L560.2 176.9L560.1 166.1L560.2 155.2L559.9 144.4L559.9 133.6L560.6 119.8Z" fill="#8BB00A" fill-opacity="0.92"/>
<path d="M560.5 119.8L559.8 131.7L560.0 140.6L559.6 149.5L560.4 158.4L560.8 167.4L561.4 176.3L561.5 176.3L561.6 167.4L561.4 158.4L561.6 149.5L561.9 140.6L561.8 131.7L561.6 119.8Z" fill="#FFC288" fill-opacity="0.92"/>
<path d="M561.7 119.8L561.6 126.8L561.8 130.9L561.2 134.9L561.2 139.0L561.9 143.0L562.4 147.0L562.4 147.0L562.2 143.0L562.3 139.0L562.4 134.9L562.6 130.9L562.8 126.8L562.9 119.8Z" fill="#FFC38E" fill-opacity="0.92"/>
<path d="M563.7 119.8L563.4 133.6L563.1 144.4L563.6 155.2L563.3 166.1L563.6 176.9L563.6 190.7L564.3 190.7L564.2 176.9L564.4 166.1L564.3 155.2L564.2 144.4L564.3 133.6L564.4 119.8Z" fill="#BBB722" fill-opacity="0.92"/>
<path d="M565.1 143.5L564.8 150.9L564.4 158.2L564.5 165.6L564.8 173.0L564.5 180.3L564.9 190.7L566.1 190.7L565.9 180.3L565.5 173.0L565.4 165.6L565.1 158.2L565.1 150.9L565.1 143.5Z" fill="#98B207" fill-opacity="0.92"/>
<path d="M566.0 119.8L566.6 133.6L566.2 144.4L567.0 155.2L567.2 166.1L566.8 176.9L566.5 190.7L568.6 190.7L568.4 176.9L568.4 166.1L568.2 155.2L568.3 144.4L567.7 133.6L568.0 119.8Z" fill="#FFC496" fill-opacity="0.92"/>
<path d="M568.7 138.1L568.8 146.4L568.9 154.6L568.6 162.9L569.1 171.2L569.1 179.4L569.3 190.7L569.9 190.7L570.0 179.4L570.1 171.2L569.9 162.9L569.6 154.6L569.2 146.4L568.7 138.1Z" fill="#F0BD61" fill-opacity="0.92"/>
<path d="M569.1 119.8L569.0 128.1L569.0 133.4L569.7 138.7L569.2 144.0L569.9 149.3L570.2 154.5L570.3 154.5L570.5 149.3L570.9 144.0L570.8 138.7L571.0 133.4L571.0 128.1L571.2 119.8Z" fill="#FCBF74" fill-opacity="0.92"/>
<path d="M571.8 119.8L572.1 131.7L572.4 140.6L572.4 149.5L572.6 158.3L572.8 167.2L573.4 176.1L573.5 176.1L573.6 167.2L574.1 158.3L574.1 149.5L573.6 140.6L573.2 131.7L574.0 119.8Z" fill="#AAB510" fill-opacity="0.92"/>
<path d="M574.1 119.8L574.4 133.6L573.8 144.4L573.7 155.2L573.7 166.1L573.9 176.9L573.9 190.7L574.4 190.7L574.3 176.9L574.5 166.1L574.2 155.2L574.7 144.4L574.8 133.6L574.6 119.8Z" fill="#A9B510" fill-opacity="0.92"/>
<path d="M575.7 119.8L575.3 130.2L575.0 137.6L575.2 145.0L575.4 152.5L575.4 159.9L575.7 167.3L575.8 167.3L575.9 159.9L576.4 152.5L576.8 145.0L576.6 137.6L576.5 130.2L576.7 119.8Z" fill="#FFC499" fill-opacity="0.92"/>
<path d="M577.9 119.8L577.5 133.6L577.7 144.4L578.1 155.2L577.4 166.1L577.5 176.9L577.6 190.7L579.3 190.7L579.4 176.9L579.0 166.1L579.0 155.2L578.7 144.4L579.0 133.6L579.1 119.8Z" fill="#FDC079" fill-opacity="0.92"/>
<path d="M579.3 119.8L579.6 133.6L579.5 144.4L579.8 155.2L580.3 166.1L580.1 176.9L580.1 190.7L581.3 190.7L581.3 176.9L581.6 166.1L581.6 155.2L581.3 144.4L581.4 133.6L581.1 119.8Z" fill="#ADB513" fill-opacity="0.92"/>
<path d="M582.3 162.4L582.0 166.6L581.5 170.8L581.7 175.0L581.4 179.3L581.8 183.5L582.3 190.7L583.6 190.7L583.8 183.5L583.6 179.3L583.3 175.0L583.3 170.8L582.8 166.6L582.4 162.4Z" fill="#FFC59C" fill-opacity="0.92"/>
<path d="M583.4 119.8L583.5 133.6L583.2 144.4L583.1 155.2L582.9 166.1L583.1 176.9L583.6 190.7L584.4 190.7L584.4 176.9L584.2 166.1L584.2 155.2L584.6 144.4L584.6 133.6L584.3 119.8Z" fill="#BEB725" fill-opacity="0.92"/>
<path d="M585.2 155.0L584.8 160.4L584.9 165.9L584.4 171.3L584.8 176.8L584.8 182.2L585.1 190.7L586.2 190.7L586.1 182.2L585.5 176.8L586.0 171.3L585.6 165.9L585.2 160.4L585.2 155.0Z" fill="#FFC391" fill-opacity="0.92"/>
<path d="M586.6 119.8L586.2 133.6L586.0 144.4L586.6 155.2L587.0 166.1L586.8 176.9L586.6 190.7L588.6 190.7L588.1 176.9L588.2 166.1L588.0 155.2L588.1 144.4L588.0 133.6L587.6 119.8Z" fill="#85B00E" fill-opacity="0.92"/>
<path d="M588.7 119.8L588.8 133.6L588.9 144.4L589.2 155.2L588.7 166.1L589.2 176.9L589.5 190.7L590.4 190.7L590.4 176.9L590.6 166.1L590.7 155.2L590.3 144.4L590.2 133.6L589.9 119.8Z" fill="#F6BE69" fill-opacity="0.92"/>
<path d="M590.5 131.1L590.4 140.5L590.4 149.9L590.7 159.4L591.0 168.8L591.2 178.3L591.1 190.7L591.7 190.7L591.8 178.3L591.5 168.8L591.3 159.4L590.9 149.9L590.6 140.5L590.5 131.1Z" fill="#82AF0F" fill-opacity="0.92"/>
<path d="M591.3 119.8L591.4 133.6L590.9 144.4L591.2 155.2L591.1 166.1L591.3 176.9L591.3 190.7L593.6 190.7L593.2 176.9L592.9 166.1L592.3 155.2L592.6 144.4L592.7 133.6L592.9 119.8Z" fill="#53AA2A" fill-opacity="0.92"/>
<path d="M594.6 146.8L594.0 153.6L593.6 160.4L593.3 167.2L593.0 174.1L593.2 180.9L593.2 190.7L594.3 190.7L594.4 180.9L594.4 174.1L594.7 167.2L594.8 160.4L594.6 153.6L594.6 146.8Z" fill="#E8BC57" fill-opacity="0.92"/>
<path d="M595.4 119.8L595.7 133.6L595.2 144.4L595.2 155.2L595.4 166.1L594.9 176.9L594.8 190.7L596.3 190.7L596.5 176.9L596.6 166.1L596.9 155.2L597.1 144.4L596.8 133.6L597.1 119.8Z" fill="#68AC20" fill-opacity="0.92"/>
<path d="M597.9 129.9L598.0 139.5L598.0 149.1L598.2 158.8L598.0 168.4L597.8 178.1L597.6 190.7L598.2 190.7L598.7 178.1L598.9 168.4L599.1 158.8L598.8 149.1L598.3 139.5L597.9 129.9Z" fill="#FFC289" fill-opacity="0.92"/>
<path d="M599.6 145.2L599.3 152.3L598.7 159.4L598.7 166.4L598.1 173.5L598.0 180.6L598.1 190.7L599.8 190.7L600.0 180.6L599.8 173.5L599.7 166.4L600.3 159.4L600.1 152.3L599.7 145.2Z" fill="#91B107" fill-opacity="0.92"/>
<path d="M600.1 119.8L600.2 133.6L600.4 144.4L600.2 155.2L600.8 166.1L600.7 176.9L601.1 190.7L603.1 190.7L602.9 176.9L602.4 166.1L602.5 155.2L601.8 144.4L602.5 133.6L602.1 119.8Z" fill="#FCBF73" fill-opacity="0.92"/>
<path d="M602.9 119.8L602.4 133.6L602.3 144.4L602.5 155.2L602.7 166.1L602.2 176.9L602.1 190.7L603.1 190.7L603.6 176.9L603.5 166.1L603.5 155.2L603.2 144.4L603.7 133.6L603.7 119.8Z" fill="#FEC07E" fill-opacity="0.92"/>
<path d="M603.9 119.8L603.9 133.6L604.9 144.4L604.8 155.2L604.6 166.1L604.8 176.9L605.3 190.7L607.5 190.7L607.4 176.9L607.0 166.1L606.7 155.2L606.6 144.4L607.2 133.6L606.8 119.8Z" fill="#FBBF70" fill-opacity="0.92"/>
<path d="M606.4 119.8L606.2 133.6L606.3 144.4L606.0 155.2L606.2 166.1L606.6 176.9L606.9 190.7L608.2 190.7L607.9 176.9L607.8 166.1L607.4 155.2L607.4 144.4L607.5 133.6L607.9 119.8Z" fill="#E4BB51" fill-opacity="0.92"/>
<path d="M608.2 119.8L608.0 132.5L607.7 142.1L607.2 151.8L607.5 161.4L607.8 171.1L608.0 180.8L608.2 180.8L608.8 171.1L609.5 161.4L609.8 151.8L609.9 142.1L609.8 132.5L609.8 119.8Z" fill="#C7B82F" fill-opacity="0.92"/>
<path d="M610.3 119.8L610.4 133.6L610.3 144.4L610.5 155.2L610.5 166.1L611.0 176.9L611.3 190.7L612.1 190.7L611.8 176.9L611.6 166.1L611.5 155.2L611.0 144.4L611.1 133.6L611.2 119.8Z" fill="#E3BB51" fill-opacity="0.92"/>
<path d="M611.3 119.8L611.1 130.8L611.3 138.7L611.6 146.7L611.6 154.7L611.7 162.6L612.2 170.6L612.2 170.6L611.9 162.6L611.9 154.7L612.2 146.7L611.9 138.7L611.7 130.8L611.8 119.8Z" fill="#68AC20" fill-opacity="0.92"/>
<path d="M613.7 164.5L613.0 168.4L612.9 172.3L612.6 176.1L612.6 180.0L612.4 183.8L612.3 190.7L614.2 190.7L614.1 183.8L614.0 180.0L614.3 176.1L614.1 172.3L613.8 168.4L613.7 164.5Z" fill="#FFC59E" fill-opacity="0.92"/>
<path d="M615.2 165.3L614.9 169.1L614.4 172.8L614.7 176.5L614.5 180.2L614.5 184.0L614.0 190.7L615.8 190.7L615.7 184.0L615.4 180.2L615.9 176.5L615.9 172.8L615.6 169.1L615.3 165.3Z" fill="#FFC5A2" fill-opacity="0.92"/>
<path d="M615.8 119.8L615.9 126.4L616.0 129.9L616.0 133.5L616.0 137.1L616.4 140.6L617.1 144.2L617.2 144.2L617.5 140.6L618.2 137.1L617.5 133.5L617.5 129.9L618.1 126.4L618.4 119.8Z" fill="#FEC07C" fill-opacity="0.92"/>
<path d="M618.5 119.8L618.2 133.6L617.9 144.4L617.9 155.2L617.7 166.1L617.9 176.9L617.8 190.7L619.0 190.7L619.4 176.9L619.3 166.1L619.6 155.2L619.7 144.4L619.8 133.6L620.0 119.8Z" fill="#91B107" fill-opacity="0.92"/>
<path d="M620.4 141.7L620.3 149.3L620.4 157.0L620.6 164.7L620.8 172.3L621.2 180.0L621.3 190.7L622.0 190.7L621.7 180.0L621.5 172.3L621.2 164.7L620.8 157.0L620.4 149.3L620.5 141.7Z" fill="#7FAF11" fill-opacity="0.92"/>
<path d="M621.7 119.8L621.5 133.6L621.5 144.4L621.4 155.2L621.2 166.1L621.0 176.9L621.3 190.7L622.0 190.7L621.9 176.9L622.1 166.1L622.2 155.2L622.2 144.4L622.2 133.6L622.6 119.8Z" fill="#63AB23" fill-opacity="0.92"/>
<path d="M622.9 131.6L622.7 141.0L622.7 150.3L622.5 159.7L622.5 169.0L622.1 178.4L622.1 190.7L622.9 190.7L623.2 178.4L623.0 169.0L623.2 159.7L623.6 150.3L623.1 141.0L622.9 131.6Z" fill="#FEC07D" fill-opacity="0.92"/>
<path d="M624.8 144.3L624.2 151.6L623.6 158.8L623.4 166.0L623.2 173.2L623.1 180.5L623.7 190.7L625.6 190.7L626.0 180.5L625.8 173.2L626.0 166.0L625.5 158.8L624.9 151.6L624.9 144.3Z" fill="#EABC5A" fill-opacity="0.92"/>
<path d="M626.5 119.8L627.0 133.6L626.8 144.4L627.1 155.2L626.9 166.1L627.1 176.9L626.8 190.7L628.3 190.7L628.5 176.9L628.7 166.1L628.9 155.2L628.6 144.4L628.1 133.6L628.1 119.8Z" fill="#73AE19" fill-opacity="0.92"/>
<path d="M628.5 119.8L628.1 131.0L628.6 139.1L628.7 147.3L628.5 155.4L629.3 163.6L629.4 171.7L629.5 171.7L629.6 163.6L629.8 155.4L629.8 147.3L629.4 139.1L629.7 131.0L629.5 119.8Z" fill="#42A831" fill-opacity="0.92"/>
<path d="M631.0 158.8L630.8 163.6L630.0 168.4L630.0 173.2L629.6 178.1L630.1 182.9L630.3 190.7L632.2 190.7L632.7 182.9L632.7 178.1L631.8 173.2L632.3 168.4L631.8 163.6L631.1 158.8Z" fill="#E6BC54" fill-opacity="0.92"/>
<path d="M634.1 158.7L633.9 163.5L633.4 168.3L633.6 173.2L633.6 178.0L633.2 182.9L633.3 190.7L634.8 190.7L634.5 182.9L634.4 178.0L634.5 173.2L634.1 168.3L634.2 163.5L634.2 158.7Z" fill="#31A736" fill-opacity="0.92"/>
<path d="M634.9 119.8L635.3 133.6L635.4 144.4L635.6 155.2L635.6 166.1L635.5 176.9L635.5 190.7L637.6 190.7L637.7 176.9L637.1 166.1L637.0 155.2L636.9 144.4L637.1 133.6L637.1 119.8Z" fill="#D4BA3E" fill-opacity="0.92"/>
<path d="M637.8 119.8L638.1 128.1L638.6 133.4L638.4 138.7L638.6 144.0L638.6 149.3L638.7 154.6L638.8 154.6L639.3 149.3L639.5 144.0L639.9 138.7L639.8 133.4L639.8 128.1L639.9 119.8Z" fill="#26A63A" fill-opacity="0.92"/>
<path d="M640.6 144.5L640.6 151.7L640.3 158.9L640.4 166.1L640.2 173.3L640.5 180.5L640.2 190.7L641.2 190.7L641.2 180.5L641.3 173.3L641.3 166.1L641.2 158.9L641.0 151.7L640.6 144.5Z" fill="#CEB937" fill-opacity="0.92"/>
<path d="M642.7 129.7L642.7 139.3L642.7 149.0L642.2 158.7L642.6 168.4L642.3 178.0L641.6 190.7L644.1 190.7L644.1 178.0L644.3 168.4L644.8 158.7L644.0 149.0L643.3 139.3L642.8 129.7Z" fill="#FCBF74" fill-opacity="0.92"/>
<path d="M644.1 119.8L644.0 129.0L644.0 135.2L643.7 141.4L643.5 147.6L643.9 153.8L644.3 160.0L644.4 160.0L644.6 153.8L645.2 147.6L645.5 141.4L645.7 135.2L646.0 129.0L645.3 119.8Z" fill="#6BAC1E" fill-opacity="0.92"/>
<path d="M646.5 149.6L646.7 156.0L646.8 162.3L646.5 168.7L646.9 175.0L647.1 181.4L647.3 190.7L648.1 190.7L647.7 181.4L647.9 175.0L647.8 168.7L647.5 162.3L647.0 156.0L646.6 149.6Z" fill="#87B00D" fill-opacity="0.92"/>
<path d="M647.8 119.8L647.4 133.6L647.5 144.4L647.9 155.2L647.7 166.1L647.6 176.9L647.6 190.7L648.7 190.7L648.6 176.9L648.8 166.1L648.7 155.2L648.6 144.4L648.5 133.6L648.4 119.8Z" fill="#99B208" fill-opacity="0.92"/>
<path d="M650.2 162.7L649.8 166.8L649.2 171.0L649.5 175.2L649.4 179.4L649.9 183.5L649.9 190.7L650.9 190.7L650.7 183.5L650.8 179.4L650.3 175.2L650.3 171.0L650.4 166.8L650.2 162.7Z" fill="#71AD1A" fill-opacity="0.92"/>
<path d="M651.9 130.0L651.7 139.6L650.9 149.3L651.4 158.9L651.0 168.5L651.0 178.1L650.9 190.7L652.4 190.7L652.4 178.1L652.1 168.5L652.4 158.9L652.9 149.3L652.4 139.6L652.0 130.0Z" fill="#CEB937" fill-opacity="0.92"/>
<path d="M653.7 119.8L654.1 133.6L653.7 144.4L653.7 155.2L653.8 166.1L653.7 176.9L653.9 190.7L655.1 190.7L654.9 176.9L654.4 166.1L655.0 155.2L654.7 144.4L655.0 133.6L654.8 119.8Z" fill="#35A735" fill-opacity="0.92"/>
<path d="M655.9 150.0L655.8 156.3L655.7 162.6L655.6 168.8L655.3 175.1L655.3 181.4L655.8 190.7L656.4 190.7L656.3 181.4L656.2 175.1L656.1 168.8L656.2 162.6L656.1 156.3L655.9 150.0Z" fill="#DEBB4A" fill-opacity="0.92"/>
<path d="M656.3 119.8L656.6 133.6L656.4 144.4L656.5 155.2L656.3 166.1L656.6 176.9L657.0 190.7L657.9 190.7L657.7 176.9L657.8 166.1L657.7 155.2L658.2 144.4L657.9 133.6L657.6 119.8Z" fill="#DCBB48" fill-opacity="0.92"/>
<path d="M658.1 119.8L658.2 133.6L658.6 144.4L658.3 155.2L658.3 166.1L658.2 176.9L658.4 190.7L659.2 190.7L659.4 176.9L659.8 166.1L659.3 155.2L659.4 144.4L659.6 133.6L659.2 119.8Z" fill="#E3BB51" fill-opacity="0.92"/>
<path d="M660.0 119.8L659.7 126.4L660.0 130.0L659.9 133.6L660.0 137.2L660.4 140.7L660.8 144.3L660.8 144.3L660.8 140.7L660.9 137.2L661.0 133.6L661.0 130.0L660.8 126.4L660.7 119.8Z" fill="#7CAF13" fill-opacity="0.92"/>
<path d="M661.8 119.8L662.0 133.6L662.4 144.4L662.1 155.2L662.2 166.1L662.0 176.9L661.6 190.7L663.0 190.7L663.2 176.9L663.4 166.1L663.6 155.2L663.4 144.4L663.2 133.6L662.8 119.8Z" fill="#9FB309" fill-opacity="0.92"/>
<path d="M663.6 119.8L663.2 130.9L663.4 139.1L663.6 147.2L663.9 155.3L664.1 163.5L664.0 171.6L664.0 171.6L664.4 163.5L664.4 155.3L664.5 147.2L664.5 139.1L664.1 130.9L664.2 119.8Z" fill="#A4B40B" fill-opacity="0.92"/>
<path d="M665.2 119.8L665.3 133.6L664.9 144.4L664.6 155.2L664.7 166.1L664.7 176.9L664.7 190.7L665.8 190.7L665.4 176.9L665.7 166.1L665.7 155.2L665.8 144.4L666.0 133.6L666.5 119.8Z" fill="#94B106" fill-opacity="0.92"/>
</g></g>
<path d="M536.7 119.2H665.8M536.7 191.3H665.8" fill="none" stroke="#cdcdcd" stroke-width="0.9"/>
<path d="M665.8 119.2V191.3" fill="none" stroke="#a8a8a8" stroke-width="0.8"/>
<path d="M536.7 119.2V191.3" fill="none" stroke="#c4c4c4" stroke-width="0.8"/>
<path d="M535.7 191.3H536.7" stroke="#888" stroke-width="0.4"/>
<text x="534.2" y="192.2" class="t" text-anchor="end">0.0</text>
<path d="M535.7 176.88H536.7" stroke="#888" stroke-width="0.4"/>
<text x="534.2" y="177.78" class="t" text-anchor="end">0.2</text>
<path d="M535.7 162.46H536.7" stroke="#888" stroke-width="0.4"/>
<text x="534.2" y="163.36" class="t" text-anchor="end">0.4</text>
<path d="M535.7 148.04H536.7" stroke="#888" stroke-width="0.4"/>
<text x="534.2" y="148.94" class="t" text-anchor="end">0.6</text>
<path d="M535.7 133.62H536.7" stroke="#888" stroke-width="0.4"/>
<text x="534.2" y="134.52" class="t" text-anchor="end">0.8</text>
<path d="M535.7 119.2H536.7" stroke="#888" stroke-width="0.4"/>
<text x="534.2" y="120.1" class="t" text-anchor="end">1.0</text>
<path d="M548.7 191.3V192.5" stroke="#888" stroke-width="0.4"/>
<text x="549" y="196.8" class="t" text-anchor="middle">2019</text>
<path d="M578.2 191.3V192.5" stroke="#888" stroke-width="0.4"/>
<text x="578.5" y="196.8" class="t" text-anchor="middle">2020</text>
<path d="M607.7 191.3V192.5" stroke="#888" stroke-width="0.4"/>
<text x="608" y="196.8" class="t" text-anchor="middle">2021</text>
<path d="M637.2 191.3V192.5" stroke="#888" stroke-width="0.4"/>
<text x="637.5" y="196.8" class="t" text-anchor="middle">2022</text>
<text x="601.25" y="202.4" class="l" text-anchor="middle">Date</text>
<text transform="translate(528.15,155.25) rotate(-90)" class="l" text-anchor="middle">Quantiles</text>
<text x="601.25" y="115.9" class="m" text-anchor="middle">Philippine</text>
<rect x="671.5" y="187.51" width="5.8" height="3.79" fill="#26A63A" stroke="#555" stroke-width="0.35"/>
<rect x="671.5" y="183.71" width="5.8" height="3.79" fill="#4EA92D" stroke="#555" stroke-width="0.35"/>
<rect x="671.5" y="179.92" width="5.8" height="3.79" fill="#68AC20" stroke="#555" stroke-width="0.35"/>
<rect x="671.5" y="176.12" width="5.8" height="3.79" fill="#7EAF12" stroke="#555" stroke-width="0.35"/>
<rect x="671.5" y="172.33" width="5.8" height="3.79" fill="#92B106" stroke="#555" stroke-width="0.35"/>
<rect x="671.5" y="168.53" width="5.8" height="3.79" fill="#A3B40A" stroke="#555" stroke-width="0.35"/>
<rect x="671.5" y="164.74" width="5.8" height="3.79" fill="#B4B61A" stroke="#555" stroke-width="0.35"/>
<rect x="671.5" y="160.94" width="5.8" height="3.79" fill="#C4B82B" stroke="#555" stroke-width="0.35"/>
<rect x="671.5" y="157.15" width="5.8" height="3.79" fill="#D3BA3D" stroke="#555" stroke-width="0.35"/>
<rect x="671.5" y="153.35" width="5.8" height="3.79" fill="#E1BB4E" stroke="#555" stroke-width="0.35"/>
<rect x="671.5" y="149.56" width="5.8" height="3.79" fill="#EFBD60" stroke="#555" stroke-width="0.35"/>
<rect x="671.5" y="145.76" width="5.8" height="3.79" fill="#FCBF72" stroke="#555" stroke-width="0.35"/>
<rect x="671.5" y="141.97" width="5.8" height="3.79" fill="#FFC183" stroke="#555" stroke-width="0.35"/>
<rect x="671.5" y="138.17" width="5.8" height="3.79" fill="#FFC495" stroke="#555" stroke-width="0.35"/>
<rect x="671.5" y="134.38" width="5.8" height="3.79" fill="#FFC6A7" stroke="#555" stroke-width="0.35"/>
<rect x="671.5" y="130.58" width="5.8" height="3.79" fill="#FFC9B8" stroke="#555" stroke-width="0.35"/>
<rect x="671.5" y="126.79" width="5.8" height="3.79" fill="#FFCDC9" stroke="#555" stroke-width="0.35"/>
<rect x="671.5" y="122.99" width="5.8" height="3.79" fill="#FFD2DA" stroke="#555" stroke-width="0.35"/>
<rect x="671.5" y="119.2" width="5.8" height="3.79" fill="#F1F1F1" stroke="#555" stroke-width="0.35"/>
<path d="M677.3 123.3H678.4" stroke="#888" stroke-width="0.4"/>
<text x="679.9" y="124.3" class="k">40</text>
<path d="M677.3 139.3H678.4" stroke="#888" stroke-width="0.4"/>
<text x="679.9" y="140.3" class="k">20</text>
<path d="M677.3 155H678.4" stroke="#888" stroke-width="0.4"/>
<text x="679.9" y="156" class="k">0</text>
<path d="M677.3 171.3H678.4" stroke="#888" stroke-width="0.4"/>
<text x="679.9" y="172.3" class="k">-20</text>
<path d="M677.3 187.6H678.4" stroke="#888" stroke-width="0.4"/>
<text x="679.9" y="188.6" class="k">-40</text>
<clipPath id="cSingapore"><rect x="12.3" y="231" width="129.1" height="64.71"/></clipPath>
<g clip-path="url(#cSingapore)"><g filter="url(#hb)">
<linearGradient id="gSingapore0" x1="0" y1="0" x2="0" y2="1"><stop offset="6.25%" stop-color="#BCB723"/><stop offset="18.75%" stop-color="#BCB723"/><stop offset="31.25%" stop-color="#BCB723"/><stop offset="43.75%" stop-color="#BCB723"/><stop offset="56.25%" stop-color="#BCB723"/><stop offset="68.75%" stop-color="#BCB723"/><stop offset="81.25%" stop-color="#BCB723"/><stop offset="93.75%" stop-color="#BCB723"/></linearGradient>
<rect x="9.3" y="228" width="8.02" height="70.71" fill="url(#gSingapore0)"/>
<linearGradient id="gSingapore1" x1="0" y1="0" x2="0" y2="1"><stop offset="6.25%" stop-color="#E3BB50"/><stop offset="18.75%" stop-color="#E3BB50"/><stop offset="31.25%" stop-color="#E3BB50"/><stop offset="43.75%" stop-color="#E3BB50"/><stop offset="56.25%" stop-color="#E3BB50"/><stop offset="68.75%" stop-color="#E3BB50"/><stop offset="81.25%" stop-color="#E3BB50"/><stop offset="93.75%" stop-color="#E3BB50"/></linearGradient>
<rect x="17.27" y="228" width="5.02" height="70.71" fill="url(#gSingapore1)"/>
<linearGradient id="gSingapore2" x1="0" y1="0" x2="0" y2="1"><stop offset="6.25%" stop-color="#D0BA3A"/><stop offset="18.75%" stop-color="#D0BA3A"/><stop offset="31.25%" stop-color="#D0BA3A"/><stop offset="43.75%" stop-color="#D0BA3A"/><stop offset="56.25%" stop-color="#D0BA3A"/><stop offset="68.75%" stop-color="#D5BA3F"/><stop offset="81.25%" stop-color="#DEBB4A"/><stop offset="93.75%" stop-color="#E3BB50"/></linearGradient>
<rect x="22.23" y="228" width="5.02" height="70.71" fill="url(#gSingapore2)"/>
<linearGradient id="gSingapore3" x1="0" y1="0" x2="0" y2="1"><stop offset="6.25%" stop-color="#F3BE66"/><stop offset="18.75%" stop-color="#F3BE66"/><stop offset="31.25%" stop-color="#F3BE66"/><stop offset="43.75%" stop-color="#F3BE66"/><stop offset="56.25%" stop-color="#F3BE66"/><stop offset="68.75%" stop-color="#F3BE66"/><stop offset="81.25%" stop-color="#F3BE66"/><stop offset="93.75%" stop-color="#F3BE66"/></linearGradient>
<rect x="27.2" y="228" width="5.02" height="70.71" fill="url(#gSingapore3)"/>
<linearGradient id="gSingapore4" x1="0" y1="0" x2="0" y2="1"><stop offset="6.25%" stop-color="#BCB723"/><stop offset="18.75%" stop-color="#BCB723"/><stop offset="31.25%" stop-color="#BCB723"/><stop offset="43.75%" stop-color="#BCB723"/><stop offset="56.25%" stop-color="#BCB723"/><stop offset="68.75%" stop-color="#C1B828"/><stop offset="81.25%" stop-color="#CBB934"/><stop offset="93.75%" stop-color="#D0BA3A"/></linearGradient>
<rect x="32.16" y="228" width="5.02" height="70.71" fill="url(#gSingapore4)"/>
<linearGradient id="gSingapore5" x1="0" y1="0" x2="0" y2="1"><stop offset="6.25%" stop-color="#BCB723"/><stop offset="18.75%" stop-color="#C1B828"/><stop offset="31.25%" stop-color="#CBB934"/><stop offset="43.75%" stop-color="#D5BA3F"/><stop offset="56.25%" stop-color="#DEBB4A"/><stop offset="68.75%" stop-color="#E7BC56"/><stop offset="81.25%" stop-color="#EFBD61"/><stop offset="93.75%" stop-color="#F3BE66"/></linearGradient>
<rect x="37.13" y="228" width="5.02" height="70.71" fill="url(#gSingapore5)"/>
<linearGradient id="gSingapore6" x1="0" y1="0" x2="0" y2="1"><stop offset="6.25%" stop-color="#D0BA3A"/><stop offset="18.75%" stop-color="#D0BA3A"/><stop offset="31.25%" stop-color="#D0BA3A"/><stop offset="43.75%" stop-color="#D0BA3A"/><stop offset="56.25%" stop-color="#D0BA3A"/><stop offset="68.75%" stop-color="#D5BA3F"/><stop offset="81.25%" stop-color="#DEBB4A"/><stop offset="93.75%" stop-color="#E3BB50"/></linearGradient>
<rect x="42.09" y="228" width="5.02" height="70.71" fill="url(#gSingapore6)"/>
<linearGradient id="gSingapore7" x1="0" y1="0" x2="0" y2="1"><stop offset="6.25%" stop-color="#E3BB50"/><stop offset="18.75%" stop-color="#E3BB50"/><stop offset="31.25%" stop-color="#E3BB50"/><stop offset="43.75%" stop-color="#E7BC56"/><stop offset="56.25%" stop-color="#EFBD61"/><stop offset="68.75%" stop-color="#F3BE66"/><stop offset="81.25%" stop-color="#F3BE66"/><stop offset="93.75%" stop-color="#F3BE66"/></linearGradient>
<rect x="47.06" y="228" width="5.02" height="70.71" fill="url(#gSingapore7)"/>
<linearGradient id="gSingapore8" x1="0" y1="0" x2="0" y2="1"><stop offset="6.25%" stop-color="#F3BE66"/><stop offset="18.75%" stop-color="#F7BE6C"/><stop offset="31.25%" stop-color="#FDBF76"/><stop offset="43.75%" stop-color="#FEC07B"/><stop offset="56.25%" stop-color="#FEC07B"/><stop offset="68.75%" stop-color="#FEC07B"/><stop offset="81.25%" stop-color="#FEC07B"/><stop offset="93.75%" stop-color="#FEC07B"/></linearGradient>
<rect x="52.02" y="228" width="5.02" height="70.71" fill="url(#gSingapore8)"/>
<linearGradient id="gSingapore9" x1="0" y1="0" x2="0" y2="1"><stop offset="6.25%" stop-color="#FEC07B"/><stop offset="18.75%" stop-color="#FFC180"/><stop offset="31.25%" stop-color="#FFC28B"/><stop offset="43.75%" stop-color="#FFC28B"/><stop offset="56.25%" stop-color="#FFC180"/><stop offset="68.75%" stop-color="#FFC180"/><stop offset="81.25%" stop-color="#FFC28B"/><stop offset="93.75%" stop-color="#FFC390"/></linearGradient>
<rect x="56.99" y="228" width="5.02" height="70.71" fill="url(#gSingapore9)"/>
<linearGradient id="gSingapore10" x1="0" y1="0" x2="0" y2="1"><stop offset="6.25%" stop-color="#A7B40D"/><stop offset="18.75%" stop-color="#ACB513"/><stop offset="31.25%" stop-color="#B7B61D"/><stop offset="43.75%" stop-color="#BCB723"/><stop offset="56.25%" stop-color="#BCB723"/><stop offset="68.75%" stop-color="#C6B82E"/><stop offset="81.25%" stop-color="#D9BA45"/><stop offset="93.75%" stop-color="#E3BB50"/></linearGradient>
<rect x="61.95" y="228" width="5.02" height="70.71" fill="url(#gSingapore10)"/>
<linearGradient id="gSingapore11" x1="0" y1="0" x2="0" y2="1"><stop offset="6.25%" stop-color="#E3BB50"/><stop offset="18.75%" stop-color="#DEBB4A"/><stop offset="31.25%" stop-color="#D5BA3F"/><stop offset="43.75%" stop-color="#D5BA3F"/><stop offset="56.25%" stop-color="#DEBB4A"/><stop offset="68.75%" stop-color="#E3BB50"/><stop offset="81.25%" stop-color="#E3BB50"/><stop offset="93.75%" stop-color="#E3BB50"/></linearGradient>
<rect x="66.92" y="228" width="5.02" height="70.71" fill="url(#gSingapore11)"/>
<linearGradient id="gSingapore12" x1="0" y1="0" x2="0" y2="1"><stop offset="6.25%" stop-color="#FEC07B"/><stop offset="18.75%" stop-color="#FEC07B"/><stop offset="31.25%" stop-color="#FEC07B"/><stop offset="43.75%" stop-color="#FDBF76"/><stop offset="56.25%" stop-color="#F7BE6C"/><stop offset="68.75%" stop-color="#F3BE66"/><stop offset="81.25%" stop-color="#F3BE66"/><stop offset="93.75%" stop-color="#F3BE66"/></linearGradient>
<rect x="71.88" y="228" width="5.02" height="70.71" fill="url(#gSingapore12)"/>
<linearGradient id="gSingapore13" x1="0" y1="0" x2="0" y2="1"><stop offset="6.25%" stop-color="#FEC07B"/><stop offset="18.75%" stop-color="#FEC07B"/><stop offset="31.25%" stop-color="#FEC07B"/><stop offset="43.75%" stop-color="#FDBF76"/><stop offset="56.25%" stop-color="#F7BE6C"/><stop offset="68.75%" stop-color="#F3BE66"/><stop offset="81.25%" stop-color="#F3BE66"/><stop offset="93.75%" stop-color="#F3BE66"/></linearGradient>
<rect x="76.85" y="228" width="5.02" height="70.71" fill="url(#gSingapore13)"/>
<linearGradient id="gSingapore14" x1="0" y1="0" x2="0" y2="1"><stop offset="6.25%" stop-color="#D0BA3A"/><stop offset="18.75%" stop-color="#D0BA3A"/><stop offset="31.25%" stop-color="#D0BA3A"/><stop offset="43.75%" stop-color="#D9BA45"/><stop offset="56.25%" stop-color="#EBBC5B"/><stop offset="68.75%" stop-color="#F3BE66"/><stop offset="81.25%" stop-color="#F3BE66"/><stop offset="93.75%" stop-color="#F3BE66"/></linearGradient>
<rect x="81.82" y="228" width="5.02" height="70.71" fill="url(#gSingapore14)"/>
<linearGradient id="gSingapore15" x1="0" y1="0" x2="0" y2="1"><stop offset="6.25%" stop-color="#FEC07B"/><stop offset="18.75%" stop-color="#FDBF76"/><stop offset="31.25%" stop-color="#F7BE6C"/><stop offset="43.75%" stop-color="#F3BE66"/><stop offset="56.25%" stop-color="#F3BE66"/><stop offset="68.75%" stop-color="#F3BE66"/><stop offset="81.25%" stop-color="#F3BE66"/><stop offset="93.75%" stop-color="#F3BE66"/></linearGradient>
<rect x="86.78" y="228" width="5.02" height="70.71" fill="url(#gSingapore15)"/>
<linearGradient id="gSingapore16" x1="0" y1="0" x2="0" y2="1"><stop offset="6.25%" stop-color="#BCB723"/><stop offset="18.75%" stop-color="#BCB723"/><stop offset="31.25%" stop-color="#BCB723"/><stop offset="43.75%" stop-color="#C1B828"/><stop offset="56.25%" stop-color="#CBB934"/><stop offset="68.75%" stop-color="#D0BA3A"/><stop offset="81.25%" stop-color="#D0BA3A"/><stop offset="93.75%" stop-color="#D0BA3A"/></linearGradient>
<rect x="91.75" y="228" width="5.02" height="70.71" fill="url(#gSingapore16)"/>
<linearGradient id="gSingapore17" x1="0" y1="0" x2="0" y2="1"><stop offset="6.25%" stop-color="#E3BB50"/><stop offset="18.75%" stop-color="#E3BB50"/><stop offset="31.25%" stop-color="#E3BB50"/><stop offset="43.75%" stop-color="#DEBB4A"/><stop offset="56.25%" stop-color="#D5BA3F"/><stop offset="68.75%" stop-color="#D0BA3A"/><stop offset="81.25%" stop-color="#D0BA3A"/><stop offset="93.75%" stop-color="#D0BA3A"/></linearGradient>
<rect x="96.71" y="228" width="5.02" height="70.71" fill="url(#gSingapore17)"/>
<linearGradient id="gSingapore18" x1="0" y1="0" x2="0" y2="1"><stop offset="6.25%" stop-color="#D0BA3A"/><stop offset="18.75%" stop-color="#D0BA3A"/><stop offset="31.25%" stop-color="#D0BA3A"/><stop offset="43.75%" stop-color="#D5BA3F"/><stop offset="56.25%" stop-color="#DEBB4A"/><stop offset="68.75%" stop-color="#E3BB50"/><stop offset="81.25%" stop-color="#E3BB50"/><stop offset="93.75%" stop-color="#E3BB50"/></linearGradient>
<rect x="101.68" y="228" width="5.02" height="70.71" fill="url(#gSingapore18)"/>
<linearGradient id="gSingapore19" x1="0" y1="0" x2="0" y2="1"><stop offset="6.25%" stop-color="#FEC07B"/><stop offset="18.75%" stop-color="#FDBF76"/><stop offset="31.25%" stop-color="#F7BE6C"/><stop offset="43.75%" stop-color="#EBBC5B"/><stop offset="56.25%" stop-color="#D9BA45"/><stop offset="68.75%" stop-color="#D5BA3F"/><stop offset="81.25%" stop-color="#DEBB4A"/><stop offset="93.75%" stop-color="#E3BB50"/></linearGradient>
<rect x="106.64" y="228" width="5.02" height="70.71" fill="url(#gSingapore19)"/>
<linearGradient id="gSingapore20" x1="0" y1="0" x2="0" y2="1"><stop offset="6.25%" stop-color="#BCB723"/><stop offset="18.75%" stop-color="#C1B828"/><stop offset="31.25%" stop-color="#CBB934"/><stop offset="43.75%" stop-color="#CBB934"/><stop offset="56.25%" stop-color="#C1B828"/><stop offset="68.75%" stop-color="#C1B828"/><stop offset="81.25%" stop-color="#CBB934"/><stop offset="93.75%" stop-color="#D0BA3A"/></linearGradient>
<rect x="111.61" y="228" width="5.02" height="70.71" fill="url(#gSingapore20)"/>
<linearGradient id="gSingapore21" x1="0" y1="0" x2="0" y2="1"><stop offset="6.25%" stop-color="#E3BB50"/><stop offset="18.75%" stop-color="#DEBB4A"/><stop offset="31.25%" stop-color="#D5BA3F"/><stop offset="43.75%" stop-color="#D0BA3A"/><stop offset="56.25%" stop-color="#D0BA3A"/><stop offset="68.75%" stop-color="#D0BA3A"/><stop offset="81.25%" stop-color="#D0BA3A"/><stop offset="93.75%" stop-color="#D0BA3A"/></linearGradient>
<rect x="116.57" y="228" width="5.02" height="70.71" fill="url(#gSingapore21)"/>
<linearGradient id="gSingapore22" x1="0" y1="0" x2="0" y2="1"><stop offset="6.25%" stop-color="#90B107"/><stop offset="18.75%" stop-color="#8AB00B"/><stop offset="31.25%" stop-color="#7DAF13"/><stop offset="43.75%" stop-color="#7DAF13"/><stop offset="56.25%" stop-color="#8AB00B"/><stop offset="68.75%" stop-color="#96B207"/><stop offset="81.25%" stop-color="#A1B40A"/><stop offset="93.75%" stop-color="#A7B40D"/></linearGradient>
<rect x="121.54" y="228" width="5.02" height="70.71" fill="url(#gSingapore22)"/>
<linearGradient id="gSingapore23" x1="0" y1="0" x2="0" y2="1"><stop offset="6.25%" stop-color="#A7B40D"/><stop offset="18.75%" stop-color="#A1B40A"/><stop offset="31.25%" stop-color="#96B207"/><stop offset="43.75%" stop-color="#96B207"/><stop offset="56.25%" stop-color="#A1B40A"/><stop offset="68.75%" stop-color="#ACB513"/><stop offset="81.25%" stop-color="#B7B61D"/><stop offset="93.75%" stop-color="#BCB723"/></linearGradient>
<rect x="126.5" y="228" width="5.02" height="70.71" fill="url(#gSingapore23)"/>
<linearGradient id="gSingapore24" x1="0" y1="0" x2="0" y2="1"><stop offset="6.25%" stop-color="#D0BA3A"/><stop offset="18.75%" stop-color="#CBB934"/><stop offset="31.25%" stop-color="#C1B828"/><stop offset="43.75%" stop-color="#BCB723"/><stop offset="56.25%" stop-color="#BCB723"/><stop offset="68.75%" stop-color="#BCB723"/><stop offset="81.25%" stop-color="#BCB723"/><stop offset="93.75%" stop-color="#BCB723"/></linearGradient>
<rect x="131.47" y="228" width="5.02" height="70.71" fill="url(#gSingapore24)"/>
<linearGradient id="gSingapore25" x1="0" y1="0" x2="0" y2="1"><stop offset="6.25%" stop-color="#F3BE66"/><stop offset="18.75%" stop-color="#EFBD61"/><stop offset="31.25%" stop-color="#E7BC56"/><stop offset="43.75%" stop-color="#D9BA45"/><stop offset="56.25%" stop-color="#C6B82E"/><stop offset="68.75%" stop-color="#C1B828"/><stop offset="81.25%" stop-color="#CBB934"/><stop offset="93.75%" stop-color="#D0BA3A"/></linearGradient>
<rect x="136.43" y="228" width="7.97" height="70.71" fill="url(#gSingapore25)"/>
<path d="M13.2 228.0L12.8 237.4L13.2 243.9L13.4 250.4L13.4 256.8L14.0 263.3L14.0 269.7L14.1 269.7L14.8 263.3L14.9 256.8L14.7 250.4L14.3 243.9L14.8 237.4L14.3 228.0Z" fill="#ECBD5D" fill-opacity="0.92"/>
<path d="M15.0 228.0L15.0 236.4L14.9 241.8L15.2 247.1L15.5 252.5L16.1 257.9L16.1 263.3L16.2 263.3L16.7 257.9L17.1 252.5L16.8 247.1L16.6 241.8L16.5 236.4L16.5 228.0Z" fill="#EFBD61" fill-opacity="0.92"/>
<path d="M17.1 260.4L16.8 266.3L16.1 272.1L16.5 278.0L16.2 283.9L15.9 289.8L16.4 298.7L17.5 298.7L18.2 289.8L18.0 283.9L17.9 278.0L18.1 272.1L17.6 266.3L17.2 260.4Z" fill="#FABF6F" fill-opacity="0.92"/>
<path d="M17.9 228.0L17.7 241.8L18.1 252.6L18.1 263.4L18.0 274.1L18.0 284.9L17.9 298.7L19.7 298.7L19.8 284.9L19.3 274.1L19.4 263.4L20.1 252.6L19.8 241.8L19.9 228.0Z" fill="#FDC078" fill-opacity="0.92"/>
<path d="M20.6 228.0L20.2 241.8L20.3 252.6L20.7 263.4L20.2 274.1L20.1 284.9L20.2 298.7L22.4 298.7L21.9 284.9L22.3 274.1L22.3 263.4L22.7 252.6L22.3 241.8L22.0 228.0Z" fill="#FFC181" fill-opacity="0.92"/>
<path d="M22.7 228.0L22.7 241.8L22.1 252.6L22.4 263.4L22.0 274.1L22.1 284.9L22.1 298.7L23.5 298.7L23.0 284.9L23.7 274.1L23.8 263.4L23.7 252.6L23.8 241.8L24.1 228.0Z" fill="#7BAF14" fill-opacity="0.92"/>
<path d="M24.7 228.0L25.1 241.8L25.3 252.6L25.4 263.4L25.5 274.1L25.7 284.9L25.4 298.7L27.1 298.7L27.0 284.9L26.8 274.1L26.3 263.4L26.7 252.6L26.3 241.8L26.5 228.0Z" fill="#FDBF76" fill-opacity="0.92"/>
<path d="M27.3 240.3L27.1 249.5L26.7 258.8L26.9 268.0L26.9 277.2L26.7 286.5L27.0 298.7L28.1 298.7L27.8 286.5L28.0 277.2L27.6 268.0L27.4 258.8L27.3 249.5L27.3 240.3Z" fill="#B8B61E" fill-opacity="0.92"/>
<path d="M29.2 239.5L29.1 248.9L28.5 258.3L28.7 267.6L28.2 277.0L28.7 286.3L28.4 298.7L31.3 298.7L30.5 286.3L30.5 277.0L30.1 267.6L29.7 258.3L29.9 248.9L29.4 239.5Z" fill="#FFC5A1" fill-opacity="0.92"/>
<path d="M31.0 228.0L31.1 241.8L31.0 252.6L31.1 263.4L30.8 274.1L30.7 284.9L30.6 298.7L31.7 298.7L31.3 284.9L31.8 274.1L31.9 263.4L31.9 252.6L31.8 241.8L31.6 228.0Z" fill="#B4B61A" fill-opacity="0.92"/>
<path d="M32.4 228.0L32.4 241.8L32.5 252.6L32.6 263.4L33.2 274.1L32.7 284.9L33.2 298.7L33.9 298.7L34.1 284.9L33.9 274.1L33.8 263.4L33.3 252.6L33.3 241.8L33.5 228.0Z" fill="#FEC07C" fill-opacity="0.92"/>
<path d="M34.3 237.7L33.8 247.4L33.7 257.0L33.3 266.7L33.5 276.4L33.4 286.0L33.6 298.7L34.8 298.7L34.9 286.0L34.5 276.4L34.2 266.7L34.4 257.0L34.4 247.4L34.3 237.7Z" fill="#6AAC1F" fill-opacity="0.92"/>
<path d="M36.2 228.0L35.8 241.8L35.6 252.6L35.3 263.4L35.3 274.1L35.3 284.9L35.6 298.7L36.4 298.7L36.3 284.9L36.4 274.1L36.5 263.4L36.8 252.6L37.1 241.8L37.0 228.0Z" fill="#8CB00A" fill-opacity="0.92"/>
<path d="M38.2 269.7L38.0 274.0L37.8 278.4L37.7 282.7L37.4 287.0L36.9 291.4L37.2 298.7L38.3 298.7L38.0 291.4L38.1 287.0L38.6 282.7L38.7 278.4L38.6 274.0L38.3 269.7Z" fill="#99B208" fill-opacity="0.92"/>
<path d="M38.9 228.0L39.2 241.8L39.2 252.6L39.3 263.4L39.5 274.1L39.6 284.9L39.6 298.7L40.5 298.7L40.6 284.9L40.7 274.1L40.5 263.4L40.5 252.6L39.9 241.8L39.6 228.0Z" fill="#FFC38F" fill-opacity="0.92"/>
<path d="M40.4 228.0L40.9 241.8L40.2 252.6L40.2 263.4L40.1 274.1L40.1 284.9L40.4 298.7L41.9 298.7L41.9 284.9L41.7 274.1L41.4 263.4L41.9 252.6L42.0 241.8L41.9 228.0Z" fill="#92B106" fill-opacity="0.92"/>
<path d="M42.7 228.0L42.4 241.8L42.4 252.6L42.1 263.4L41.9 274.1L41.8 284.9L41.5 298.7L42.3 298.7L42.7 284.9L42.8 274.1L43.2 263.4L43.2 252.6L43.2 241.8L43.5 228.0Z" fill="#FEC07C" fill-opacity="0.92"/>
<path d="M43.5 228.0L43.4 241.8L43.4 252.6L42.6 263.4L42.7 274.1L42.2 284.9L42.8 298.7L43.9 298.7L43.8 284.9L43.9 274.1L44.5 263.4L44.3 252.6L45.0 241.8L45.1 228.0Z" fill="#FFC286" fill-opacity="0.92"/>
<path d="M44.9 228.0L45.3 241.8L44.7 252.6L45.4 263.4L45.4 274.1L44.6 284.9L44.5 298.7L46.6 298.7L47.1 284.9L46.8 274.1L46.9 263.4L47.1 252.6L46.7 241.8L47.2 228.0Z" fill="#FCBF75" fill-opacity="0.92"/>
<path d="M47.5 228.0L47.3 241.8L47.9 252.6L47.9 263.4L48.0 274.1L47.8 284.9L48.0 298.7L48.5 298.7L48.8 284.9L48.6 274.1L49.0 263.4L48.5 252.6L48.4 241.8L48.4 228.0Z" fill="#9FB309" fill-opacity="0.92"/>
<path d="M48.5 228.0L48.6 238.6L48.5 246.3L48.6 253.9L48.6 261.6L49.1 269.2L49.6 276.8L49.7 276.8L49.6 269.2L49.7 261.6L49.4 253.9L49.9 246.3L49.6 238.6L49.4 228.0Z" fill="#FFC38F" fill-opacity="0.92"/>
<path d="M49.9 228.0L49.6 241.8L49.4 252.6L49.4 263.4L49.2 274.1L49.1 284.9L49.4 298.7L50.4 298.7L50.2 284.9L50.1 274.1L50.1 263.4L50.2 252.6L50.3 241.8L50.5 228.0Z" fill="#FFC5A1" fill-opacity="0.92"/>
<path d="M50.4 228.0L50.8 241.8L50.8 252.6L50.4 263.4L50.3 274.1L50.3 284.9L50.7 298.7L51.5 298.7L51.6 284.9L51.2 274.1L51.5 263.4L51.5 252.6L51.8 241.8L51.7 228.0Z" fill="#FFC494" fill-opacity="0.92"/>
<path d="M52.7 255.9L52.7 262.6L52.7 269.2L52.1 275.8L52.3 282.4L52.4 289.1L52.5 298.7L54.1 298.7L53.5 289.1L53.5 282.4L53.9 275.8L53.8 269.2L53.1 262.6L52.8 255.9Z" fill="#CEB937" fill-opacity="0.92"/>
<path d="M54.1 228.0L54.4 241.8L54.8 252.6L54.8 263.4L54.5 274.1L54.6 284.9L54.2 298.7L56.3 298.7L56.5 284.9L56.5 274.1L55.9 263.4L55.9 252.6L56.0 241.8L55.9 228.0Z" fill="#FFCCC6" fill-opacity="0.92"/>
<path d="M55.8 228.0L56.5 241.8L55.9 252.6L56.1 263.4L56.3 274.1L56.5 284.9L56.5 298.7L58.1 298.7L57.7 284.9L57.6 274.1L57.2 263.4L57.2 252.6L57.3 241.8L57.6 228.0Z" fill="#FFCABA" fill-opacity="0.92"/>
<path d="M57.8 228.0L57.4 241.8L57.4 252.6L57.3 263.4L57.5 274.1L57.5 284.9L57.6 298.7L58.2 298.7L58.0 284.9L58.0 274.1L58.1 263.4L58.0 252.6L58.2 241.8L58.4 228.0Z" fill="#CFB938" fill-opacity="0.92"/>
<path d="M58.7 228.0L58.4 241.8L58.5 252.6L58.4 263.4L58.2 274.1L58.1 284.9L58.1 298.7L58.7 298.7L59.2 284.9L59.4 274.1L59.4 263.4L59.4 252.6L59.4 241.8L59.4 228.0Z" fill="#D3BA3D" fill-opacity="0.92"/>
<path d="M60.5 228.0L60.3 241.8L60.6 252.6L60.2 263.4L60.2 274.1L60.6 284.9L60.4 298.7L61.5 298.7L61.5 284.9L61.2 274.1L61.2 263.4L61.2 252.6L61.2 241.8L61.4 228.0Z" fill="#FFC8B2" fill-opacity="0.92"/>
<path d="M62.6 257.1L62.4 263.5L61.9 269.9L62.3 276.4L62.3 282.8L62.7 289.3L63.2 298.7L63.8 298.7L64.0 289.3L63.6 282.8L63.1 276.4L62.8 269.9L62.7 263.5L62.6 257.1Z" fill="#B5B61B" fill-opacity="0.92"/>
<path d="M63.4 228.0L63.4 241.8L62.9 252.6L62.9 263.4L63.4 274.1L63.1 284.9L63.2 298.7L64.4 298.7L65.2 284.9L64.4 274.1L64.4 263.4L65.0 252.6L64.9 241.8L65.2 228.0Z" fill="#EABC5A" fill-opacity="0.92"/>
<path d="M64.9 228.0L65.1 234.4L65.1 237.8L65.1 241.2L65.2 244.7L65.7 248.1L65.8 251.5L65.9 251.5L66.3 248.1L66.6 244.7L66.2 241.2L66.5 237.8L66.0 234.4L66.7 228.0Z" fill="#EDBD5E" fill-opacity="0.92"/>
<path d="M66.7 228.0L66.6 237.4L66.6 243.9L66.2 250.3L66.7 256.7L67.2 263.2L67.8 269.6L67.9 269.6L67.7 263.2L67.7 256.7L68.0 250.3L68.0 243.9L68.0 237.4L68.0 228.0Z" fill="#FDC079" fill-opacity="0.92"/>
<path d="M69.5 257.0L69.3 263.4L68.8 269.9L68.5 276.3L68.4 282.8L68.4 289.2L68.7 298.7L70.9 298.7L70.8 289.2L70.3 282.8L70.1 276.3L69.9 269.9L69.9 263.4L69.6 257.0Z" fill="#FFC59C" fill-opacity="0.92"/>
<path d="M70.6 228.0L70.5 235.7L70.7 240.4L70.7 245.2L71.1 249.9L71.7 254.6L72.1 259.3L72.2 259.3L72.0 254.6L72.0 249.9L71.9 245.2L71.5 240.4L71.8 235.7L71.7 228.0Z" fill="#FFC28B" fill-opacity="0.92"/>
<path d="M72.4 228.0L72.8 241.8L72.6 252.6L72.7 263.4L72.7 274.1L72.6 284.9L73.0 298.7L73.5 298.7L73.4 284.9L73.4 274.1L73.2 263.4L73.3 252.6L73.3 241.8L73.1 228.0Z" fill="#C5B82C" fill-opacity="0.92"/>
<path d="M73.8 228.0L73.7 240.7L73.4 250.4L73.6 260.1L73.9 269.8L74.1 279.5L74.4 289.2L74.4 289.2L74.5 279.5L74.8 269.8L74.5 260.1L74.7 250.4L74.8 240.7L74.8 228.0Z" fill="#FFC59D" fill-opacity="0.92"/>
<path d="M75.5 244.4L75.5 252.9L74.8 261.5L74.8 270.0L75.5 278.6L75.6 287.1L75.3 298.7L77.2 298.7L77.2 287.1L76.9 278.6L77.3 270.0L77.0 261.5L76.1 252.9L75.6 244.4Z" fill="#FFC8B2" fill-opacity="0.92"/>
<path d="M77.6 273.2L77.5 277.0L77.1 280.7L77.0 284.5L77.2 288.2L77.4 292.0L77.9 298.7L78.6 298.7L78.5 292.0L78.0 288.2L77.8 284.5L77.7 280.7L78.0 277.0L77.7 273.2Z" fill="#FFC6A9" fill-opacity="0.92"/>
<path d="M79.9 251.0L79.2 258.4L78.7 265.9L78.4 273.3L79.0 280.8L78.7 288.2L78.4 298.7L80.1 298.7L80.1 288.2L80.4 280.8L80.8 273.3L80.8 265.9L80.1 258.4L79.9 251.0Z" fill="#B5B61B" fill-opacity="0.92"/>
<path d="M81.5 259.9L81.5 265.9L81.6 271.9L81.4 277.8L81.5 283.8L81.6 289.7L81.1 298.7L82.2 298.7L82.4 289.7L82.6 283.8L82.6 277.8L82.5 271.9L82.0 265.9L81.6 259.9Z" fill="#FFC8B1" fill-opacity="0.92"/>
<path d="M83.3 272.7L82.9 276.6L82.8 280.4L82.4 284.2L82.0 288.1L81.7 291.9L81.9 298.7L83.9 298.7L84.1 291.9L84.1 288.1L83.9 284.2L83.8 280.4L83.4 276.6L83.4 272.7Z" fill="#FFC9B8" fill-opacity="0.92"/>
<path d="M85.4 261.4L85.2 267.1L85.0 272.8L84.7 278.5L85.3 284.3L85.2 290.0L85.3 298.7L87.1 298.7L87.2 290.0L86.7 284.3L87.1 278.5L86.4 272.8L85.8 267.1L85.5 261.4Z" fill="#FFC59E" fill-opacity="0.92"/>
<path d="M86.5 228.0L86.0 241.8L86.5 252.6L85.8 263.4L86.1 274.1L86.6 284.9L86.5 298.7L88.5 298.7L88.9 284.9L88.7 274.1L88.3 263.4L88.0 252.6L87.9 241.8L87.9 228.0Z" fill="#FFC8B1" fill-opacity="0.92"/>
<path d="M88.9 244.3L89.1 252.9L89.1 261.4L88.8 270.0L88.2 278.6L88.6 287.1L88.4 298.7L89.6 298.7L89.6 287.1L89.6 278.6L89.7 270.0L90.1 261.4L89.4 252.9L89.0 244.3Z" fill="#B8B71E" fill-opacity="0.92"/>
<path d="M90.6 228.0L90.2 241.8L90.8 252.6L90.4 263.4L90.8 274.1L90.8 284.9L91.0 298.7L91.7 298.7L92.1 284.9L91.6 274.1L91.4 263.4L91.5 252.6L91.8 241.8L91.5 228.0Z" fill="#8CB009" fill-opacity="0.92"/>
<path d="M92.7 243.7L92.0 252.3L91.4 261.0L91.3 269.7L91.3 278.4L91.9 287.0L91.5 298.7L92.8 298.7L92.8 287.0L92.9 278.4L93.2 269.7L92.9 261.0L92.7 252.3L92.7 243.7Z" fill="#FFC59C" fill-opacity="0.92"/>
<path d="M93.7 228.0L93.9 235.3L94.6 239.6L94.7 243.9L94.6 248.2L95.3 252.5L95.8 256.8L95.9 256.8L95.8 252.5L96.1 248.2L96.1 243.9L96.1 239.6L96.2 235.3L95.9 228.0Z" fill="#ECBD5C" fill-opacity="0.92"/>
<path d="M96.6 228.0L96.8 241.8L96.5 252.6L96.7 263.4L96.7 274.1L96.7 284.9L96.9 298.7L97.7 298.7L97.4 284.9L97.5 274.1L97.8 263.4L97.5 252.6L97.7 241.8L97.2 228.0Z" fill="#72AD19" fill-opacity="0.92"/>
<path d="M97.4 228.0L97.4 241.8L97.8 252.6L97.9 263.4L97.9 274.1L97.7 284.9L97.9 298.7L99.6 298.7L99.3 284.9L99.4 274.1L99.1 263.4L98.9 252.6L98.8 241.8L99.3 228.0Z" fill="#75AE18" fill-opacity="0.92"/>
<path d="M99.8 228.0L99.5 241.8L99.5 252.6L99.4 263.4L99.7 274.1L99.6 284.9L99.9 298.7L100.7 298.7L100.6 284.9L100.4 274.1L100.4 263.4L100.1 252.6L100.4 241.8L100.3 228.0Z" fill="#FFC28B" fill-opacity="0.92"/>
<path d="M101.0 228.0L101.1 241.8L101.7 252.6L101.5 263.4L101.3 274.1L101.1 284.9L101.2 298.7L102.9 298.7L102.8 284.9L102.7 274.1L102.8 263.4L102.8 252.6L102.9 241.8L102.3 228.0Z" fill="#8EB109" fill-opacity="0.92"/>
<path d="M103.2 228.0L103.3 241.8L103.3 252.6L103.4 263.4L103.4 274.1L103.2 284.9L102.9 298.7L103.5 298.7L103.9 284.9L104.1 274.1L104.3 263.4L103.9 252.6L104.0 241.8L104.5 228.0Z" fill="#FEC17F" fill-opacity="0.92"/>
<path d="M104.8 228.0L104.9 241.8L105.2 252.6L105.3 263.4L105.3 274.1L104.7 284.9L104.5 298.7L106.5 298.7L106.9 284.9L106.8 274.1L106.2 263.4L106.4 252.6L107.1 241.8L106.6 228.0Z" fill="#FDC077" fill-opacity="0.92"/>
<path d="M106.1 228.0L106.5 238.2L106.9 245.4L106.8 252.6L107.0 259.8L107.2 267.0L107.3 274.2L107.3 274.2L108.1 267.0L108.4 259.8L108.5 252.6L108.1 245.4L108.6 238.2L108.6 228.0Z" fill="#FFC5A0" fill-opacity="0.92"/>
<path d="M109.7 269.9L109.4 274.2L109.3 278.5L109.0 282.8L109.0 287.1L109.0 291.4L109.5 298.7L110.1 298.7L109.9 291.4L110.2 287.1L109.9 282.8L110.2 278.5L109.6 274.2L109.7 269.9Z" fill="#ADB514" fill-opacity="0.92"/>
<path d="M110.4 228.0L110.4 241.8L110.8 252.6L110.7 263.4L111.2 274.1L111.5 284.9L111.5 298.7L113.1 298.7L112.7 284.9L112.5 274.1L112.4 263.4L112.5 252.6L112.3 241.8L112.3 228.0Z" fill="#80AF11" fill-opacity="0.92"/>
<path d="M112.9 228.0L113.1 241.8L112.7 252.6L113.1 263.4L112.6 274.1L112.4 284.9L112.5 298.7L113.9 298.7L114.1 284.9L114.6 274.1L114.7 263.4L114.5 252.6L114.3 241.8L114.9 228.0Z" fill="#84B00F" fill-opacity="0.92"/>
<path d="M115.3 254.6L115.4 261.4L115.5 268.3L115.0 275.2L115.6 282.0L114.9 288.9L114.8 298.7L115.8 298.7L116.3 288.9L116.4 282.0L116.3 275.2L116.2 268.3L115.7 261.4L115.3 254.6Z" fill="#F0BD61" fill-opacity="0.92"/>
<path d="M116.9 243.0L116.6 251.8L116.2 260.5L116.4 269.3L116.7 278.1L116.6 286.9L116.1 298.7L117.9 298.7L117.7 286.9L117.5 278.1L117.6 269.3L117.6 260.5L117.3 251.8L116.9 243.0Z" fill="#FEC17F" fill-opacity="0.92"/>
<path d="M117.6 228.0L117.7 235.5L117.8 239.9L118.1 244.4L118.0 248.9L118.2 253.4L118.5 257.8L118.5 257.8L118.9 253.4L119.1 248.9L119.3 244.4L119.2 239.9L119.1 235.5L119.0 228.0Z" fill="#FFC289" fill-opacity="0.92"/>
<path d="M119.3 228.0L119.2 241.8L119.1 252.6L118.8 263.4L118.8 274.1L119.1 284.9L119.1 298.7L120.4 298.7L119.8 284.9L119.8 274.1L120.1 263.4L120.2 252.6L120.1 241.8L120.6 228.0Z" fill="#8DB109" fill-opacity="0.92"/>
<path d="M121.1 228.0L121.1 241.8L121.7 252.6L121.8 263.4L121.6 274.1L121.4 284.9L121.5 298.7L123.4 298.7L122.8 284.9L123.1 274.1L122.7 263.4L122.7 252.6L123.0 241.8L122.6 228.0Z" fill="#E8BC57" fill-opacity="0.92"/>
<path d="M123.2 228.0L123.4 241.8L123.7 252.6L123.6 263.4L123.6 274.1L123.6 284.9L123.8 298.7L124.4 298.7L124.6 284.9L124.2 274.1L124.6 263.4L124.7 252.6L124.5 241.8L124.3 228.0Z" fill="#26A63A" fill-opacity="0.92"/>
<path d="M124.8 228.0L124.8 236.7L124.6 242.5L124.4 248.2L124.4 254.0L124.7 259.8L124.5 265.5L124.5 265.5L125.0 259.8L124.8 254.0L125.1 248.2L125.5 242.5L125.7 236.7L125.8 228.0Z" fill="#C4B82C" fill-opacity="0.92"/>
<path d="M125.8 228.0L126.1 241.8L126.0 252.6L125.7 263.4L126.1 274.1L125.5 284.9L125.1 298.7L126.9 298.7L127.1 284.9L127.2 274.1L127.5 263.4L127.4 252.6L127.2 241.8L127.2 228.0Z" fill="#26A63A" fill-opacity="0.92"/>
<path d="M127.6 228.0L128.0 241.8L128.1 252.6L127.9 263.4L128.1 274.1L128.3 284.9L128.2 298.7L130.2 298.7L129.6 284.9L129.3 274.1L129.8 263.4L130.4 252.6L130.0 241.8L129.7 228.0Z" fill="#D6BA40" fill-opacity="0.92"/>
<path d="M130.2 228.0L130.2 238.7L130.0 246.4L129.9 254.1L130.2 261.7L130.4 269.4L130.9 277.1L131.0 277.1L130.9 269.4L131.6 261.7L131.3 254.1L131.9 246.4L131.6 238.7L131.6 228.0Z" fill="#29A639" fill-opacity="0.92"/>
<path d="M132.5 269.4L132.4 273.8L132.1 278.2L131.9 282.6L132.5 286.9L132.3 291.3L132.3 298.7L133.0 298.7L133.6 291.3L133.2 286.9L133.4 282.6L133.0 278.2L132.7 273.8L132.6 269.4Z" fill="#54AA2A" fill-opacity="0.92"/>
<path d="M134.2 228.0L134.1 240.4L134.1 249.9L134.2 259.4L134.5 268.8L135.1 278.3L135.6 287.7L135.6 287.7L135.5 278.3L135.4 268.8L135.2 259.4L135.0 249.9L135.4 240.4L135.6 228.0Z" fill="#87B00D" fill-opacity="0.92"/>
<path d="M136.0 228.0L136.0 238.9L136.6 246.9L136.2 254.8L136.5 262.8L136.2 270.7L136.4 278.6L136.5 278.6L136.6 270.7L137.0 262.8L137.0 254.8L137.1 246.9L137.0 238.9L136.6 228.0Z" fill="#FCBF75" fill-opacity="0.92"/>
<path d="M137.5 228.0L137.0 241.8L137.2 252.6L137.3 263.4L137.4 274.1L137.7 284.9L137.5 298.7L138.8 298.7L139.2 284.9L138.9 274.1L139.0 263.4L138.9 252.6L138.4 241.8L138.4 228.0Z" fill="#9DB309" fill-opacity="0.92"/>
<path d="M139.3 228.0L139.5 241.8L139.2 252.6L138.9 263.4L138.8 274.1L138.9 284.9L138.6 298.7L140.0 298.7L139.9 284.9L140.4 274.1L140.0 263.4L140.3 252.6L140.7 241.8L141.1 228.0Z" fill="#FFC184" fill-opacity="0.92"/>
<path d="M141.9 255.4L141.6 262.1L141.3 268.8L141.2 275.5L141.0 282.3L140.5 289.0L140.5 298.7L141.2 298.7L141.8 289.0L141.7 282.3L141.9 275.5L141.9 268.8L142.2 262.1L141.9 255.4Z" fill="#72AD1A" fill-opacity="0.92"/>
</g></g>
<path d="M12.3 227.4H141.4M12.3 299.3H141.4" fill="none" stroke="#cdcdcd" stroke-width="0.9"/>
<path d="M141.4 227.4V299.3" fill="none" stroke="#a8a8a8" stroke-width="0.8"/>
<path d="M12.3 227.4V299.3" fill="none" stroke="#9a9a9a" stroke-width="0.8"/>
<path d="M11.3 299.3H12.3" stroke="#888" stroke-width="0.4"/>
<text x="9.8" y="300.2" class="t" text-anchor="end">0.0</text>
<path d="M11.3 284.92H12.3" stroke="#888" stroke-width="0.4"/>
<text x="9.8" y="285.82" class="t" text-anchor="end">0.2</text>
<path d="M11.3 270.54H12.3" stroke="#888" stroke-width="0.4"/>
<text x="9.8" y="271.44" class="t" text-anchor="end">0.4</text>
<path d="M11.3 256.16H12.3" stroke="#888" stroke-width="0.4"/>
<text x="9.8" y="257.06" class="t" text-anchor="end">0.6</text>
<path d="M11.3 241.78H12.3" stroke="#888" stroke-width="0.4"/>
<text x="9.8" y="242.68" class="t" text-anchor="end">0.8</text>
<path d="M11.3 227.4H12.3" stroke="#888" stroke-width="0.4"/>
<text x="9.8" y="228.3" class="t" text-anchor="end">1.0</text>
<path d="M24.3 299.3V300.5" stroke="#888" stroke-width="0.4"/>
<text x="24.6" y="304.8" class="t" text-anchor="middle">2019</text>
<path d="M53.8 299.3V300.5" stroke="#888" stroke-width="0.4"/>
<text x="54.1" y="304.8" class="t" text-anchor="middle">2020</text>
<path d="M83.3 299.3V300.5" stroke="#888" stroke-width="0.4"/>
<text x="83.6" y="304.8" class="t" text-anchor="middle">2021</text>
<path d="M112.8 299.3V300.5" stroke="#888" stroke-width="0.4"/>
<text x="113.1" y="304.8" class="t" text-anchor="middle">2022</text>
<text x="76.85" y="310.4" class="l" text-anchor="middle">Date</text>
<text transform="translate(3.75,263.35) rotate(-90)" class="l" text-anchor="middle">Quantiles</text>
<text x="76.85" y="223.9" class="m" text-anchor="middle">Singapore</text>
<rect x="147.1" y="295.52" width="5.8" height="3.78" fill="#26A63A" stroke="#555" stroke-width="0.35"/>
<rect x="147.1" y="291.73" width="5.8" height="3.78" fill="#4EA92D" stroke="#555" stroke-width="0.35"/>
<rect x="147.1" y="287.95" width="5.8" height="3.78" fill="#68AC20" stroke="#555" stroke-width="0.35"/>
<rect x="147.1" y="284.16" width="5.8" height="3.78" fill="#7EAF12" stroke="#555" stroke-width="0.35"/>
<rect x="147.1" y="280.38" width="5.8" height="3.78" fill="#92B106" stroke="#555" stroke-width="0.35"/>
<rect x="147.1" y="276.59" width="5.8" height="3.78" fill="#A3B40A" stroke="#555" stroke-width="0.35"/>
<rect x="147.1" y="272.81" width="5.8" height="3.78" fill="#B4B61A" stroke="#555" stroke-width="0.35"/>
<rect x="147.1" y="269.03" width="5.8" height="3.78" fill="#C4B82B" stroke="#555" stroke-width="0.35"/>
<rect x="147.1" y="265.24" width="5.8" height="3.78" fill="#D3BA3D" stroke="#555" stroke-width="0.35"/>
<rect x="147.1" y="261.46" width="5.8" height="3.78" fill="#E1BB4E" stroke="#555" stroke-width="0.35"/>
<rect x="147.1" y="257.67" width="5.8" height="3.78" fill="#EFBD60" stroke="#555" stroke-width="0.35"/>
<rect x="147.1" y="253.89" width="5.8" height="3.78" fill="#FCBF72" stroke="#555" stroke-width="0.35"/>
<rect x="147.1" y="250.11" width="5.8" height="3.78" fill="#FFC183" stroke="#555" stroke-width="0.35"/>
<rect x="147.1" y="246.32" width="5.8" height="3.78" fill="#FFC495" stroke="#555" stroke-width="0.35"/>
<rect x="147.1" y="242.54" width="5.8" height="3.78" fill="#FFC6A7" stroke="#555" stroke-width="0.35"/>
<rect x="147.1" y="238.75" width="5.8" height="3.78" fill="#FFC9B8" stroke="#555" stroke-width="0.35"/>
<rect x="147.1" y="234.97" width="5.8" height="3.78" fill="#FFCDC9" stroke="#555" stroke-width="0.35"/>
<rect x="147.1" y="231.18" width="5.8" height="3.78" fill="#FFD2DA" stroke="#555" stroke-width="0.35"/>
<rect x="147.1" y="227.4" width="5.8" height="3.78" fill="#F1F1F1" stroke="#555" stroke-width="0.35"/>
<path d="M152.9 233.2H154" stroke="#888" stroke-width="0.4"/>
<text x="155.5" y="234.2" class="k">40</text>
<path d="M152.9 248.1H154" stroke="#888" stroke-width="0.4"/>
<text x="155.5" y="249.1" class="k">20</text>
<path d="M152.9 263H154" stroke="#888" stroke-width="0.4"/>
<text x="155.5" y="264" class="k">0</text>
<path d="M152.9 278.4H154" stroke="#888" stroke-width="0.4"/>
<text x="155.5" y="279.4" class="k">-20</text>
<path d="M152.9 293.4H154" stroke="#888" stroke-width="0.4"/>
<text x="155.5" y="294.4" class="k">-40</text>
<clipPath id="cThailand"><rect x="187.3" y="231" width="129.1" height="64.71"/></clipPath>
<g clip-path="url(#cThailand)"><g filter="url(#hb)">
<linearGradient id="gThailand0" x1="0" y1="0" x2="0" y2="1"><stop offset="6.25%" stop-color="#E3BB51"/><stop offset="18.75%" stop-color="#E3BB51"/><stop offset="31.25%" stop-color="#E3BB51"/><stop offset="43.75%" stop-color="#DBBB46"/><stop offset="56.25%" stop-color="#C9B931"/><stop offset="68.75%" stop-color="#C0B727"/><stop offset="81.25%" stop-color="#C0B727"/><stop offset="93.75%" stop-color="#C0B727"/></linearGradient>
<rect x="184.3" y="228" width="8.02" height="70.71" fill="url(#gThailand0)"/>
<linearGradient id="gThailand1" x1="0" y1="0" x2="0" y2="1"><stop offset="6.25%" stop-color="#FEC07B"/><stop offset="18.75%" stop-color="#FEC07B"/><stop offset="31.25%" stop-color="#FEC07B"/><stop offset="43.75%" stop-color="#FDBF76"/><stop offset="56.25%" stop-color="#F7BE6C"/><stop offset="68.75%" stop-color="#F3BE66"/><stop offset="81.25%" stop-color="#F3BE66"/><stop offset="93.75%" stop-color="#F3BE66"/></linearGradient>
<rect x="192.27" y="228" width="5.02" height="70.71" fill="url(#gThailand1)"/>
<linearGradient id="gThailand2" x1="0" y1="0" x2="0" y2="1"><stop offset="6.25%" stop-color="#D2BA3C"/><stop offset="18.75%" stop-color="#D2BA3C"/><stop offset="31.25%" stop-color="#D2BA3C"/><stop offset="43.75%" stop-color="#D2BA3C"/><stop offset="56.25%" stop-color="#D2BA3C"/><stop offset="68.75%" stop-color="#D2BA3C"/><stop offset="81.25%" stop-color="#D2BA3C"/><stop offset="93.75%" stop-color="#D2BA3C"/></linearGradient>
<rect x="197.23" y="228" width="5.02" height="70.71" fill="url(#gThailand2)"/>
<linearGradient id="gThailand3" x1="0" y1="0" x2="0" y2="1"><stop offset="6.25%" stop-color="#ACB513"/><stop offset="18.75%" stop-color="#B1B617"/><stop offset="31.25%" stop-color="#BBB721"/><stop offset="43.75%" stop-color="#C9B931"/><stop offset="56.25%" stop-color="#DBBB46"/><stop offset="68.75%" stop-color="#E3BB51"/><stop offset="81.25%" stop-color="#E3BB51"/><stop offset="93.75%" stop-color="#E3BB51"/></linearGradient>
<rect x="202.2" y="228" width="5.02" height="70.71" fill="url(#gThailand3)"/>
<linearGradient id="gThailand4" x1="0" y1="0" x2="0" y2="1"><stop offset="6.25%" stop-color="#D2BA3C"/><stop offset="18.75%" stop-color="#D2BA3C"/><stop offset="31.25%" stop-color="#D2BA3C"/><stop offset="43.75%" stop-color="#CEB937"/><stop offset="56.25%" stop-color="#C5B82C"/><stop offset="68.75%" stop-color="#C5B82C"/><stop offset="81.25%" stop-color="#CEB937"/><stop offset="93.75%" stop-color="#D2BA3C"/></linearGradient>
<rect x="207.16" y="228" width="5.02" height="70.71" fill="url(#gThailand4)"/>
<linearGradient id="gThailand5" x1="0" y1="0" x2="0" y2="1"><stop offset="6.25%" stop-color="#F3BE66"/><stop offset="18.75%" stop-color="#F3BE66"/><stop offset="31.25%" stop-color="#F3BE66"/><stop offset="43.75%" stop-color="#F0BD61"/><stop offset="56.25%" stop-color="#E7BC56"/><stop offset="68.75%" stop-color="#DFBB4B"/><stop offset="81.25%" stop-color="#D6BA41"/><stop offset="93.75%" stop-color="#D2BA3C"/></linearGradient>
<rect x="212.13" y="228" width="5.02" height="70.71" fill="url(#gThailand5)"/>
<linearGradient id="gThailand6" x1="0" y1="0" x2="0" y2="1"><stop offset="6.25%" stop-color="#C0B727"/><stop offset="18.75%" stop-color="#C5B82C"/><stop offset="31.25%" stop-color="#CEB937"/><stop offset="43.75%" stop-color="#DBBB46"/><stop offset="56.25%" stop-color="#EBBC5B"/><stop offset="68.75%" stop-color="#F3BE66"/><stop offset="81.25%" stop-color="#F3BE66"/><stop offset="93.75%" stop-color="#F3BE66"/></linearGradient>
<rect x="217.09" y="228" width="5.02" height="70.71" fill="url(#gThailand6)"/>
<linearGradient id="gThailand7" x1="0" y1="0" x2="0" y2="1"><stop offset="6.25%" stop-color="#F3BE66"/><stop offset="18.75%" stop-color="#F3BE66"/><stop offset="31.25%" stop-color="#F3BE66"/><stop offset="43.75%" stop-color="#F7BE6C"/><stop offset="56.25%" stop-color="#FDBF76"/><stop offset="68.75%" stop-color="#FEC07B"/><stop offset="81.25%" stop-color="#FEC07B"/><stop offset="93.75%" stop-color="#FEC07B"/></linearGradient>
<rect x="222.06" y="228" width="5.02" height="70.71" fill="url(#gThailand7)"/>
<linearGradient id="gThailand8" x1="0" y1="0" x2="0" y2="1"><stop offset="6.25%" stop-color="#D2BA3C"/><stop offset="18.75%" stop-color="#D6BA41"/><stop offset="31.25%" stop-color="#DFBB4B"/><stop offset="43.75%" stop-color="#EBBC5B"/><stop offset="56.25%" stop-color="#FBBF71"/><stop offset="68.75%" stop-color="#FEC07B"/><stop offset="81.25%" stop-color="#FEC07B"/><stop offset="93.75%" stop-color="#FEC07B"/></linearGradient>
<rect x="227.02" y="228" width="5.02" height="70.71" fill="url(#gThailand8)"/>
<linearGradient id="gThailand9" x1="0" y1="0" x2="0" y2="1"><stop offset="6.25%" stop-color="#FFC390"/><stop offset="18.75%" stop-color="#FFC390"/><stop offset="31.25%" stop-color="#FFC390"/><stop offset="43.75%" stop-color="#FFC28B"/><stop offset="56.25%" stop-color="#FFC180"/><stop offset="68.75%" stop-color="#FDBF76"/><stop offset="81.25%" stop-color="#F7BE6C"/><stop offset="93.75%" stop-color="#F3BE66"/></linearGradient>
<rect x="231.99" y="228" width="5.02" height="70.71" fill="url(#gThailand9)"/>
<linearGradient id="gThailand10" x1="0" y1="0" x2="0" y2="1"><stop offset="6.25%" stop-color="#F3BE66"/><stop offset="18.75%" stop-color="#F7BE6C"/><stop offset="31.25%" stop-color="#FDBF76"/><stop offset="43.75%" stop-color="#FBBF71"/><stop offset="56.25%" stop-color="#EBBC5B"/><stop offset="68.75%" stop-color="#E3BB51"/><stop offset="81.25%" stop-color="#E3BB51"/><stop offset="93.75%" stop-color="#E3BB51"/></linearGradient>
<rect x="236.95" y="228" width="5.02" height="70.71" fill="url(#gThailand10)"/>
<linearGradient id="gThailand11" x1="0" y1="0" x2="0" y2="1"><stop offset="6.25%" stop-color="#E3BB51"/><stop offset="18.75%" stop-color="#E7BC56"/><stop offset="31.25%" stop-color="#F0BD61"/><stop offset="43.75%" stop-color="#F3BE66"/><stop offset="56.25%" stop-color="#F3BE66"/><stop offset="68.75%" stop-color="#F3BE66"/><stop offset="81.25%" stop-color="#F3BE66"/><stop offset="93.75%" stop-color="#F3BE66"/></linearGradient>
<rect x="241.92" y="228" width="5.02" height="70.71" fill="url(#gThailand11)"/>
<linearGradient id="gThailand12" x1="0" y1="0" x2="0" y2="1"><stop offset="6.25%" stop-color="#FEC07B"/><stop offset="18.75%" stop-color="#FEC07B"/><stop offset="31.25%" stop-color="#FEC07B"/><stop offset="43.75%" stop-color="#FDBF76"/><stop offset="56.25%" stop-color="#F7BE6C"/><stop offset="68.75%" stop-color="#F3BE66"/><stop offset="81.25%" stop-color="#F3BE66"/><stop offset="93.75%" stop-color="#F3BE66"/></linearGradient>
<rect x="246.88" y="228" width="5.02" height="70.71" fill="url(#gThailand12)"/>
<linearGradient id="gThailand13" x1="0" y1="0" x2="0" y2="1"><stop offset="6.25%" stop-color="#FEC07B"/><stop offset="18.75%" stop-color="#FEC07B"/><stop offset="31.25%" stop-color="#FEC07B"/><stop offset="43.75%" stop-color="#FDBF76"/><stop offset="56.25%" stop-color="#F7BE6C"/><stop offset="68.75%" stop-color="#F3BE66"/><stop offset="81.25%" stop-color="#F3BE66"/><stop offset="93.75%" stop-color="#F3BE66"/></linearGradient>
<rect x="251.85" y="228" width="5.02" height="70.71" fill="url(#gThailand13)"/>
<linearGradient id="gThailand14" x1="0" y1="0" x2="0" y2="1"><stop offset="6.25%" stop-color="#C0B727"/><stop offset="18.75%" stop-color="#C0B727"/><stop offset="31.25%" stop-color="#C0B727"/><stop offset="43.75%" stop-color="#C5B82C"/><stop offset="56.25%" stop-color="#CEB937"/><stop offset="68.75%" stop-color="#D2BA3C"/><stop offset="81.25%" stop-color="#D2BA3C"/><stop offset="93.75%" stop-color="#D2BA3C"/></linearGradient>
<rect x="256.82" y="228" width="5.02" height="70.71" fill="url(#gThailand14)"/>
<linearGradient id="gThailand15" x1="0" y1="0" x2="0" y2="1"><stop offset="6.25%" stop-color="#E3BB51"/><stop offset="18.75%" stop-color="#E3BB51"/><stop offset="31.25%" stop-color="#E3BB51"/><stop offset="43.75%" stop-color="#E3BB51"/><stop offset="56.25%" stop-color="#E3BB51"/><stop offset="68.75%" stop-color="#E3BB51"/><stop offset="81.25%" stop-color="#E3BB51"/><stop offset="93.75%" stop-color="#E3BB51"/></linearGradient>
<rect x="261.78" y="228" width="5.02" height="70.71" fill="url(#gThailand15)"/>
<linearGradient id="gThailand16" x1="0" y1="0" x2="0" y2="1"><stop offset="6.25%" stop-color="#D2BA3C"/><stop offset="18.75%" stop-color="#CEB937"/><stop offset="31.25%" stop-color="#C5B82C"/><stop offset="43.75%" stop-color="#BBB721"/><stop offset="56.25%" stop-color="#B1B617"/><stop offset="68.75%" stop-color="#ACB513"/><stop offset="81.25%" stop-color="#ACB513"/><stop offset="93.75%" stop-color="#ACB513"/></linearGradient>
<rect x="266.75" y="228" width="5.02" height="70.71" fill="url(#gThailand16)"/>
<linearGradient id="gThailand17" x1="0" y1="0" x2="0" y2="1"><stop offset="6.25%" stop-color="#F3BE66"/><stop offset="18.75%" stop-color="#F3BE66"/><stop offset="31.25%" stop-color="#F3BE66"/><stop offset="43.75%" stop-color="#F3BE66"/><stop offset="56.25%" stop-color="#F3BE66"/><stop offset="68.75%" stop-color="#F3BE66"/><stop offset="81.25%" stop-color="#F3BE66"/><stop offset="93.75%" stop-color="#F3BE66"/></linearGradient>
<rect x="271.71" y="228" width="5.02" height="70.71" fill="url(#gThailand17)"/>
<linearGradient id="gThailand18" x1="0" y1="0" x2="0" y2="1"><stop offset="6.25%" stop-color="#ACB513"/><stop offset="18.75%" stop-color="#B1B617"/><stop offset="31.25%" stop-color="#BBB721"/><stop offset="43.75%" stop-color="#C5B82C"/><stop offset="56.25%" stop-color="#CEB937"/><stop offset="68.75%" stop-color="#D2BA3C"/><stop offset="81.25%" stop-color="#D2BA3C"/><stop offset="93.75%" stop-color="#D2BA3C"/></linearGradient>
<rect x="276.68" y="228" width="5.02" height="70.71" fill="url(#gThailand18)"/>
<linearGradient id="gThailand19" x1="0" y1="0" x2="0" y2="1"><stop offset="6.25%" stop-color="#E3BB51"/><stop offset="18.75%" stop-color="#E3BB51"/><stop offset="31.25%" stop-color="#E3BB51"/><stop offset="43.75%" stop-color="#E7BC56"/><stop offset="56.25%" stop-color="#F0BD61"/><stop offset="68.75%" stop-color="#F3BE66"/><stop offset="81.25%" stop-color="#F3BE66"/><stop offset="93.75%" stop-color="#F3BE66"/></linearGradient>
<rect x="281.64" y="228" width="5.02" height="70.71" fill="url(#gThailand19)"/>
<linearGradient id="gThailand20" x1="0" y1="0" x2="0" y2="1"><stop offset="6.25%" stop-color="#FEC07B"/><stop offset="18.75%" stop-color="#FEC07B"/><stop offset="31.25%" stop-color="#FEC07B"/><stop offset="43.75%" stop-color="#F3BE66"/><stop offset="56.25%" stop-color="#D2BA3C"/><stop offset="68.75%" stop-color="#C0B727"/><stop offset="81.25%" stop-color="#C0B727"/><stop offset="93.75%" stop-color="#C0B727"/></linearGradient>
<rect x="286.61" y="228" width="5.02" height="70.71" fill="url(#gThailand20)"/>
<linearGradient id="gThailand21" x1="0" y1="0" x2="0" y2="1"><stop offset="6.25%" stop-color="#C0B727"/><stop offset="18.75%" stop-color="#C5B82C"/><stop offset="31.25%" stop-color="#CEB937"/><stop offset="43.75%" stop-color="#D6BA41"/><stop offset="56.25%" stop-color="#DFBB4B"/><stop offset="68.75%" stop-color="#E3BB51"/><stop offset="81.25%" stop-color="#E3BB51"/><stop offset="93.75%" stop-color="#E3BB51"/></linearGradient>
<rect x="291.57" y="228" width="5.02" height="70.71" fill="url(#gThailand21)"/>
<linearGradient id="gThailand22" x1="0" y1="0" x2="0" y2="1"><stop offset="6.25%" stop-color="#D2BA3C"/><stop offset="18.75%" stop-color="#D2BA3C"/><stop offset="31.25%" stop-color="#D2BA3C"/><stop offset="43.75%" stop-color="#D6BA41"/><stop offset="56.25%" stop-color="#DFBB4B"/><stop offset="68.75%" stop-color="#E3BB51"/><stop offset="81.25%" stop-color="#E3BB51"/><stop offset="93.75%" stop-color="#E3BB51"/></linearGradient>
<rect x="296.54" y="228" width="5.02" height="70.71" fill="url(#gThailand22)"/>
<linearGradient id="gThailand23" x1="0" y1="0" x2="0" y2="1"><stop offset="6.25%" stop-color="#F3BE66"/><stop offset="18.75%" stop-color="#F7BE6C"/><stop offset="31.25%" stop-color="#FDBF76"/><stop offset="43.75%" stop-color="#FDBF76"/><stop offset="56.25%" stop-color="#F7BE6C"/><stop offset="68.75%" stop-color="#F3BE66"/><stop offset="81.25%" stop-color="#F3BE66"/><stop offset="93.75%" stop-color="#F3BE66"/></linearGradient>
<rect x="301.5" y="228" width="5.02" height="70.71" fill="url(#gThailand23)"/>
<linearGradient id="gThailand24" x1="0" y1="0" x2="0" y2="1"><stop offset="6.25%" stop-color="#E3BB51"/><stop offset="18.75%" stop-color="#E3BB51"/><stop offset="31.25%" stop-color="#E3BB51"/><stop offset="43.75%" stop-color="#DBBB46"/><stop offset="56.25%" stop-color="#C9B931"/><stop offset="68.75%" stop-color="#BBB721"/><stop offset="81.25%" stop-color="#B1B617"/><stop offset="93.75%" stop-color="#ACB513"/></linearGradient>
<rect x="306.47" y="228" width="5.02" height="70.71" fill="url(#gThailand24)"/>
<linearGradient id="gThailand25" x1="0" y1="0" x2="0" y2="1"><stop offset="6.25%" stop-color="#D2BA3C"/><stop offset="18.75%" stop-color="#D6BA41"/><stop offset="31.25%" stop-color="#DFBB4B"/><stop offset="43.75%" stop-color="#DFBB4B"/><stop offset="56.25%" stop-color="#D6BA41"/><stop offset="68.75%" stop-color="#D2BA3C"/><stop offset="81.25%" stop-color="#D2BA3C"/><stop offset="93.75%" stop-color="#D2BA3C"/></linearGradient>
<rect x="311.43" y="228" width="7.97" height="70.71" fill="url(#gThailand25)"/>
<path d="M187.8 228.0L187.6 241.8L187.9 252.6L187.7 263.4L187.8 274.1L188.0 284.9L188.1 298.7L189.0 298.7L189.1 284.9L188.6 274.1L188.6 263.4L188.6 252.6L188.5 241.8L188.4 228.0Z" fill="#99B208" fill-opacity="0.92"/>
<path d="M188.7 228.0L189.0 241.8L189.1 252.6L189.1 263.4L189.1 274.1L188.6 284.9L188.6 298.7L189.7 298.7L190.2 284.9L190.4 274.1L190.0 263.4L189.9 252.6L189.9 241.8L190.0 228.0Z" fill="#FFC391" fill-opacity="0.92"/>
<path d="M190.7 228.0L190.5 239.8L190.5 248.7L190.4 257.5L190.6 266.3L191.0 275.2L191.3 284.0L191.4 284.0L191.4 275.2L191.4 266.3L191.4 257.5L191.8 248.7L191.3 239.8L191.7 228.0Z" fill="#FFC6A3" fill-opacity="0.92"/>
<path d="M192.0 228.0L191.8 241.8L191.5 252.6L191.3 263.4L191.6 274.1L191.4 284.9L191.9 298.7L192.4 298.7L192.3 284.9L192.4 274.1L192.1 263.4L192.1 252.6L192.3 241.8L192.4 228.0Z" fill="#B3B619" fill-opacity="0.92"/>
<path d="M194.2 261.7L194.1 267.4L193.5 273.0L193.4 278.7L193.8 284.4L193.8 290.0L193.6 298.7L195.2 298.7L194.9 290.0L194.9 284.4L194.7 278.7L194.9 273.0L194.6 267.4L194.3 261.7Z" fill="#96B207" fill-opacity="0.92"/>
<path d="M195.0 228.0L194.5 238.4L194.7 245.9L195.0 253.3L194.7 260.7L195.5 268.2L196.1 275.6L196.2 275.6L196.2 268.2L196.3 260.7L196.3 253.3L196.4 245.9L196.6 238.4L196.7 228.0Z" fill="#ABB512" fill-opacity="0.92"/>
<path d="M197.0 228.0L196.8 241.8L197.6 252.6L197.0 263.4L197.6 274.1L197.6 284.9L197.7 298.7L199.7 298.7L199.8 284.9L199.8 274.1L200.2 263.4L199.0 252.6L199.7 241.8L199.0 228.0Z" fill="#FFC59C" fill-opacity="0.92"/>
<path d="M199.8 228.0L199.9 235.9L199.7 240.8L199.5 245.7L200.4 250.5L200.3 255.4L200.6 260.3L200.7 260.3L201.2 255.4L201.5 250.5L201.9 245.7L201.9 240.8L201.4 235.9L201.5 228.0Z" fill="#FFC184" fill-opacity="0.92"/>
<path d="M202.3 228.0L201.8 241.8L202.0 252.6L202.0 263.4L201.7 274.1L202.0 284.9L202.1 298.7L203.0 298.7L203.4 284.9L203.0 274.1L202.8 263.4L202.9 252.6L203.1 241.8L203.4 228.0Z" fill="#F8BE6D" fill-opacity="0.92"/>
<path d="M204.1 270.3L203.9 274.5L203.4 278.8L203.0 283.0L202.8 287.2L203.3 291.5L203.5 298.7L204.7 298.7L204.4 291.5L204.4 287.2L204.1 283.0L204.4 278.8L204.6 274.5L204.1 270.3Z" fill="#FFC496" fill-opacity="0.92"/>
<path d="M205.1 228.0L205.0 241.8L205.0 252.6L205.1 263.4L205.7 274.1L205.3 284.9L205.6 298.7L207.7 298.7L207.6 284.9L207.0 274.1L206.8 263.4L206.7 252.6L206.2 241.8L206.2 228.0Z" fill="#FFC185" fill-opacity="0.92"/>
<path d="M207.2 228.0L206.9 241.8L206.6 252.6L207.0 263.4L207.0 274.1L207.3 284.9L206.7 298.7L209.6 298.7L209.2 284.9L209.1 274.1L208.9 263.4L209.5 252.6L209.4 241.8L209.5 228.0Z" fill="#F3BE65" fill-opacity="0.92"/>
<path d="M209.6 228.0L208.9 241.8L209.5 252.6L209.2 263.4L208.5 274.1L208.4 284.9L208.6 298.7L210.4 298.7L211.2 284.9L211.5 274.1L210.9 263.4L211.2 252.6L211.0 241.8L211.1 228.0Z" fill="#FDC07A" fill-opacity="0.92"/>
<path d="M213.1 242.5L212.4 251.4L211.9 260.3L211.7 269.1L211.6 278.0L211.2 286.8L211.4 298.7L212.5 298.7L212.8 286.8L212.8 278.0L213.3 269.1L213.3 260.3L213.2 251.4L213.1 242.5Z" fill="#A2B40A" fill-opacity="0.92"/>
<path d="M214.5 228.0L214.6 235.4L214.5 239.7L214.6 244.1L214.8 248.4L214.8 252.8L215.4 257.1L215.4 257.1L215.4 252.8L215.7 248.4L216.1 244.1L216.1 239.7L215.6 235.4L215.7 228.0Z" fill="#FFC8B5" fill-opacity="0.92"/>
<path d="M217.1 268.4L216.8 273.0L216.6 277.5L216.4 282.1L216.3 286.6L215.8 291.2L216.0 298.7L217.5 298.7L217.8 291.2L217.3 286.6L217.8 282.1L217.8 277.5L217.3 273.0L217.2 268.4Z" fill="#FFC6A5" fill-opacity="0.92"/>
<path d="M217.8 228.0L218.0 241.8L218.1 252.6L218.1 263.4L218.3 274.1L218.1 284.9L218.3 298.7L219.8 298.7L219.4 284.9L219.3 274.1L219.4 263.4L219.6 252.6L219.4 241.8L219.6 228.0Z" fill="#FFC495" fill-opacity="0.92"/>
<path d="M219.7 228.0L219.8 237.5L219.7 244.1L219.6 250.7L219.8 257.2L219.9 263.8L220.0 270.3L220.0 270.3L220.2 263.8L220.4 257.2L220.7 250.7L220.5 244.1L220.9 237.5L220.9 228.0Z" fill="#A2B40A" fill-opacity="0.92"/>
<path d="M221.4 270.7L221.4 274.9L221.4 279.0L220.9 283.2L221.4 287.4L221.2 291.5L220.7 298.7L221.8 298.7L221.9 291.5L222.4 287.4L222.4 283.2L222.2 279.0L221.8 274.9L221.5 270.7Z" fill="#FFC5A2" fill-opacity="0.92"/>
<path d="M222.1 228.0L222.2 241.8L222.4 252.6L222.4 263.4L222.6 274.1L222.7 284.9L223.0 298.7L224.2 298.7L224.2 284.9L223.7 274.1L223.9 263.4L223.7 252.6L223.9 241.8L223.8 228.0Z" fill="#FFC499" fill-opacity="0.92"/>
<path d="M223.7 228.0L224.1 234.8L224.2 238.6L224.5 242.4L224.6 246.3L224.4 250.1L224.9 253.9L225.0 253.9L225.1 250.1L225.3 246.3L225.6 242.4L225.8 238.6L225.7 234.8L225.5 228.0Z" fill="#FFC7AC" fill-opacity="0.92"/>
<path d="M225.8 262.3L225.4 267.8L225.1 273.4L224.8 279.0L225.1 284.6L225.4 290.1L225.5 298.7L226.5 298.7L226.0 290.1L226.0 284.6L225.8 279.0L225.7 273.4L225.8 267.8L225.8 262.3Z" fill="#C4B82B" fill-opacity="0.92"/>
<path d="M226.9 228.0L226.6 241.8L226.7 252.6L227.3 263.4L226.7 274.1L226.8 284.9L226.4 298.7L228.1 298.7L228.2 284.9L228.4 274.1L228.2 263.4L228.4 252.6L228.2 241.8L227.9 228.0Z" fill="#FFC497" fill-opacity="0.92"/>
<path d="M228.6 228.0L228.9 241.8L229.2 252.6L229.6 263.4L229.0 274.1L228.8 284.9L228.8 298.7L230.8 298.7L231.0 284.9L231.1 274.1L230.9 263.4L230.7 252.6L231.0 241.8L231.0 228.0Z" fill="#FFC7AB" fill-opacity="0.92"/>
<path d="M231.3 228.0L231.8 241.8L231.9 252.6L232.1 263.4L231.8 274.1L232.2 284.9L231.8 298.7L232.5 298.7L232.7 284.9L232.7 274.1L232.6 263.4L232.6 252.6L232.4 241.8L232.2 228.0Z" fill="#B7B61D" fill-opacity="0.92"/>
<path d="M232.6 228.0L232.7 235.5L232.6 239.9L232.8 244.4L232.5 248.9L232.5 253.3L232.9 257.8L232.9 257.8L233.1 253.3L233.8 248.9L234.1 244.4L233.8 239.9L234.3 235.5L234.0 228.0Z" fill="#BAB721" fill-opacity="0.92"/>
<path d="M235.0 228.0L235.0 234.9L234.7 238.7L234.8 242.6L234.6 246.4L234.8 250.3L235.5 254.2L235.6 254.2L235.6 250.3L235.3 246.4L235.6 242.6L236.1 238.7L236.4 234.9L236.6 228.0Z" fill="#FFD1D8" fill-opacity="0.92"/>
<path d="M236.8 228.0L237.1 238.6L237.2 246.2L237.1 253.8L237.7 261.4L238.0 269.0L237.9 276.7L238.0 276.7L238.5 269.0L238.7 261.4L238.8 253.8L238.4 246.2L238.4 238.6L238.3 228.0Z" fill="#E1BB4D" fill-opacity="0.92"/>
<path d="M239.1 228.0L239.2 241.8L239.1 252.6L238.8 263.4L238.7 274.1L238.4 284.9L238.7 298.7L239.9 298.7L239.9 284.9L240.0 274.1L240.3 263.4L240.6 252.6L240.7 241.8L240.5 228.0Z" fill="#FFC6A3" fill-opacity="0.92"/>
<path d="M241.0 228.0L241.0 241.8L240.7 252.6L240.8 263.4L240.9 274.1L241.2 284.9L241.0 298.7L242.3 298.7L242.0 284.9L242.1 274.1L242.3 263.4L242.1 252.6L241.8 241.8L241.7 228.0Z" fill="#C3B82A" fill-opacity="0.92"/>
<path d="M242.6 228.0L241.9 241.8L241.7 252.6L241.9 263.4L241.9 274.1L241.5 284.9L241.3 298.7L243.2 298.7L243.4 284.9L243.1 274.1L243.5 263.4L243.6 252.6L243.8 241.8L243.7 228.0Z" fill="#FFC494" fill-opacity="0.92"/>
<path d="M244.8 228.0L244.6 241.8L244.4 252.6L244.0 263.4L243.6 274.1L243.6 284.9L243.7 298.7L244.5 298.7L244.3 284.9L244.5 274.1L244.7 263.4L245.0 252.6L245.4 241.8L245.3 228.0Z" fill="#B4B61A" fill-opacity="0.92"/>
<path d="M245.6 228.0L245.0 241.8L245.5 252.6L245.3 263.4L245.3 274.1L245.5 284.9L245.7 298.7L247.2 298.7L247.1 284.9L246.9 274.1L247.0 263.4L246.8 252.6L246.7 241.8L246.8 228.0Z" fill="#FFC9B7" fill-opacity="0.92"/>
<path d="M248.4 242.0L248.1 251.0L248.2 259.9L247.8 268.9L247.9 277.8L247.6 286.8L248.2 298.7L249.4 298.7L249.8 286.8L249.1 277.8L249.7 268.9L249.4 259.9L248.8 251.0L248.5 242.0Z" fill="#A9B510" fill-opacity="0.92"/>
<path d="M249.6 228.0L249.8 234.2L249.8 237.5L250.0 240.7L249.9 244.0L250.4 247.2L250.3 250.4L250.4 250.4L250.8 247.2L250.6 244.0L251.1 240.7L250.8 237.5L251.3 234.2L251.0 228.0Z" fill="#FFCABA" fill-opacity="0.92"/>
<path d="M251.6 228.0L251.5 241.8L251.5 252.6L251.8 263.4L251.9 274.1L251.7 284.9L251.9 298.7L252.9 298.7L252.9 284.9L253.1 274.1L252.7 263.4L252.9 252.6L252.7 241.8L252.8 228.0Z" fill="#C3B82A" fill-opacity="0.92"/>
<path d="M252.9 228.0L253.3 241.8L253.0 252.6L253.4 263.4L252.8 274.1L252.6 284.9L252.5 298.7L254.3 298.7L254.6 284.9L254.6 274.1L254.6 263.4L254.7 252.6L255.0 241.8L254.9 228.0Z" fill="#FFC9B5" fill-opacity="0.92"/>
<path d="M254.9 228.0L255.0 241.8L255.2 252.6L255.0 263.4L255.5 274.1L255.2 284.9L255.8 298.7L256.9 298.7L257.5 284.9L256.7 274.1L256.7 263.4L256.7 252.6L257.0 241.8L256.9 228.0Z" fill="#FFC496" fill-opacity="0.92"/>
<path d="M257.2 228.0L257.0 241.8L257.1 252.6L257.2 263.4L257.0 274.1L256.9 284.9L257.4 298.7L258.1 298.7L258.0 284.9L258.2 274.1L257.9 263.4L258.0 252.6L258.1 241.8L258.2 228.0Z" fill="#96B207" fill-opacity="0.92"/>
<path d="M259.1 228.0L258.9 241.8L259.2 252.6L259.5 263.4L259.3 274.1L260.0 284.9L260.2 298.7L261.2 298.7L261.1 284.9L261.1 274.1L260.7 263.4L260.7 252.6L260.5 241.8L259.9 228.0Z" fill="#60AB24" fill-opacity="0.92"/>
<path d="M260.3 228.0L260.3 241.8L260.5 252.6L260.6 263.4L260.5 274.1L260.5 284.9L260.6 298.7L261.9 298.7L262.0 284.9L262.3 274.1L262.6 263.4L262.1 252.6L261.6 241.8L261.5 228.0Z" fill="#F6BE6A" fill-opacity="0.92"/>
<path d="M262.2 228.0L262.4 241.8L262.5 252.6L262.2 263.4L262.6 274.1L262.3 284.9L262.6 298.7L263.5 298.7L263.7 284.9L263.6 274.1L263.3 263.4L263.5 252.6L263.1 241.8L263.2 228.0Z" fill="#80AF11" fill-opacity="0.92"/>
<path d="M263.7 228.0L263.3 239.4L263.3 247.8L263.8 256.1L263.9 264.5L264.1 272.9L264.6 281.3L264.6 281.3L264.4 272.9L264.5 264.5L264.3 256.1L264.5 247.8L264.4 239.4L264.3 228.0Z" fill="#FFC38E" fill-opacity="0.92"/>
<path d="M265.0 228.0L265.1 241.8L265.3 252.6L265.5 263.4L265.5 274.1L265.7 284.9L265.6 298.7L266.2 298.7L266.5 284.9L266.1 274.1L266.3 263.4L265.9 252.6L266.0 241.8L265.4 228.0Z" fill="#87B00D" fill-opacity="0.92"/>
<path d="M266.2 228.0L266.1 238.1L266.2 245.2L266.1 252.3L265.8 259.4L265.7 266.5L266.0 273.6L266.0 273.6L265.9 266.5L266.2 259.4L266.5 252.3L266.7 245.2L266.7 238.1L266.8 228.0Z" fill="#7AAE14" fill-opacity="0.92"/>
<path d="M267.0 228.0L266.9 237.9L267.2 244.8L267.2 251.7L267.7 258.5L267.9 265.4L267.9 272.3L267.9 272.3L268.1 265.4L268.0 258.5L268.0 251.7L267.9 244.8L267.8 237.9L267.5 228.0Z" fill="#78AE16" fill-opacity="0.92"/>
<path d="M268.1 228.0L268.1 241.8L268.4 252.6L268.4 263.4L268.4 274.1L268.5 284.9L268.6 298.7L269.4 298.7L269.1 284.9L269.1 274.1L269.1 263.4L269.1 252.6L268.7 241.8L268.8 228.0Z" fill="#70AD1B" fill-opacity="0.92"/>
<path d="M269.3 228.0L269.1 241.8L269.1 252.6L269.0 263.4L268.8 274.1L268.7 284.9L268.9 298.7L269.8 298.7L269.9 284.9L269.7 274.1L269.8 263.4L270.2 252.6L270.3 241.8L270.2 228.0Z" fill="#EABC5A" fill-opacity="0.92"/>
<path d="M271.1 260.7L270.7 266.5L270.8 272.3L270.5 278.2L270.7 284.0L270.9 289.9L270.6 298.7L272.2 298.7L272.3 289.9L271.9 284.0L272.2 278.2L271.6 272.3L271.3 266.5L271.2 260.7Z" fill="#71AD1A" fill-opacity="0.92"/>
<path d="M273.1 258.3L272.8 264.5L272.5 270.7L272.9 277.0L272.6 283.2L272.9 289.5L272.7 298.7L274.2 298.7L274.2 289.5L274.2 283.2L273.8 277.0L273.8 270.7L273.2 264.5L273.1 258.3Z" fill="#97B207" fill-opacity="0.92"/>
<path d="M273.2 228.0L273.9 241.8L273.7 252.6L273.8 263.4L274.1 274.1L274.1 284.9L273.8 298.7L275.7 298.7L275.6 284.9L275.5 274.1L275.9 263.4L275.4 252.6L275.3 241.8L275.3 228.0Z" fill="#FFC493" fill-opacity="0.92"/>
<path d="M275.7 228.0L275.4 241.8L275.9 252.6L275.4 263.4L275.4 274.1L275.1 284.9L275.3 298.7L276.4 298.7L275.9 284.9L276.2 274.1L276.5 263.4L276.6 252.6L276.8 241.8L276.5 228.0Z" fill="#FFC38E" fill-opacity="0.92"/>
<path d="M276.9 228.0L277.2 241.8L277.1 252.6L277.6 263.4L277.4 274.1L277.2 284.9L277.2 298.7L279.2 298.7L278.8 284.9L278.8 274.1L279.0 263.4L278.9 252.6L278.7 241.8L278.6 228.0Z" fill="#A0B409" fill-opacity="0.92"/>
<path d="M280.0 260.4L279.6 266.3L279.3 272.2L279.1 278.0L279.0 283.9L278.8 289.8L278.9 298.7L279.8 298.7L279.9 289.8L279.9 283.9L280.2 278.0L279.9 272.2L280.0 266.3L280.0 260.4Z" fill="#75AE17" fill-opacity="0.92"/>
<path d="M281.0 228.0L281.1 241.8L281.0 252.6L281.4 263.4L281.5 274.1L281.1 284.9L280.8 298.7L281.6 298.7L282.0 284.9L282.1 274.1L282.0 263.4L282.1 252.6L282.0 241.8L281.6 228.0Z" fill="#AAB510" fill-opacity="0.92"/>
<path d="M282.2 228.0L282.8 235.6L282.5 240.2L282.2 244.8L282.8 249.4L283.7 254.0L283.7 258.6L283.8 258.6L284.1 254.0L284.4 249.4L284.2 244.8L283.7 240.2L284.0 235.6L283.9 228.0Z" fill="#93B106" fill-opacity="0.92"/>
<path d="M284.7 228.0L284.4 241.8L284.2 252.6L284.2 263.4L284.8 274.1L284.3 284.9L284.5 298.7L285.9 298.7L286.0 284.9L285.8 274.1L285.9 263.4L286.1 252.6L286.3 241.8L286.2 228.0Z" fill="#FFC59D" fill-opacity="0.92"/>
<path d="M286.4 228.0L286.1 241.8L285.8 252.6L285.9 263.4L285.9 274.1L286.0 284.9L285.7 298.7L287.3 298.7L287.6 284.9L288.0 274.1L287.4 263.4L287.4 252.6L287.3 241.8L287.6 228.0Z" fill="#9AB208" fill-opacity="0.92"/>
<path d="M289.4 253.1L289.1 260.2L288.9 267.3L288.9 274.4L288.9 281.5L289.1 288.6L289.2 298.7L290.1 298.7L290.4 288.6L290.3 281.5L290.4 274.4L290.4 267.3L289.9 260.2L289.5 253.1Z" fill="#FEC180" fill-opacity="0.92"/>
<path d="M291.6 260.8L291.3 266.6L291.4 272.4L291.5 278.2L291.4 284.1L291.1 289.9L291.6 298.7L292.6 298.7L293.1 289.9L293.0 284.1L293.3 278.2L292.7 272.4L292.1 266.6L291.7 260.8Z" fill="#99B208" fill-opacity="0.92"/>
<path d="M293.0 228.0L292.6 241.8L292.7 252.6L293.1 263.4L292.4 274.1L293.2 284.9L293.4 298.7L295.2 298.7L294.9 284.9L295.1 274.1L294.9 263.4L294.8 252.6L294.7 241.8L294.3 228.0Z" fill="#FFC183" fill-opacity="0.92"/>
<path d="M295.7 260.9L295.1 266.7L294.8 272.5L295.0 278.3L294.9 284.1L294.9 289.9L294.8 298.7L296.0 298.7L296.3 289.9L295.8 284.1L296.0 278.3L296.0 272.5L295.9 266.7L295.7 260.9Z" fill="#8FB108" fill-opacity="0.92"/>
<path d="M297.5 228.0L297.3 241.8L297.3 252.6L297.3 263.4L297.0 274.1L296.9 284.9L297.0 298.7L297.6 298.7L297.6 284.9L297.9 274.1L298.2 263.4L298.2 252.6L298.4 241.8L298.1 228.0Z" fill="#FFC288" fill-opacity="0.92"/>
<path d="M298.7 228.0L298.5 241.8L298.6 252.6L298.4 263.4L298.7 274.1L298.1 284.9L298.6 298.7L300.1 298.7L300.5 284.9L300.0 274.1L300.5 263.4L300.2 252.6L300.2 241.8L300.0 228.0Z" fill="#FEC180" fill-opacity="0.92"/>
<path d="M300.1 228.0L300.4 241.8L300.7 252.6L300.3 263.4L300.4 274.1L300.3 284.9L300.6 298.7L301.5 298.7L301.5 284.9L301.5 274.1L302.0 263.4L301.6 252.6L301.6 241.8L301.7 228.0Z" fill="#FFC6A8" fill-opacity="0.92"/>
<path d="M303.1 261.3L303.0 267.1L303.0 272.8L302.9 278.5L302.9 284.3L302.7 290.0L303.0 298.7L304.3 298.7L304.0 290.0L303.9 284.3L304.3 278.5L303.8 272.8L303.6 267.1L303.1 261.3Z" fill="#FFC6AA" fill-opacity="0.92"/>
<path d="M303.9 250.5L303.7 258.1L303.3 265.6L303.5 273.1L303.5 280.7L303.6 288.2L303.9 298.7L304.8 298.7L304.6 288.2L304.8 280.7L304.7 273.1L304.4 265.6L304.3 258.1L304.0 250.5Z" fill="#FFC9B7" fill-opacity="0.92"/>
<path d="M304.4 228.0L305.0 236.9L305.1 242.9L305.3 248.8L305.6 254.8L305.5 260.7L305.4 266.6L305.5 266.6L306.1 260.7L306.7 254.8L306.8 248.8L306.3 242.9L306.1 236.9L306.1 228.0Z" fill="#FFC8B1" fill-opacity="0.92"/>
<path d="M306.6 228.0L306.7 241.8L306.3 252.6L306.8 263.4L306.6 274.1L306.4 284.9L306.1 298.7L307.9 298.7L308.1 284.9L308.3 274.1L308.2 263.4L308.5 252.6L308.3 241.8L307.9 228.0Z" fill="#FFC6A4" fill-opacity="0.92"/>
<path d="M308.2 228.0L307.9 241.8L308.1 252.6L307.8 263.4L308.2 274.1L308.1 284.9L308.6 298.7L309.1 298.7L308.9 284.9L309.1 274.1L308.8 263.4L308.6 252.6L308.9 241.8L309.0 228.0Z" fill="#71AD1B" fill-opacity="0.92"/>
<path d="M309.5 247.3L309.4 255.3L309.1 263.4L309.0 271.5L309.0 279.6L308.9 287.6L308.9 298.7L309.6 298.7L309.5 287.6L309.7 279.6L309.6 271.5L309.6 263.4L309.8 255.3L309.5 247.3Z" fill="#56AA29" fill-opacity="0.92"/>
<path d="M310.6 228.0L310.1 241.8L310.4 252.6L310.3 263.4L310.5 274.1L310.3 284.9L310.0 298.7L311.7 298.7L311.8 284.9L311.4 274.1L311.2 263.4L311.2 252.6L311.8 241.8L311.5 228.0Z" fill="#FCBF71" fill-opacity="0.92"/>
<path d="M312.3 228.0L312.6 241.8L312.3 252.6L312.0 263.4L312.1 274.1L312.3 284.9L312.5 298.7L313.0 298.7L313.0 284.9L312.6 274.1L312.7 263.4L312.7 252.6L313.0 241.8L313.0 228.0Z" fill="#A4B40B" fill-opacity="0.92"/>
<path d="M314.8 260.7L314.5 266.5L314.1 272.3L313.8 278.2L313.8 284.0L314.3 289.9L313.9 298.7L316.3 298.7L315.7 289.9L316.3 284.0L315.7 278.2L315.5 272.3L315.1 266.5L314.9 260.7Z" fill="#97B207" fill-opacity="0.92"/>
<path d="M316.0 228.0L315.8 238.0L315.6 245.0L315.4 252.0L315.2 259.0L315.1 266.0L315.0 273.0L315.0 273.0L315.5 266.0L316.1 259.0L316.4 252.0L316.6 245.0L316.9 238.0L316.9 228.0Z" fill="#9EB309" fill-opacity="0.92"/>
</g></g>
<path d="M187.3 227.4H316.4M187.3 299.3H316.4" fill="none" stroke="#cdcdcd" stroke-width="0.9"/>
<path d="M316.4 227.4V299.3" fill="none" stroke="#a8a8a8" stroke-width="0.8"/>
<path d="M187.3 227.4V299.3" fill="none" stroke="#9a9a9a" stroke-width="0.8"/>
<path d="M186.3 299.3H187.3" stroke="#888" stroke-width="0.4"/>
<text x="184.8" y="300.2" class="t" text-anchor="end">0.0</text>
<path d="M186.3 284.92H187.3" stroke="#888" stroke-width="0.4"/>
<text x="184.8" y="285.82" class="t" text-anchor="end">0.2</text>
<path d="M186.3 270.54H187.3" stroke="#888" stroke-width="0.4"/>
<text x="184.8" y="271.44" class="t" text-anchor="end">0.4</text>
<path d="M186.3 256.16H187.3" stroke="#888" stroke-width="0.4"/>
<text x="184.8" y="257.06" class="t" text-anchor="end">0.6</text>
<path d="M186.3 241.78H187.3" stroke="#888" stroke-width="0.4"/>
<text x="184.8" y="242.68" class="t" text-anchor="end">0.8</text>
<path d="M186.3 227.4H187.3" stroke="#888" stroke-width="0.4"/>
<text x="184.8" y="228.3" class="t" text-anchor="end">1.0</text>
<path d="M199.3 299.3V300.5" stroke="#888" stroke-width="0.4"/>
<text x="199.6" y="304.8" class="t" text-anchor="middle">2019</text>
<path d="M228.8 299.3V300.5" stroke="#888" stroke-width="0.4"/>
<text x="229.1" y="304.8" class="t" text-anchor="middle">2020</text>
<path d="M258.3 299.3V300.5" stroke="#888" stroke-width="0.4"/>
<text x="258.6" y="304.8" class="t" text-anchor="middle">2021</text>
<path d="M287.8 299.3V300.5" stroke="#888" stroke-width="0.4"/>
<text x="288.1" y="304.8" class="t" text-anchor="middle">2022</text>
<text x="251.85" y="310.4" class="l" text-anchor="middle">Date</text>
<text transform="translate(178.75,263.35) rotate(-90)" class="l" text-anchor="middle">Quantiles</text>
<text x="251.85" y="224.1" class="m" text-anchor="middle">Thailand</text>
<rect x="322.1" y="295.52" width="5.8" height="3.78" fill="#26A63A" stroke="#555" stroke-width="0.35"/>
<rect x="322.1" y="291.73" width="5.8" height="3.78" fill="#4EA92D" stroke="#555" stroke-width="0.35"/>
<rect x="322.1" y="287.95" width="5.8" height="3.78" fill="#68AC20" stroke="#555" stroke-width="0.35"/>
<rect x="322.1" y="284.16" width="5.8" height="3.78" fill="#7EAF12" stroke="#555" stroke-width="0.35"/>
<rect x="322.1" y="280.38" width="5.8" height="3.78" fill="#92B106" stroke="#555" stroke-width="0.35"/>
<rect x="322.1" y="276.59" width="5.8" height="3.78" fill="#A3B40A" stroke="#555" stroke-width="0.35"/>
<rect x="322.1" y="272.81" width="5.8" height="3.78" fill="#B4B61A" stroke="#555" stroke-width="0.35"/>
<rect x="322.1" y="269.03" width="5.8" height="3.78" fill="#C4B82B" stroke="#555" stroke-width="0.35"/>
<rect x="322.1" y="265.24" width="5.8" height="3.78" fill="#D3BA3D" stroke="#555" stroke-width="0.35"/>
<rect x="322.1" y="261.46" width="5.8" height="3.78" fill="#E1BB4E" stroke="#555" stroke-width="0.35"/>
<rect x="322.1" y="257.67" width="5.8" height="3.78" fill="#EFBD60" stroke="#555" stroke-width="0.35"/>
<rect x="322.1" y="253.89" width="5.8" height="3.78" fill="#FCBF72" stroke="#555" stroke-width="0.35"/>
<rect x="322.1" y="250.11" width="5.8" height="3.78" fill="#FFC183" stroke="#555" stroke-width="0.35"/>
<rect x="322.1" y="246.32" width="5.8" height="3.78" fill="#FFC495" stroke="#555" stroke-width="0.35"/>
<rect x="322.1" y="242.54" width="5.8" height="3.78" fill="#FFC6A7" stroke="#555" stroke-width="0.35"/>
<rect x="322.1" y="238.75" width="5.8" height="3.78" fill="#FFC9B8" stroke="#555" stroke-width="0.35"/>
<rect x="322.1" y="234.97" width="5.8" height="3.78" fill="#FFCDC9" stroke="#555" stroke-width="0.35"/>
<rect x="322.1" y="231.18" width="5.8" height="3.78" fill="#FFD2DA" stroke="#555" stroke-width="0.35"/>
<rect x="322.1" y="227.4" width="5.8" height="3.78" fill="#F1F1F1" stroke="#555" stroke-width="0.35"/>
<path d="M327.9 229.1H329" stroke="#888" stroke-width="0.4"/>
<text x="330.5" y="230.1" class="k">40</text>
<path d="M327.9 246.2H329" stroke="#888" stroke-width="0.4"/>
<text x="330.5" y="247.2" class="k">20</text>
<path d="M327.9 263H329" stroke="#888" stroke-width="0.4"/>
<text x="330.5" y="264" class="k">0</text>
<path d="M327.9 280.6H329" stroke="#888" stroke-width="0.4"/>
<text x="330.5" y="281.6" class="k">-20</text>
<path d="M327.9 297.6H329" stroke="#888" stroke-width="0.4"/>
<text x="330.5" y="298.6" class="k">-40</text>
</svg></body></html>
